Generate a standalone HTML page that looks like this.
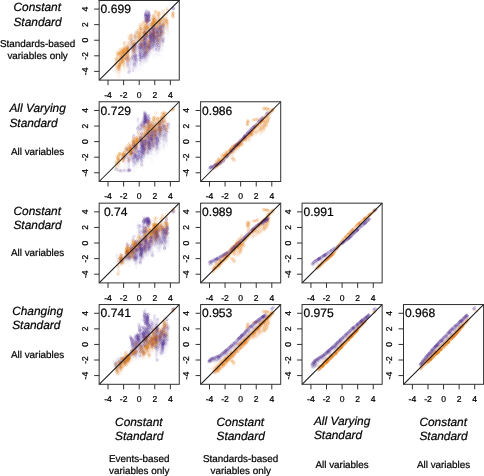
<!DOCTYPE html>
<html><head><meta charset="utf-8"><title>Scatter matrix</title>
<style>
html,body{margin:0;padding:0;background:#fff;}
body{width:484px;height:476px;overflow:hidden;}
svg{display:block;will-change:transform;}
text{font-family:"Liberation Sans",sans-serif;fill:#000;stroke:#000;stroke-width:0.22px;text-rendering:geometricPrecision;}
.t{font-size:8.6px;}
.c{font-size:12.1px;fill:#000;}
.i{font-size:11.9px;font-style:italic;}
.s{font-size:9.9px;}
</style></head><body>
<svg width="484" height="476" viewBox="0 0 484 476">
<rect width="484" height="476" fill="#fff"/>
<defs><marker id="o0" markerWidth="4" markerHeight="4" refX="2" refY="2" markerUnits="userSpaceOnUse"><circle cx="2" cy="2" r="1.08" fill="none" stroke="#E5841A" stroke-opacity="0.06" stroke-width="0.68"/></marker><marker id="o1" markerWidth="4" markerHeight="4" refX="2" refY="2" markerUnits="userSpaceOnUse"><circle cx="2" cy="2" r="1.08" fill="none" stroke="#E5841A" stroke-opacity="0.13" stroke-width="0.68"/></marker><marker id="o2" markerWidth="4" markerHeight="4" refX="2" refY="2" markerUnits="userSpaceOnUse"><circle cx="2" cy="2" r="1.08" fill="none" stroke="#E5841A" stroke-opacity="0.25" stroke-width="0.68"/></marker><marker id="o3" markerWidth="4" markerHeight="4" refX="2" refY="2" markerUnits="userSpaceOnUse"><circle cx="2" cy="2" r="1.08" fill="none" stroke="#E5841A" stroke-opacity="0.04" stroke-width="0.68"/></marker><marker id="o4" markerWidth="4" markerHeight="4" refX="2" refY="2" markerUnits="userSpaceOnUse"><circle cx="2" cy="2" r="1.08" fill="none" stroke="#E5841A" stroke-opacity="0.40" stroke-width="0.68"/></marker><marker id="o5" markerWidth="4" markerHeight="4" refX="2" refY="2" markerUnits="userSpaceOnUse"><circle cx="2" cy="2" r="1.08" fill="none" stroke="#E5841A" stroke-opacity="0.06" stroke-width="0.68"/></marker><marker id="o6" markerWidth="4" markerHeight="4" refX="2" refY="2" markerUnits="userSpaceOnUse"><circle cx="2" cy="2" r="1.08" fill="none" stroke="#E5841A" stroke-opacity="0.09" stroke-width="0.68"/></marker><marker id="o7" markerWidth="4" markerHeight="4" refX="2" refY="2" markerUnits="userSpaceOnUse"><circle cx="2" cy="2" r="1.08" fill="none" stroke="#E5841A" stroke-opacity="0.15" stroke-width="0.68"/></marker><marker id="p0" markerWidth="4" markerHeight="4" refX="2" refY="2" markerUnits="userSpaceOnUse"><circle cx="2" cy="2" r="1.08" fill="none" stroke="#6443A3" stroke-opacity="0.06" stroke-width="0.68"/></marker><marker id="p1" markerWidth="4" markerHeight="4" refX="2" refY="2" markerUnits="userSpaceOnUse"><circle cx="2" cy="2" r="1.08" fill="none" stroke="#6443A3" stroke-opacity="0.13" stroke-width="0.68"/></marker><marker id="p2" markerWidth="4" markerHeight="4" refX="2" refY="2" markerUnits="userSpaceOnUse"><circle cx="2" cy="2" r="1.08" fill="none" stroke="#6443A3" stroke-opacity="0.25" stroke-width="0.68"/></marker><marker id="p3" markerWidth="4" markerHeight="4" refX="2" refY="2" markerUnits="userSpaceOnUse"><circle cx="2" cy="2" r="1.08" fill="none" stroke="#6443A3" stroke-opacity="0.04" stroke-width="0.68"/></marker><marker id="p4" markerWidth="4" markerHeight="4" refX="2" refY="2" markerUnits="userSpaceOnUse"><circle cx="2" cy="2" r="1.08" fill="none" stroke="#6443A3" stroke-opacity="0.40" stroke-width="0.68"/></marker><marker id="p5" markerWidth="4" markerHeight="4" refX="2" refY="2" markerUnits="userSpaceOnUse"><circle cx="2" cy="2" r="1.08" fill="none" stroke="#6443A3" stroke-opacity="0.06" stroke-width="0.68"/></marker><marker id="p6" markerWidth="4" markerHeight="4" refX="2" refY="2" markerUnits="userSpaceOnUse"><circle cx="2" cy="2" r="1.08" fill="none" stroke="#6443A3" stroke-opacity="0.09" stroke-width="0.68"/></marker><marker id="p7" markerWidth="4" markerHeight="4" refX="2" refY="2" markerUnits="userSpaceOnUse"><circle cx="2" cy="2" r="1.08" fill="none" stroke="#6443A3" stroke-opacity="0.15" stroke-width="0.68"/></marker></defs>
<polyline points="154.9,23.5 160.4,28.8 143.9,47.1 126.4,56.7 161.9,36.9 163.8,23.6 155.3,26.7 152.4,29.2 120.6,64.4 134.6,49.7 126.1,61.3 123.5,59.0 164.8,29.3 133.5,49.1 146.3,57.7 145.8,35.5 117.7,66.5 134.1,54.1 119.9,73.3 166.3,20.4 123.5,60.0 137.1,39.6 126.3,60.5 120.1,59.3 148.7,20.2 149.7,50.4 158.1,26.4 120.6,56.9 163.3,16.3 125.9,55.9 153.0,37.0 126.5,59.6 148.1,38.1 123.8,58.9 127.9,58.2 151.9,40.7 133.2,46.8 142.8,44.2 129.7,44.0 124.2,61.3 160.5,40.1 119.8,60.7 137.4,40.3 147.7,36.7 152.0,31.9 139.2,44.3 131.7,48.7 140.1,31.5 154.3,42.2 138.3,39.7 153.5,33.2 120.7,65.4 123.4,60.6 130.2,42.2 142.1,39.8 155.3,21.9 126.8,53.4 139.3,49.7 119.9,67.7 145.8,58.8 163.1,15.6 151.5,26.7 159.4,43.1 127.6,54.7 144.1,41.2 152.5,35.5 147.5,30.3 158.5,45.8 115.5,67.5 141.9,34.1 155.2,20.1 133.7,41.2 118.6,66.5 167.0,30.7 124.1,71.2 121.3,62.4 123.3,58.6 155.1,20.2 146.2,41.7 140.0,46.2 154.0,25.6 118.1,76.7 128.6,62.7 122.2,62.6 120.3,57.9 133.5,58.3 152.9,27.5 147.5,36.3 134.4,46.4 153.4,35.3 146.6,54.4 154.1,27.1 152.0,37.1 167.2,27.5 127.0,71.4 127.6,60.3 157.5,31.4 127.8,52.0 144.0,43.4 150.8,34.2 134.0,49.9 154.2,25.5 123.4,60.4 122.2,58.9 124.6,56.4 126.1,59.7 155.6,21.5 153.7,28.7 167.6,33.5 143.8,30.9 143.4,34.6 120.7,58.3 116.6,72.9 163.0,19.1 145.6,41.1 115.6,68.4 146.6,29.5 162.7,18.1 123.0,62.0 127.7,54.3 125.6,47.8 137.1,42.1 166.8,14.8 121.9,53.0 127.1,51.5 142.9,39.6 118.7,65.9 137.7,41.3 160.2,47.2 158.4,27.6 120.2,70.6 160.3,27.7 153.2,34.0 127.6,62.8 127.8,52.8 116.1,70.1" fill="none" stroke="none" marker-start="url(#o3)" marker-mid="url(#o3)" marker-end="url(#o3)"/><polyline points="131.7,60.0 143.9,40.6 150.6,36.0 161.3,33.5 153.4,44.6 160.6,35.4 145.6,53.0 127.9,69.1 143.3,53.0 153.2,48.7 156.0,48.8 139.8,52.4 151.1,33.6 134.3,66.6 133.2,62.3 130.1,74.4 144.2,63.2 133.7,61.7 147.6,61.5 144.3,60.7 136.2,68.5 127.3,52.0 130.3,50.4 141.0,52.2 153.7,39.5 133.6,62.8 165.0,14.7 153.4,45.2 141.9,49.4 141.0,46.2 134.1,63.7 140.0,55.1 149.1,58.8 142.6,54.2 142.0,53.6 145.4,52.6 140.5,66.9 164.5,27.3 141.3,53.8 133.9,60.4 147.1,55.8 152.5,31.7 143.7,61.3 151.3,37.3 148.8,56.5 160.7,33.2 153.6,55.3 140.2,70.0 156.0,39.0 152.2,48.4 143.4,43.2 148.0,55.9 132.0,60.5 131.5,65.7 155.5,40.1 142.9,66.8 134.9,68.6 147.2,47.5 158.0,40.3 161.4,57.0 136.8,46.6 134.8,54.0 135.9,71.7 137.3,61.6 150.2,49.7 145.2,42.8 153.9,49.8 133.1,60.2 143.1,69.5 142.6,55.1 136.9,59.6 155.9,27.5 155.5,38.3 149.9,40.8 153.8,46.9 155.4,58.1 144.4,51.6 157.4,43.9 144.2,59.0 145.9,63.3 152.9,47.7 156.0,29.2 143.6,47.6 138.9,55.1 150.8,48.9 145.7,57.0 130.1,61.4 150.8,35.4 154.8,49.5 144.0,50.1 147.4,56.6 145.6,54.9 144.1,46.5" fill="none" stroke="none" marker-start="url(#p3)" marker-mid="url(#p3)" marker-end="url(#p3)"/><polyline points="145.1,40.5 131.0,42.0 144.7,38.2 119.9,70.8 147.4,25.5 154.5,25.0 166.6,27.1 116.2,65.7 139.5,43.6 154.1,25.3 148.4,46.2 133.6,45.0 127.3,65.2 140.7,45.5 152.7,33.7 148.6,46.0 121.4,59.4 120.5,55.5 120.2,69.9 118.3,71.7 118.8,62.2 139.0,39.9 153.7,24.4 153.3,33.9 123.8,56.1 133.8,48.7 143.0,48.4 154.0,35.1 145.9,34.4 146.9,48.6 146.5,29.0 122.3,64.8 142.2,44.0 162.1,23.9 128.4,56.9 138.0,36.4 152.4,33.1 162.6,18.4 119.2,68.1 147.9,39.0 123.2,57.7 147.5,25.0 159.7,27.2 144.0,42.9 125.4,55.0 147.5,30.7 152.7,29.5 155.5,26.4 125.9,54.5 160.2,39.1 154.1,39.6 128.2,48.9 145.7,39.5 139.8,28.3 125.1,53.4 162.6,19.5 125.9,53.2 124.4,46.7 140.5,35.7 122.4,57.8 144.4,36.3 158.8,18.2 155.4,18.3 163.7,20.9 142.3,36.8 137.6,38.8 128.5,53.6 133.9,48.7 167.6,28.5 163.8,37.0 155.5,22.5 158.3,30.0 116.4,68.4 128.2,60.9 151.9,38.7 115.6,66.8 166.9,15.6 167.0,16.9 154.8,38.9 159.2,18.9 138.4,35.9 132.8,53.2 119.6,74.8 127.1,54.3 153.4,39.0 164.2,26.1 147.7,49.0 147.7,37.9 117.9,71.4 154.8,25.6 119.4,68.7 146.5,28.5 121.9,61.6 119.7,66.6 124.2,68.8 122.9,57.7 118.5,71.9 159.7,36.1" fill="none" stroke="none" marker-start="url(#o5)" marker-mid="url(#o5)" marker-end="url(#o5)"/><polyline points="146.1,49.5 134.2,64.8 140.3,53.8 153.7,41.8 142.9,50.6 130.0,65.3 143.5,45.1 150.4,45.1 156.1,43.8 157.2,40.0 140.2,61.3 150.2,39.7 150.3,43.6 130.5,47.2 145.1,38.6 126.8,54.7 147.3,43.9 129.8,68.9 156.4,43.2 146.3,60.3 150.8,37.3 129.9,64.1 140.0,51.9 153.3,44.6 142.4,49.7 145.3,37.6 133.2,63.3 143.9,46.0 153.9,37.1 140.7,53.4 150.5,33.1 135.4,51.5 151.2,35.0 141.2,54.3 156.9,32.8 133.3,52.7 146.4,48.2 165.5,19.3 151.2,37.0 138.2,51.8 147.1,45.4 143.9,57.3 143.9,46.3 127.4,66.4 132.4,63.5 135.8,61.0 152.0,43.7 149.9,38.0 153.0,42.4 141.6,50.6 154.1,44.8 160.4,38.9 159.4,35.5 135.4,51.3 152.7,54.2 145.0,55.8 135.0,59.5 156.1,42.6 143.9,49.3 129.8,70.8 154.2,43.3 145.6,49.9 132.5,55.9 146.1,58.4 150.3,44.5 164.6,17.2" fill="none" stroke="none" marker-start="url(#p5)" marker-mid="url(#p5)" marker-end="url(#p5)"/><polyline points="155.2,34.5 155.6,36.2 157.7,30.4 161.4,33.6 158.0,42.0 155.3,40.5 162.0,28.0 160.2,36.6 158.4,28.3 157.7,32.8 158.1,39.7 163.3,31.4 157.7,41.2 157.5,37.1 156.2,39.8 156.3,38.0 156.9,30.0 156.2,35.5 157.7,28.6 155.0,37.3 157.6,28.5 157.9,34.5 157.2,32.3 156.9,19.5 163.4,22.9 161.3,33.4 162.8,31.3 158.5,26.7 160.0,28.3 157.1,32.9 157.7,41.7 154.2,32.5 158.5,37.9 154.4,39.8 162.9,24.9 157.0,25.8 163.1,39.8 159.1,32.3 160.8,26.9 159.4,28.4 157.3,33.5 158.2,36.0 162.1,29.5 157.5,25.7 158.4,35.3 157.5,34.1 156.0,49.7 156.8,22.0 163.4,28.4 162.3,26.8 154.9,32.5 155.5,41.4 155.5,43.6 159.9,24.2 154.1,33.6 162.3,45.2 161.9,26.7 161.6,31.4 155.2,29.0 161.2,29.6 159.9,32.4 159.4,32.9 156.9,43.4 153.9,25.1 156.9,28.2 157.6,32.8 160.4,22.2 154.0,36.5 162.1,35.0 159.0,18.8 160.8,29.7 154.6,31.2 158.2,27.3 158.7,27.2 155.5,33.8 154.8,28.7 161.9,39.3 168.7,29.9 161.0,31.9 156.8,30.2 154.5,23.3 163.2,24.8 158.7,23.7 168.6,23.7 163.3,26.7" fill="none" stroke="none" marker-start="url(#p0)" marker-mid="url(#p0)" marker-end="url(#p0)"/><polyline points="158.9,16.3 141.2,32.4 119.5,68.6 147.8,36.0 153.0,27.6 128.0,47.4 147.6,47.1 142.4,41.8 149.7,44.1 127.9,51.4 144.7,35.8 119.7,66.5 155.5,20.8 127.4,54.4 125.5,55.5 131.6,44.4 152.4,20.3 153.6,35.0 122.7,55.1 143.6,26.5 140.3,40.3 124.7,59.6 152.8,29.5 128.1,62.4 146.7,24.5 148.1,26.0 128.3,51.6 123.4,62.2 148.2,32.5 148.2,27.2 134.2,41.1 130.5,39.9 157.0,23.3 142.7,35.1 138.3,37.8 167.0,24.9 154.1,38.2 159.7,32.3 133.5,50.6 141.8,33.5 139.5,43.0 146.8,25.0 139.5,36.1 133.9,44.3 152.1,22.2 123.3,54.5 147.2,26.3 152.8,35.0 164.9,23.9 167.2,27.8 156.2,26.7 153.6,39.6 163.6,22.8 122.3,58.7 147.1,50.4 152.1,35.8 159.6,38.2 144.8,38.2 163.1,22.5 151.9,31.7 127.7,55.5 134.3,41.6 117.5,60.7 136.6,36.1 166.9,26.3 155.5,37.4 152.2,23.3 160.3,24.6 156.9,37.6 153.0,30.2 152.4,19.8 153.4,23.5 120.7,68.7 132.5,51.4 167.2,27.1 134.1,46.6" fill="none" stroke="none" marker-start="url(#o6)" marker-mid="url(#o6)" marker-end="url(#o6)"/><polyline points="152.4,35.0 134.5,51.4 146.8,44.5 141.2,47.6 145.1,42.3 139.2,48.6 146.9,41.4 160.6,29.4 149.5,40.6 139.4,50.6 163.6,33.6 156.6,38.1 154.1,38.0 149.7,54.0 142.1,44.6 141.7,49.3 140.1,52.1 151.7,37.5 145.6,50.2 150.1,42.6 160.9,32.1 161.9,29.5 142.4,63.1 157.1,35.2 160.1,38.8 143.6,54.5 152.5,41.0 152.8,38.5 146.6,39.9 153.6,42.8 158.2,36.7 135.4,50.0 134.0,63.1 154.1,41.9 161.0,31.6 153.9,39.4 144.0,58.3 153.8,35.5 153.4,39.3 155.2,34.3 152.7,36.7 144.6,43.4 145.8,44.1 145.1,47.5 138.4,51.4 152.4,37.0 129.2,67.3 145.5,48.9 140.4,50.9 143.5,46.2 143.8,58.2 136.1,63.7 141.5,53.1 136.1,41.9 145.1,52.0 149.9,48.7 134.2,51.6 158.8,50.2 154.3,39.1 156.0,44.1" fill="none" stroke="none" marker-start="url(#p6)" marker-mid="url(#p6)" marker-end="url(#p6)"/><polyline points="172.8,13.8 172.4,16.1 172.4,15.0 172.9,12.8 172.7,16.8" fill="none" stroke="none" marker-start="url(#o1)" marker-mid="url(#o1)" marker-end="url(#o1)"/><polyline points="148.0,17.9 147.5,22.5 148.3,16.8 147.6,14.7 148.4,11.9 149.2,15.7 148.1,21.0 149.7,15.2 145.2,20.7 148.5,18.3 149.0,16.9 149.3,13.5 147.1,15.2 145.8,17.7 145.7,19.3" fill="none" stroke="none" marker-start="url(#p1)" marker-mid="url(#p1)" marker-end="url(#p1)"/><polyline points="147.3,21.2 122.8,52.5 140.6,43.4 145.6,28.8 153.8,20.4 116.4,62.5 138.4,35.2 126.3,48.6 121.9,55.8 156.5,24.5 153.2,23.8 137.0,33.4 153.1,25.1 166.6,23.4 115.9,60.7 146.6,32.9 148.7,43.7 148.2,44.6 164.3,23.4 130.7,37.3 159.5,22.4 142.9,24.5 154.6,37.2 144.6,28.3 159.8,23.7 160.5,41.6 156.4,35.5 157.3,23.1 157.4,25.0 123.9,54.3 150.2,42.8 131.3,36.6 141.8,41.5 153.6,33.5 148.6,35.2 150.8,27.4 148.2,34.3 158.8,37.0 140.3,25.9 141.6,40.1 143.5,34.0 153.9,42.1 118.3,69.0 121.5,53.5 123.4,55.9 128.2,60.6 139.7,30.7 145.1,35.5 158.9,26.4 127.0,58.6 141.0,26.4 163.7,13.6 147.0,22.3 140.4,38.2 157.8,29.6 120.0,61.0 146.8,35.8 134.4,48.4 140.4,40.8 144.8,27.3 152.6,25.6 145.3,34.3 124.2,56.1 129.0,39.1 158.4,15.0 160.1,36.7 155.4,35.6 152.9,21.7 119.1,68.8 125.1,53.9 123.6,61.7 133.5,47.8 152.7,18.2 150.4,29.1 143.2,39.0 128.2,53.1 127.3,50.3 157.8,42.2" fill="none" stroke="none" marker-start="url(#o7)" marker-mid="url(#o7)" marker-end="url(#o7)"/><polyline points="163.7,38.8 135.8,57.9 147.5,50.1 153.7,33.5 154.5,30.8 156.5,47.1 145.7,44.0 156.5,41.0 144.1,45.2 152.2,31.8 132.2,58.7 149.8,36.0 143.6,39.3 146.3,49.1 135.9,58.9 154.1,37.6 145.4,36.7 149.8,52.1 161.5,27.2 143.9,44.6 144.8,33.7 153.8,37.3 128.3,51.6 148.1,48.3 143.9,55.0 157.2,33.0 151.8,31.4 145.0,42.2 133.3,66.1 142.4,47.6 160.1,28.8 135.0,51.6 135.0,60.1 153.9,39.3 131.5,47.5 144.9,32.5 159.4,43.9 153.4,39.2 141.1,45.4 155.6,32.2 144.2,42.4 141.3,54.8 133.7,49.8 145.1,49.0 139.9,53.5 132.9,50.6 134.4,48.3 156.4,45.4 143.0,44.4 151.5,39.9 150.0,47.3 137.2,50.6 140.7,47.0 135.1,52.5 149.7,45.0 144.0,56.8" fill="none" stroke="none" marker-start="url(#p7)" marker-mid="url(#p7)" marker-end="url(#p7)"/><polyline points="141.4,29.2 124.2,65.0 156.3,28.7 122.4,49.6 153.6,29.6 139.8,28.0 161.9,33.2 159.1,24.2 122.2,48.5 162.2,30.4 163.2,25.7 123.1,60.4 167.4,22.2 133.9,44.1 124.5,42.3 147.7,45.8 137.7,33.6 166.2,19.8 145.5,23.9 128.5,52.1 166.9,23.1 123.4,57.9 128.1,45.5 142.8,22.4 124.3,47.0 125.3,49.3 163.0,24.6 154.3,19.2 157.9,15.1 154.8,21.3 158.9,12.0 157.3,27.2 140.8,27.0 153.5,20.1 154.0,21.9 147.4,42.7 123.1,49.7 158.1,39.4 135.2,53.2 133.9,45.2 149.3,46.9 121.7,56.3 152.2,24.7 146.7,51.0 146.6,18.9 148.1,20.6 127.9,48.7 118.0,66.4 145.6,33.8 149.5,42.2 138.8,37.6 160.0,13.4 141.7,47.2 126.7,49.4 153.3,18.7 127.1,60.5 163.4,25.5 121.2,58.3 142.7,44.9 143.7,39.5 116.3,58.4 151.2,23.1 139.8,32.9 128.0,48.6 119.0,64.3 126.9,49.1 146.8,33.9 147.1,22.7 163.6,32.4 147.4,28.8 124.2,52.7 163.6,10.0 123.4,54.0 122.9,51.9 151.0,24.7 143.2,35.0 137.8,40.2 134.3,47.1 167.1,8.6 133.0,44.2 135.3,43.5 148.5,41.6 153.1,28.7 146.7,20.1 158.2,33.8 153.4,26.4 127.8,55.6 139.8,34.2 143.4,21.6 144.2,52.3 150.2,40.3 125.8,53.0 173.3,13.7 135.6,36.2 124.5,55.3 167.2,23.1 164.3,18.2 153.8,21.3 143.8,30.8 120.0,50.1 147.7,32.4 118.8,65.1 115.5,64.7 146.8,33.4 134.0,51.4 172.8,15.4 160.1,28.7 123.4,63.3 123.3,50.7 152.0,18.6 148.1,26.6" fill="none" stroke="none" marker-start="url(#o2)" marker-mid="url(#o2)" marker-end="url(#o2)"/><polyline points="159.2,45.7 150.0,36.1 154.4,38.2 149.3,15.1 152.8,34.6 152.6,29.7 144.4,37.0 145.5,15.7 161.9,26.4 147.8,20.7 160.2,29.3 154.4,35.9 160.1,34.4 173.5,8.0 143.5,37.1 159.1,50.3 139.7,54.4 139.2,47.0 146.1,37.0 157.1,32.5 150.6,33.6 136.7,55.4 145.7,17.0 145.8,34.4 164.4,28.3 159.2,41.0 149.1,15.2 149.5,19.6 143.5,57.4 153.1,35.4 157.3,39.0 148.6,16.9 157.0,42.4 144.1,55.6 135.9,46.1 145.5,52.6 147.6,18.7 149.3,45.5 142.9,41.1 132.9,48.9 145.1,46.8 150.2,40.9 152.1,44.4 153.2,34.1 145.5,44.6 146.7,18.8 135.3,55.1 149.0,20.4 132.0,38.3 140.0,56.5 144.0,38.4 134.2,44.3 151.1,37.3 146.3,14.3 142.0,55.7 145.3,44.0 149.4,27.5 146.3,10.6 156.2,37.0 148.3,46.4 149.2,17.9 158.9,47.4 147.3,17.6 148.7,20.0 173.4,8.5 132.6,56.6 145.0,42.3 142.0,57.5 163.0,40.5 147.8,47.2 132.8,70.9 146.3,35.4 140.7,44.1 141.3,41.0 146.7,52.4 152.0,33.9 145.8,20.8 141.3,57.6 147.2,15.9 131.5,40.2 152.5,41.6 132.3,44.2 143.2,55.5 144.2,38.7 144.8,32.6 138.9,45.5 143.8,43.5 143.8,36.4 142.9,46.0" fill="none" stroke="none" marker-start="url(#p2)" marker-mid="url(#p2)" marker-end="url(#p2)"/><polyline points="133.9,55.7 134.8,45.5 119.9,68.8 141.4,40.2 152.4,38.8 126.8,54.6 164.2,17.9 122.6,65.6 119.2,63.7 157.6,28.8 123.9,69.7 145.6,31.6 117.7,73.6 119.9,71.9 154.2,35.4 163.4,39.5 148.9,48.1 120.2,53.7 160.5,24.8 162.5,15.8 142.5,46.3 150.5,47.2 135.2,50.8 147.1,35.5 122.6,62.2 149.0,51.8 118.9,77.1 155.0,29.2 120.3,58.7 162.5,21.9 158.6,45.9 122.7,54.2 127.9,56.9 157.7,34.1 157.5,19.6 128.6,59.8 126.8,56.6 127.1,45.5 154.7,40.8 157.6,22.2 127.4,69.8 120.6,69.8 154.2,34.0 125.4,67.1 118.7,71.2 155.0,40.4 158.3,30.1 117.9,74.3 153.2,38.3 158.5,31.5 115.9,71.8 140.7,48.4 152.2,28.6 125.8,57.0 147.1,28.3 123.6,60.7 139.1,39.2 150.4,48.8 162.3,13.8 139.5,29.4 133.6,47.3 158.7,47.6 118.4,67.0 148.9,48.7 147.1,28.7 140.7,46.3 145.0,39.7 128.9,44.1 141.6,34.5 139.0,39.5 138.5,39.8 137.8,41.7 133.5,58.1 142.7,47.0 158.0,24.2 118.7,64.3 142.9,36.4 160.2,26.1 120.1,71.9 145.3,30.8 153.6,36.3 145.6,43.8 126.8,46.2 131.3,50.6 160.5,26.8 165.8,21.6 142.9,51.2 123.2,63.4 129.7,44.2 164.1,30.9 141.8,35.2 132.8,55.5 126.2,59.7 151.1,38.3 141.3,38.8 119.3,69.8 144.7,38.3 122.7,59.7 159.8,20.3 160.6,30.8 149.2,52.8 144.5,49.0 118.9,62.1 156.4,17.1 163.5,17.1 160.1,41.1 140.4,49.5 124.5,54.8 158.7,44.1 148.3,42.0 152.4,36.6 132.6,57.6 153.6,26.3 156.3,31.0 125.4,64.5 143.2,47.4 158.6,30.8 166.5,15.5 139.3,43.8 153.6,36.0 116.7,62.3 147.2,50.9 122.0,63.8 122.0,60.7 119.5,69.1 127.0,69.0 122.9,60.3 115.0,69.8 130.7,49.3 133.2,51.0 146.5,31.6 130.8,43.2 154.2,42.0 121.4,61.3 144.1,47.3 159.1,20.0" fill="none" stroke="none" marker-start="url(#o3)" marker-mid="url(#o3)" marker-end="url(#o3)"/><polyline points="136.0,36.6 144.0,50.1 154.2,46.3 141.0,57.6 149.5,40.7 145.0,56.4 141.8,52.6 150.9,38.2 153.5,44.0 141.4,53.1 150.3,53.0 152.4,35.2 159.9,32.3 160.7,35.9 151.2,43.1 156.2,31.6 151.1,47.2 150.3,45.1 145.1,51.7 133.5,56.9 144.8,50.5 140.2,49.0 144.7,43.9 136.0,35.6 145.3,54.5 136.8,68.0 144.4,41.6 142.8,49.3 145.7,51.5 147.6,60.4 150.3,43.1 148.1,46.8 151.1,33.4 152.3,41.2 146.2,57.6 160.9,34.9 140.6,52.0 149.8,43.8 144.4,62.0 130.0,59.3 164.1,29.6 147.6,54.7 140.4,64.1 159.1,45.4 130.2,62.7 158.8,54.9 150.4,37.8 144.4,53.1 132.2,58.6 141.6,47.4 147.4,45.1 147.5,48.0 135.1,57.9 151.8,47.5 150.3,55.9 157.4,37.6 156.0,47.1 139.4,66.1 143.8,47.3 147.0,49.8 153.6,31.4 150.3,54.7 143.2,50.8 139.8,69.0 155.9,39.2 138.4,54.7 155.0,44.0 151.1,48.7 139.0,57.1 152.2,45.5 150.4,41.8 148.1,57.7 154.8,48.4 149.2,51.6 135.5,69.0 158.1,43.9 145.7,59.7 141.4,55.8 150.9,30.7 144.3,50.9 148.5,54.0 153.8,42.9 144.1,59.8 160.6,36.7 157.4,39.3 127.3,67.9 147.0,61.3 133.5,61.3 144.3,39.6 150.8,40.5 143.9,46.1 150.5,49.1 152.4,36.8" fill="none" stroke="none" marker-start="url(#p3)" marker-mid="url(#p3)" marker-end="url(#p3)"/><polyline points="128.3,50.9 127.5,55.5 123.1,56.7 160.3,26.4 142.6,28.6 164.3,28.0 129.1,42.3 126.0,53.7 130.5,41.8 118.9,67.9 165.7,15.2 144.1,29.4 146.8,49.7 124.1,56.7 142.1,49.6 117.4,59.0 161.3,34.6 125.7,54.9 123.4,58.5 122.8,56.7 144.4,46.1 154.0,32.4 117.9,62.3 167.2,28.7 127.6,56.6 159.8,24.9 121.2,54.7 121.0,56.1 145.1,28.4 144.1,37.7 140.4,34.4 133.9,53.6 153.6,20.0 153.4,22.2 116.0,70.5 158.3,28.4 127.8,52.0 142.1,33.1 124.1,53.3 134.2,42.3 131.7,54.1 119.5,59.9 162.5,18.9 158.7,42.3 157.4,28.0 135.4,48.0 123.1,58.3 121.5,59.8 126.6,56.0 125.2,61.9 156.6,20.6 163.0,20.0 137.9,44.8 144.4,37.9 126.9,67.7 151.3,30.7 133.7,51.9 141.5,36.7 121.6,64.9 140.7,29.1 127.2,51.9 146.3,32.8 127.0,53.0 160.9,23.5 139.5,38.7 139.7,42.4 124.1,64.2 154.9,38.2 135.2,48.7 158.8,44.6 151.3,33.1 117.1,60.2 127.0,52.4 123.7,58.1 142.3,38.0 134.4,43.3 150.4,33.7 157.5,32.3 148.8,22.8 123.7,47.7 152.8,31.1 140.7,45.4 152.9,39.0 142.9,37.6 160.6,25.2 155.2,18.8 146.0,37.5 143.8,39.6 132.0,54.4 147.5,34.1 134.2,45.9 145.5,54.8 147.4,29.3 120.2,58.0 151.8,27.7 127.6,58.4 128.3,48.0 145.3,30.1" fill="none" stroke="none" marker-start="url(#o5)" marker-mid="url(#o5)" marker-end="url(#o5)"/><polyline points="144.4,48.7 133.1,58.7 142.4,50.9 137.0,66.5 148.4,49.2 140.7,48.5 135.6,61.5 159.6,34.5 136.2,38.8 150.8,34.0 134.2,59.7 149.9,38.6 155.9,35.7 141.8,51.9 152.4,35.0 144.2,43.6 162.2,51.1 144.9,48.0 164.5,32.8 144.9,51.9 147.0,47.1 144.8,40.6 159.2,40.7 142.1,64.9 153.4,40.7 143.8,61.0 145.7,53.2 144.0,43.3 144.7,47.3 145.8,52.8 143.8,44.1 157.7,39.6 151.8,36.9 152.1,38.0 159.7,41.1 147.1,52.7 154.5,36.7 155.6,54.1 153.9,35.7 150.8,35.5 128.3,55.8 162.2,31.9 135.9,38.8 148.1,56.4 134.4,64.0 131.4,57.0 147.1,42.4 157.4,36.1 138.7,53.0 133.0,54.8 147.7,53.7 148.1,44.0 154.3,43.6 136.5,43.1 144.4,49.3 142.5,48.6 141.9,47.1 156.4,51.6 147.8,50.2 142.0,51.3 142.2,51.4 128.5,57.8 131.6,45.3 154.2,41.4 139.8,50.9 150.7,38.1 136.0,61.6" fill="none" stroke="none" marker-start="url(#p5)" marker-mid="url(#p5)" marker-end="url(#p5)"/><polyline points="155.8,38.1 154.7,32.6 159.9,41.0 161.3,37.6 160.7,39.9 157.3,32.8 160.6,32.1 155.0,31.4 162.7,21.0 163.6,24.0 155.0,25.6 158.1,35.3 160.9,33.8 160.6,23.2 157.0,27.9 159.0,33.1 157.7,33.9 159.4,29.4 161.5,44.6 156.7,51.4 168.0,27.4 156.0,20.9 162.3,23.0 159.4,30.8 156.8,37.6 159.5,30.0 159.9,28.8 154.4,31.1 157.3,33.3 161.7,37.8 154.1,27.1 160.4,35.1 155.2,22.3 160.0,26.8 159.3,29.2 168.6,36.6 163.4,25.4 160.8,43.5 158.3,29.0 160.5,28.0 155.2,29.5 162.9,22.3 160.1,35.8 159.7,30.3 161.9,36.0 159.0,33.5 157.7,39.7 162.7,29.1 156.1,48.4 168.4,32.3 161.4,40.7 156.8,35.9 159.8,32.2 157.8,26.7 155.7,37.3 161.4,29.3 154.3,27.9 160.8,29.7 168.4,34.3 162.0,37.8 163.0,26.8 161.5,36.7 154.7,25.2 155.5,38.6 157.4,37.8 160.5,32.0 158.1,36.0 156.4,39.9 159.4,36.0 158.4,36.4 163.4,32.2 155.0,26.1 154.3,39.6 163.1,31.5 159.3,30.4 161.5,32.9 161.9,35.8 161.1,30.4 156.6,43.0 158.2,16.3 157.6,30.7 159.8,33.6 157.3,31.0 162.4,27.1 154.1,35.5" fill="none" stroke="none" marker-start="url(#p0)" marker-mid="url(#p0)" marker-end="url(#p0)"/><polyline points="157.3,25.4 141.1,39.3 153.7,30.4 132.7,50.4 147.5,23.3 117.6,70.0 152.1,29.1 115.6,68.8 137.9,36.1 138.7,43.6 118.8,66.6 121.2,62.0 142.0,34.8 159.0,21.7 145.6,31.5 143.2,39.3 139.1,33.7 158.1,40.0 151.8,28.0 158.6,23.6 125.9,51.6 127.6,50.9 115.9,64.4 127.2,55.3 142.6,43.4 134.5,47.0 119.8,61.9 127.3,49.3 123.4,56.8 159.5,17.3 157.7,17.7 154.3,35.9 121.4,64.0 121.0,54.1 147.8,35.9 135.0,49.6 163.0,16.5 150.2,31.2 152.5,26.0 154.3,31.3 144.9,27.1 125.0,45.1 146.8,23.6 164.1,24.2 124.0,67.1 151.6,29.5 119.6,57.3 159.4,33.5 150.0,44.2 145.3,28.9 119.7,55.3 152.6,33.1 162.1,26.6 152.8,19.5 146.5,31.1 127.5,57.0 125.3,56.6 121.7,60.0 147.1,37.8 142.5,47.6 147.2,51.7 145.8,54.0 121.3,57.2 135.2,46.4 143.2,50.5 159.1,17.1 145.6,37.8 163.1,15.8 123.1,55.2 155.4,17.0 125.1,44.7 124.4,52.9 117.0,55.7 166.2,15.1 120.6,59.8 145.1,34.4" fill="none" stroke="none" marker-start="url(#o6)" marker-mid="url(#o6)" marker-end="url(#o6)"/><polyline points="146.1,47.9 144.4,44.8 134.3,53.9 143.9,41.8 136.4,52.7 145.7,55.7 144.8,47.9 148.8,48.2 150.1,39.7 151.1,39.7 162.5,29.6 143.0,52.4 152.1,42.1 128.0,53.6 140.8,58.9 160.1,31.0 131.6,51.7 130.6,64.9 134.0,49.0 153.5,42.1 145.5,47.1 150.6,36.3 126.7,59.2 136.0,59.6 148.3,51.8 143.3,52.5 144.2,49.5 142.8,49.6 144.3,46.2 164.5,21.4 133.0,52.7 150.1,30.6 147.8,52.7 144.8,38.9 150.3,42.4 149.6,45.6 162.3,30.9 147.1,42.6 149.7,36.8 139.9,55.8 155.1,33.6 163.4,35.4 154.0,38.2 152.7,41.0 132.5,60.5 132.3,53.6 127.0,62.9 151.7,32.5 150.4,41.5 145.0,45.7 141.7,53.8 133.3,64.1 139.9,49.4 146.6,41.2 161.6,48.9 141.7,45.7 143.5,40.7 150.2,46.3 150.3,35.2 134.9,41.1" fill="none" stroke="none" marker-start="url(#p6)" marker-mid="url(#p6)" marker-end="url(#p6)"/><polyline points="148.4,15.0 144.9,21.9 145.6,15.2 147.0,19.9 147.2,20.8 146.1,20.5 149.0,16.8 149.4,20.1 146.2,17.7 145.1,16.4 147.5,19.4 148.5,14.8 146.8,14.8 149.6,21.2 148.3,12.3 146.1,13.0" fill="none" stroke="none" marker-start="url(#p1)" marker-mid="url(#p1)" marker-end="url(#p1)"/><polyline points="144.6,43.1 155.3,19.8 121.9,53.8 155.3,14.9 125.2,51.2 154.5,37.5 138.3,36.7 145.2,24.9 167.6,26.0 154.5,28.1 120.9,55.2 123.2,51.4 121.1,52.2 129.9,38.6 155.5,13.6 131.9,46.7 153.0,30.3 135.2,37.9 145.0,29.3 134.3,45.9 132.7,48.3 124.1,44.0 125.8,57.2 167.4,11.8 120.4,51.7 135.3,36.5 122.6,60.0 162.5,28.2 148.9,28.8 152.5,26.5 128.1,50.5 154.3,29.3 120.5,60.7 131.5,42.3 143.0,25.1 138.1,41.4 158.9,15.9 127.0,50.0 126.9,52.0 121.8,57.5 147.0,24.5 139.9,34.6 116.0,66.6 152.5,17.4 139.5,37.1 123.5,52.6 152.2,28.1 155.2,23.2 147.9,30.7 117.7,58.5 149.3,41.6 116.6,61.6 133.8,43.4 129.1,56.6 153.0,36.1 124.4,57.8 125.6,51.0 141.4,31.9 147.1,29.6 158.5,25.0 121.9,58.3 149.9,44.2 149.9,48.7 162.7,24.1 127.6,50.0 157.5,16.5 124.3,58.3 132.1,47.9 122.1,53.7 145.9,29.4 118.5,55.8 143.8,51.2 160.3,21.1 128.1,57.5 139.7,35.6 141.2,30.3 147.5,27.2 124.3,53.0" fill="none" stroke="none" marker-start="url(#o7)" marker-mid="url(#o7)" marker-end="url(#o7)"/><polyline points="130.1,62.8 129.7,69.9 149.0,46.9 157.3,41.1 150.3,33.9 149.9,29.2 131.1,49.0 149.5,38.4 139.0,47.6 141.4,56.1 145.5,46.7 146.2,37.7 139.9,57.8 133.9,58.8 139.9,48.9 144.4,36.1 164.2,24.2 150.6,41.3 151.7,38.9 148.3,50.8 127.4,62.1 135.4,57.1 159.9,38.8 152.7,39.3 144.0,56.3 135.9,43.5 153.7,35.5 156.7,39.9 147.4,38.4 136.4,62.2 156.9,31.7 146.9,39.7 154.2,40.2 145.9,41.9 152.9,37.3 152.4,32.8 126.9,61.7 140.9,47.9 131.9,41.7 154.7,29.6 154.7,41.7 150.6,39.1 149.5,36.8 146.3,48.8 164.1,37.9 153.4,35.7 159.6,46.2 152.1,31.4 136.5,63.0 161.9,29.2 144.3,49.6 152.9,30.1 144.1,37.2 146.5,37.4 129.0,67.8 145.2,54.8" fill="none" stroke="none" marker-start="url(#p7)" marker-mid="url(#p7)" marker-end="url(#p7)"/><polyline points="154.1,31.7 123.1,51.4 154.0,19.0 119.9,53.6 149.2,40.0 128.8,44.6 158.8,20.5 153.6,38.1 117.8,53.4 147.0,27.7 115.8,63.2 160.7,38.5 125.4,54.7 147.2,28.9 144.4,40.8 154.4,23.8 141.6,45.2 148.6,30.3 151.8,26.4 122.3,56.2 143.1,44.9 160.3,21.6 138.6,32.3 139.1,33.0 129.2,38.3 130.5,35.2 160.6,19.3 167.3,20.8 159.0,13.1 145.5,25.7 119.7,65.9 148.5,28.5 124.3,59.1 154.6,35.8 146.7,27.8 140.5,24.2 127.3,48.0 155.2,18.3 122.0,58.0 127.7,50.9 124.2,43.3 147.1,44.5 139.3,29.6 127.1,47.3 149.0,45.9 157.8,40.0 157.8,35.7 152.8,34.0 155.8,32.3 134.8,45.2 128.7,36.4 152.0,24.1 115.9,58.7 144.2,33.5 158.4,22.4 118.4,68.7 156.4,12.1 119.0,52.0 141.5,41.9 155.4,23.0 117.4,55.8 137.7,30.9 144.6,32.7 119.2,65.2 121.6,61.7 154.2,19.1 143.5,32.7 124.7,53.0 125.1,48.8 128.1,59.7 149.6,40.8 131.6,34.6 143.0,27.8 154.5,34.5 128.4,56.6 116.6,59.7 146.6,51.7 133.7,49.2 152.5,33.0 125.3,59.7 120.0,62.7 148.8,40.6 120.1,49.2 155.6,11.1 148.3,31.6 146.9,48.4 124.1,54.2 132.8,46.4 134.7,44.7 142.1,29.9 160.0,27.5 166.7,21.4 120.8,53.6 120.1,57.6 128.2,55.0 154.9,11.8 150.2,24.6 173.1,12.2 160.2,34.9 148.4,32.6 153.7,21.7 172.7,14.5 145.2,33.8 131.2,36.6 133.3,43.4 134.6,36.4 160.5,20.4 137.1,30.4 140.6,28.5 150.4,26.8 144.7,31.5" fill="none" stroke="none" marker-start="url(#o2)" marker-mid="url(#o2)" marker-end="url(#o2)"/><polyline points="136.5,60.6 153.7,33.3 150.5,37.9 154.6,30.2 148.4,42.7 145.8,16.4 139.8,59.3 142.0,42.1 150.6,34.4 126.9,57.9 153.3,33.8 155.6,28.1 128.7,49.7 129.2,71.7 149.0,17.5 149.8,36.2 135.8,32.4 135.6,57.9 159.3,47.3 131.1,46.3 140.5,49.6 146.2,20.6 149.8,24.7 153.2,30.1 146.2,47.6 145.3,14.7 146.5,15.0 154.2,45.8 146.6,53.3 152.2,28.2 156.9,32.2 140.6,51.9 145.5,31.1 144.7,40.4 143.5,47.3 148.7,15.1 148.8,46.8 154.5,36.8 157.7,28.6 161.2,31.9 152.2,35.2 156.0,47.6 150.4,30.4 144.1,54.1 127.8,47.3 146.9,44.2 145.0,43.0 146.6,47.1 149.9,48.2 154.8,28.7 134.8,50.0 149.9,31.0 140.7,43.0 160.2,26.0 148.9,16.4 152.1,47.0 145.4,13.1 163.1,42.3 149.2,50.4 140.6,46.4 173.3,8.1 140.3,54.7 145.5,52.5 147.2,16.5 149.3,30.0 164.3,25.7 134.2,45.7 147.8,20.6 157.7,31.0 135.9,56.7 152.4,45.8 173.3,9.1 153.5,28.8 132.8,47.7 152.8,27.9 151.9,39.3 140.0,52.6 144.1,34.4 149.7,33.0 161.8,26.0 129.7,60.5 140.2,60.9 134.9,46.3 146.6,22.2 154.0,44.0 134.5,64.5 145.5,15.0 153.3,36.1 129.5,58.8" fill="none" stroke="none" marker-start="url(#p2)" marker-mid="url(#p2)" marker-end="url(#p2)"/><polyline points="137.4,40.6 152.5,29.5 142.2,47.3 150.3,49.4 141.9,36.3 150.8,34.6 146.9,54.3 145.0,38.6 131.9,56.4 124.0,66.0 150.9,40.7 156.8,41.8 166.9,30.0 149.4,37.6 141.2,47.1 152.9,31.2 139.1,47.2 159.6,37.3 126.4,56.0 143.1,38.2 138.2,48.4 147.9,34.4 120.3,54.5 127.4,46.8 153.4,34.5 157.1,15.2 153.4,23.0 160.2,28.9 146.8,50.9 127.3,55.6 158.4,21.0 147.9,40.3 123.0,67.4 141.8,33.5 124.4,69.9 140.8,32.5 116.7,72.3 147.6,35.5 167.9,32.2 151.2,35.7 146.2,32.4 149.9,46.5 158.4,45.3 134.7,40.6 137.8,38.7 152.0,30.0 124.3,60.1 154.9,24.1 144.5,31.6 118.4,75.3 120.4,70.8 157.6,36.1 155.8,24.7 125.9,52.3 128.8,54.5 121.2,63.8 167.5,29.8 152.6,36.5 135.6,44.9 127.8,57.7 154.3,26.9 146.6,39.9 126.0,51.0 139.2,52.0 147.4,52.6 165.9,11.9 144.5,40.6 138.5,51.1 126.9,61.9 143.5,51.1 167.5,31.4 124.4,48.5 145.3,35.9 128.1,54.9 127.3,52.1 144.6,39.5 143.8,29.7 148.3,39.3 121.4,64.8 153.6,28.3 147.9,42.3 166.1,10.0 154.0,25.9 121.6,62.6 152.5,40.4 122.8,61.1 129.0,61.5 156.5,33.3 153.9,41.5 147.6,50.5 165.4,22.8 138.8,38.6 134.3,45.1 144.0,32.4 150.2,35.6 145.2,42.6 144.4,45.8 148.2,32.3 132.3,55.7 162.4,12.6 154.6,32.8 141.3,41.6 129.5,45.3 147.4,28.7 160.2,22.0 144.6,30.2 153.2,23.9 154.1,34.0 138.8,40.8 125.9,58.1 158.0,31.9 119.6,76.7 161.1,48.0 140.7,30.3 123.6,62.8 146.3,27.9 163.7,18.0 132.8,54.9 142.8,45.4 134.7,44.3 149.1,21.7 164.2,22.4 141.5,38.0 151.3,24.8 128.2,64.0 145.8,36.8 120.5,61.2 132.3,59.3 121.3,68.4 130.5,43.0 153.7,27.7 154.3,35.1 146.3,35.5 154.1,40.1 116.6,63.3 121.6,62.5 159.3,19.8" fill="none" stroke="none" marker-start="url(#o3)" marker-mid="url(#o3)" marker-end="url(#o3)"/><polyline points="149.2,51.9 144.4,48.5 135.5,63.9 152.0,41.8 166.3,12.9 142.0,49.6 162.4,34.7 133.5,57.6 161.8,54.6 139.8,59.8 146.3,60.6 153.7,34.9 150.8,42.6 136.4,63.0 135.3,67.2 163.9,28.2 151.9,46.5 152.4,43.2 152.3,36.9 149.9,47.5 153.2,46.4 146.5,52.0 149.7,42.3 145.8,61.6 134.5,54.9 150.5,41.0 142.1,50.5 129.5,61.8 140.5,62.2 147.5,49.9 156.3,40.1 146.5,55.0 150.5,48.5 145.7,60.6 146.1,59.0 136.3,63.2 157.1,41.5 131.3,48.3 144.9,41.4 150.8,45.7 153.2,46.0 150.5,39.1 146.3,50.1 132.7,59.9 134.5,64.7 159.9,43.7 161.1,35.5 146.4,54.0 156.2,45.7 131.8,64.6 136.6,49.6 129.8,72.4 153.8,47.8 158.5,56.4 141.2,48.4 144.7,51.3 161.1,34.6 135.3,56.2 136.2,64.9 127.0,50.8 151.4,44.8 152.5,29.6 139.3,53.8 144.7,42.0 161.7,33.2 135.1,53.6 138.4,53.5 150.4,47.1 147.4,46.0 154.1,50.8 155.0,42.1 146.8,51.2 133.9,61.6 159.9,30.6 144.0,51.5 161.6,36.5 157.6,41.5 153.2,39.5 153.8,32.8 139.8,56.7 152.1,45.3 153.7,49.7 150.3,46.2 150.4,42.7 136.7,71.0 143.8,48.9 154.0,40.8 145.9,52.6 155.8,55.8 151.0,47.4 157.2,42.6 128.2,59.7 153.4,57.4" fill="none" stroke="none" marker-start="url(#p3)" marker-mid="url(#p3)" marker-end="url(#p3)"/><polyline points="157.8,20.1 152.7,32.7 135.2,48.8 158.8,18.2 161.3,44.9 147.0,52.2 119.5,72.7 118.9,58.0 122.5,58.0 143.1,40.4 157.7,26.8 153.3,25.7 152.5,26.7 119.7,67.5 158.8,42.3 116.1,66.2 139.1,46.4 120.3,57.0 146.0,39.3 161.6,15.2 118.7,61.9 144.0,27.3 151.0,23.5 118.7,69.4 121.6,61.0 146.8,27.2 167.1,30.1 141.8,45.2 119.7,64.5 133.3,53.0 153.9,37.2 149.1,35.0 120.5,55.5 149.9,49.8 125.9,57.8 121.4,60.9 159.8,34.6 135.3,40.7 149.9,47.1 124.3,57.5 138.7,38.2 126.4,56.6 155.0,17.8 129.5,40.7 152.5,25.1 134.9,42.0 165.2,14.1 147.2,33.3 140.7,38.5 147.7,34.4 146.2,55.7 145.3,30.1 146.9,30.3 146.3,53.2 144.6,47.2 123.1,63.7 159.9,22.8 145.4,33.3 155.9,29.1 147.5,50.3 137.4,37.0 146.9,27.1 156.8,39.6 138.6,47.5 151.5,32.6 152.0,37.3 154.2,24.4 130.4,47.0 139.3,37.3 163.6,20.0 163.2,18.7 127.8,60.3 156.7,22.6 118.3,74.2 158.4,24.6 147.8,37.1 122.3,56.0 124.7,63.1 152.3,29.0 141.2,33.4 127.3,47.2 160.1,40.5 153.6,26.4 138.4,37.1 153.0,32.7 134.2,43.5 122.1,62.0 131.7,40.2 143.6,48.9 120.6,66.2 149.9,44.6 166.3,18.3 131.6,46.4 127.2,53.0 121.4,59.2 153.7,22.9 143.2,32.0 151.7,31.5" fill="none" stroke="none" marker-start="url(#o5)" marker-mid="url(#o5)" marker-end="url(#o5)"/><polyline points="151.9,40.1 160.7,32.8 161.1,33.0 157.2,38.3 146.2,50.5 149.8,45.7 145.1,39.8 150.9,38.2 141.1,50.1 148.8,55.3 139.7,64.1 154.8,34.8 152.4,39.8 151.6,38.5 146.6,57.2 149.1,43.8 150.6,44.8 149.3,51.5 152.7,38.2 162.6,32.5 164.2,31.5 140.5,63.0 153.6,42.2 139.5,54.4 156.9,33.9 139.7,58.0 161.2,32.4 143.9,60.8 150.0,45.0 145.0,46.1 151.4,43.1 151.7,44.3 132.0,61.7 152.9,33.8 158.6,51.4 137.4,65.2 144.4,48.1 146.2,45.7 126.7,56.4 136.9,55.4 144.0,55.6 153.6,44.3 134.9,65.8 142.0,49.8 134.5,58.4 154.4,39.2 132.5,56.4 157.5,37.4 140.7,51.2 147.2,58.3 144.7,49.4 158.5,54.0 135.4,60.1 156.2,36.3 147.9,54.5 150.3,43.8 140.1,64.6 153.7,45.2 157.7,38.1 152.2,32.9 153.6,45.3 137.2,57.6 146.6,51.8 139.2,51.0 150.4,43.3 149.6,49.6 127.1,64.9" fill="none" stroke="none" marker-start="url(#p5)" marker-mid="url(#p5)" marker-end="url(#p5)"/><polyline points="167.4,25.0 161.6,39.4 156.5,33.2 160.5,23.6 160.9,34.7 159.2,37.0 154.8,43.1 156.1,50.5 160.6,35.5 154.2,45.2 162.5,36.2 156.4,45.5 163.0,33.8 160.3,32.9 157.1,24.0 154.5,33.0 157.6,31.6 157.7,25.1 161.0,37.9 156.1,31.0 161.0,30.0 159.4,34.9 161.7,35.0 156.1,46.1 163.0,27.3 157.0,39.3 159.7,38.0 161.5,31.4 162.4,41.2 160.4,31.6 159.7,30.0 159.3,28.2 160.2,39.3 159.4,21.4 155.0,27.0 155.1,41.8 163.0,44.1 160.0,37.8 159.8,34.2 161.1,33.2 160.3,27.7 162.7,32.4 157.2,30.0 154.9,29.2 157.7,36.2 159.6,31.1 155.6,40.2 162.9,30.1 157.7,38.2 157.5,39.8 160.7,24.4 157.7,29.9 156.5,36.2 162.9,42.0 161.0,31.4 160.7,39.4 157.4,24.2 158.2,36.5 163.4,41.8 162.0,30.5 157.9,34.0 160.9,30.3 161.4,21.0 154.1,44.4 163.0,33.2 155.4,34.4 160.1,31.6 160.5,24.5 163.3,27.9 160.2,27.6 158.5,29.2 159.8,34.5 158.8,32.7 159.3,40.7 160.9,26.4 157.5,35.5 155.0,30.8 163.1,18.7 158.9,27.7 161.9,35.6 163.9,29.8 163.0,34.1 159.5,35.2 161.3,32.1 156.9,53.3 160.6,41.4" fill="none" stroke="none" marker-start="url(#p0)" marker-mid="url(#p0)" marker-end="url(#p0)"/><polyline points="147.2,47.8 149.5,49.5 121.5,58.1 160.6,43.5 124.4,50.9 133.2,52.0 157.5,30.6 135.7,39.0 146.6,35.9 144.2,43.8 122.7,56.7 147.4,31.6 153.6,24.3 122.9,60.2 146.1,31.4 154.2,22.4 147.2,47.8 122.9,57.6 148.7,38.0 144.7,25.9 158.2,39.2 123.4,54.4 158.4,43.1 149.1,31.5 149.2,44.9 118.1,60.3 127.9,51.3 120.4,64.9 123.5,60.8 138.3,43.7 124.5,56.1 131.9,50.1 121.5,56.2 129.8,39.4 162.8,21.5 118.6,71.6 129.0,42.0 120.3,54.0 158.3,27.2 125.8,55.6 140.2,32.4 162.8,20.4 147.8,46.8 119.2,64.3 163.4,19.9 139.6,27.4 127.6,64.2 137.8,34.2 118.5,69.2 147.8,32.4 133.3,45.4 128.6,58.2 167.0,18.3 119.2,67.1 115.8,63.8 152.8,28.4 154.9,24.7 122.3,61.3 149.7,44.2 160.6,24.7 117.2,57.6 146.4,32.0 143.7,28.9 155.2,15.7 165.6,17.2 125.5,52.8 141.2,44.1 122.9,53.8 155.0,35.6 153.0,22.8 118.9,58.0 161.7,33.8 152.7,37.2 140.0,40.7 163.7,35.8 116.1,63.4 131.4,38.5" fill="none" stroke="none" marker-start="url(#o6)" marker-mid="url(#o6)" marker-end="url(#o6)"/><polyline points="135.1,62.9 134.2,61.5 157.6,34.1 157.4,36.2 151.4,41.9 143.9,44.0 143.8,59.0 130.0,42.8 133.1,54.1 147.6,50.7 140.8,47.8 151.8,40.9 130.0,66.6 151.0,42.5 136.4,59.4 138.9,49.7 153.8,41.7 146.6,56.9 131.5,50.0 152.6,32.4 157.0,36.5 145.2,57.3 146.9,40.4 132.1,56.0 140.0,54.8 150.1,36.5 152.6,51.5 145.2,50.7 144.2,46.9 153.8,41.1 143.5,53.7 151.8,33.9 150.2,36.3 144.1,45.8 160.5,43.0 156.0,49.8 156.6,41.7 157.6,36.1 140.5,60.6 148.3,46.2 135.2,58.4 134.5,60.9 155.7,33.6 127.4,57.7 154.0,40.3 135.5,41.1 140.0,59.0 144.0,49.1 145.8,58.3 141.2,47.6 142.9,53.7 134.8,55.6 147.2,41.7 145.8,37.7 134.0,56.3 140.9,49.2 145.0,35.9 152.7,36.8 150.5,41.6 159.8,36.6" fill="none" stroke="none" marker-start="url(#p6)" marker-mid="url(#p6)" marker-end="url(#p6)"/><polyline points="146.4,19.9 148.4,11.4 147.4,15.9 149.0,12.9 147.3,22.9 146.3,11.6 148.1,17.3 146.4,18.7 146.7,21.9 149.2,20.0 146.5,25.4 148.1,18.2 148.8,20.6 147.5,25.0 146.9,16.5 145.9,14.2" fill="none" stroke="none" marker-start="url(#p1)" marker-mid="url(#p1)" marker-end="url(#p1)"/><polyline points="123.2,53.0 128.2,51.9 126.6,53.8 128.4,45.6 167.5,19.2 153.6,22.3 138.3,41.4 151.7,20.8 160.0,30.2 128.3,50.6 119.1,62.3 139.2,32.4 145.4,35.4 146.8,21.6 120.2,65.7 142.0,46.5 120.0,64.4 117.6,69.4 125.0,50.6 137.3,32.6 152.1,26.7 143.9,27.3 166.8,13.5 153.7,21.9 160.6,22.6 134.0,47.8 128.4,61.0 119.6,54.0 135.3,46.2 121.4,59.9 133.1,50.3 148.2,34.0 141.5,32.1 124.0,49.1 153.3,22.3 127.2,49.3 135.0,52.2 163.9,22.5 164.5,33.8 147.8,45.3 143.9,34.3 153.8,20.3 119.9,63.8 122.4,59.6 157.1,26.1 167.0,25.2 152.3,34.6 157.7,37.6 146.0,53.2 127.7,50.2 154.7,13.4 147.0,49.2 159.0,14.8 165.4,18.8 123.9,66.4 164.5,21.6 143.3,37.5 156.6,24.5 138.9,33.8 121.4,56.6 128.1,58.2 127.0,50.4 166.7,23.4 162.6,17.6 141.9,31.4 151.9,25.2 141.2,43.8 161.7,31.6 131.5,43.7 159.8,23.1 140.9,30.0 120.3,52.5 145.8,36.9 144.7,32.4 119.5,66.8 162.5,23.7 155.2,33.5 119.6,55.4 117.8,54.7" fill="none" stroke="none" marker-start="url(#o7)" marker-mid="url(#o7)" marker-end="url(#o7)"/><polyline points="151.7,37.0 148.8,49.1 144.1,40.2 158.0,40.4 146.8,38.5 146.6,54.6 140.5,57.4 150.2,35.2 150.5,37.3 144.5,40.4 134.7,59.6 139.4,48.5 146.6,55.3 141.4,44.0 157.9,35.7 152.4,50.0 144.1,53.2 150.4,33.6 146.1,54.8 158.2,34.6 140.2,56.0 150.2,32.0 152.1,38.8 134.4,63.9 150.3,38.6 145.7,45.5 154.6,39.1 145.9,43.3 152.0,44.3 144.6,40.4 149.9,39.0 160.4,35.9 159.7,29.6 133.7,51.7 153.9,41.3 141.9,47.0 143.9,51.1 134.8,47.3 148.1,46.1 152.1,39.4 162.4,45.8 138.8,46.6 158.7,48.8 152.1,43.8 141.6,60.4 139.5,47.4 160.7,27.6 157.0,32.8 133.8,49.1 149.5,44.4 144.3,51.3 135.1,38.0 155.4,32.2 154.1,42.5 147.9,45.3 141.1,44.8 139.9,56.4" fill="none" stroke="none" marker-start="url(#p7)" marker-mid="url(#p7)" marker-end="url(#p7)"/><polyline points="152.4,23.1 163.7,25.0 166.6,20.7 126.1,46.3 122.0,50.8 127.4,48.1 153.3,15.6 152.7,43.2 128.5,47.9 125.6,49.3 131.9,41.3 161.8,19.6 124.2,50.6 159.1,22.7 152.7,22.4 173.2,16.5 140.0,38.4 146.4,33.8 148.3,26.6 124.6,51.2 119.1,53.0 125.7,58.5 144.4,32.4 157.8,12.9 133.4,49.8 140.2,36.2 127.8,50.3 160.9,29.1 124.9,47.6 145.7,22.6 145.5,27.2 164.9,20.2 147.5,47.5 161.7,19.5 156.1,33.0 133.9,41.7 131.3,44.4 152.6,22.6 134.1,39.8 119.6,64.7 140.5,36.2 147.4,20.6 156.7,27.0 141.9,39.2 156.6,22.3 118.7,54.5 121.1,62.9 123.3,62.5 137.7,38.2 140.6,35.7 131.9,35.4 154.3,26.0 154.3,19.4 143.4,24.6 127.6,42.4 159.0,14.4 165.5,21.6 140.7,28.6 123.8,49.3 123.4,50.1 119.0,58.5 152.0,25.1 173.5,17.4 160.3,20.7 167.3,10.2 147.7,43.6 131.7,40.6 138.4,35.5 121.4,52.1 141.6,40.8 145.5,27.3 135.0,37.5 121.3,52.4 163.7,13.0 145.8,27.8 154.6,17.5 118.3,67.0 154.7,31.8 117.1,51.7 173.3,13.5 118.7,67.0 159.3,21.4 153.4,16.5 135.5,33.8 117.5,53.9 166.2,20.0 120.4,63.3 122.5,61.3 156.3,22.8 162.2,24.9 125.8,51.8 128.8,59.0 152.5,24.1 151.8,32.2 159.2,18.7 156.9,20.0 139.9,24.8 160.2,33.6 118.0,67.0 156.5,20.7 147.4,17.8 152.9,15.5 119.0,60.0 118.4,53.2 143.6,33.0 124.6,51.8 146.0,25.9 146.8,34.4 117.0,60.9 121.4,51.5 141.2,37.8" fill="none" stroke="none" marker-start="url(#o2)" marker-mid="url(#o2)" marker-end="url(#o2)"/><polyline points="153.2,34.6 157.6,31.6 157.2,44.6 144.1,53.4 137.1,48.7 157.7,44.0 139.7,44.7 141.2,44.7 146.1,21.2 131.8,57.9 150.4,34.5 150.9,35.3 146.3,32.9 135.5,44.4 145.6,45.5 146.2,12.3 150.1,32.3 147.8,15.8 145.6,18.7 134.4,56.3 141.9,44.4 133.8,46.9 147.0,35.5 153.3,29.4 146.0,40.4 126.4,58.9 140.3,47.6 154.9,26.3 150.9,38.3 152.4,46.3 162.7,39.3 147.3,18.1 127.7,65.5 139.2,43.8 148.4,18.1 148.9,12.3 150.4,37.4 144.8,18.4 148.8,13.2 146.4,16.5 146.4,19.6 149.5,48.2 137.0,59.5 140.6,40.3 154.0,31.2 150.0,42.5 156.8,45.2 127.6,64.0 147.7,21.5 135.8,48.0 133.0,68.4 159.6,43.0 141.1,46.9 153.6,32.5 135.1,66.1 147.1,35.3 157.3,30.0 146.2,44.1 144.6,33.1 141.7,57.8 161.0,25.7 143.6,38.4 154.7,37.9 145.5,39.1 144.7,55.4 135.8,55.3 156.7,49.4 140.8,43.9 144.6,29.9 150.1,35.8 143.0,48.6 145.3,14.5 149.6,48.5 134.0,57.3 143.5,43.3 147.7,36.6 151.4,41.4 135.4,55.4 153.3,32.0 148.4,14.2 153.9,32.9 128.5,72.5 136.8,45.6 135.0,35.2 160.3,27.6 163.1,41.1 152.5,48.1 154.4,36.3 143.9,43.0" fill="none" stroke="none" marker-start="url(#p2)" marker-mid="url(#p2)" marker-end="url(#p2)"/>
<polyline points="133.6,155.2 159.4,133.7 131.0,156.4 149.0,127.1 148.3,131.5 118.1,159.8 159.7,129.3 125.6,154.9 154.1,135.9 140.5,131.9 137.1,145.8 135.1,139.7 136.1,150.5 149.1,141.3 146.0,137.4 134.1,151.9 154.4,141.3 117.8,168.1 119.4,167.5 122.5,159.1 139.1,137.2 152.2,134.6 149.7,127.3 145.5,130.7 144.9,139.5 161.7,135.5 145.3,136.5 116.1,171.8 155.3,127.8 123.9,161.2 159.7,132.4 144.2,134.9 128.0,153.0 124.4,159.4 136.1,143.5 127.9,153.5 138.6,144.9 148.0,138.2 150.3,132.7 138.7,145.3 148.9,127.0 149.8,142.2 139.9,131.0 160.1,122.1 128.7,153.1 152.9,130.4 139.4,146.0 130.1,158.2 153.0,132.6 130.8,153.4 130.3,148.6 146.6,138.3 146.2,132.4 130.1,152.4 163.8,121.7 162.7,128.1 145.7,139.9 132.7,153.5 157.1,135.8 137.6,144.0 123.3,155.9 137.4,143.6 151.8,136.0 123.5,160.0 133.8,150.4 164.2,126.1 135.3,152.6 133.6,144.3 166.6,123.0 130.0,144.7 137.8,147.6 160.0,126.8 152.9,131.8 164.0,120.1 120.1,160.8 129.8,142.3 142.8,134.3 135.2,137.3 161.3,121.2 167.0,123.0 145.7,141.4 116.8,165.2 151.6,135.2 136.8,148.1 158.9,130.6 116.9,168.7 155.2,130.6 165.3,122.3 137.1,149.2 133.8,145.4 159.7,125.7 148.3,138.4 131.1,153.2 158.0,119.4 132.6,144.7 119.5,162.0 150.5,137.1 135.8,151.3 164.8,128.9 116.8,170.8 137.0,147.9 122.5,157.9 148.7,128.7 157.9,125.0" fill="none" stroke="none" marker-start="url(#o3)" marker-mid="url(#o3)" marker-end="url(#o3)"/><polyline points="143.7,155.2 142.1,153.1 142.6,136.3 133.4,166.3 128.0,162.5 144.6,157.8 142.5,154.1 156.7,149.1 148.1,157.1 145.9,151.3 140.7,159.1 142.8,150.4 155.9,136.8 150.6,129.5 148.5,141.9 160.0,142.8 142.2,150.0 140.8,156.8 136.7,150.3 142.3,152.0 144.1,154.2 149.6,129.3 161.7,132.0 151.5,148.7 151.3,141.6 152.9,146.0 139.0,157.2 137.8,130.0 149.6,132.3 141.7,162.7 131.9,160.2 161.8,135.4 156.2,139.4 140.1,124.5 169.2,132.5 149.1,141.6 147.8,148.4 155.9,150.9 146.1,157.0 141.7,148.8 136.1,163.8 163.4,139.3 153.6,139.3 138.0,158.7 159.5,141.6 153.0,137.8 166.5,143.1 152.0,146.4 134.0,155.9 162.5,138.5 134.1,169.5 140.2,147.9 137.2,167.0 162.9,136.7 141.1,165.7 148.1,154.5 156.3,148.8 140.0,123.2 156.0,151.1 153.8,154.1 158.2,134.8 133.9,158.2 150.2,146.1 127.6,167.7 130.4,152.8 131.3,157.5 152.0,143.0 134.0,158.3 136.2,157.2 144.7,160.6 148.7,140.2 141.5,163.5 133.2,165.3 145.2,155.7 138.3,127.6 148.7,143.3 139.6,158.3 143.6,158.8 143.5,153.4 150.9,151.3 144.3,153.7 163.3,140.5 161.6,133.9 144.8,130.3 137.0,151.8 142.2,154.5 128.3,158.1 135.3,149.2 142.9,140.1 150.2,148.2 128.3,160.7 136.1,162.9 130.3,150.9 139.9,162.4 150.6,131.6 137.6,134.5" fill="none" stroke="none" marker-start="url(#p3)" marker-mid="url(#p3)" marker-end="url(#p3)"/><polyline points="156.7,134.8 145.7,137.4 165.2,118.3 135.0,147.8 166.5,128.9 148.8,129.0 119.8,158.5 148.8,125.9 148.6,132.7 145.7,137.6 147.6,135.5 133.1,144.6 152.8,127.0 143.4,141.2 162.0,131.3 145.8,136.6 144.8,132.3 119.2,165.2 135.2,149.3 162.9,123.9 135.7,150.1 151.9,129.4 143.3,143.7 131.4,150.7 143.1,131.9 155.3,136.5 128.4,152.7 143.7,130.6 119.1,165.9 164.1,119.5 160.0,130.4 159.1,129.4 151.1,131.2 124.5,158.4 123.6,160.8 129.4,152.5 144.5,138.2 154.9,138.1 133.6,145.2 164.7,118.8 145.5,138.8 119.1,164.0 120.9,153.4 135.0,150.6 155.1,137.3 122.8,156.6 160.4,121.3 134.7,145.7 161.8,133.4 133.5,145.1 145.4,139.8 159.1,125.8 133.6,142.3 131.0,157.6 133.0,151.8 153.1,124.9 160.3,132.6 130.4,146.8 146.7,135.7 140.1,141.7 129.7,145.6 138.9,135.5 136.0,147.8 160.4,124.2 137.4,142.0 118.8,164.2 134.1,149.8 128.6,152.5 150.1,130.2 147.7,137.3 120.2,158.8 158.4,121.2 144.3,140.3 140.2,134.1 153.6,128.2 153.7,131.8" fill="none" stroke="none" marker-start="url(#o5)" marker-mid="url(#o5)" marker-end="url(#o5)"/><polyline points="147.8,142.7 151.6,144.3 151.3,148.8 153.2,138.2 151.2,145.4 147.5,141.2 151.2,132.3 156.8,126.7 152.0,143.7 153.1,149.3 148.4,142.9 153.7,144.9 147.8,145.2 152.8,139.7 150.7,138.8 153.5,141.5 151.5,140.9 148.5,138.7 145.6,142.0 152.9,140.2 144.3,147.7 156.6,136.0 147.3,144.4 152.3,142.4 145.8,147.0 146.2,147.0 146.0,148.4 152.0,146.0 146.8,137.5 151.8,143.2 157.6,132.8 145.1,153.5 145.2,143.1 153.3,141.9 152.8,141.3 153.4,141.8 151.2,134.9 152.2,138.4 146.3,140.5 152.5,135.8 159.0,133.0 145.0,149.9" fill="none" stroke="none" marker-start="url(#o0)" marker-mid="url(#o0)" marker-end="url(#o0)"/><polyline points="138.1,133.5 148.8,150.8 156.3,147.3 137.2,157.4 134.2,163.1 156.3,134.6 163.0,128.8 142.4,150.9 153.5,140.0 139.8,144.5 132.7,157.4 130.2,154.1 161.3,133.1 142.1,151.7 156.1,132.6 136.0,160.8 145.0,147.7 135.6,162.4 160.6,138.3 158.0,153.4 143.4,142.5 127.4,165.4 155.7,135.6 144.6,155.7 140.0,154.3 135.0,146.0 143.2,152.3 137.3,164.9 143.5,148.4 148.0,138.7 151.9,138.7 140.0,126.1 148.4,152.1 141.3,146.4 144.6,146.1 142.9,145.3 156.5,149.7 140.8,162.1 133.6,167.1 144.1,152.8 137.1,155.7 144.0,155.2 153.1,143.1 139.8,158.9 141.2,154.5 132.7,164.6 155.6,145.8 144.9,154.8 149.1,134.6 151.6,134.2 149.8,143.6 158.5,131.5 155.4,144.1 162.4,128.2 168.7,129.1 128.0,163.5 160.0,138.9 133.5,152.6 149.6,152.6 145.5,142.7 150.1,144.8 148.5,146.8 155.5,139.9 141.1,156.5 148.1,143.4 142.4,145.8 141.8,152.1 145.6,135.3 155.6,136.8" fill="none" stroke="none" marker-start="url(#p5)" marker-mid="url(#p5)" marker-end="url(#p5)"/><polyline points="159.7,130.6 128.9,170.3 166.0,137.6 117.0,169.5 119.9,170.2 154.8,146.5 129.6,169.3 157.9,145.9 158.9,136.6 159.7,128.5 163.7,133.5 165.6,129.5 155.8,133.9 165.0,139.4 160.1,149.4 165.6,132.5 131.0,170.6 155.3,143.3 155.6,138.2 158.2,136.4 157.0,138.0 161.0,134.8 155.5,142.7 158.4,147.5 160.4,129.9 156.8,129.5 160.6,136.0 157.9,144.6 163.7,136.2 158.3,140.8 164.1,143.7 164.1,121.5 157.9,127.9 116.3,168.6 163.3,139.5 164.6,123.2 158.7,134.9 160.1,130.2 117.1,169.6 122.1,170.6 156.4,134.1 159.4,141.9 157.0,131.0 166.3,132.4 165.0,138.2 127.6,170.0 158.8,142.1 158.3,146.1 157.3,128.1 165.5,137.8 165.9,129.3 159.7,138.9 115.1,169.8 160.2,139.1 128.6,170.9 165.9,137.1 164.7,128.1 125.1,170.8 159.0,137.1 155.7,136.2 166.4,136.9 164.8,130.6 164.9,127.0 158.2,133.2 157.1,138.1 157.3,146.7 159.9,146.3 124.6,170.2 163.2,131.9 166.2,139.2 128.7,170.3 164.3,127.5 163.5,124.5 162.9,123.4 160.2,148.1 156.9,130.7 119.9,171.3 161.3,134.8 158.6,134.6 164.9,122.8 121.4,172.1 165.2,134.1 159.3,131.4 155.2,141.7 163.9,131.0 158.7,149.2 165.3,134.0" fill="none" stroke="none" marker-start="url(#p0)" marker-mid="url(#p0)" marker-end="url(#p0)"/><polyline points="123.5,158.5 145.7,134.8 146.0,136.5 116.3,164.8 149.8,128.7 155.4,128.7 135.7,144.9 122.7,158.9 128.2,151.2 129.1,146.7 153.7,122.7 157.6,130.0 139.6,140.3 130.9,150.6 126.0,151.1 120.8,156.2 161.2,120.0 149.4,129.7 142.8,139.5 163.0,123.1 129.9,155.2 145.0,142.0 133.9,146.2 143.8,130.2 145.7,143.3 128.3,157.4 166.6,126.2 154.8,130.0 138.0,142.0 133.5,148.2 132.6,140.7 148.0,133.5 157.9,132.9 151.0,128.1 129.9,146.9 147.7,135.1 130.8,155.1 154.7,135.9 136.3,145.7 136.7,143.8 165.5,117.1 119.8,157.5 120.7,156.2 150.3,128.4 162.3,116.1 134.6,141.4 164.6,117.5 133.4,142.4 123.8,157.5 155.0,118.3 135.4,150.3 164.0,117.2 137.4,144.0 125.1,155.5 119.7,162.4 125.7,151.4 132.8,143.9" fill="none" stroke="none" marker-start="url(#o6)" marker-mid="url(#o6)" marker-end="url(#o6)"/><polyline points="137.7,154.3 134.7,141.3 134.6,150.7 124.7,161.1 142.7,126.3 143.9,152.1 152.0,137.6 167.1,136.0 148.4,132.9 148.4,141.5 127.2,154.0 148.8,148.6 133.5,164.4 136.7,151.0 151.6,142.6 154.7,141.3 164.5,132.8 141.6,160.6 144.1,153.0 144.6,125.8 139.6,126.8 145.7,147.9 142.9,149.0 138.0,155.4 154.9,138.8 154.0,136.2 153.2,142.0 144.5,154.0 151.2,153.9 137.9,129.9 136.4,152.3 149.7,144.3 127.1,161.6 157.4,146.6 135.3,159.3 149.5,147.0 161.4,124.8 151.8,134.3 132.3,157.4 151.2,142.8 140.6,144.6 142.8,146.7 151.1,132.0 141.3,151.2 133.8,156.6 163.4,126.3 140.9,141.8 139.8,144.0 136.7,162.5 157.0,148.3 134.4,150.2 154.3,137.1 144.1,150.5 154.9,138.5 169.0,128.0 143.5,150.2 141.0,149.4 150.8,144.1 147.9,136.2 148.4,148.9 138.6,154.7 152.0,139.4 156.7,132.1 143.7,151.7 156.2,132.7 142.3,158.7" fill="none" stroke="none" marker-start="url(#p6)" marker-mid="url(#p6)" marker-end="url(#p6)"/><polyline points="148.5,122.1 146.7,117.2 148.0,122.0 145.2,114.2 146.0,114.9 146.1,118.8 146.9,120.1 144.4,121.3 148.1,123.9 146.0,116.8 144.1,121.2 145.8,115.6 149.3,119.8 145.0,118.7 144.9,119.8 144.5,117.7" fill="none" stroke="none" marker-start="url(#p1)" marker-mid="url(#p1)" marker-end="url(#p1)"/><polyline points="166.8,124.2 150.7,126.8 119.3,160.6 118.1,157.3 152.1,124.5 144.0,127.2 155.2,133.0 153.4,135.4 120.1,154.9 149.0,137.1 146.1,134.6 130.1,151.8 161.3,130.8 132.6,139.3 147.8,132.7 150.1,127.7 130.6,149.2 160.1,128.8 123.7,156.5 133.3,142.5 118.0,160.8 140.8,138.0 163.8,118.9 149.8,134.6 158.0,123.6 147.9,129.5 158.1,131.4 130.9,151.7 116.6,164.8 153.6,118.8 165.6,115.2 150.4,125.5 149.3,128.0 132.7,141.6 147.9,132.8 122.7,155.1 137.3,142.7 157.0,130.1 149.1,128.1 135.8,141.7 161.0,119.8 145.6,130.4 135.9,146.4 131.3,148.5 143.9,125.7 134.1,151.4 145.4,144.3 139.6,139.6 154.3,131.8 124.5,156.3 166.3,126.0 155.6,115.6 152.0,130.9 125.2,154.4 149.0,127.8 146.5,131.7 161.4,114.9 162.0,119.5 130.8,152.4" fill="none" stroke="none" marker-start="url(#o7)" marker-mid="url(#o7)" marker-end="url(#o7)"/><polyline points="142.2,144.1 143.3,149.1 164.4,127.5 134.2,140.4 155.5,132.5 148.8,147.3 157.1,147.1 141.7,136.6 155.5,131.4 156.1,142.3 149.2,140.5 159.3,124.0 166.5,134.6 136.2,148.8 141.3,144.8 142.5,145.9 148.7,131.1 151.9,132.8 139.1,152.5 142.2,125.5 132.3,156.1 145.0,137.9 151.3,150.7 135.1,154.4 148.7,139.0 144.8,151.3 151.1,140.8 153.0,134.7 157.0,129.5 142.0,123.9 150.2,137.1 140.8,149.9 132.1,156.1 152.1,135.9 150.8,137.2 142.7,146.0 156.8,137.8 137.7,121.0 168.3,125.5 154.9,136.5 145.4,139.6 151.1,141.6 150.0,140.9 133.3,160.2 168.5,125.9 155.9,141.2 131.6,148.9 152.5,131.4 143.8,148.9 134.8,149.5 149.0,139.0 153.0,146.1 143.1,144.3 151.0,136.3 141.5,148.0 140.5,158.0 140.8,142.1 141.5,140.0" fill="none" stroke="none" marker-start="url(#p7)" marker-mid="url(#p7)" marker-end="url(#p7)"/><polyline points="135.6,145.0 151.5,122.5 123.3,154.2 160.2,127.4 159.6,121.5 153.4,130.3 119.3,160.2 130.2,150.6 154.6,131.7 163.1,114.4 154.5,136.4 131.8,152.9 133.1,151.3 133.5,144.7 147.6,131.0 149.4,135.2 160.3,123.0 133.7,138.7 162.3,121.8 164.1,114.4 117.4,162.3 163.8,115.9 139.4,133.6 131.4,149.8 130.0,154.1 134.7,144.1 129.7,147.0 137.3,139.2 133.9,141.3 118.9,159.3 157.6,119.0 130.5,148.8 116.6,156.0 156.2,123.1 153.2,126.6 135.3,144.3 132.6,141.1 163.9,113.0 151.3,128.0 119.6,153.8 139.3,138.9 161.9,129.5 128.0,149.6 173.4,108.8 123.5,154.6 173.2,108.2 140.1,137.3 123.2,160.4 153.5,126.1 148.2,123.2 136.1,138.2 132.7,145.3 150.0,128.3 162.8,116.3 130.2,150.2 145.9,126.6 117.8,158.5 143.5,132.4 162.4,112.8 119.1,153.9 166.2,113.5 153.9,124.9 145.2,125.2 150.4,125.8 124.8,152.5 133.9,143.6 125.5,149.5 136.6,145.4 159.6,122.5 144.9,135.1 146.9,129.6 150.4,125.2 144.1,135.7 137.0,142.8 159.2,123.7 122.3,154.2 131.3,149.5 159.5,129.8 147.0,128.6 145.1,139.6 153.0,137.8 158.0,126.3 133.6,145.2 142.7,136.1 124.4,152.3" fill="none" stroke="none" marker-start="url(#o2)" marker-mid="url(#o2)" marker-end="url(#o2)"/><polyline points="140.8,137.0 141.6,153.8 168.2,124.1 140.8,125.6 145.3,148.1 157.1,144.9 134.6,155.6 148.0,118.1 154.6,132.9 149.0,144.5 142.1,139.5 168.7,123.8 129.3,170.2 134.9,164.0 149.5,132.9 144.9,116.0 148.8,115.3 143.7,120.7 145.2,119.8 164.1,126.1 152.4,135.2 128.6,170.8 135.5,145.7 144.8,114.9 143.7,148.8 150.0,149.4 152.7,132.5 129.4,160.2 141.5,143.1 136.5,144.3 144.9,149.4 139.2,152.3 163.0,125.3 145.8,118.0 143.1,154.0 140.9,124.3 158.9,126.0 124.8,156.2 136.6,146.0 151.2,145.1 163.0,121.1 145.0,120.6 148.4,125.2 151.8,136.3 133.1,158.1 145.0,122.6 145.4,117.7 147.9,116.7 147.6,133.3 164.3,125.6 131.7,152.5 157.6,140.4 160.4,128.0 145.4,112.9 154.9,135.0 144.7,113.2 148.1,122.8 145.2,148.9 140.5,157.2 142.3,145.7 145.7,119.9 134.6,156.8 144.5,111.9 131.1,145.2 148.8,142.4 151.0,134.7 141.2,140.9 143.1,152.1 144.7,146.8 144.7,139.9 138.5,126.4 147.2,152.4 138.1,150.4 154.5,135.1 148.6,118.6 143.6,145.8 154.1,146.4 145.4,118.9 137.4,157.7 159.3,123.0 146.0,118.5 146.4,141.3 126.8,157.5 142.2,123.6 159.9,130.5 146.2,144.1 145.6,119.6 137.7,151.3 146.2,143.8 157.4,139.9 146.2,121.2 147.5,121.8" fill="none" stroke="none" marker-start="url(#p2)" marker-mid="url(#p2)" marker-end="url(#p2)"/><polyline points="123.7,162.5 163.9,122.2 143.0,144.0 136.2,153.3 140.0,143.7 158.3,125.9 152.0,120.4 147.8,139.9 159.7,122.6 123.2,154.7 138.4,147.0 150.9,132.9 130.1,154.8 155.9,141.8 130.5,157.6 135.0,144.2 150.7,132.5 163.1,126.3 143.1,143.8 157.8,137.3 152.4,138.8 161.4,134.6 159.7,133.7 150.1,140.3 117.5,170.3 144.9,143.4 164.6,120.0 123.6,159.4 130.7,147.1 130.3,143.9 159.9,118.7 151.9,136.5 160.3,132.5 167.1,132.2 154.5,139.0 154.2,126.4 116.7,167.6 118.4,160.7 148.0,139.5 137.1,147.2 149.4,131.6 133.9,147.4 133.2,146.3 127.4,156.7 165.2,121.3 125.4,156.1 132.5,143.2 165.4,120.0 146.1,139.3 124.0,161.4 124.0,161.9 166.9,122.3 119.5,162.7 150.8,133.7 136.9,142.5 145.1,137.9 125.6,157.3 161.8,133.8 134.4,146.8 119.4,168.5 125.7,154.9 128.2,154.7 134.1,151.3 141.9,142.0 145.5,130.9 130.3,154.5 152.3,131.8 155.6,123.1 157.7,136.9 149.0,132.1 130.8,156.3 137.1,144.3 117.4,168.0 116.4,166.6 145.0,129.0 154.1,133.7 136.6,145.7 144.0,134.0 154.8,126.3 160.2,135.1 123.7,161.1 145.8,139.2 164.7,121.6 136.1,152.5 145.9,139.2 159.6,135.5 118.7,161.9 152.5,131.1 163.7,121.6 156.1,131.5 156.0,133.7 155.0,129.0 137.6,147.4 160.8,122.2 134.0,152.5 120.9,151.5 154.5,139.9 136.9,142.9 144.2,140.4 158.2,118.2 160.6,135.7 159.2,124.8 149.7,124.3 124.4,157.5 130.1,146.3" fill="none" stroke="none" marker-start="url(#o3)" marker-mid="url(#o3)" marker-end="url(#o3)"/><polyline points="145.2,149.2 143.6,138.2 132.2,163.2 135.1,146.8 137.3,161.1 142.7,164.8 156.9,152.1 135.5,156.6 127.8,160.3 162.6,133.4 141.0,130.0 148.5,153.9 148.1,142.9 142.0,155.7 156.2,131.3 143.5,152.3 142.0,133.8 163.5,130.7 143.7,155.7 154.3,142.1 151.3,152.2 148.3,146.6 144.3,157.2 138.7,161.1 160.6,130.7 148.9,154.9 152.6,140.0 148.3,154.5 153.0,136.9 135.7,162.3 144.8,134.0 148.6,143.5 124.7,165.4 145.2,156.5 158.5,133.8 149.7,145.5 142.3,154.4 151.0,150.5 159.4,130.0 143.7,155.6 143.0,154.0 145.9,133.5 138.1,161.8 137.9,163.4 150.7,147.8 135.5,151.3 156.0,150.2 157.1,157.2 156.3,129.5 161.3,135.5 135.0,147.4 137.3,168.9 134.0,171.1 137.4,160.3 143.1,138.6 143.6,155.5 169.6,131.5 148.8,153.5 152.8,144.6 133.4,167.9 145.4,148.2 142.8,153.2 150.5,146.7 137.4,150.5 153.9,141.1 148.7,140.6 159.9,141.2 138.3,162.7 152.1,160.9 148.0,156.6 159.9,131.9 143.2,151.9 139.3,149.2 141.4,147.1 148.2,144.3 141.9,129.3 140.0,146.9 157.8,151.2 133.4,162.2 157.4,130.0 125.0,164.6 152.8,147.8 148.6,155.2 146.0,149.3 142.8,167.6 166.9,146.1 156.1,130.0 150.9,148.9 134.6,155.2 137.1,159.3 137.8,133.7 137.8,135.4 143.3,142.1 156.2,146.9 142.1,155.4 135.9,160.6" fill="none" stroke="none" marker-start="url(#p3)" marker-mid="url(#p3)" marker-end="url(#p3)"/><polyline points="134.6,147.5 137.3,145.9 157.4,135.5 160.4,126.8 159.1,127.4 129.1,151.0 150.1,130.6 149.1,129.0 118.5,160.9 164.4,123.5 167.3,124.1 116.5,168.7 136.9,145.1 155.5,138.1 123.4,158.7 135.6,152.5 158.9,119.5 147.2,135.7 162.4,129.8 165.1,118.4 156.6,133.5 166.5,126.0 131.7,149.8 155.6,120.5 144.2,132.1 158.5,123.9 163.1,125.4 144.6,141.4 133.4,144.3 155.4,125.2 137.7,142.6 136.8,144.1 166.8,124.5 164.2,120.1 161.7,123.7 129.6,151.3 151.1,131.2 139.5,142.4 141.1,135.3 151.2,134.2 126.4,153.4 134.8,145.3 152.5,132.6 117.0,166.5 149.8,129.8 152.3,132.8 155.0,140.4 123.5,159.3 156.1,129.1 149.8,127.7 150.5,135.1 152.5,128.2 142.2,143.2 134.1,149.1 128.8,156.5 131.3,151.8 117.1,164.8 149.5,139.0 154.1,131.2 130.4,148.0 163.4,119.1 134.5,140.7 151.3,130.5 124.9,150.8 152.7,131.9 131.4,152.9 122.4,157.3 121.8,151.9 138.2,143.3 163.5,125.1 152.8,130.5 156.2,130.9 136.6,140.5 153.9,122.8 147.8,136.8 124.1,157.2" fill="none" stroke="none" marker-start="url(#o5)" marker-mid="url(#o5)" marker-end="url(#o5)"/><polyline points="152.3,143.9 146.8,144.4 144.9,152.0 146.0,138.9 145.9,141.6 151.5,144.3 153.5,146.1 148.5,143.7 146.9,149.5 147.5,143.3 147.6,142.8 159.8,135.4 154.0,138.5 145.2,151.2 145.3,152.5 144.5,149.8 156.6,134.8 153.8,148.3 147.6,140.1 152.3,147.7 148.5,148.4 154.3,145.4 146.8,144.0 146.5,142.2 154.0,143.6 150.5,139.0 147.5,143.4 157.3,133.5 152.4,144.6 157.4,128.7 147.0,146.8 159.1,130.8 151.8,141.1 152.9,145.5 147.3,146.0 147.5,150.2 159.0,127.6 151.0,133.3 154.2,143.2 148.0,147.0 152.8,138.2 147.4,140.7 159.6,124.7" fill="none" stroke="none" marker-start="url(#o0)" marker-mid="url(#o0)" marker-end="url(#o0)"/><polyline points="153.7,141.1 156.2,134.1 136.2,152.9 133.5,165.4 124.4,163.0 137.1,157.1 159.0,128.9 142.4,154.5 142.1,145.0 142.2,150.0 136.2,160.2 151.3,137.5 139.9,153.5 132.0,155.0 139.9,145.5 151.0,144.8 138.1,161.0 152.3,141.4 168.4,130.6 156.3,145.6 158.9,128.8 166.6,139.8 137.5,131.8 135.0,143.8 138.0,159.0 142.5,132.4 146.0,147.3 143.1,156.8 135.3,152.2 150.1,145.5 159.6,139.4 145.4,130.1 156.3,148.2 151.7,139.3 144.1,156.9 167.1,141.2 145.7,127.2 130.2,155.5 143.1,149.7 163.1,136.6 159.0,131.3 128.7,158.3 148.7,141.8 142.4,148.2 142.4,151.4 132.1,158.4 141.2,151.1 138.4,157.9 141.3,128.0 148.5,142.9 162.5,130.1 138.2,125.5 141.5,152.8 136.2,155.4 137.4,153.6 141.5,155.9 151.4,158.1 141.8,161.1 145.5,143.6 147.6,150.8 149.4,135.3 147.9,141.4 146.1,136.8 156.9,145.9 147.7,139.9 142.8,127.9 148.7,141.2 155.0,139.6 143.3,147.9" fill="none" stroke="none" marker-start="url(#p5)" marker-mid="url(#p5)" marker-end="url(#p5)"/><polyline points="165.0,129.0 124.8,170.6 115.1,168.8 159.7,140.1 165.4,134.0 128.3,169.5 115.2,168.4 163.9,134.4 155.8,141.7 164.8,136.0 166.0,131.4 160.5,135.6 115.9,169.7 158.0,141.8 162.8,138.8 165.4,128.1 158.7,133.0 154.4,140.0 124.0,169.7 158.5,136.1 163.9,119.4 129.5,170.4 159.2,136.6 165.5,128.8 160.5,122.5 161.2,137.3 164.3,147.5 117.8,170.7 166.0,126.2 165.2,141.1 159.1,139.4 165.6,133.2 163.4,147.0 161.0,129.6 163.9,149.6 120.2,171.1 160.9,133.7 128.9,170.2 157.4,137.6 155.5,148.3 163.2,140.1 160.2,144.9 166.2,140.9 158.9,151.1 163.4,141.0 156.7,125.2 166.2,142.7 163.4,140.8 123.7,169.9 156.8,139.7 160.8,131.5 165.8,130.1 124.2,170.1 163.9,138.5 159.8,129.7 115.8,167.5 157.5,136.4 157.4,139.6 158.4,142.3 155.7,129.6 123.2,170.9 158.8,133.0 124.5,171.0 166.1,127.6 166.0,136.0 163.4,128.6 127.2,171.6 123.8,171.6 161.1,135.4 127.9,170.7 160.5,132.0 158.2,138.2 163.2,142.9 158.8,130.9 166.1,134.3 160.1,133.7 160.6,131.6 130.4,170.1 164.6,125.7 164.7,136.0 154.8,147.2 160.7,131.1 159.5,129.0 158.0,139.5 158.1,142.8 157.1,137.6 165.8,138.5" fill="none" stroke="none" marker-start="url(#p0)" marker-mid="url(#p0)" marker-end="url(#p0)"/><polyline points="130.2,150.0 124.0,157.2 146.6,133.8 166.1,127.5 155.1,136.0 162.6,128.0 155.7,134.8 130.6,150.6 149.6,132.9 130.9,149.0 160.7,131.8 144.5,139.8 144.9,135.6 153.6,129.8 148.5,124.2 150.7,133.0 153.4,119.8 133.2,143.0 117.8,156.6 124.5,152.4 118.3,157.3 157.4,132.2 136.3,148.7 155.0,122.6 156.2,127.1 148.8,133.2 131.1,150.3 144.5,128.5 152.5,120.9 148.5,126.5 164.3,122.6 115.9,166.5 161.7,121.1 130.6,152.8 159.0,125.8 153.0,133.6 149.2,137.9 135.4,149.9 159.8,127.9 138.7,135.4 149.6,127.0 132.8,149.8 118.3,163.3 161.0,121.4 150.9,128.8 157.9,122.5 131.8,149.5 146.0,128.7 162.0,131.3 129.7,148.8 142.0,137.5 125.4,152.4 128.3,151.3 136.6,140.9 153.0,125.5 136.8,142.8 117.7,157.6" fill="none" stroke="none" marker-start="url(#o6)" marker-mid="url(#o6)" marker-end="url(#o6)"/><polyline points="146.0,139.9 159.3,137.2 159.2,127.4 137.7,132.1 168.7,126.6 148.5,143.8 159.1,126.8 151.2,143.8 129.1,164.5 138.2,122.7 160.9,130.7 140.6,160.4 140.6,152.2 146.0,142.5 147.2,138.6 150.3,143.7 149.2,140.6 161.0,131.6 149.1,138.6 142.5,147.3 153.8,138.9 129.0,165.7 153.4,143.1 151.2,144.6 133.4,148.6 150.2,138.4 145.0,141.1 149.1,139.4 144.4,145.5 156.9,135.3 157.4,149.6 142.2,147.4 141.7,154.7 143.8,152.2 137.3,156.3 144.4,152.8 129.4,157.0 159.6,135.8 146.8,138.2 139.2,158.2 154.8,137.5 145.6,141.3 130.0,157.6 137.8,156.1 137.2,156.9 150.9,134.4 152.8,144.2 156.2,144.0 164.1,130.8 148.6,148.8 143.5,147.4 131.5,150.9 149.1,138.0 141.6,152.2 141.5,124.8 151.8,129.6 145.4,137.7 162.5,131.6 149.1,146.0 143.5,145.3 148.4,150.5 159.1,125.9 144.4,145.2 149.2,145.6 144.5,129.6 127.7,155.3 140.6,143.9" fill="none" stroke="none" marker-start="url(#p6)" marker-mid="url(#p6)" marker-end="url(#p6)"/><polyline points="149.2,119.9 146.2,121.3 147.2,126.0 144.2,120.6 143.4,119.0 147.1,124.2 146.1,121.5 143.1,120.4 143.9,123.1 145.7,114.0 143.5,119.7 148.9,121.4 144.1,122.6 147.2,120.9 143.4,118.0 144.6,121.5 146.2,118.6" fill="none" stroke="none" marker-start="url(#p1)" marker-mid="url(#p1)" marker-end="url(#p1)"/><polyline points="148.3,125.7 149.3,124.7 154.9,133.5 146.1,127.2 143.7,136.9 133.6,147.2 126.3,149.4 122.6,156.5 142.8,135.0 155.3,127.2 137.1,143.9 164.5,115.0 148.9,123.1 166.6,126.5 159.2,122.9 137.4,139.1 128.8,158.9 129.7,148.2 140.1,139.9 154.2,127.6 127.9,149.7 137.0,139.0 130.6,147.8 140.7,138.0 119.6,153.7 118.6,163.2 137.6,142.4 133.3,149.3 129.5,149.9 133.6,149.0 144.2,137.0 150.0,126.5 116.3,163.9 153.1,128.3 136.8,142.5 154.3,123.7 166.2,129.0 153.8,134.2 135.2,142.7 128.9,146.4 123.6,156.4 134.8,144.3 138.4,134.7 159.5,131.5 164.1,120.9 137.6,140.9 162.9,121.6 133.2,142.5 130.9,152.9 118.8,156.7 152.4,127.5 147.9,133.7 133.9,139.5 135.6,148.6 145.5,127.0 134.0,144.7 116.7,163.5 117.8,161.0 159.4,125.8 130.7,153.8" fill="none" stroke="none" marker-start="url(#o7)" marker-mid="url(#o7)" marker-end="url(#o7)"/><polyline points="133.6,162.2 152.1,140.5 161.0,128.8 156.5,144.5 127.7,151.7 128.7,159.8 142.4,145.5 160.4,136.0 138.7,152.5 142.3,142.1 144.8,143.5 148.7,141.2 138.9,154.4 152.0,137.8 146.8,145.7 134.1,148.7 135.9,148.9 144.6,150.1 151.5,139.4 142.0,146.9 143.4,144.6 145.1,127.3 129.4,159.1 134.6,146.1 148.7,146.2 141.4,146.4 141.2,138.1 153.0,145.5 140.6,142.0 147.9,138.0 152.0,127.7 144.5,142.3 133.6,146.9 143.6,150.8 136.0,156.6 132.4,154.4 143.0,148.6 141.7,153.4 142.2,146.3 134.3,157.9 136.2,158.0 158.6,128.3 146.8,141.2 162.5,129.5 139.7,151.8 138.2,156.5 124.4,158.9 154.6,135.2 148.2,130.3 134.4,159.1 140.5,158.5 148.7,145.9 137.9,152.7 153.4,144.0 137.5,158.4 134.3,138.8 157.3,145.1 151.5,149.1" fill="none" stroke="none" marker-start="url(#p7)" marker-mid="url(#p7)" marker-end="url(#p7)"/><polyline points="155.4,125.7 154.5,121.7 159.1,124.3 148.4,121.8 129.2,147.1 153.6,117.0 133.5,139.7 142.0,139.9 143.9,123.3 128.1,160.7 161.8,128.1 172.1,110.6 147.5,132.9 154.9,134.4 153.4,119.8 118.6,159.1 129.3,143.4 158.3,123.7 160.8,124.5 148.4,124.9 157.8,129.6 144.8,134.0 135.5,147.8 154.6,117.5 154.3,127.1 115.8,162.9 157.6,118.6 148.8,126.2 172.9,109.1 153.9,125.5 130.2,150.2 144.3,134.6 158.2,119.4 118.5,155.7 140.9,139.9 149.1,134.5 128.8,160.1 162.8,120.1 116.5,163.4 155.6,112.7 148.4,129.7 134.0,141.6 165.0,120.6 173.3,109.7 141.6,141.2 138.3,131.8 166.8,128.1 130.3,152.3 153.5,127.5 137.6,140.6 144.3,124.8 149.4,135.6 161.0,117.8 123.7,154.6 162.3,117.7 128.3,145.1 119.0,160.1 163.2,121.1 136.7,140.4 149.7,123.3 148.6,127.8 135.7,146.9 122.2,160.0 135.4,142.9 166.5,130.8 131.3,146.0 125.5,147.8 160.0,123.5 172.4,110.0 163.7,113.2 134.9,143.0 157.5,127.3 150.9,124.6 147.8,131.4 143.8,126.1 159.9,129.1 149.6,127.0 136.9,140.1 116.4,160.9 146.1,127.0 165.2,114.8 150.4,125.9 150.4,123.0 142.2,134.0 142.7,126.7 153.1,121.3" fill="none" stroke="none" marker-start="url(#o2)" marker-mid="url(#o2)" marker-end="url(#o2)"/><polyline points="144.9,118.2 142.1,156.7 156.2,126.8 126.9,155.0 140.6,140.5 152.6,130.4 145.4,122.9 137.5,159.7 143.3,148.3 146.8,141.4 145.2,116.3 142.0,141.6 136.3,147.4 140.6,129.3 134.9,156.9 145.2,114.8 132.7,158.8 134.2,145.6 156.7,138.5 160.5,126.9 145.8,143.0 152.6,130.8 149.6,138.3 155.4,134.6 147.9,115.9 156.0,137.9 151.7,135.0 162.9,117.8 142.4,144.2 151.2,138.3 139.7,130.0 148.0,124.0 152.3,131.7 139.9,140.8 152.3,128.8 137.6,160.6 151.2,138.7 145.2,141.4 151.8,139.0 145.8,136.6 159.4,122.4 147.5,153.4 131.1,147.5 134.0,146.3 141.5,133.4 133.5,144.5 148.7,126.5 151.8,140.3 140.8,149.5 136.2,147.1 134.0,135.2 135.5,152.9 166.6,129.5 141.2,145.0 135.5,155.9 149.5,136.8 145.3,122.2 148.3,136.6 149.1,148.6 137.5,148.4 146.0,115.4 142.2,127.0 157.5,138.9 146.2,121.5 155.5,131.2 146.0,120.3 150.6,147.3 144.0,141.1 144.0,124.2 149.4,135.6 144.8,121.8 150.4,139.3 143.5,139.6 152.5,141.8 148.3,138.2 146.0,121.8 145.4,122.2 143.5,141.4 152.8,133.5 156.5,142.9 140.7,155.8 159.1,133.7 142.1,140.9 144.2,144.1 157.0,143.5 148.8,143.5 166.9,132.3 162.2,127.7 142.5,140.9 138.1,118.9 148.9,146.7 134.8,155.2" fill="none" stroke="none" marker-start="url(#p2)" marker-mid="url(#p2)" marker-end="url(#p2)"/><polyline points="131.1,153.2 141.5,140.0 118.9,167.2 136.7,145.3 143.2,142.4 122.8,155.4 140.2,144.3 158.2,127.8 144.3,135.8 120.9,149.3 147.9,137.4 155.4,126.0 123.2,159.3 145.7,137.4 152.3,124.1 166.2,131.2 164.7,127.1 130.2,158.9 159.5,133.9 128.6,154.6 146.0,133.1 136.2,148.0 153.6,132.8 149.1,132.0 119.7,165.3 129.1,154.7 142.4,145.4 154.5,134.8 135.0,147.4 128.0,150.5 155.8,137.3 130.2,143.0 150.4,134.5 149.2,134.2 156.8,133.3 162.3,127.1 155.6,132.7 124.3,159.1 148.8,133.5 159.5,132.5 151.9,132.5 160.2,126.1 162.0,132.7 148.4,134.5 119.3,167.1 124.7,148.1 133.9,147.0 149.4,132.9 152.4,126.1 124.8,149.1 131.0,154.6 153.0,125.6 155.0,143.1 143.0,142.3 152.2,133.9 135.1,147.4 130.5,154.6 159.1,118.2 133.1,146.0 130.1,154.1 153.8,124.0 140.1,132.7 154.8,130.4 158.2,132.0 166.2,122.2 167.1,121.2 135.9,154.4 152.7,133.1 133.5,146.1 148.3,133.7 119.7,165.0 146.0,138.7 149.2,131.4 161.8,124.7 148.7,133.3 118.6,166.2 119.8,161.3 150.8,134.6 158.5,120.6 150.2,129.7 146.9,136.7 134.9,146.2 142.9,144.0 153.4,129.7 124.2,160.8 155.6,141.4 124.1,162.0 130.9,147.7 150.0,131.8 130.1,160.4 144.5,143.6 151.8,121.6 154.8,143.3 128.7,149.0 131.0,153.7 149.8,132.2 130.4,158.5 125.3,156.4 136.8,148.3 161.3,125.6 160.1,136.5 138.7,137.0 129.7,154.0 132.9,143.2 143.3,135.5" fill="none" stroke="none" marker-start="url(#o3)" marker-mid="url(#o3)" marker-end="url(#o3)"/><polyline points="154.4,156.2 147.8,145.3 141.1,159.0 152.7,143.2 151.3,159.4 142.0,153.7 155.3,138.7 143.5,157.6 141.3,157.7 161.9,133.1 158.5,133.2 149.2,143.5 145.1,145.9 129.1,158.8 150.4,143.9 134.9,165.5 139.6,159.7 143.8,140.3 142.6,155.8 149.3,142.3 133.6,160.3 141.5,155.9 133.1,159.2 144.0,157.6 134.5,149.8 131.5,158.6 145.0,131.8 147.2,149.2 148.9,131.8 132.3,161.0 124.6,166.4 168.9,131.3 145.3,146.2 151.3,142.8 141.2,160.7 141.2,129.1 142.6,153.5 137.9,162.0 145.0,128.8 140.0,155.6 154.0,141.9 142.3,151.5 150.9,130.8 156.2,138.2 164.1,142.1 166.9,144.3 135.9,154.2 146.3,131.8 136.1,155.8 141.7,153.5 141.5,147.0 157.4,155.2 146.4,146.9 135.4,166.9 151.9,138.2 152.3,162.4 156.5,149.6 151.2,142.2 140.9,158.8 143.0,151.6 151.4,143.6 140.7,160.2 144.1,159.2 140.7,148.4 147.2,146.4 142.3,129.6 151.6,150.5 150.8,149.5 148.9,139.0 156.0,136.8 128.0,169.1 142.0,152.2 153.1,143.9 140.9,151.4 130.6,152.3 134.3,173.3 147.6,149.1 151.6,152.2 164.0,137.5 141.8,150.0 160.1,141.4 148.4,141.6 149.4,139.8 150.9,139.9 148.5,150.8 141.0,146.6 135.6,165.4 157.4,153.3 159.3,143.8 142.0,153.9 145.6,133.8 145.1,149.8 164.0,139.1 140.2,156.8 153.1,138.7 140.7,157.5 149.5,142.1" fill="none" stroke="none" marker-start="url(#p3)" marker-mid="url(#p3)" marker-end="url(#p3)"/><polyline points="128.1,155.1 137.8,142.2 143.9,133.4 152.8,123.2 128.2,147.4 165.2,119.4 130.2,152.7 148.6,130.0 154.4,132.7 132.8,142.0 123.6,157.2 155.0,126.8 148.3,129.3 123.6,158.5 151.7,122.6 136.8,145.1 130.8,154.9 132.9,149.7 115.9,167.5 117.1,162.8 133.5,146.5 124.1,156.1 130.3,153.9 145.3,133.4 145.7,130.5 157.6,123.0 129.9,150.4 138.8,142.9 118.4,158.5 157.9,121.3 117.5,158.4 130.3,145.1 161.4,119.0 128.2,152.9 149.4,141.0 143.5,140.7 155.3,129.8 126.1,152.7 160.5,134.4 161.1,119.4 148.9,129.6 137.1,145.4 160.4,123.2 160.6,131.0 123.6,158.8 160.3,131.1 145.8,135.9 148.5,131.0 160.2,133.1 130.7,156.5 130.8,150.8 123.4,160.0 117.7,159.2 133.4,144.3 137.5,146.7 130.7,153.7 125.8,154.4 166.0,124.5 149.3,127.9 158.2,123.5 149.9,130.8 145.5,130.2 162.1,121.8 152.0,136.2 118.6,164.8 147.5,136.0 160.0,129.3 130.9,152.0 158.6,120.7 136.9,140.9 153.7,130.3 117.1,167.3 149.0,131.8 141.8,138.7 145.2,139.0 153.4,130.9" fill="none" stroke="none" marker-start="url(#o5)" marker-mid="url(#o5)" marker-end="url(#o5)"/><polyline points="156.8,130.1 151.2,137.2 153.7,148.8 147.5,138.3 152.7,143.0 145.2,144.8 147.8,146.9 145.1,153.9 156.5,131.0 148.8,148.9 145.0,150.4 153.0,143.5 146.0,146.2 159.8,125.2 159.4,128.6 150.9,142.4 144.4,145.9 153.2,133.8 144.3,143.5 151.1,140.6 153.0,136.4 153.3,139.8 147.6,144.0 148.6,145.2 145.6,148.4 146.8,141.0 159.2,129.8 148.0,148.6 160.1,134.3 152.2,139.6 147.2,145.4 146.2,143.7 146.9,152.7 153.0,140.1 152.6,140.6 151.6,146.6 150.9,142.5 147.7,142.8 147.7,147.9 144.8,148.5 153.1,139.1 147.5,148.8 147.8,141.3" fill="none" stroke="none" marker-start="url(#o0)" marker-mid="url(#o0)" marker-end="url(#o0)"/><polyline points="143.9,155.5 128.7,162.0 148.8,151.1 148.9,152.7 145.9,152.3 148.6,136.9 148.2,145.1 163.2,134.9 146.2,144.8 157.2,149.0 143.9,152.9 163.4,134.8 136.0,162.1 151.2,147.2 164.0,136.0 142.7,162.3 151.8,135.6 132.0,159.6 138.7,157.1 150.8,133.4 140.8,145.3 142.1,150.9 135.5,158.9 151.4,146.7 145.8,151.0 137.6,160.3 149.0,141.9 143.9,149.6 153.7,138.3 132.2,153.0 144.0,154.1 132.7,157.4 151.4,147.3 156.9,131.2 150.7,141.4 151.3,147.4 133.7,152.1 141.8,128.7 142.7,143.3 144.2,153.5 134.3,154.2 152.2,155.1 156.6,133.8 153.9,151.0 149.3,143.5 148.1,152.8 128.6,163.0 148.0,145.0 141.4,147.6 124.5,162.1 153.1,139.9 134.1,162.1 151.4,146.4 152.7,142.0 142.2,150.1 127.8,157.3 148.1,150.6 137.2,163.1 141.8,157.6 148.7,144.6 151.6,132.4 161.0,132.6 133.5,153.3 135.7,154.1 156.3,153.2 145.4,155.5 152.3,139.6 138.4,154.3 141.4,142.7" fill="none" stroke="none" marker-start="url(#p5)" marker-mid="url(#p5)" marker-end="url(#p5)"/><polyline points="156.4,136.4 166.0,139.8 120.1,171.5 159.8,142.7 114.4,168.1 160.2,137.2 159.9,135.9 160.1,127.6 164.9,135.9 163.9,137.9 126.3,169.6 116.5,169.1 159.2,135.3 130.1,170.1 121.4,170.0 164.1,145.6 128.4,170.0 157.5,130.8 157.5,143.6 165.7,125.6 164.5,131.2 158.1,133.4 159.3,138.8 162.3,135.4 155.0,140.9 157.9,148.0 117.2,169.5 159.5,126.1 156.7,143.9 164.6,129.9 117.9,170.3 118.9,169.6 154.3,144.7 163.7,136.5 163.2,133.3 121.3,170.2 164.8,130.5 155.9,132.3 162.6,139.1 160.4,134.2 128.2,171.2 156.3,140.5 122.5,170.4 159.4,137.6 155.6,150.0 163.0,137.5 166.9,141.2 159.6,142.9 120.6,171.0 157.4,135.8 155.7,135.1 157.9,138.8 157.7,137.9 158.4,140.9 166.1,130.6 165.7,135.5 120.4,171.1 166.3,134.5 154.9,140.9 130.9,170.5 165.2,135.0 125.2,170.2 129.5,169.7 164.9,133.2 155.4,138.8 166.2,140.9 163.2,144.5 157.8,143.5 121.8,171.8 163.1,135.6 116.6,169.4 160.0,143.4 163.0,125.8 163.5,136.5 154.5,142.3 155.9,127.8 156.3,143.8 119.9,170.4 119.6,170.2 163.5,145.2 160.2,124.8 164.0,135.4 163.7,129.7 129.7,171.0 130.9,170.8 163.8,128.2 119.8,170.5" fill="none" stroke="none" marker-start="url(#p0)" marker-mid="url(#p0)" marker-end="url(#p0)"/><polyline points="158.5,121.9 152.0,132.3 153.3,135.4 124.1,156.8 142.8,142.4 127.8,151.5 148.2,134.3 166.1,127.0 165.7,126.6 148.5,130.6 146.5,134.6 166.6,125.1 118.2,162.2 144.4,137.6 148.6,131.5 161.0,116.7 123.1,157.5 116.3,165.4 159.2,122.2 156.3,125.6 154.9,125.4 153.4,129.0 133.4,143.6 160.1,125.7 163.5,117.1 117.0,162.4 155.9,136.5 144.7,129.7 141.2,136.3 159.3,121.9 148.9,128.1 148.2,134.6 130.7,151.6 132.6,144.4 133.7,147.8 164.0,116.6 153.1,130.9 160.1,130.5 123.7,156.2 136.6,140.6 160.5,127.6 139.3,141.5 137.5,144.6 118.8,162.9 160.0,130.3 145.2,132.0 151.3,127.3 131.8,151.3 153.3,129.7 148.3,130.7 122.4,155.8 158.3,121.9 152.8,126.3 149.7,129.7 145.4,136.9 154.4,129.7 158.2,122.7" fill="none" stroke="none" marker-start="url(#o6)" marker-mid="url(#o6)" marker-end="url(#o6)"/><polyline points="168.6,127.5 139.6,153.8 141.3,159.7 159.4,130.4 148.4,142.7 164.0,134.0 135.3,157.0 163.3,132.7 158.7,129.5 153.3,148.7 155.9,142.9 134.4,155.6 142.3,147.4 144.1,151.1 140.8,139.1 157.0,135.5 134.7,149.7 136.4,153.3 144.9,144.3 157.1,147.6 146.6,139.9 135.5,151.5 142.1,147.7 141.6,150.1 141.6,146.1 139.9,140.4 148.6,135.5 150.8,135.4 150.2,143.3 166.8,137.9 142.1,130.7 133.7,161.2 150.9,152.6 142.9,157.6 156.1,137.4 135.7,159.0 155.1,134.7 156.2,142.6 149.5,136.7 151.3,133.1 142.0,148.7 143.8,145.0 141.3,143.1 147.9,149.7 143.3,143.7 140.9,147.7 137.9,159.7 141.3,126.2 144.2,150.1 148.2,146.9 148.1,147.7 142.4,148.8 162.6,127.3 139.0,156.5 143.8,146.7 156.2,144.2 141.6,147.8 151.7,145.8 151.3,135.9 135.0,161.8 129.2,156.5 152.1,139.6 136.6,150.7 152.3,138.4 141.3,155.7 147.6,147.4 137.9,158.4" fill="none" stroke="none" marker-start="url(#p6)" marker-mid="url(#p6)" marker-end="url(#p6)"/><polyline points="149.2,118.1 143.8,125.2 144.1,117.3 149.0,118.8 146.3,118.5 144.7,123.5 147.0,120.1 146.7,126.5 150.0,117.9 147.0,123.7 144.1,118.2 148.7,120.5 146.5,121.9 147.3,119.9 143.3,121.9 148.6,123.3 144.3,122.4" fill="none" stroke="none" marker-start="url(#p1)" marker-mid="url(#p1)" marker-end="url(#p1)"/><polyline points="158.8,124.0 151.2,125.4 151.1,125.2 123.0,159.4 155.4,132.9 144.9,136.4 126.2,150.3 124.8,150.5 130.9,153.1 162.4,118.5 161.9,125.6 123.9,155.6 155.8,124.0 124.0,154.8 147.3,133.3 146.6,132.7 130.5,149.2 149.8,133.1 143.3,138.3 150.7,130.4 159.0,121.8 137.0,145.3 135.8,147.6 120.9,156.7 153.3,118.5 142.4,143.1 154.4,129.2 137.0,142.5 164.8,116.0 142.5,138.4 153.9,126.5 142.3,140.8 158.4,123.4 161.0,119.3 119.1,161.6 125.3,154.0 163.3,115.2 140.4,139.0 154.8,120.6 136.8,140.1 158.9,124.7 145.7,134.0 160.1,130.6 164.5,114.9 143.5,128.0 130.2,153.9 138.0,140.2 152.8,123.2 161.0,125.9 128.4,149.8 159.7,129.5 131.3,148.5 153.2,128.1 131.0,148.2 122.7,158.5 149.9,124.7 157.4,120.2 124.0,155.8 118.5,159.9 127.7,149.9" fill="none" stroke="none" marker-start="url(#o7)" marker-mid="url(#o7)" marker-end="url(#o7)"/><polyline points="148.0,149.9 147.5,137.2 159.4,134.5 142.3,152.1 167.0,132.3 144.4,143.8 160.1,133.8 142.4,128.3 139.6,141.8 140.1,127.9 148.8,145.5 127.7,159.0 142.0,158.4 147.5,135.1 149.3,147.4 149.8,146.3 144.1,147.9 146.7,140.1 140.5,140.2 154.8,138.2 147.8,151.3 164.7,129.9 144.0,150.5 157.7,138.5 129.4,169.1 132.6,161.0 160.8,123.5 124.7,158.3 162.6,123.4 143.5,143.3 138.8,157.6 158.9,124.5 158.8,128.7 142.5,143.8 141.9,161.6 152.1,137.2 137.6,158.1 152.3,134.5 143.2,145.0 143.9,124.2 128.7,167.3 136.7,159.1 137.4,128.9 138.0,128.0 143.2,149.6 140.5,141.2 133.4,154.3 161.2,130.1 152.8,136.2 134.8,158.2 146.0,146.0 149.1,142.4 149.7,142.4 164.3,130.4 153.5,133.9 142.1,160.8 155.5,136.3 151.1,142.8" fill="none" stroke="none" marker-start="url(#p7)" marker-mid="url(#p7)" marker-end="url(#p7)"/><polyline points="130.9,152.0 139.7,138.5 149.0,135.4 119.0,154.7 149.9,121.7 153.9,128.6 136.5,138.3 131.2,154.5 162.0,124.0 160.0,127.5 126.5,146.0 155.7,120.8 137.9,139.4 155.4,130.1 119.4,153.1 131.3,147.8 153.5,128.9 125.7,156.4 144.4,146.8 134.0,141.8 148.2,130.6 124.2,153.1 164.5,113.0 130.3,147.3 131.1,146.6 136.2,141.5 141.9,140.2 138.8,136.8 161.3,118.1 133.6,141.8 158.2,124.3 136.2,140.4 161.0,117.9 165.3,122.4 159.2,121.4 163.2,117.5 145.3,128.8 117.4,158.8 153.7,118.0 154.0,119.8 123.1,154.3 128.9,144.3 136.2,140.8 148.6,120.8 133.3,137.4 124.0,152.6 133.7,147.1 155.1,132.2 147.6,121.5 157.3,128.4 149.4,137.9 131.1,148.4 152.1,129.0 121.8,154.0 134.5,153.4 166.3,129.7 122.4,160.7 142.1,137.5 164.8,112.3 124.1,154.3 151.6,125.3 147.5,130.2 155.4,118.6 161.9,113.7 137.3,141.2 136.8,137.4 117.6,157.1 161.7,117.0 148.4,129.1 130.1,151.2 166.9,127.7 127.6,150.0 136.4,137.7 154.3,130.9 122.2,158.0 145.8,133.1 157.6,124.7 158.1,117.7 153.4,136.8 126.1,148.0 145.1,144.4 154.8,129.7 128.5,148.2 127.4,148.5 130.8,153.7 145.3,132.3" fill="none" stroke="none" marker-start="url(#o2)" marker-mid="url(#o2)" marker-end="url(#o2)"/><polyline points="146.6,133.7 127.2,148.3 145.4,119.2 147.7,131.2 144.7,116.8 149.0,144.0 135.0,147.7 145.2,116.4 136.1,156.0 141.8,144.5 144.1,126.1 156.0,129.8 149.6,148.6 141.4,134.2 140.2,147.8 133.5,136.6 139.8,151.0 142.1,125.1 161.2,120.0 148.9,121.5 147.8,120.0 148.8,127.9 144.4,122.6 153.3,146.5 135.1,154.5 140.5,138.7 144.5,145.4 141.7,152.0 132.7,153.4 154.4,130.8 155.6,139.3 161.4,122.1 144.5,114.6 142.0,122.1 145.2,117.9 134.3,161.5 151.1,132.1 149.8,147.9 149.2,132.4 149.8,140.9 151.7,136.9 143.7,146.2 145.1,116.1 143.0,147.9 154.7,132.1 129.2,161.9 163.8,126.4 126.9,150.1 124.3,157.4 155.6,124.0 147.3,120.5 151.9,123.2 148.8,142.2 145.3,116.8 142.9,148.3 159.0,127.2 151.3,138.5 144.4,113.8 141.5,164.0 140.3,138.5 151.0,139.6 146.0,143.8 163.8,128.4 159.3,132.5 142.1,142.2 148.7,134.8 153.8,144.1 145.0,141.3 147.0,135.6 157.9,141.1 133.4,142.4 160.8,127.8 143.0,146.1 135.7,155.3 144.5,150.0 132.7,152.3 149.2,144.9 157.8,141.0 141.9,151.3 138.7,154.9 137.6,128.1 139.1,155.2 141.9,165.4 151.4,125.3 145.2,121.1 138.5,151.0 144.9,135.8 157.2,141.6 141.0,136.6 131.7,153.2 143.1,142.2 149.3,144.4" fill="none" stroke="none" marker-start="url(#p2)" marker-mid="url(#p2)" marker-end="url(#p2)"/>
<polyline points="161.3,227.4 149.7,236.8 120.1,255.9 164.1,223.1 120.9,264.3 167.1,225.9 145.3,242.0 137.4,251.7 148.7,243.8 132.8,253.8 131.1,247.7 166.9,232.6 151.4,242.3 153.4,235.0 151.4,228.7 162.4,235.3 143.5,235.9 130.0,255.8 156.9,231.0 160.7,230.3 167.3,231.1 121.4,253.7 127.7,256.8 131.1,260.4 162.4,233.2 134.3,250.4 156.7,237.4 155.2,223.4 145.0,239.1 145.3,244.4 137.0,252.5 132.8,248.2 156.4,229.2 127.5,260.7 131.6,252.6 155.9,228.9 118.7,266.4 132.1,253.3 162.2,233.8 130.4,255.3 158.1,237.5 160.9,221.4 134.3,251.9 129.3,258.0 139.0,238.4 149.8,237.3 162.1,218.4 119.4,264.0 155.6,237.4 150.4,236.9 143.8,244.5 156.0,238.2 140.2,245.8 138.9,248.8 140.4,246.9 131.0,248.3 140.4,244.1 122.4,262.6 147.7,247.6 133.9,252.1 137.6,251.0 149.5,235.0 150.5,229.0 127.0,257.1 154.0,233.8 130.6,255.6 138.4,243.3 121.9,265.4 166.9,225.5 152.0,239.4 161.3,239.0 132.0,253.3 140.7,249.3 150.4,239.8 149.5,237.8 127.2,245.3 157.2,224.7 148.4,245.0 157.7,237.0 127.6,256.3 157.7,236.0 138.0,251.1 130.6,251.1 132.9,246.3 157.0,229.8 140.8,247.6 152.9,230.3 144.2,238.5 161.2,226.1 133.0,245.8 127.3,259.4 138.6,236.9 118.0,269.5 167.2,224.9 152.1,238.1 145.5,242.5 127.4,257.3 126.7,258.6 162.6,234.8 134.0,251.2 145.1,242.0 149.6,236.7 133.6,247.5 154.8,236.5 160.6,231.5 121.7,263.2" fill="none" stroke="none" marker-start="url(#o3)" marker-mid="url(#o3)" marker-end="url(#o3)"/><polyline points="165.4,245.8 134.7,252.1 145.7,254.1 144.0,253.0 139.6,248.8 148.8,249.2 133.3,260.9 135.1,251.6 141.2,247.7 167.8,225.5 138.4,263.4 149.7,252.5 159.4,246.2 158.5,245.3 136.6,247.8 154.7,247.0 126.7,261.2 142.2,250.5 144.0,242.5 161.3,236.0 139.5,237.6 166.9,237.4 164.2,247.1 152.3,247.0 151.0,247.6 159.0,247.7 161.1,234.6 149.0,250.1 134.9,251.8 135.3,252.1 157.2,243.8 166.4,224.5 142.8,261.1 152.4,248.1 139.2,250.8 151.9,248.9 147.6,253.9 140.6,245.4 139.5,258.1 136.5,242.0 150.3,254.0 138.6,257.3 134.0,257.3 140.0,239.0 142.9,259.9 150.9,242.6 156.9,241.5 157.0,237.8 164.3,239.4 160.1,243.9 142.1,246.0 148.2,256.1 141.8,243.0 131.3,255.4 167.8,224.3 151.3,250.7 147.7,248.2 146.0,239.6 141.5,253.5 145.3,252.0 152.1,246.1 154.8,239.1 135.0,251.9 159.9,239.9 144.9,233.1 139.8,261.2 165.4,226.3 166.9,222.0 148.5,250.6 139.9,256.0 136.8,258.9 143.5,248.6 165.3,227.3 163.1,235.8 142.1,241.1 165.5,242.7 160.4,241.3 151.2,250.7 162.3,243.0 165.6,235.6 135.7,262.7 150.5,248.3 158.8,250.7 144.0,232.9 146.2,245.4 152.0,245.8 161.9,247.2 139.9,230.1 135.5,252.9 168.2,238.5 126.7,263.1 146.5,245.2 154.2,244.2 138.6,255.9 140.0,255.3" fill="none" stroke="none" marker-start="url(#p3)" marker-mid="url(#p3)" marker-end="url(#p3)"/><polyline points="132.6,253.2 130.8,256.9 154.6,229.8 158.1,228.4 131.5,257.9 121.2,262.8 127.5,254.5 156.4,229.4 152.0,231.9 146.6,239.0 118.3,268.0 133.8,248.7 162.4,231.8 159.0,229.3 133.2,252.8 153.0,231.2 129.1,253.1 161.5,233.2 151.7,240.1 132.1,254.1 143.8,242.0 159.9,228.8 125.3,254.8 138.4,240.8 148.6,233.2 131.2,246.9 128.5,256.8 138.2,248.0 132.4,253.2 162.0,233.5 157.8,233.2 121.2,261.6 156.1,231.4 157.0,231.5 125.3,262.7 166.7,222.8 121.2,260.2 122.7,261.9 134.4,249.3 166.4,230.0 166.4,228.3 153.4,232.9 149.7,231.9 158.7,234.3 138.5,248.0 130.3,250.0 167.1,229.8 122.1,263.9 138.1,241.0 154.1,233.4 139.8,244.6 150.9,234.8 152.2,236.7 138.0,239.8 155.9,228.9 139.1,245.5 161.7,222.3 137.3,249.8 162.0,220.5 127.4,252.3 148.1,244.0 121.6,257.8 149.6,238.6 141.7,246.7 120.5,257.7 142.8,242.3 156.4,234.7 151.2,236.0 127.6,256.6 128.1,249.7 133.9,247.6 160.9,232.0 155.6,229.3 134.6,246.9 122.3,262.6" fill="none" stroke="none" marker-start="url(#o5)" marker-mid="url(#o5)" marker-end="url(#o5)"/><polyline points="151.5,236.7 152.2,242.1 148.4,239.2 141.5,246.4 155.8,233.9 151.9,241.4 147.3,247.4 141.4,250.9 147.2,239.6 143.6,247.8 147.5,244.1 155.3,234.0 145.4,246.0 144.5,243.5 148.4,245.6 147.5,241.5 143.0,248.2 144.4,244.7 142.5,249.3 146.2,245.7 151.8,240.6 145.5,242.7 147.1,241.5 155.6,239.3 145.9,249.5 152.0,241.1 155.5,236.7 148.9,241.5 144.0,240.5 154.7,237.8 154.0,239.6 144.9,250.3 145.7,242.1 146.6,248.7 154.8,240.3 155.8,242.0 147.8,245.5 147.8,247.0" fill="none" stroke="none" marker-start="url(#o0)" marker-mid="url(#o0)" marker-end="url(#o0)"/><polyline points="149.0,247.1 155.4,237.2 139.6,254.2 162.2,241.8 138.3,254.6 149.2,249.2 153.6,241.8 138.4,228.6 145.9,230.7 141.9,247.4 142.4,254.0 134.9,248.3 167.1,235.6 132.3,251.5 165.3,225.6 163.1,233.1 134.6,255.0 144.0,255.2 135.6,250.2 164.8,245.2 141.1,255.0 148.8,246.4 146.0,251.5 164.6,245.5 141.1,259.9 156.6,239.7 165.0,235.7 147.9,239.5 133.1,260.1 135.8,262.0 136.9,246.2 164.1,236.3 159.8,245.6 144.2,244.4 139.2,254.5 137.0,256.3 136.6,244.7 126.4,252.2 147.3,246.1 142.4,238.1 155.1,231.3 139.9,236.4 154.2,232.9 140.7,247.9 147.6,251.2 141.6,253.3 148.8,249.1 130.8,249.2 139.9,248.9 140.4,248.8 141.5,246.6 134.1,245.2 142.5,229.3 145.5,252.4 163.2,233.8 144.2,249.2 156.6,240.6 141.1,250.9 167.3,227.0 158.5,243.1 167.5,234.5 142.7,257.2 151.1,245.7 152.4,236.6 150.6,243.5 134.6,253.9 164.9,242.1 144.5,240.5 141.8,257.2 145.7,237.5" fill="none" stroke="none" marker-start="url(#p5)" marker-mid="url(#p5)" marker-end="url(#p5)"/><polyline points="153.7,242.8 127.5,254.6 122.2,257.4 165.9,240.8 160.2,250.1 168.7,227.1 125.1,254.7 165.4,231.0 167.8,237.0 120.9,262.9 161.6,234.5 121.1,257.9 129.2,259.2 165.4,230.1 163.0,243.7 128.8,257.0 122.7,262.5 129.6,256.4 134.9,252.1 125.3,256.7 154.0,244.0 164.3,236.7 166.8,234.2 156.6,233.2 130.2,253.9 165.2,232.1 156.2,235.5 128.1,254.3 168.3,246.8 124.1,260.2 132.3,254.8 121.0,257.0 159.9,238.8 164.7,237.2 165.0,228.9 134.4,256.9 135.6,249.7 166.4,238.1 122.2,257.9 154.6,239.7 129.2,255.9 158.9,240.2 163.3,242.1 153.2,237.9 135.9,252.3 128.2,250.9 122.5,256.7 164.0,239.8 161.9,243.7 160.3,239.8 166.2,222.2 119.3,261.8 156.6,243.3 129.8,255.2 119.4,258.4 159.1,244.6 134.8,256.7 153.8,240.7 156.4,239.3 136.6,252.2 135.8,255.6 135.1,253.7 116.8,257.8 165.3,237.6 122.3,259.1 159.9,233.5 134.2,256.6 135.9,250.1 121.0,258.3 157.0,235.0 119.1,259.5 159.6,238.2 158.2,247.8 120.7,261.3 158.9,243.9 134.5,255.3 164.7,238.3 116.6,260.9 132.9,255.8 156.8,242.0 166.4,226.9 123.4,262.1 135.1,257.0 163.2,238.0 120.4,260.3 122.2,258.9 123.9,257.2 164.7,234.9 129.4,257.9 154.6,237.4 121.0,254.9 116.7,255.0 165.6,234.1 125.3,258.3 135.8,251.4 130.8,253.1 160.7,251.6 135.8,255.5 164.8,237.5 168.4,233.0 125.1,255.0 165.9,235.3 168.4,239.6 163.9,239.1 129.3,260.0 120.1,260.4 126.6,255.2 126.7,253.6 160.0,237.4 165.1,229.8 130.4,255.5 165.6,228.5 165.7,230.4 159.3,242.5 134.2,259.3 154.7,245.4 131.2,255.4 166.2,221.3 165.6,223.8 127.0,256.2 125.3,256.7 129.4,259.2 168.3,237.9 127.1,257.4 158.3,239.9 121.7,260.6 159.4,241.0 123.6,257.1 160.5,236.3 121.7,263.4 135.3,255.9 165.4,234.7 155.7,240.7 121.3,261.3" fill="none" stroke="none" marker-start="url(#p0)" marker-mid="url(#p0)" marker-end="url(#p0)"/><polyline points="128.7,254.3 155.9,234.6 127.5,253.4 162.0,229.6 134.8,248.0 154.9,229.8 145.5,239.1 160.2,228.4 153.9,230.0 161.3,234.6 131.0,251.2 165.7,232.2 155.7,228.3 157.2,232.1 137.7,239.4 158.3,227.4 131.9,255.9 121.7,260.4 120.9,262.0 151.8,232.5 145.5,234.1 128.0,254.3 121.5,261.4 146.1,236.9 161.4,223.0 133.6,247.1 133.7,251.5 149.5,235.3 135.7,246.5 126.4,250.0 127.4,253.7 149.4,233.2 144.5,240.7 127.6,248.4 156.4,230.3 158.0,230.8 156.8,229.1 131.9,254.6 129.9,252.7 154.4,229.6 153.9,228.3 129.9,255.6 124.1,262.1 151.5,235.5 162.5,230.0 158.2,227.5 148.3,236.5 153.9,222.4 158.2,226.6 121.8,260.8 167.0,227.6 157.8,232.6 146.3,239.5 134.6,245.3 153.3,231.1 153.2,235.7 136.6,241.5" fill="none" stroke="none" marker-start="url(#o6)" marker-mid="url(#o6)" marker-end="url(#o6)"/><polyline points="140.4,257.8 135.2,251.0 153.0,252.4 152.8,240.4 145.5,244.5 134.7,254.2 156.3,240.8 142.9,229.3 151.8,241.7 157.2,237.0 158.9,236.4 145.6,235.3 145.5,250.5 151.7,241.2 159.0,235.1 146.7,233.4 145.2,238.0 147.8,248.7 147.5,246.4 141.5,251.5 149.1,250.2 155.9,234.1 155.6,232.0 148.9,247.1 136.3,245.6 141.3,245.5 146.0,228.6 140.3,259.3 140.4,250.6 142.5,254.4 167.1,232.9 145.6,229.6 145.8,243.2 135.9,249.4 140.4,258.8 140.3,248.5 146.9,240.8 136.9,254.7 164.6,234.4 150.7,245.8 146.9,242.9 127.6,248.7 145.6,251.6 156.3,234.2 127.1,247.4 146.1,240.4 163.4,233.4 160.4,244.8 134.6,255.0 142.7,244.7 164.3,233.1 150.3,243.4 141.8,251.5 139.7,234.9 141.5,253.0 136.3,258.1 162.0,240.1 164.8,243.6 150.0,240.4 142.2,251.6 134.5,256.2 156.9,236.4 141.8,250.9" fill="none" stroke="none" marker-start="url(#p6)" marker-mid="url(#p6)" marker-end="url(#p6)"/><polyline points="147.6,224.6 146.7,219.4 145.6,221.4 146.3,222.8 146.7,218.1 146.8,223.4 143.3,222.0 145.6,222.4 146.7,219.6 146.6,220.8 147.4,221.8 143.4,223.5 146.2,222.1 149.2,223.6 146.0,221.5 149.7,224.9 147.1,221.9" fill="none" stroke="none" marker-start="url(#p1)" marker-mid="url(#p1)" marker-end="url(#p1)"/><polyline points="157.9,231.2 125.9,251.0 161.4,228.8 132.5,243.9 137.1,246.8 132.1,250.0 127.5,252.4 158.9,225.0 149.7,232.2 132.9,244.3 148.2,227.8 133.1,245.6 151.0,223.5 157.3,234.6 138.2,238.5 153.5,228.9 166.6,216.7 155.3,226.4 146.4,229.7 136.2,244.5 151.4,234.9 130.9,249.5 142.3,240.1 134.5,245.1 134.4,251.5 152.7,232.5 156.4,236.8 160.3,227.1 154.4,227.4 155.1,235.8 155.3,226.7 127.9,250.9 151.4,234.2 132.6,255.3 119.9,258.6 158.4,229.6 155.3,232.2 150.9,234.1 124.1,259.6 150.3,230.4 156.9,234.7 161.6,232.5 126.6,251.2 118.9,260.0 161.6,229.3 118.7,270.9 158.0,229.9 131.7,249.6 166.6,232.7 154.1,229.2 166.8,230.4 159.9,226.1 121.8,260.1 127.2,253.1 127.2,254.5 138.5,245.2 135.2,243.9 129.2,250.7 156.8,230.0 150.8,233.6 166.7,224.1" fill="none" stroke="none" marker-start="url(#o7)" marker-mid="url(#o7)" marker-end="url(#o7)"/><polyline points="164.7,230.1 167.1,230.6 152.9,232.5 158.1,237.2 152.3,239.7 136.8,242.6 152.1,253.3 159.3,230.5 158.7,235.0 164.5,233.3 127.5,246.5 139.6,233.4 142.4,227.7 128.1,257.7 158.2,234.1 137.0,253.3 139.8,233.5 158.4,237.8 156.3,232.7 139.1,227.9 140.7,254.5 147.3,238.0 135.4,244.8 145.3,240.5 160.0,228.9 144.4,234.9 162.4,240.4 141.1,250.3 162.0,237.7 159.3,231.7 164.2,232.0 161.9,230.5 151.1,240.7 142.7,251.1 138.7,226.4 137.1,248.4 142.1,252.3 155.4,236.2 148.0,249.3 166.2,231.6 128.0,254.9 144.6,229.3 144.7,247.6 164.6,248.0 166.7,230.9 140.6,260.1 155.7,237.0 164.5,231.5 140.8,254.0 153.3,236.1 162.0,238.2 142.4,235.3 142.6,240.4 150.4,241.8 131.3,246.7 139.6,250.0 164.7,247.0 150.1,245.1" fill="none" stroke="none" marker-start="url(#p7)" marker-mid="url(#p7)" marker-end="url(#p7)"/><polyline points="134.8,244.6 154.3,230.1 154.8,234.8 140.1,242.8 151.7,231.7 121.9,258.5 125.7,250.8 164.7,222.3 127.7,251.8 148.2,236.8 138.5,236.7 131.0,256.7 128.7,248.6 153.8,225.0 128.0,251.0 120.3,258.0 148.9,236.6 146.8,230.0 129.1,248.9 120.6,254.5 134.8,242.3 140.2,236.6 139.1,244.2 133.6,249.2 166.3,214.2 137.9,248.2 156.7,228.8 137.6,243.7 159.7,225.7 158.2,224.4 157.5,228.6 172.4,211.3 127.3,250.5 159.1,229.5 166.5,226.9 161.7,224.5 148.8,226.3 133.0,250.7 134.0,245.4 126.3,249.0 129.5,252.8 161.0,227.1 132.9,256.9 127.1,248.2 165.8,221.9 156.4,234.0 118.2,273.7 133.6,244.0 173.3,209.6 173.6,208.7 128.7,250.4 144.7,237.3 164.4,227.7 157.1,235.6 160.9,219.6 151.7,232.3 152.2,230.2 146.0,236.7 162.8,227.3 172.9,210.0 121.4,262.3 152.7,232.0 153.8,224.4 143.9,231.8 134.3,243.7 146.8,233.3 130.1,252.3 127.2,250.8 158.0,227.2 155.9,224.0 132.5,248.2 160.8,227.8 142.5,237.3 157.9,224.3 127.4,247.3 154.7,220.2 154.2,224.9 155.6,225.6 162.7,214.9 156.2,229.6 135.9,244.0 135.0,244.5 124.3,257.6 135.1,241.6 149.0,228.6" fill="none" stroke="none" marker-start="url(#o2)" marker-mid="url(#o2)" marker-end="url(#o2)"/><polyline points="154.5,232.1 143.8,245.7 138.0,245.7 143.2,241.4 139.3,249.1 166.7,218.5 147.7,223.5 143.9,231.1 145.1,246.7 167.4,229.6 149.7,220.0 141.3,244.8 164.3,229.6 139.9,226.5 148.3,218.4 162.7,234.7 141.4,248.6 150.8,241.5 148.7,221.8 127.0,255.2 137.2,250.7 132.3,248.5 156.8,232.8 146.6,242.0 132.6,253.1 139.5,245.5 149.9,222.9 156.1,227.4 174.1,210.7 145.6,247.1 146.2,226.5 131.3,246.0 155.9,235.2 135.5,243.7 147.8,223.9 142.0,257.6 147.5,222.0 146.5,230.9 137.0,256.1 152.4,238.3 145.5,238.1 142.2,239.1 148.9,221.0 148.5,221.2 148.7,223.3 164.7,249.2 142.3,249.2 158.7,227.0 132.8,252.3 145.5,239.5 140.6,255.8 172.6,212.7 155.3,230.8 135.6,258.4 152.8,233.9 144.5,227.1 144.9,220.5 130.6,244.8 136.9,250.0 148.0,220.7 144.0,219.4 147.5,221.1 134.8,245.6 144.9,231.9 146.6,226.9 148.8,218.5 154.7,231.4 155.9,236.8 136.5,249.5 148.5,222.5 149.0,221.0 166.9,227.4 141.9,253.7 138.1,224.8 146.9,220.9 152.3,231.5 156.6,232.3 140.1,262.2 144.2,247.2 144.9,232.2 139.8,244.1 148.7,221.2 156.4,232.1 140.9,250.6 160.9,226.9 149.2,222.3 140.3,245.0 150.4,235.3 149.0,244.2" fill="none" stroke="none" marker-start="url(#p2)" marker-mid="url(#p2)" marker-end="url(#p2)"/><polyline points="158.2,229.5 143.9,245.4 131.3,259.8 150.7,239.2 125.6,258.8 131.8,256.3 156.1,240.9 156.3,226.7 127.0,246.5 158.1,233.4 130.8,246.9 132.6,256.5 152.9,232.9 135.0,252.2 151.2,241.0 137.9,243.9 135.6,249.8 163.9,223.4 131.6,253.5 121.1,263.5 133.7,250.1 131.9,250.7 137.5,251.4 148.9,242.9 148.0,244.5 120.5,255.3 121.5,265.1 166.3,226.2 145.0,243.1 150.1,240.9 124.9,256.7 150.9,238.3 155.9,226.3 146.7,237.2 150.0,244.1 167.9,226.5 161.4,234.9 135.6,248.9 158.2,231.0 152.3,236.8 147.2,240.8 138.5,241.7 154.7,226.2 163.9,222.0 138.0,249.8 124.5,265.4 154.1,237.0 162.1,217.1 156.4,227.1 161.3,236.9 127.6,256.1 121.0,263.4 153.9,237.5 138.4,248.1 120.4,266.1 127.4,251.7 154.3,232.7 135.8,249.4 126.5,256.9 147.0,243.5 155.0,231.5 128.4,258.5 135.4,250.1 156.7,229.5 163.8,229.2 133.3,248.3 127.9,258.5 152.5,240.6 153.8,229.7 126.1,256.5 151.8,227.6 141.8,248.4 145.3,240.5 132.1,253.9 144.0,243.5 161.6,234.6 149.5,236.1 121.3,264.1 161.8,218.9 129.7,256.9 156.2,232.4 124.5,258.2 140.4,247.7 155.5,230.7 132.5,245.8 132.1,258.2 138.8,239.8 133.8,250.2 166.4,235.4 155.3,236.0 146.0,242.7 127.3,256.0 157.2,235.7 139.0,242.7 132.5,259.7 154.1,235.3 119.6,264.3 157.1,230.7 167.0,235.9 126.1,254.8 134.5,250.5 126.1,255.1 158.8,230.8 127.1,259.6 156.8,236.9 158.0,230.8" fill="none" stroke="none" marker-start="url(#o3)" marker-mid="url(#o3)" marker-end="url(#o3)"/><polyline points="144.6,251.2 141.9,253.7 165.6,237.4 149.0,250.1 155.0,228.8 145.8,253.6 131.8,252.8 140.3,249.3 145.8,231.5 134.0,246.1 147.3,253.9 141.2,259.4 145.9,249.5 140.3,253.4 151.6,248.4 136.1,250.7 163.1,240.4 148.1,246.4 147.4,255.1 144.4,243.7 131.6,251.9 140.0,254.5 138.0,237.7 164.9,242.2 146.1,231.8 136.4,263.9 137.2,261.2 134.7,252.6 164.8,244.2 167.0,239.0 142.5,259.1 162.6,241.3 146.0,251.3 150.0,253.1 142.2,252.6 143.0,236.2 144.5,251.9 147.1,249.1 142.5,244.2 149.7,252.5 153.6,239.5 140.3,249.4 145.1,232.6 136.2,268.1 167.8,226.7 148.4,251.4 149.8,251.1 144.4,257.3 162.7,235.7 142.4,254.0 157.5,241.0 135.7,242.8 141.7,258.5 166.3,222.8 140.5,254.4 155.1,238.5 133.6,257.9 141.5,259.6 127.1,252.5 154.6,228.1 145.1,248.1 160.4,238.3 164.4,234.4 142.4,251.5 156.6,242.3 127.0,262.4 138.4,256.2 142.9,256.4 140.2,251.7 136.7,248.2 139.2,249.9 138.8,256.1 145.9,258.8 136.2,257.6 138.7,262.5 139.8,262.7 144.3,258.8 164.5,236.0 131.6,253.4 144.5,255.0 136.7,256.0 145.0,251.6 153.7,237.9 138.6,229.6 159.4,242.6 128.9,262.6 144.7,227.3 139.5,263.2 142.6,256.0 141.2,249.0 163.6,235.5 150.7,243.6 164.8,246.6 156.8,243.9 132.0,250.1 167.1,241.1" fill="none" stroke="none" marker-start="url(#p3)" marker-mid="url(#p3)" marker-end="url(#p3)"/><polyline points="166.7,234.0 153.4,229.2 146.9,238.7 126.4,254.5 133.2,255.2 133.1,245.6 146.2,241.0 120.6,261.5 156.4,236.1 130.0,253.5 160.5,223.4 125.5,253.0 127.3,253.5 156.1,238.5 130.9,253.3 120.4,261.2 145.4,240.8 129.2,255.2 153.1,227.7 120.9,263.6 128.3,255.7 120.7,260.8 134.8,247.2 150.4,238.6 154.3,232.2 152.5,235.4 130.7,248.8 146.8,234.6 167.4,229.4 129.2,255.1 137.7,248.0 149.2,235.3 121.5,262.9 139.1,241.4 155.2,223.9 155.5,230.1 156.4,232.7 134.6,248.7 151.1,236.6 125.7,254.1 156.4,226.7 140.0,242.7 164.0,227.0 157.8,232.3 135.9,246.5 154.8,231.8 145.6,235.7 140.2,245.8 166.7,228.0 134.4,249.7 164.4,224.8 158.2,227.6 130.8,253.1 126.5,252.5 129.9,252.9 154.6,230.6 155.4,231.4 133.1,256.0 126.1,250.4 126.4,247.7 152.5,238.2 134.0,247.9 147.7,241.6 166.5,231.2 129.7,254.4 130.0,252.8 157.2,234.2 158.1,238.9 155.0,230.7 155.9,226.2 138.3,248.7 157.9,229.0 124.4,264.3 145.6,233.0 166.7,222.1 127.4,254.5" fill="none" stroke="none" marker-start="url(#o5)" marker-mid="url(#o5)" marker-end="url(#o5)"/><polyline points="151.1,235.6 145.7,250.0 155.8,240.4 148.2,245.3 147.2,238.1 147.2,240.2 144.7,247.4 147.0,250.0 143.4,246.1 152.8,238.4 144.9,249.4 141.9,257.7 147.0,237.6 143.5,244.0 154.4,237.9 147.8,248.5 145.6,251.5 145.0,252.8 151.6,236.8 147.4,239.9 145.1,253.0 146.8,244.7 145.3,245.7 147.0,246.9 148.9,242.2 141.7,255.9 141.1,255.2 147.9,238.9 154.0,241.9 146.1,246.1 145.7,253.2 147.4,241.3 152.3,236.4 145.4,252.2 141.6,253.9 148.2,243.8 155.0,237.9 154.1,242.9" fill="none" stroke="none" marker-start="url(#o0)" marker-mid="url(#o0)" marker-end="url(#o0)"/><polyline points="136.4,261.3 153.3,241.9 134.1,245.7 147.3,252.9 159.7,247.3 152.3,236.2 157.5,236.7 145.6,252.0 145.6,228.3 165.6,234.2 138.3,253.3 133.8,243.1 140.1,235.5 150.6,247.7 138.5,262.2 161.2,232.1 141.6,255.0 164.6,244.1 145.8,229.7 168.3,236.8 131.3,253.5 165.4,235.2 141.9,251.3 145.9,254.3 145.7,248.8 167.7,228.4 166.8,225.0 136.3,257.7 150.0,250.7 145.3,244.3 145.7,252.1 143.5,234.4 160.4,232.9 131.2,250.3 136.0,244.9 134.4,253.5 134.9,253.6 144.2,231.4 164.6,234.0 134.3,254.3 157.1,240.7 156.2,236.4 160.1,237.1 150.3,242.1 146.5,247.7 143.6,253.8 140.4,248.9 141.0,256.2 140.9,253.1 146.8,243.8 159.0,235.8 141.8,252.5 162.3,243.7 137.0,260.9 139.2,248.0 141.6,249.2 145.8,242.7 134.0,256.0 166.9,234.6 149.0,248.8 159.1,239.2 152.3,243.2 154.7,235.9 148.9,248.1 154.8,235.7 156.8,240.0 130.5,253.3 144.7,245.6 135.1,249.3 140.9,252.7" fill="none" stroke="none" marker-start="url(#p5)" marker-mid="url(#p5)" marker-end="url(#p5)"/><polyline points="122.2,258.3 123.3,258.1 124.5,254.7 121.6,258.7 158.3,246.9 131.8,255.3 117.7,259.7 123.8,263.2 163.6,236.9 165.1,236.6 122.5,258.9 134.7,253.2 126.6,259.4 158.1,244.7 165.5,231.6 135.2,250.9 161.7,241.4 166.2,235.8 122.1,260.4 165.5,232.0 168.4,229.3 129.8,256.6 168.2,231.6 125.4,255.4 134.9,254.4 153.9,246.5 159.7,239.7 159.5,239.0 121.1,260.8 132.9,256.3 166.0,232.6 153.9,241.2 168.4,230.5 156.6,243.4 165.6,237.4 121.3,260.3 165.4,232.7 153.9,238.0 129.4,257.3 123.3,259.4 156.9,247.4 119.4,261.5 160.5,235.7 156.6,238.1 159.0,234.3 122.3,259.2 158.4,251.5 167.7,241.3 168.4,228.4 125.9,258.6 125.7,259.8 164.4,236.8 131.4,257.2 123.1,258.0 163.8,242.8 123.3,261.9 117.5,257.4 163.7,237.4 155.9,237.8 167.9,243.1 125.8,256.7 123.3,261.2 163.9,241.7 165.3,233.7 154.6,242.5 135.9,253.9 129.7,259.9 158.1,236.6 165.5,237.2 128.6,251.8 158.1,248.4 128.8,255.6 161.4,241.1 128.7,253.9 159.4,241.3 121.6,261.6 167.4,245.4 162.1,236.3 126.5,252.3 161.9,238.2 154.3,244.2 162.9,239.7 127.7,254.8 163.5,229.6 153.5,239.3 165.3,232.4 130.5,253.4 163.9,227.1 160.9,245.3 125.8,257.4 161.3,242.4 127.3,252.6 125.6,256.1 155.9,240.1 120.5,259.3 155.4,238.7 156.3,242.2 127.0,256.5 131.6,254.5 155.8,240.1 163.3,226.1 130.4,259.1 155.6,240.5 130.0,259.2 163.5,234.0 155.9,243.7 153.8,241.3 132.5,253.9 126.2,258.1 129.4,257.3 134.0,254.7 119.0,258.0 129.2,256.6 163.7,234.3 122.0,256.1 154.1,237.7 129.4,251.8 153.5,245.1 126.3,258.6 166.4,234.6 157.8,243.1 131.9,253.7 167.4,225.1 135.6,250.8 166.3,230.7 154.3,242.6 165.2,233.1 135.1,256.2 165.6,233.2 156.7,235.3 165.0,234.1 162.9,241.0 166.4,224.2 156.8,231.8 120.8,259.7" fill="none" stroke="none" marker-start="url(#p0)" marker-mid="url(#p0)" marker-end="url(#p0)"/><polyline points="132.7,250.7 150.2,224.5 120.7,259.7 156.5,229.6 133.9,247.0 158.1,236.4 140.1,244.4 138.4,245.2 128.2,255.4 144.5,236.8 166.8,220.0 140.0,243.0 130.3,252.0 132.2,251.2 164.8,224.8 146.4,235.3 156.2,226.9 167.0,227.1 135.3,245.1 155.3,228.0 120.7,263.1 166.8,226.4 150.0,235.3 131.7,244.9 153.6,229.2 156.1,233.4 127.6,251.8 156.8,234.5 120.9,258.3 139.4,245.4 130.2,254.9 127.3,253.2 132.2,251.2 166.5,219.7 118.3,261.1 130.9,249.8 155.3,228.8 144.8,240.3 162.0,219.4 120.3,257.9 138.6,242.9 156.7,235.5 125.9,251.9 145.4,234.0 162.9,231.4 126.9,253.4 150.5,233.9 148.4,241.2 151.8,233.4 137.9,243.9 151.9,234.4 156.2,230.1 130.6,254.1 151.8,237.2 131.8,252.4 155.2,234.0 134.5,247.2 154.6,228.0" fill="none" stroke="none" marker-start="url(#o6)" marker-mid="url(#o6)" marker-end="url(#o6)"/><polyline points="140.7,252.3 140.5,256.9 165.3,233.8 165.1,232.9 137.1,227.3 136.4,249.5 162.9,236.3 149.8,247.8 166.6,233.3 165.2,240.9 162.9,240.2 159.0,237.5 141.6,252.6 156.6,237.5 139.7,247.0 131.0,251.1 157.5,235.8 140.8,245.3 128.8,257.7 131.5,252.2 137.2,247.4 140.2,247.3 133.4,246.4 136.8,255.9 143.3,246.2 151.6,245.2 140.0,247.7 148.0,237.3 146.6,246.3 141.4,250.4 130.9,249.3 133.9,252.3 145.5,249.7 166.6,229.9 140.0,253.2 130.6,248.3 141.0,249.3 146.7,241.9 159.4,232.8 140.1,251.7 158.8,241.2 140.5,245.1 145.4,246.8 127.2,249.5 157.2,235.2 133.2,257.4 151.3,245.5 135.1,246.3 135.9,247.5 143.3,253.7 135.8,262.7 157.5,237.7 143.8,252.6 144.6,235.9 139.7,228.7 146.0,245.7 137.2,244.3 150.7,240.7 163.7,232.0 161.0,231.1 145.1,251.5 151.4,244.7 145.7,242.1 135.4,259.6" fill="none" stroke="none" marker-start="url(#p6)" marker-mid="url(#p6)" marker-end="url(#p6)"/><polyline points="147.6,224.2 145.9,220.4 145.9,223.4 146.1,219.0 145.7,219.9 145.4,221.0 147.0,221.6 145.1,218.9 146.8,220.8 145.3,220.1 148.8,225.5 149.0,222.8 146.9,220.0 145.3,219.4 143.5,225.2 149.0,222.8 146.1,221.8" fill="none" stroke="none" marker-start="url(#p1)" marker-mid="url(#p1)" marker-end="url(#p1)"/><polyline points="135.1,246.8 144.9,232.9 166.7,225.2 162.3,216.9 158.7,230.5 149.9,230.6 133.5,245.9 146.3,231.0 136.5,243.0 161.6,221.4 146.3,239.1 158.2,226.1 134.0,247.0 155.8,231.9 157.0,236.1 156.1,221.1 167.6,225.9 158.1,233.7 166.5,218.1 161.4,227.8 121.0,257.7 149.9,234.0 132.4,257.0 122.0,259.6 126.8,252.9 155.9,231.1 162.5,229.2 133.7,252.0 162.0,217.6 135.2,244.8 128.3,248.4 121.1,257.1 144.0,233.2 156.8,227.7 126.9,249.5 131.5,251.0 162.2,228.7 156.9,228.6 156.7,231.3 154.8,232.8 150.8,233.1 149.0,229.8 153.6,226.2 154.9,231.9 140.1,243.6 139.4,243.4 139.1,243.9 126.4,251.3 148.9,231.8 138.4,244.9 120.8,261.4 144.1,238.1 140.4,242.3 164.3,227.6 138.2,237.2 121.6,261.5 135.2,245.0 129.0,252.1 133.0,249.2 149.4,238.4 150.6,234.2" fill="none" stroke="none" marker-start="url(#o7)" marker-mid="url(#o7)" marker-end="url(#o7)"/><polyline points="136.7,252.1 151.0,238.4 137.9,252.5 146.5,239.8 146.0,230.3 151.7,243.2 167.0,231.0 130.6,247.9 133.4,249.6 142.8,243.4 145.3,233.9 135.1,256.8 159.6,241.4 149.8,239.3 141.6,241.3 151.5,254.5 143.0,252.0 149.2,245.6 131.8,249.7 143.6,232.8 142.2,248.9 142.8,251.4 141.0,261.6 134.0,256.3 149.2,243.5 140.2,253.7 148.2,235.0 127.6,256.2 148.2,249.8 147.3,244.5 143.5,242.7 157.0,234.0 142.1,249.4 139.5,249.9 149.4,248.1 146.8,245.5 145.5,247.9 138.7,243.6 140.2,249.5 149.4,246.1 166.4,231.6 155.0,233.0 136.2,257.2 159.9,242.8 136.4,247.4 142.6,233.7 142.2,251.4 156.9,236.6 141.4,248.7 130.9,250.8 155.3,232.1 145.4,249.9 165.5,241.8 140.9,244.7 163.2,232.9 146.6,239.1 145.0,248.4 149.1,244.5" fill="none" stroke="none" marker-start="url(#p7)" marker-mid="url(#p7)" marker-end="url(#p7)"/><polyline points="162.4,216.6 131.8,242.5 148.0,232.4 153.5,228.0 161.4,230.1 155.9,227.9 157.7,225.4 134.9,254.0 134.3,245.3 144.6,235.9 131.0,256.8 161.8,226.7 133.3,257.9 154.2,223.8 164.1,229.4 122.5,260.7 136.7,245.2 140.1,237.6 126.4,253.0 162.1,228.0 160.7,219.1 151.4,231.8 135.2,243.0 145.8,236.6 131.2,248.4 153.1,225.1 154.4,217.8 126.0,248.1 132.6,249.2 121.6,259.3 144.7,229.5 157.9,228.1 144.9,229.5 132.2,240.4 172.4,210.4 131.6,248.8 119.7,258.2 145.5,235.3 155.4,229.4 157.0,224.2 149.3,230.3 153.1,228.9 158.0,224.0 155.0,224.1 145.6,228.3 127.2,251.2 126.7,253.7 118.0,274.5 155.6,233.7 128.1,247.1 151.4,232.3 154.5,224.8 155.5,225.0 158.2,228.8 134.5,243.3 120.4,258.7 127.1,253.5 135.1,242.4 155.1,225.6 125.3,252.4 157.8,225.8 167.4,223.4 145.9,235.2 156.1,218.3 156.7,225.8 124.4,257.8 153.0,224.5 133.2,240.9 131.8,249.7 140.0,239.2 138.4,235.3 119.2,257.7 155.0,226.8 133.9,240.4 165.9,228.7 161.7,226.2 128.8,253.0 149.7,230.6 151.3,220.8 127.5,251.7 128.0,252.3 151.5,236.9 153.0,231.9 121.1,259.7 157.8,236.0 127.1,244.2" fill="none" stroke="none" marker-start="url(#o2)" marker-mid="url(#o2)" marker-end="url(#o2)"/><polyline points="147.0,236.9 145.8,247.1 152.3,232.0 143.9,223.0 145.3,232.0 148.4,233.3 148.5,219.2 162.7,229.4 159.9,238.7 152.3,256.0 148.2,220.1 135.4,258.1 140.7,248.1 149.1,242.2 134.3,259.4 142.4,230.4 148.2,243.2 162.7,230.5 145.2,242.2 166.2,233.5 141.3,239.2 132.9,238.0 149.6,241.5 151.6,241.0 137.7,255.8 161.3,225.4 173.6,211.9 147.7,232.2 140.3,248.7 166.2,234.4 137.4,249.8 155.5,240.1 144.3,249.8 137.3,258.1 149.1,247.2 165.1,231.1 147.6,218.4 146.7,218.0 145.9,237.9 155.6,228.8 143.0,248.7 140.2,245.0 152.7,230.0 136.0,245.9 143.2,249.1 126.9,243.6 158.9,230.3 136.8,240.9 155.6,233.2 142.9,232.1 140.2,232.2 158.5,228.9 163.8,229.9 139.6,243.9 147.6,218.2 147.5,227.7 167.1,233.2 131.2,248.1 139.3,244.1 164.1,239.6 144.1,240.1 162.1,228.0 135.8,247.5 148.7,247.2 138.9,247.2 139.2,242.4 156.9,232.9 173.6,211.6 144.0,220.0 131.5,247.0 127.9,245.1 144.3,223.8 156.1,230.7 140.8,243.8 149.4,241.6 163.8,229.4 145.2,240.6 140.5,263.0 143.8,222.0 153.5,231.7 143.9,221.4 148.4,244.3 149.4,222.9 145.9,244.6 137.1,250.2 134.2,247.2 146.0,241.1 161.8,242.5 127.7,251.6 143.1,238.7" fill="none" stroke="none" marker-start="url(#p2)" marker-mid="url(#p2)" marker-end="url(#p2)"/><polyline points="127.5,251.3 146.2,240.0 130.7,260.8 135.7,248.5 131.1,260.0 157.7,242.8 149.7,241.9 137.9,242.9 159.3,232.1 161.6,223.6 135.0,249.5 130.7,252.3 133.5,250.5 130.2,255.7 154.0,232.8 148.2,246.9 154.7,234.3 129.6,255.4 156.2,229.9 158.7,233.6 132.6,256.7 153.1,233.2 143.5,237.3 161.4,225.1 156.6,227.9 127.8,254.7 157.1,236.1 166.3,224.0 155.1,236.6 143.1,244.7 166.8,231.5 166.8,233.3 152.7,237.7 152.2,238.6 154.1,235.5 164.1,230.8 118.2,267.2 121.0,262.7 166.7,233.3 119.4,264.6 149.5,237.6 118.7,265.1 154.5,237.4 129.9,253.8 155.8,238.5 127.0,258.9 143.7,243.5 154.7,227.6 126.7,253.3 146.5,236.5 145.0,242.3 149.1,235.4 161.5,222.4 150.1,238.4 154.3,235.4 139.0,245.9 154.7,235.8 156.0,239.5 156.4,230.9 118.2,266.4 129.1,257.1 121.6,262.9 129.4,255.9 132.5,258.3 135.7,249.3 133.3,257.5 156.0,240.4 157.8,241.0 136.8,237.3 146.6,239.0 132.9,255.5 151.9,238.5 156.1,234.6 127.2,254.8 151.0,228.2 138.6,248.6 122.3,263.7 157.6,238.7 124.9,264.8 118.1,268.0 135.9,238.3 156.7,230.8 155.8,233.3 127.8,257.2 166.9,234.6 127.5,259.9 155.6,231.9 155.6,240.8 155.7,242.2 125.7,259.6 137.7,250.4 149.8,242.3 131.5,250.0 155.1,239.1 157.2,235.0 167.1,229.1 151.9,243.2 157.3,235.9 120.8,261.7 134.3,248.2 149.3,237.6 121.8,264.9 158.8,230.2 148.0,241.0 121.0,265.2 133.7,250.2 161.8,237.7" fill="none" stroke="none" marker-start="url(#o3)" marker-mid="url(#o3)" marker-end="url(#o3)"/><polyline points="157.1,238.9 131.7,252.8 150.8,249.6 144.1,256.0 148.5,241.3 144.7,252.1 141.7,249.3 165.5,243.7 154.2,236.2 134.1,241.7 152.0,248.1 161.2,237.4 165.1,228.8 133.9,248.7 151.8,248.9 149.4,248.5 158.2,244.0 159.7,244.8 140.9,250.9 141.1,255.2 145.2,250.5 134.4,250.0 129.2,264.9 156.1,249.1 154.1,237.2 133.4,262.2 156.7,241.6 163.1,236.7 155.5,246.9 146.1,255.2 145.1,247.4 150.8,244.7 151.2,249.2 133.9,263.6 140.6,256.5 144.8,231.9 135.6,267.3 144.3,241.6 147.7,255.5 146.0,240.1 133.7,243.0 143.9,243.6 161.6,246.3 131.6,257.2 145.1,256.1 141.9,254.8 126.4,253.8 142.0,255.5 126.8,254.6 140.2,237.8 153.6,237.7 156.5,243.1 154.0,245.4 139.7,250.5 158.9,248.8 140.1,244.3 165.4,236.2 139.0,252.0 155.5,246.4 148.2,243.2 144.3,241.3 144.1,226.4 144.6,243.0 136.1,265.7 143.7,250.3 139.2,248.6 143.2,232.0 141.8,246.2 145.5,242.7 135.3,264.4 164.8,235.6 146.3,251.4 146.2,255.4 141.2,255.3 129.0,266.3 140.9,253.7 154.5,237.9 145.6,254.9 157.4,242.2 142.2,257.5 142.3,250.3 139.4,231.4 164.0,244.5 161.1,247.6 147.6,256.3 130.3,255.7 139.6,243.0 136.2,260.2 142.1,257.6 163.7,237.6 134.5,248.1 138.2,231.0 154.4,240.7 138.4,239.2 142.6,235.4 139.4,251.9" fill="none" stroke="none" marker-start="url(#p3)" marker-mid="url(#p3)" marker-end="url(#p3)"/><polyline points="155.8,239.0 138.9,245.1 144.9,238.6 154.1,231.4 154.8,235.0 118.4,267.7 151.8,237.5 155.7,236.1 157.2,232.7 128.2,255.7 150.8,237.1 144.1,241.7 127.3,258.1 137.5,250.0 131.9,251.9 156.7,237.2 162.1,231.8 134.2,249.1 120.8,259.2 140.0,246.5 149.8,234.0 156.1,224.2 126.9,256.7 125.3,256.7 155.1,235.0 151.9,230.1 155.5,229.8 150.1,236.6 148.7,239.6 118.5,268.2 126.3,254.6 160.1,229.7 120.9,264.2 119.9,262.5 134.6,249.6 156.8,227.7 155.3,234.2 144.5,240.6 149.4,234.8 135.6,246.0 153.9,231.4 136.5,240.0 160.9,220.7 156.6,230.9 118.5,264.7 118.8,262.8 153.7,231.1 150.2,240.0 150.7,226.3 164.1,225.1 133.0,256.1 148.0,242.8 161.1,235.7 166.7,228.8 145.3,236.9 134.9,246.9 150.1,233.9 132.0,254.1 127.5,256.3 144.1,234.6 131.9,251.5 160.4,225.3 161.1,223.7 157.7,234.9 156.3,233.3 145.1,240.2 158.5,231.9 151.7,236.3 131.6,258.2 135.2,247.8 135.0,248.0 128.0,255.2 134.1,250.0 127.6,257.9 161.4,231.3 156.9,232.3" fill="none" stroke="none" marker-start="url(#o5)" marker-mid="url(#o5)" marker-end="url(#o5)"/><polyline points="151.7,239.6 142.4,252.2 144.8,244.0 151.7,238.6 147.2,236.9 151.6,235.7 143.4,242.1 154.3,239.2 152.1,244.6 144.8,243.8 150.7,237.8 144.9,246.3 143.3,245.5 151.8,242.9 147.7,246.4 147.9,242.5 143.3,242.6 153.8,240.4 149.1,246.4 154.2,242.1 143.4,244.1 145.7,245.7 146.2,244.1 145.2,250.6 147.9,242.9 151.1,234.8 147.5,244.2 148.4,247.1 145.0,247.5 141.8,247.3 151.6,239.3 152.6,242.2 153.5,244.1 145.3,242.2 146.4,249.3 156.0,234.9 152.8,242.7 151.5,240.7" fill="none" stroke="none" marker-start="url(#o0)" marker-mid="url(#o0)" marker-end="url(#o0)"/><polyline points="164.4,234.4 154.6,236.2 139.3,249.8 151.0,240.8 136.2,264.5 147.2,244.6 136.2,263.8 162.5,238.8 156.6,243.1 144.5,239.6 143.0,257.5 126.6,259.0 144.8,228.5 142.6,230.3 139.5,252.5 164.8,243.7 165.1,242.1 155.7,243.9 142.0,244.1 155.4,235.0 151.1,246.6 142.3,243.1 139.9,251.1 148.4,238.4 127.2,250.5 165.5,224.3 138.9,229.2 145.7,247.4 142.5,256.2 142.6,246.4 163.3,239.2 151.9,249.2 152.2,244.4 158.8,242.1 136.2,250.7 136.0,253.5 140.1,256.7 138.5,241.2 150.9,247.0 129.0,262.1 147.7,253.7 142.5,239.5 126.9,259.9 128.9,259.6 149.3,247.8 141.9,252.7 166.5,226.4 148.2,250.6 156.2,238.8 138.7,248.7 133.3,258.2 159.7,241.2 157.1,238.5 151.0,245.5 143.8,230.6 149.8,251.7 143.2,247.9 149.7,250.4 141.2,251.7 139.7,248.3 141.4,255.8 140.4,246.4 152.7,250.8 140.1,260.4 144.2,249.4 163.1,237.4 146.2,248.8 136.7,243.6 145.7,236.0 145.0,246.5 138.3,241.3" fill="none" stroke="none" marker-start="url(#p5)" marker-mid="url(#p5)" marker-end="url(#p5)"/><polyline points="119.5,262.0 157.1,241.5 156.6,238.4 166.0,242.7 164.1,241.1 165.7,231.0 168.8,233.1 117.3,256.1 130.6,256.8 166.0,225.5 127.1,256.0 162.3,233.3 125.9,260.1 163.5,231.0 120.1,261.0 129.6,254.0 157.7,241.1 130.7,258.1 156.4,233.0 132.1,257.1 165.4,239.6 168.1,243.6 159.8,236.1 129.6,258.2 116.6,259.1 119.1,259.3 166.2,225.4 164.6,238.1 134.7,257.7 163.1,244.5 126.7,257.7 155.6,244.9 134.2,252.7 130.3,258.3 160.4,246.3 167.8,226.4 122.3,258.8 121.1,259.9 128.8,253.2 156.7,230.6 132.7,252.3 158.5,249.0 127.4,257.8 156.3,245.1 157.9,251.3 163.0,231.9 159.8,238.6 154.2,238.0 128.9,257.9 121.0,255.3 120.8,256.5 127.2,253.9 156.3,231.9 159.5,241.9 165.7,235.2 153.0,244.3 130.4,257.4 163.2,245.5 121.4,259.9 165.4,236.5 133.4,253.5 157.4,237.5 163.9,233.5 129.6,258.5 125.0,258.1 133.8,254.3 135.8,251.8 165.4,232.6 130.3,254.8 121.9,261.1 121.1,260.8 164.1,236.6 157.4,246.0 135.1,258.5 166.4,241.5 125.5,256.4 161.9,239.6 160.1,248.4 166.7,228.0 156.2,237.2 154.6,234.7 128.8,259.0 164.1,239.4 160.9,241.4 128.3,257.5 129.6,257.9 161.4,243.8 128.9,258.2 165.8,238.5 128.6,251.5 132.4,253.8 132.6,250.8 167.5,245.0 163.8,236.7 126.7,251.3 127.4,251.9 125.4,258.5 136.0,253.5 127.6,253.9 136.0,252.1 116.8,254.6 167.9,229.1 160.0,248.4 133.7,258.5 168.1,236.8 136.0,249.1 125.6,257.6 162.0,237.8 164.0,232.5 156.8,243.9 129.5,255.3 167.6,240.9 166.2,227.9 123.6,259.0 126.8,251.6 155.0,244.7 168.3,241.1 136.0,253.6 165.5,237.8 127.2,253.2 124.0,260.2 135.1,255.0 166.2,238.7 132.9,250.5 135.3,253.1 129.8,257.2 156.9,239.2 154.0,234.0 160.0,243.1 159.8,237.2 165.3,228.7 162.9,234.9 121.5,263.1 160.2,244.0 156.3,242.6" fill="none" stroke="none" marker-start="url(#p0)" marker-mid="url(#p0)" marker-end="url(#p0)"/><polyline points="154.4,233.3 166.3,230.5 132.9,243.3 150.3,237.3 166.1,228.2 126.4,250.9 139.9,241.4 148.6,230.3 126.6,248.4 164.9,225.1 157.5,232.2 129.4,252.1 125.7,254.8 154.7,230.4 122.3,262.5 157.1,232.9 150.8,235.5 164.8,226.8 161.2,222.0 137.3,248.6 133.1,252.6 153.7,227.4 160.5,222.6 145.6,232.6 166.6,229.5 136.4,246.4 158.0,229.4 134.1,248.5 161.1,225.7 151.6,235.9 127.7,255.5 134.3,249.9 132.6,254.2 144.9,239.4 138.6,246.3 122.4,260.8 134.6,245.7 155.3,222.5 120.7,259.5 148.1,240.1 139.1,246.8 119.1,270.3 150.2,232.9 142.9,241.2 161.6,218.9 124.1,260.5 144.5,234.3 146.0,236.2 132.8,245.5 127.3,256.1 155.2,229.6 119.1,260.1 138.4,247.1 132.8,253.5 117.6,266.5 141.3,245.5 155.9,237.4 128.8,254.0" fill="none" stroke="none" marker-start="url(#o6)" marker-mid="url(#o6)" marker-end="url(#o6)"/><polyline points="140.5,251.6 140.9,250.6 153.6,234.6 145.6,245.2 149.2,247.0 139.9,258.7 141.8,253.2 160.0,243.2 158.0,239.1 166.7,227.8 142.2,244.4 140.3,252.3 152.7,234.0 166.6,229.5 149.7,249.1 167.9,229.0 143.2,233.6 142.8,255.9 144.6,251.0 139.2,247.7 140.0,251.1 146.0,229.1 161.9,242.0 133.7,241.4 165.1,246.2 157.3,238.2 154.9,233.5 144.5,246.0 153.2,238.6 137.6,242.8 148.8,246.0 164.6,231.4 165.4,243.1 137.7,243.6 129.1,258.6 147.5,249.1 144.8,237.0 154.7,235.1 166.2,228.8 153.2,236.7 150.0,244.7 141.3,241.1 143.9,230.3 143.2,244.4 142.3,236.9 143.8,247.2 151.7,243.0 159.4,240.6 165.1,223.0 163.0,231.4 141.9,250.9 137.4,253.0 140.8,249.2 147.5,250.9 152.8,251.9 162.7,232.2 134.7,256.0 145.4,241.8 147.7,251.7 136.2,259.9 126.8,257.7 137.1,259.7 142.2,254.8 140.9,251.8" fill="none" stroke="none" marker-start="url(#p6)" marker-mid="url(#p6)" marker-end="url(#p6)"/><polyline points="149.0,221.4 143.1,221.4 148.6,221.7 144.2,218.3 146.9,220.9 148.9,225.1 145.7,218.7 144.3,218.7 148.4,221.2 146.7,221.5 148.7,224.7 147.3,218.5 145.5,223.0 143.5,216.8 146.1,218.9 144.3,219.9 143.6,223.6" fill="none" stroke="none" marker-start="url(#p1)" marker-mid="url(#p1)" marker-end="url(#p1)"/><polyline points="130.2,254.2 154.2,226.4 120.7,256.4 157.0,230.7 137.6,246.2 118.1,272.4 145.1,238.4 147.8,235.5 130.3,249.9 144.9,235.2 130.6,251.0 145.8,238.5 150.1,231.3 155.3,226.7 128.5,253.4 121.9,258.8 166.3,225.3 154.5,226.9 154.8,227.2 127.3,246.7 146.9,233.8 144.3,230.6 140.0,240.1 133.1,250.4 126.1,252.7 155.5,232.3 121.5,261.2 148.1,238.3 136.8,247.3 155.3,231.5 131.9,254.9 155.5,226.0 127.6,252.7 152.5,233.8 139.0,248.2 154.5,221.3 157.7,229.8 154.4,226.7 130.5,251.4 121.6,261.0 138.1,246.1 161.5,223.9 126.8,254.9 132.9,251.6 139.6,240.1 144.7,238.9 149.3,240.5 127.6,253.7 130.6,251.0 118.0,265.7 151.0,234.8 132.6,243.0 152.1,233.5 158.5,226.2 154.3,228.1 164.6,223.6 130.6,255.7 121.8,262.1 166.9,230.9 141.7,244.2 128.5,249.5 164.2,227.0" fill="none" stroke="none" marker-start="url(#o7)" marker-mid="url(#o7)" marker-end="url(#o7)"/><polyline points="165.4,231.4 145.9,243.6 145.6,244.4 139.4,247.0 139.4,245.2 139.7,253.4 146.5,241.5 134.5,251.0 156.8,237.9 164.6,239.4 137.7,258.7 141.6,252.1 141.4,242.6 133.6,240.3 135.0,257.3 144.3,229.1 127.4,245.2 150.7,239.7 146.1,232.7 145.4,243.2 151.9,243.3 141.6,243.7 155.4,230.5 140.1,246.4 146.2,230.9 142.7,241.7 146.7,227.1 134.2,258.1 145.9,249.3 133.5,255.4 137.4,250.7 139.4,246.4 136.1,250.1 135.9,260.8 167.3,232.5 143.5,249.9 131.1,250.5 156.8,234.6 133.9,249.3 145.3,244.2 142.0,249.3 165.7,241.4 165.8,220.1 136.4,257.6 144.0,248.7 165.9,221.8 145.7,249.4 129.2,256.1 151.7,239.4 140.4,254.9 160.9,229.9 154.6,233.7 157.6,234.7 162.4,234.1 153.6,234.7 135.5,259.8 144.0,248.4 155.5,239.8 140.4,256.5" fill="none" stroke="none" marker-start="url(#p7)" marker-mid="url(#p7)" marker-end="url(#p7)"/><polyline points="133.3,243.1 139.1,242.3 156.9,238.1 151.4,236.4 126.9,253.3 149.2,231.4 154.8,226.0 133.3,241.5 166.6,216.5 148.0,231.4 120.5,255.6 139.2,251.5 149.0,237.7 151.5,233.1 130.2,249.6 155.3,230.3 128.0,246.8 158.1,231.1 129.9,251.0 150.6,230.7 121.4,259.4 136.9,244.7 118.0,262.5 167.2,224.0 130.3,252.1 127.8,246.9 143.2,239.0 139.3,241.7 122.9,260.5 126.2,249.3 139.2,241.3 162.0,231.8 151.7,233.9 122.2,263.1 145.9,237.8 155.4,233.1 173.1,210.3 150.5,230.3 161.8,229.5 134.2,252.5 153.4,226.7 145.3,227.2 156.5,235.1 149.3,230.6 166.2,235.7 166.6,223.3 166.6,233.8 159.8,225.0 122.0,255.8 136.5,245.3 121.5,255.7 135.0,243.2 138.1,246.7 121.4,255.0 157.2,239.2 139.8,237.9 145.6,236.5 162.5,227.6 129.5,249.2 150.1,228.7 154.2,228.8 132.6,249.3 156.5,217.8 155.9,233.5 148.1,225.3 156.2,228.0 141.0,242.7 158.0,228.3 166.3,223.1 133.9,244.8 167.3,224.4 150.1,227.9 134.4,247.3 132.0,253.3 150.0,232.2 133.2,244.3 144.6,232.6 153.5,226.3 131.0,247.1 127.3,250.0 118.0,265.1 127.2,251.6 121.8,257.9 130.3,250.6 145.6,234.1 129.0,249.4" fill="none" stroke="none" marker-start="url(#o2)" marker-mid="url(#o2)" marker-end="url(#o2)"/><polyline points="147.7,223.9 145.9,230.6 142.8,226.0 141.6,245.5 128.5,253.5 160.1,240.2 144.4,250.5 136.4,241.1 150.6,238.0 164.9,230.2 152.2,237.1 162.1,242.2 148.1,219.1 148.1,219.9 155.2,238.5 158.0,236.6 145.8,239.8 145.8,239.8 163.4,232.4 167.6,228.6 149.5,246.4 136.4,254.9 136.4,245.2 135.8,258.5 147.0,219.5 134.3,236.1 150.2,241.1 164.5,248.2 139.2,231.2 163.1,236.0 142.7,231.5 148.3,247.9 148.2,222.6 149.5,222.0 141.3,247.6 158.1,231.6 133.7,247.6 141.0,253.4 157.0,233.9 143.9,236.8 167.6,227.7 163.4,229.1 134.6,260.5 143.6,221.4 143.2,227.2 144.1,247.9 157.6,235.3 148.4,219.5 145.0,245.5 140.5,241.7 141.0,255.5 141.7,250.3 150.8,237.1 140.2,225.4 140.6,240.3 140.8,254.5 136.2,242.4 146.0,239.9 131.4,249.0 157.2,231.1 140.2,254.2 141.1,254.3 140.1,247.3 148.4,224.0 164.8,238.3 143.7,239.8 150.5,237.5 126.8,253.6 134.9,257.9 136.7,249.5 146.9,243.2 150.8,237.5 133.3,252.2 165.2,240.3 164.9,237.8 141.7,249.1 143.7,221.4 138.9,244.8 166.6,219.7 149.0,243.4 152.9,255.2 147.1,236.2 142.7,246.3 144.4,228.3 150.9,239.6 147.9,225.6 142.0,248.1 167.7,233.3 145.7,241.4 132.7,250.8" fill="none" stroke="none" marker-start="url(#p2)" marker-mid="url(#p2)" marker-end="url(#p2)"/>
<polyline points="150.6,346.7 140.5,357.5 155.7,341.0 151.2,346.3 154.2,335.4 148.9,346.5 118.5,366.9 151.6,344.9 152.8,343.5 139.5,356.2 126.9,364.1 128.8,361.2 140.1,359.5 155.2,348.2 158.5,345.6 128.0,362.0 119.8,368.9 147.4,350.4 135.5,351.3 146.1,350.4 148.0,344.7 134.1,355.5 132.5,355.6 144.7,345.8 152.9,352.0 142.8,346.8 147.6,354.3 131.1,359.7 157.8,343.2 146.0,350.5 116.5,371.3 120.6,373.5 160.0,339.4 155.4,345.4 153.9,328.6 143.1,347.5 161.2,324.5 116.2,373.3 142.9,343.9 150.0,349.6 151.2,336.5 128.5,364.5 152.7,350.9 144.9,346.1 164.2,331.1 116.1,369.8 154.3,329.6 148.5,346.3 148.0,353.2 125.4,365.6 143.4,346.7 131.9,361.2 165.0,320.2 116.8,360.0 124.0,364.3 146.1,345.7 136.4,346.7 160.8,342.4 135.5,352.4 156.1,339.7 153.2,342.0 156.4,339.0 122.5,359.4 160.8,327.0 143.6,351.1 116.9,372.9 153.4,349.3 148.5,343.9 161.2,338.3 159.3,336.2 150.1,344.3 124.8,362.7 134.9,359.1 145.8,351.9 144.3,343.6 148.0,341.7 150.0,348.9 135.9,346.0 132.7,354.8 117.9,367.4 146.0,353.5 122.2,361.4 157.2,350.7 128.6,365.1 129.1,359.1 128.7,360.5 143.9,350.1 154.4,329.1 148.7,349.3 129.7,362.1 150.4,336.2 161.2,326.2 152.5,341.0 132.7,360.8 152.9,339.0 148.5,351.8 145.0,344.5 164.5,320.6 126.3,358.3 147.6,347.3 165.8,338.9 151.6,347.1 151.7,347.5 156.6,335.8 125.0,366.2 142.3,357.8" fill="none" stroke="none" marker-start="url(#o3)" marker-mid="url(#o3)" marker-end="url(#o3)"/><polyline points="162.7,339.0 137.6,332.1 145.0,341.8 143.5,339.6 132.1,354.2 136.4,353.7 160.6,341.1 162.4,356.8 140.7,339.7 153.4,342.4 164.4,335.7 164.7,344.7 144.3,336.7 147.6,343.3 159.3,345.3 151.0,330.9 165.3,353.3 150.4,345.2 166.4,345.1 164.6,341.6 143.5,345.7 141.1,341.9 149.4,335.3 159.0,347.1 157.6,352.6 159.0,350.9 143.0,344.0 135.1,354.1 139.8,347.3 162.5,349.2 167.5,331.1 143.2,338.0 155.2,339.2 148.4,327.7 146.6,344.8 136.4,360.0 167.1,340.4 167.8,347.1 147.0,354.2 134.5,344.1 139.1,348.5 145.2,344.8 165.9,329.8 158.5,340.8 156.8,340.5 167.8,337.5 138.8,347.0 145.4,342.8 138.2,345.9 131.6,344.3 156.8,346.8 143.1,344.3 139.7,337.4 158.4,331.6 160.7,341.9 162.3,348.5 133.9,348.2 149.0,332.7 150.3,332.3 160.6,340.1 137.6,347.0 166.3,346.5 136.7,344.4 146.4,340.4 155.1,328.4 148.6,335.4 157.6,338.3 151.4,347.8 150.0,333.1 141.2,352.7 165.0,337.9 164.8,337.8 155.4,330.0 162.3,335.8 158.0,340.1 141.0,340.2 160.4,351.1 164.1,333.9 149.8,334.8 155.7,344.0 154.0,340.2 151.3,340.2 134.6,352.0 155.9,340.0 147.3,340.7 151.8,332.0 166.5,329.3 162.8,334.8 158.3,343.4 151.9,333.3 147.2,341.4 161.3,343.4 140.7,341.4 157.3,338.4 155.9,348.7 133.2,354.3 133.8,335.9 162.6,351.2 141.9,343.2 139.4,345.7 143.9,343.6 145.5,346.2 131.2,353.6 167.2,338.9 138.3,341.4 156.8,341.4 143.8,335.3 151.3,339.1 137.0,344.6" fill="none" stroke="none" marker-start="url(#p3)" marker-mid="url(#p3)" marker-end="url(#p3)"/><polyline points="127.2,358.7 121.1,371.0 151.9,345.6 125.7,364.3 151.7,341.5 147.9,352.4 156.3,336.4 153.8,347.0 122.4,363.4 135.6,353.8 127.5,358.7 120.3,369.3 152.5,338.3 146.9,344.2 154.6,339.2 160.9,336.8 148.0,343.4 161.7,329.2 151.1,338.9 140.8,352.7 145.1,350.4 157.1,344.1 150.3,346.9 155.9,343.8 123.8,362.9 165.5,321.2 128.7,359.8 120.5,368.8 135.3,349.8 146.2,351.4 139.8,352.1 124.9,364.7 135.7,345.2 153.7,338.2 150.1,348.6 158.9,332.0 123.3,363.1 123.4,366.3 145.7,350.1 153.9,341.4 150.1,348.2 129.9,361.5 145.2,344.4 148.9,340.0 145.8,343.3 163.5,338.2 141.3,355.1 162.9,328.6 147.8,348.6 148.3,349.7 116.4,363.0 128.5,356.8 121.9,370.5 134.6,355.3 153.3,341.1 164.9,322.8 163.9,325.4 141.1,354.7 158.2,334.7 165.6,329.8 118.0,373.5 161.6,330.3 117.8,361.7 144.1,350.0 120.6,371.6 147.9,341.2 147.6,342.8 116.4,371.8 154.0,337.8 163.2,334.4 158.3,336.8 147.2,352.0 140.2,353.4 143.2,352.2 166.7,327.8 153.6,344.1 156.1,338.1" fill="none" stroke="none" marker-start="url(#o5)" marker-mid="url(#o5)" marker-end="url(#o5)"/><polyline points="138.3,346.9 165.3,343.5 157.4,352.6 157.1,353.1 146.9,337.3 164.2,338.6 155.9,337.9 160.7,345.3 139.9,343.1 156.0,340.5 148.6,332.4 140.6,339.3 138.2,344.8 161.6,345.4 162.4,348.5 143.3,340.1 137.2,337.6 167.0,334.9 159.8,343.9 145.0,335.9 144.8,343.0 160.5,352.1 162.8,340.5 147.1,339.1 147.0,342.6 147.9,339.2 155.4,330.5 137.5,339.9 157.1,335.4 147.8,330.7 137.9,342.0 141.1,351.7 157.8,346.9 155.6,342.0 131.8,357.5 163.4,340.4 134.2,341.4 159.7,341.3 137.9,344.3 162.7,347.6 157.9,336.5 164.5,344.2 144.8,339.9 137.1,351.2 148.4,328.8 149.6,334.4 163.9,338.5 153.0,338.6 136.1,357.6 134.3,343.9 157.3,347.4 143.7,334.2 149.4,336.1 143.5,340.5 145.4,336.3 151.8,336.0 157.3,337.7 142.2,342.0 140.6,343.4 148.9,333.6 154.3,336.8 143.2,343.0 164.1,334.9 145.3,333.8 163.9,342.6 142.8,341.7 156.5,339.5 163.0,348.0 132.8,352.3 150.6,330.6 167.1,326.3 141.6,338.3 159.8,346.7 147.7,351.4 132.5,350.6 138.3,342.6 136.8,344.3 145.5,342.3" fill="none" stroke="none" marker-start="url(#p5)" marker-mid="url(#p5)" marker-end="url(#p5)"/><polyline points="115.8,363.6 121.5,365.8 117.0,361.4 114.7,367.2 133.9,355.4 119.9,364.9 125.1,357.6 119.9,363.2 133.9,351.6 117.0,363.9 117.2,362.9 116.1,366.3 123.6,359.5 125.5,358.3 129.8,353.9 126.0,357.0 132.7,349.9 116.6,363.4 124.3,360.5 130.1,352.2 114.4,369.4 120.7,363.1 118.9,365.2 116.0,364.9 116.7,368.0 123.8,359.5 119.5,366.3 113.9,366.8 119.9,360.2 134.1,352.0 125.5,359.0 133.6,350.7 133.5,347.2 119.3,362.4 134.0,356.9 125.2,360.9 119.5,364.8 123.8,356.7 117.5,360.5 123.6,363.8 124.7,360.4 115.3,365.4 128.5,357.2 124.7,360.4 121.0,362.4 120.0,364.3 118.6,362.8 123.3,360.0 120.4,363.7 114.0,365.9 121.8,359.5 121.0,360.4 125.8,358.4 120.2,357.7 114.8,365.2 135.1,354.0 117.7,368.8 117.3,361.2 119.6,361.5 124.4,361.0 124.3,358.7 132.8,348.2 117.9,359.9 115.2,362.6 124.0,358.1 117.8,357.9 120.2,361.3 134.1,353.4 129.9,353.9 129.2,353.6 119.2,366.7 128.8,354.7 124.2,359.3 114.5,362.3 120.1,362.0" fill="none" stroke="none" marker-start="url(#p0)" marker-mid="url(#p0)" marker-end="url(#p0)"/><polyline points="165.1,324.0 158.4,340.8 159.0,331.1 128.1,359.1 132.9,351.4 125.3,363.4 145.8,350.3 147.4,350.6 154.4,340.6 146.6,341.8 154.5,344.7 126.5,360.0 121.5,369.6 116.9,364.6 127.7,359.0 143.5,350.5 135.3,353.3 157.2,332.4 153.1,342.1 151.5,339.6 155.5,339.9 158.3,340.0 120.8,365.2 151.5,342.8 122.1,368.1 126.0,357.6 131.4,356.1 157.0,335.2 150.8,345.6 145.0,341.9 122.9,361.9 129.2,357.4 156.7,341.1 157.5,344.7 135.4,348.0 149.1,346.4 120.5,366.1 117.7,371.5 135.7,343.4 119.1,364.5 157.3,339.8 143.9,352.0 123.5,363.7 132.7,351.9 144.7,341.4 146.6,346.5 119.5,366.5 145.7,341.5 142.3,353.4 131.2,357.0 116.6,367.1 141.3,350.9 125.4,359.1 116.4,365.8 151.7,340.9 156.0,341.5 162.6,332.1 157.1,340.1 148.1,343.3 142.5,348.4 160.5,334.8" fill="none" stroke="none" marker-start="url(#o6)" marker-mid="url(#o6)" marker-end="url(#o6)"/><polyline points="156.2,335.1 158.4,344.7 144.3,336.4 155.7,340.6 168.0,332.2 161.5,348.0 156.7,343.1 152.3,343.5 158.5,345.2 166.0,339.1 164.2,331.8 163.7,333.8 162.7,339.6 164.2,340.8 151.2,328.0 135.8,341.2 139.4,339.0 134.2,347.3 159.6,335.9 146.4,333.7 147.2,341.5 140.3,346.2 164.4,341.2 162.4,350.8 168.2,330.3 136.5,342.6 138.2,341.1 131.2,341.0 132.1,343.7 147.0,336.8 137.2,336.9 162.4,344.3 145.7,332.6 138.6,344.8 155.5,328.8 151.7,343.9 146.5,334.9 147.2,339.8 147.6,331.1 134.6,340.9 137.9,345.7 135.9,349.8 143.0,333.2 143.4,341.5 163.4,339.3 139.6,343.8 155.4,341.4 166.7,323.5 162.2,335.6 152.3,326.4 137.1,340.2 164.4,330.6 137.8,340.5 149.8,330.6 159.9,345.2 159.9,341.8 148.0,337.2 155.8,343.6 131.3,340.7 143.0,338.9 143.6,337.6 167.3,332.3 138.9,342.8 156.6,351.7 140.8,333.7 145.4,335.4 157.1,334.7 157.3,332.8 132.2,345.0 143.7,339.5 158.1,335.3 134.8,339.2 156.7,333.8 140.8,348.9" fill="none" stroke="none" marker-start="url(#p6)" marker-mid="url(#p6)" marker-end="url(#p6)"/><polyline points="147.5,321.4 147.2,315.4 146.7,325.8 145.2,325.6 147.8,316.9 149.0,324.3 147.9,317.9 147.3,324.0 147.6,324.8 145.3,313.0 145.4,324.2 146.6,324.0 147.1,322.5 148.9,313.7 145.3,321.4 145.2,317.4 147.3,316.5 147.1,319.9" fill="none" stroke="none" marker-start="url(#p1)" marker-mid="url(#p1)" marker-end="url(#p1)"/><polyline points="147.2,347.7 164.9,328.2 155.9,337.8 162.6,331.2 133.9,352.9 134.4,353.5 156.4,333.0 120.5,364.9 163.3,334.3 116.5,365.9 142.8,351.8 161.2,333.0 123.4,359.6 135.3,345.5 145.9,346.8 126.8,360.3 153.1,344.8 123.0,364.1 129.8,359.2 143.3,354.8 128.3,355.9 163.9,323.1 156.7,331.5 132.6,351.1 116.1,370.8 146.2,349.6 160.5,335.5 125.2,364.1 147.9,337.3 163.3,323.5 152.9,342.1 152.8,336.8 139.8,350.1 166.4,333.4 121.3,358.3 151.8,344.1 157.7,338.8 120.3,364.8 164.8,329.4 147.9,347.0 132.0,354.6 143.1,352.3 160.3,337.4 157.8,341.0 120.9,367.8 143.8,340.3 152.8,340.7 144.9,346.9 147.4,348.5 124.8,362.6 152.2,339.5 124.1,363.1 121.6,366.8 153.6,343.8 157.5,330.6 132.0,354.2 152.3,344.6 147.0,349.1 165.3,325.1 155.0,342.3" fill="none" stroke="none" marker-start="url(#o7)" marker-mid="url(#o7)" marker-end="url(#o7)"/><polyline points="162.8,337.6 141.0,333.4 140.3,351.1 135.0,341.7 150.0,329.1 163.8,340.2 165.0,338.4 140.4,335.4 139.1,337.3 138.0,338.1 146.4,338.0 136.2,353.0 161.4,335.2 146.8,332.5 159.8,335.9 144.6,334.1 167.6,329.8 156.8,331.0 155.4,331.4 150.0,340.8 166.7,323.4 156.1,357.7 139.6,333.8 149.1,328.8 138.8,342.1 157.2,331.9 163.9,342.8 156.9,331.1 162.8,347.4 143.3,336.3 152.9,326.2 156.2,342.2 143.6,334.5 164.2,342.7 163.1,345.9 138.5,339.7 163.7,342.8 139.8,342.7 149.0,327.4 164.9,328.3 137.9,338.9 148.4,335.0 155.8,339.9 143.0,336.9 158.0,323.4 153.2,333.7 159.9,334.4 130.5,338.2 131.9,341.2 135.2,338.2 143.4,334.1 156.0,342.9 161.7,333.7 148.7,326.0 160.1,338.1 136.6,339.8 163.9,332.7 139.1,328.2 147.3,334.3 155.0,338.4 143.5,335.8 160.5,341.6 166.5,321.4 131.2,339.0 159.9,334.5 163.3,345.0" fill="none" stroke="none" marker-start="url(#p7)" marker-mid="url(#p7)" marker-end="url(#p7)"/><polyline points="164.8,318.0 124.7,361.7 136.2,342.9 163.2,322.0 163.6,332.5 146.0,345.5 156.9,336.9 126.8,358.5 128.3,356.4 157.9,336.6 155.3,337.4 126.5,356.7 164.8,325.5 141.4,344.5 125.0,353.0 164.9,327.4 128.4,358.7 149.1,343.7 117.0,369.9 120.9,367.1 132.4,351.4 116.6,362.9 143.7,353.6 118.6,361.8 160.3,330.3 133.0,350.1 143.7,338.7 149.1,334.1 126.9,354.8 147.1,334.7 151.3,339.4 136.6,343.5 127.9,355.8 149.3,355.6 156.0,329.4 146.2,347.5 126.2,352.2 166.0,332.0 131.9,353.3 150.6,341.2 152.1,334.1 123.0,357.8 142.7,352.4 152.1,338.2 125.6,364.6 156.1,338.4 159.9,335.9 147.7,346.1 144.0,336.7 129.7,358.0 145.5,346.3 150.7,337.2 153.2,342.0 144.8,337.2 150.2,343.4 161.2,335.9 154.3,345.2 161.8,332.3 128.8,359.0 117.0,370.1 152.7,339.7 142.0,349.0 157.4,341.8 148.7,341.7 155.4,341.0 142.9,351.1 143.3,353.4 148.4,332.1 150.3,341.9 151.8,337.3 141.2,347.0 151.8,338.4 125.9,361.6 159.1,327.3 154.5,337.6 146.9,339.9 141.4,346.9 147.1,337.8 125.6,361.6 134.6,352.4 161.8,329.5 129.2,359.1 157.1,338.2 126.3,365.5 153.6,332.3 131.4,354.2 162.7,327.6 132.3,349.9" fill="none" stroke="none" marker-start="url(#o2)" marker-mid="url(#o2)" marker-end="url(#o2)"/><polyline points="144.5,338.5 140.2,344.2 145.4,337.1 157.0,330.5 144.4,315.5 156.0,325.6 172.9,309.3 165.5,335.1 145.0,328.9 134.5,340.2 162.0,334.0 156.1,329.3 140.7,325.9 153.3,332.8 156.4,339.8 160.0,340.3 145.3,318.4 131.3,351.0 146.1,329.5 156.7,328.3 146.4,315.1 147.6,318.1 143.7,334.2 149.5,335.4 141.3,328.4 134.5,346.0 146.7,327.4 154.6,315.7 148.3,322.0 156.0,323.6 132.5,343.9 138.7,351.4 146.6,336.5 152.2,338.0 135.1,346.8 147.2,322.3 155.7,340.5 149.3,326.9 160.3,334.1 156.4,341.5 161.5,329.8 146.3,337.6 154.4,318.1 157.3,320.2 137.6,335.6 154.7,334.7 156.9,336.1 145.0,323.8 147.8,319.2 159.9,332.0 152.2,346.5 155.7,336.5 139.9,333.8 130.7,337.7 139.7,331.4 135.2,336.1 160.2,339.0 148.0,316.8 137.4,338.8 164.5,323.9 136.1,352.3 146.9,320.3 139.4,329.4 140.8,351.7 142.5,336.6 151.8,339.6 142.9,328.0 138.3,336.1 144.5,314.5 145.1,321.0 133.3,341.1 150.8,320.4 147.0,317.2 144.2,317.2 155.7,335.6 138.8,339.1 148.0,324.2 154.9,328.5 151.8,322.0 163.6,328.0 156.0,329.2 162.2,350.1 138.2,336.8 135.8,343.0 160.2,334.1 174.0,308.8 166.6,326.7 147.1,328.8 131.1,338.4 144.0,327.9 173.7,308.8 136.2,351.1 146.6,319.2 163.1,330.8 157.6,329.5 162.5,344.6 162.7,341.2 147.1,328.5 149.7,327.6 135.7,344.4 146.3,323.4" fill="none" stroke="none" marker-start="url(#p2)" marker-mid="url(#p2)" marker-end="url(#p2)"/><polyline points="157.9,343.5 128.2,362.7 166.6,331.5 152.8,345.7 146.4,354.4 164.1,342.6 153.0,348.6 125.8,358.3 152.6,340.7 132.7,358.9 123.7,364.1 157.1,344.2 145.3,352.2 127.2,359.2 152.2,340.3 124.9,365.9 128.5,358.4 161.2,328.8 161.4,341.1 126.6,360.2 132.7,353.5 152.5,349.0 161.1,337.2 124.1,364.2 149.5,350.1 146.2,354.0 164.8,337.4 140.6,356.4 135.3,355.5 163.8,341.4 132.6,356.2 156.5,340.3 157.4,348.8 147.2,340.9 126.0,367.6 143.0,347.5 149.3,344.0 128.8,358.7 148.5,353.7 163.7,332.3 132.2,354.2 158.5,345.8 119.5,368.7 117.7,374.1 153.7,349.3 148.9,345.5 147.3,342.6 164.0,327.1 156.4,337.6 133.1,355.2 152.3,348.2 121.6,373.4 119.9,374.5 124.4,362.9 150.3,348.1 163.6,326.2 156.8,346.3 157.8,347.1 135.6,351.5 154.3,342.9 148.9,342.7 120.8,368.9 139.2,358.5 153.4,350.9 164.2,333.7 161.9,339.6 117.6,369.8 126.1,359.5 155.5,343.9 139.4,355.8 119.2,369.7 143.9,352.1 123.6,367.2 126.3,358.0 126.5,364.2 153.4,348.3 147.6,345.0 154.0,342.6 143.6,348.0 117.1,359.9 134.0,356.5 163.1,336.5 121.8,358.4 123.4,362.7 151.7,346.5 128.7,353.6 155.1,335.0 144.8,344.2 153.4,342.3 122.2,371.3 154.6,348.0 132.9,353.4 163.6,328.8 134.8,357.6 161.4,338.7 148.3,348.2 154.9,337.9 158.5,332.4 155.9,344.7 127.2,363.4 164.7,336.2 164.2,326.3 129.3,362.6 151.1,346.4 120.9,361.3 126.1,361.3" fill="none" stroke="none" marker-start="url(#o3)" marker-mid="url(#o3)" marker-end="url(#o3)"/><polyline points="156.8,355.2 161.5,341.4 139.3,350.6 133.8,346.2 167.8,337.0 162.0,350.3 151.5,339.2 140.1,344.1 132.7,347.5 139.0,344.6 156.7,350.8 163.5,351.4 163.5,342.3 133.2,356.2 134.9,352.3 157.8,338.1 137.8,349.0 135.3,352.7 145.4,345.9 145.2,338.6 162.2,354.2 152.6,333.0 160.3,338.2 156.4,346.2 134.2,346.7 162.9,347.5 146.6,345.8 137.4,336.7 159.8,347.4 148.6,332.1 137.9,350.3 139.5,344.2 157.6,340.6 141.4,340.5 146.7,344.5 145.0,342.9 152.0,332.4 140.5,335.7 147.8,341.8 136.5,360.2 137.5,357.7 149.3,333.6 137.3,345.6 143.6,341.1 152.2,341.8 146.0,342.9 156.0,345.7 144.8,343.1 154.9,332.1 130.9,345.2 145.0,346.4 141.0,355.2 144.1,340.9 146.3,335.4 137.3,348.9 146.9,347.4 155.2,347.0 137.6,343.5 139.9,335.0 140.3,337.4 145.8,342.3 162.8,355.2 159.9,354.5 133.8,332.7 160.9,353.9 142.0,345.7 138.7,347.0 164.7,338.5 156.3,344.6 141.0,340.1 161.9,342.9 162.2,342.9 164.3,341.7 160.9,352.7 159.9,345.2 163.7,350.5 164.4,337.7 148.2,340.7 143.7,342.7 158.0,350.1 156.0,348.7 155.0,333.6 145.2,344.8 131.4,344.2 132.6,351.8 148.5,326.3 163.3,349.7 132.3,351.7 167.4,336.1 161.7,343.5 137.6,347.8 164.7,341.4 132.8,352.7 137.5,346.4 162.2,349.0 163.3,352.8 162.3,350.6 134.1,345.5 144.1,345.9 131.0,344.5 149.8,347.7 144.9,336.1 141.2,341.8 137.1,346.8 142.9,342.9 149.0,331.8 165.8,355.9 156.1,348.4 144.3,335.9" fill="none" stroke="none" marker-start="url(#p3)" marker-mid="url(#p3)" marker-end="url(#p3)"/><polyline points="131.5,357.5 122.2,362.0 117.8,372.0 128.3,360.1 151.9,349.4 117.1,372.5 119.6,366.6 133.1,355.4 142.4,347.4 160.9,336.5 128.3,359.5 128.7,362.9 128.0,361.3 139.9,354.0 155.9,342.0 127.2,362.5 133.0,354.5 151.1,344.2 160.5,340.5 150.3,349.4 132.3,351.8 128.8,357.8 135.5,353.7 164.0,328.6 164.9,333.8 153.1,346.8 123.2,361.7 123.9,362.6 124.7,360.1 145.1,350.6 161.2,334.9 155.7,345.1 148.5,339.8 154.0,336.7 141.0,351.9 131.3,353.3 127.7,361.4 146.3,348.8 145.7,342.9 128.1,359.2 130.1,360.7 120.2,367.3 152.7,345.8 143.2,350.9 164.1,329.4 119.0,364.7 156.9,343.2 155.8,342.9 130.6,358.1 119.6,367.8 120.2,367.5 154.5,345.9 159.4,333.7 165.3,329.6 135.8,348.1 127.8,362.5 165.3,335.8 132.1,352.7 136.4,348.7 128.8,358.6 149.7,340.7 127.7,360.0 117.8,371.0 148.1,344.2 143.8,348.5 149.5,348.2 143.6,343.0 151.4,340.1 116.4,372.3 126.7,362.0 128.2,360.7 126.9,361.9 125.6,357.5 157.9,343.5 154.3,338.0 122.5,362.0 120.8,361.6 148.2,350.0" fill="none" stroke="none" marker-start="url(#o5)" marker-mid="url(#o5)" marker-end="url(#o5)"/><polyline points="162.3,348.5 158.3,341.0 138.9,342.4 167.4,335.7 147.0,343.0 152.4,328.7 155.9,327.2 137.2,345.0 139.2,332.8 154.1,336.7 166.0,351.1 155.4,344.1 157.0,336.0 131.2,348.5 161.4,339.2 162.7,352.8 143.9,342.3 160.9,349.9 140.2,337.7 163.3,338.2 141.1,338.4 163.5,348.9 134.9,337.2 159.0,347.1 144.0,345.1 158.9,343.6 168.0,343.4 162.6,346.0 149.6,342.1 140.9,336.7 151.7,340.9 160.2,346.6 148.2,330.9 155.7,339.4 163.6,340.0 159.4,340.7 162.1,339.9 139.8,335.2 131.4,342.0 132.3,350.2 144.7,340.8 145.3,343.4 145.9,337.5 167.9,334.0 151.7,337.9 152.8,329.0 141.2,335.6 161.7,347.3 156.7,336.1 141.2,342.1 148.2,329.4 165.1,340.5 166.5,349.6 164.3,336.0 143.9,335.3 143.7,334.8 145.4,333.0 163.8,337.4 155.9,344.7 162.8,341.7 167.0,342.1 159.6,342.3 149.4,332.7 140.9,345.6 134.0,343.3 157.9,325.5 147.1,329.4 156.3,350.5 158.2,327.2 137.8,348.7 140.2,344.4 134.6,351.4 144.1,338.9 138.8,342.5 139.1,345.6 155.4,345.7 152.2,340.8 162.7,340.7" fill="none" stroke="none" marker-start="url(#p5)" marker-mid="url(#p5)" marker-end="url(#p5)"/><polyline points="126.6,352.4 134.0,355.1 129.8,356.2 120.5,363.7 126.4,355.2 118.4,367.5 135.1,353.4 119.9,365.1 123.1,355.8 123.0,357.8 121.6,363.7 119.7,365.4 122.1,361.8 133.6,353.3 125.5,359.5 117.9,371.3 121.7,360.3 119.3,363.3 129.2,353.1 133.2,347.1 115.4,366.4 133.7,351.8 117.6,369.2 121.7,360.8 117.3,369.6 114.8,366.5 115.1,363.4 115.7,364.3 126.1,358.8 123.7,359.8 118.1,371.0 129.8,355.5 128.4,355.7 121.4,361.9 118.9,359.9 124.6,364.1 117.6,367.4 119.8,360.7 126.3,355.9 130.4,353.3 123.2,360.2 120.0,361.4 134.5,353.8 124.2,359.4 117.0,364.9 124.6,360.1 133.7,348.9 115.7,363.4 121.9,362.7 124.6,358.4 118.8,362.4 126.4,361.3 134.1,350.3 114.2,361.0 124.7,357.9 115.7,364.4 129.4,357.1 119.6,363.5 130.0,356.1 121.0,361.5 120.6,357.4 129.6,356.8 117.6,366.6 123.8,357.1 114.8,364.8 120.2,364.0 119.3,366.6 120.2,358.7 130.0,353.6 118.3,358.5 116.8,367.4 119.4,361.5 120.0,362.4 121.6,363.4 116.2,365.4" fill="none" stroke="none" marker-start="url(#p0)" marker-mid="url(#p0)" marker-end="url(#p0)"/><polyline points="127.9,358.9 132.9,353.0 163.5,322.0 135.7,352.1 116.5,372.0 166.9,327.5 136.6,349.6 152.3,343.0 163.4,332.9 118.4,372.0 141.3,350.1 153.5,339.6 164.7,327.9 145.5,349.2 151.5,336.3 150.1,344.9 128.2,358.2 145.7,348.3 153.6,334.4 156.1,340.5 128.2,357.8 148.5,339.6 121.2,368.1 132.3,351.8 147.5,340.8 127.0,361.7 133.3,353.8 164.1,325.9 126.7,357.7 129.7,359.4 149.2,351.2 148.1,338.7 143.6,340.9 156.5,341.9 139.5,348.9 150.8,346.1 136.7,351.1 144.8,340.5 154.3,341.2 132.5,353.9 156.0,333.6 125.3,362.4 160.9,338.9 152.9,336.4 153.2,345.3 120.2,370.1 144.8,351.7 125.9,356.2 160.6,333.7 116.0,372.0 153.8,334.2 126.1,362.3 127.4,361.1 151.2,342.3 165.6,330.1 161.2,330.6 124.5,358.1 124.2,363.0 143.3,348.5 152.0,347.4 145.8,345.1" fill="none" stroke="none" marker-start="url(#o6)" marker-mid="url(#o6)" marker-end="url(#o6)"/><polyline points="167.6,333.1 137.3,341.4 141.6,350.3 156.0,342.8 163.0,338.4 155.2,332.9 150.3,337.8 143.9,339.5 146.0,340.8 150.4,328.9 140.5,336.9 146.6,334.2 134.5,348.5 159.2,338.7 152.3,324.8 132.3,350.3 136.5,354.1 143.7,333.2 140.2,349.5 143.1,340.7 156.5,339.4 143.3,331.9 165.6,347.3 143.9,333.0 157.4,332.3 157.9,324.8 155.0,323.5 132.4,348.2 131.4,354.3 167.4,340.1 167.4,341.1 162.5,346.7 136.1,340.5 164.5,340.1 146.9,334.4 146.9,349.1 163.0,348.1 167.4,333.8 142.8,335.9 163.6,342.6 141.3,345.2 137.9,338.7 149.0,328.0 166.6,324.8 151.9,334.6 139.1,330.8 143.1,339.7 160.5,347.7 161.8,337.8 159.6,337.5 157.6,334.3 146.0,341.1 162.8,345.4 143.8,340.3 156.4,335.3 144.0,340.3 148.5,330.1 133.1,346.0 136.0,356.2 134.7,341.1 160.1,343.0 139.0,343.2 146.3,336.0 137.5,341.8 130.8,346.2 143.6,336.9 156.2,354.2 163.7,333.5 155.4,342.3 164.9,337.1 149.7,337.3 138.3,339.8 138.4,343.8 162.5,346.0" fill="none" stroke="none" marker-start="url(#p6)" marker-mid="url(#p6)" marker-end="url(#p6)"/><polyline points="147.0,317.5 148.9,322.6 145.3,319.1 144.7,318.1 145.1,323.4 148.2,316.7 148.3,317.8 144.6,316.3 147.3,324.7 145.3,319.0 145.4,319.4 145.5,310.8 148.0,318.0 147.7,319.4 145.8,316.2 147.7,317.3 145.1,320.9 148.1,314.5 148.5,321.5" fill="none" stroke="none" marker-start="url(#p1)" marker-mid="url(#p1)" marker-end="url(#p1)"/><polyline points="148.8,342.2 116.6,365.7 149.9,351.9 154.4,344.9 150.0,343.7 125.7,361.7 117.3,372.5 133.4,352.6 145.0,352.6 147.9,348.1 165.4,326.8 144.0,352.5 149.7,342.0 149.0,344.5 152.4,345.1 154.2,342.8 156.7,342.9 160.0,338.0 133.1,353.6 158.2,330.6 120.7,364.3 153.9,335.6 154.4,343.1 144.8,340.7 157.1,339.2 153.3,342.4 125.9,363.7 146.5,340.7 152.1,340.6 116.9,369.8 148.6,354.0 152.9,343.8 141.2,348.3 128.2,359.0 157.9,340.1 152.6,335.6 153.8,339.3 140.8,348.4 148.5,338.3 128.3,355.3 120.0,364.5 120.2,370.0 136.2,351.5 167.0,325.4 147.5,337.8 132.0,355.2 128.1,360.6 124.9,355.2 155.0,339.1 133.4,349.9 145.7,340.4 151.1,340.5 118.0,370.8 161.3,332.9 128.6,356.4 151.9,341.7 125.2,357.3 153.0,332.7 150.7,344.0 149.3,352.4" fill="none" stroke="none" marker-start="url(#o7)" marker-mid="url(#o7)" marker-end="url(#o7)"/><polyline points="157.3,322.0 135.7,354.4 147.7,333.7 144.2,329.9 152.0,341.8 132.2,342.6 164.3,342.2 157.4,347.2 168.2,329.2 146.4,339.0 159.0,343.7 147.0,325.0 142.1,337.5 143.1,330.2 134.1,343.3 150.8,326.6 153.2,334.8 158.8,336.0 157.1,330.8 141.1,346.9 164.1,331.0 145.9,339.9 145.9,330.8 135.4,349.0 145.9,332.8 160.2,339.2 131.5,338.8 161.9,343.8 162.2,335.5 156.0,338.9 149.7,337.1 162.5,345.3 147.8,347.0 161.1,350.2 167.3,338.4 145.3,339.0 146.9,332.7 166.5,330.9 164.4,335.9 157.2,331.0 136.2,341.3 146.6,330.2 143.3,343.1 137.4,341.4 134.2,341.0 147.9,327.5 165.3,336.5 137.8,339.2 141.1,348.6 168.0,327.9 163.3,343.7 156.2,349.3 155.9,332.9 139.1,337.1 143.7,336.7 143.7,351.0 153.5,340.2 157.4,332.1 154.5,320.9 133.6,344.8 162.6,343.9 137.8,335.6 136.5,347.7 162.6,343.3 142.9,332.6 166.6,344.1" fill="none" stroke="none" marker-start="url(#p7)" marker-mid="url(#p7)" marker-end="url(#p7)"/><polyline points="116.3,369.3 125.4,361.2 172.8,310.9 164.4,322.0 157.8,335.4 149.9,354.8 145.3,353.7 148.8,341.4 120.0,367.7 154.0,337.4 117.4,374.3 132.2,353.1 157.4,336.8 153.3,334.6 115.6,364.4 152.6,344.0 153.7,339.8 136.1,342.7 156.0,341.2 118.9,373.5 126.2,355.8 147.6,346.0 147.6,347.2 127.2,355.9 173.3,310.3 124.9,357.0 127.5,359.0 117.2,366.5 140.1,345.8 152.4,328.6 152.5,339.4 128.1,356.7 128.8,359.1 172.5,311.4 143.8,357.7 153.9,338.4 158.8,329.4 153.5,331.4 165.0,326.3 166.6,334.9 133.4,349.0 146.8,337.0 154.5,335.8 154.8,340.2 153.9,329.0 153.7,344.1 149.1,356.8 117.2,367.7 126.8,360.3 154.3,337.9 144.7,340.0 153.5,340.7 150.5,336.6 165.0,324.1 147.2,348.7 156.6,331.0 162.7,334.6 146.8,336.4 122.9,359.0 165.4,327.0 128.9,356.0 146.5,348.4 123.9,361.5 157.8,326.0 120.6,363.3 116.9,368.8 128.6,360.4 129.2,355.4 136.1,345.6 159.9,337.6 127.3,358.1 155.7,335.8 156.8,337.9 158.0,328.2 122.4,366.4 153.6,331.6 151.6,347.9 163.6,321.0 143.6,353.4 173.3,309.0 153.4,330.2 160.2,335.5 131.5,352.9 148.5,344.8 143.2,355.5 161.1,332.0 144.4,344.8 141.4,349.8" fill="none" stroke="none" marker-start="url(#o2)" marker-mid="url(#o2)" marker-end="url(#o2)"/><polyline points="139.5,326.9 143.5,333.2 163.4,352.4 137.9,335.9 145.6,322.4 148.0,341.7 165.4,343.0 137.3,335.3 132.0,338.7 147.1,321.2 151.8,330.6 142.2,349.3 146.6,320.9 142.1,345.8 163.5,342.4 134.6,339.1 157.0,360.4 153.1,323.3 143.2,335.9 146.4,321.9 167.0,335.9 147.4,316.4 138.3,335.3 143.2,333.5 147.0,314.0 148.8,334.9 155.3,338.0 157.9,347.4 145.6,338.3 148.5,324.6 162.8,346.7 138.2,338.2 146.4,331.8 134.6,349.5 163.4,348.3 162.9,349.1 139.5,328.5 147.3,317.7 162.9,343.6 143.7,334.3 136.3,342.9 163.5,343.9 154.0,339.5 162.9,341.0 154.2,331.3 162.5,341.7 162.0,342.9 156.3,338.9 156.1,337.3 156.1,338.4 133.3,343.0 163.1,345.2 165.7,335.6 136.5,346.9 148.8,332.0 157.8,318.8 148.8,331.3 144.0,327.4 156.0,347.2 153.6,338.4 157.0,330.0 138.6,326.0 139.3,354.7 147.7,323.4 136.7,334.0 168.5,327.8 145.8,338.7 131.9,340.5 143.1,319.9 141.2,347.1 146.8,322.5 165.1,334.9 167.3,336.7 162.2,331.9 146.7,331.7 140.1,356.2 161.2,353.7 161.4,343.2 144.4,334.3 159.9,339.5 142.8,330.9 144.1,316.6 143.7,354.8 137.4,337.2 142.5,333.4 157.4,359.5 156.5,331.5 159.9,333.1 159.5,337.2 138.7,339.9 159.7,339.7 143.1,352.5 144.8,314.0 158.0,349.6 164.7,334.6 144.5,314.6 131.7,341.0 163.4,340.6 149.0,333.6 139.9,341.0 144.8,332.3 130.2,336.2" fill="none" stroke="none" marker-start="url(#p2)" marker-mid="url(#p2)" marker-end="url(#p2)"/><polyline points="126.1,362.7 152.2,351.8 119.9,369.5 120.0,372.6 153.7,346.0 153.4,345.0 155.9,346.5 151.2,335.9 121.2,369.4 127.8,362.6 134.8,352.7 149.4,343.4 153.7,340.0 162.6,338.5 127.7,362.0 141.7,354.9 124.3,364.1 128.4,358.5 146.5,344.7 118.3,374.1 128.7,354.3 140.2,355.3 164.8,324.9 155.2,347.1 136.0,355.3 162.5,335.9 161.8,343.4 124.7,364.5 123.3,362.5 148.3,347.8 127.0,359.8 151.3,337.9 120.5,370.3 163.9,340.4 120.9,370.9 166.9,329.6 142.8,357.2 129.3,358.5 116.5,374.2 150.5,348.4 145.5,352.9 156.1,347.0 162.7,337.7 127.3,362.6 135.9,346.7 144.2,348.4 139.6,357.1 141.4,353.1 153.0,342.6 148.1,354.7 165.7,325.3 147.4,342.9 128.3,361.9 150.8,338.1 120.3,368.8 142.3,353.6 148.7,342.9 158.4,335.1 157.0,338.6 159.7,342.0 165.3,330.6 154.4,345.6 148.4,347.5 145.2,352.3 128.5,360.6 123.2,367.7 165.7,334.5 125.7,365.0 154.1,347.3 152.4,348.2 131.6,360.7 150.5,343.5 128.2,358.6 117.6,369.1 120.1,370.1 121.6,362.7 147.9,354.1 136.1,346.4 152.8,349.3 165.7,331.7 141.6,354.4 151.7,350.5 123.3,364.0 155.6,345.6 126.9,358.8 146.1,343.4 158.7,332.0 150.6,337.3 116.3,369.1 147.0,354.6 130.2,362.3 153.3,348.9 147.8,352.4 158.5,344.8 132.1,354.3 146.6,345.3 143.2,346.0 143.6,347.6 153.2,353.4 165.7,335.3 161.7,325.4 151.8,342.6 161.0,341.1 126.5,360.0 134.7,357.4 127.6,363.9" fill="none" stroke="none" marker-start="url(#o3)" marker-mid="url(#o3)" marker-end="url(#o3)"/><polyline points="153.9,339.3 158.8,329.2 143.5,341.4 145.1,345.3 131.9,361.1 144.6,339.6 154.1,337.9 143.8,332.9 157.9,344.1 137.9,333.3 145.5,338.4 160.2,352.9 147.7,340.4 164.3,336.4 137.4,335.6 162.4,344.4 149.7,331.3 146.2,337.6 163.2,333.1 156.4,349.3 136.1,356.8 143.7,337.4 146.8,357.0 139.3,348.0 136.9,354.0 156.3,343.6 161.9,336.1 162.9,350.8 137.3,337.8 131.0,359.6 157.9,330.3 145.8,343.9 147.6,339.9 163.7,330.9 146.0,338.0 145.9,339.3 135.5,354.5 146.0,345.3 140.3,341.2 132.4,348.2 164.7,336.7 155.8,338.1 158.5,346.3 141.3,343.7 159.6,346.1 144.1,338.8 145.7,340.9 166.2,347.1 132.4,345.9 156.2,347.2 157.8,338.5 155.9,343.6 156.4,344.2 163.2,343.9 140.9,338.5 161.6,346.6 137.5,346.2 152.0,329.7 155.6,354.5 162.1,341.5 141.5,341.8 155.7,334.5 135.2,353.8 143.7,343.5 144.2,345.5 137.7,343.0 143.3,346.2 143.4,345.7 164.0,343.4 158.0,338.3 147.5,344.1 138.8,347.5 151.6,350.7 153.4,346.5 137.5,355.7 156.6,346.8 163.5,332.7 143.5,343.3 141.2,339.6 153.0,345.3 157.1,341.7 137.4,352.1 156.4,342.1 137.3,350.6 151.9,338.2 149.1,333.3 155.9,349.5 144.3,339.7 164.0,346.0 165.0,341.1 147.9,329.0 160.1,347.5 157.2,356.9 139.8,342.6 167.8,345.2 159.5,356.0 159.3,349.4 141.9,343.2 160.3,338.5 131.7,345.9 158.7,339.8 151.0,332.6 136.9,357.8 155.0,340.8 138.3,345.8 140.6,346.4 167.9,345.6 167.7,339.6 159.7,348.4 131.5,350.4" fill="none" stroke="none" marker-start="url(#p3)" marker-mid="url(#p3)" marker-end="url(#p3)"/><polyline points="147.7,350.7 149.1,346.6 154.1,330.3 150.8,345.0 156.7,347.4 149.1,346.9 162.3,333.9 146.3,352.8 144.5,342.7 160.3,340.4 132.4,358.0 135.7,348.3 156.7,341.8 154.0,339.1 157.5,346.3 152.0,343.7 156.4,336.3 122.7,361.3 126.3,358.8 146.1,351.5 125.8,364.0 150.4,339.7 125.5,363.2 128.9,362.5 162.2,335.5 120.6,366.8 136.6,344.9 161.6,336.9 150.1,346.5 155.2,343.8 134.1,356.3 153.6,346.4 116.8,368.0 128.5,354.6 146.8,342.7 146.6,352.5 155.8,341.9 152.2,337.1 133.4,354.2 152.9,347.5 156.0,334.4 155.5,344.0 164.2,325.7 151.8,350.7 152.3,344.2 116.0,368.7 120.8,360.2 143.3,349.7 163.9,339.4 148.8,345.1 124.2,361.8 166.1,328.2 164.0,325.9 157.6,342.5 164.6,336.9 161.4,328.6 123.5,364.6 146.5,343.5 146.9,344.5 160.1,337.3 139.9,352.7 143.1,348.5 135.7,349.4 153.3,331.7 156.9,335.1 143.8,349.3 133.1,354.2 140.0,353.0 129.3,357.2 156.7,341.5 126.1,360.9 125.1,363.3 152.7,346.7 165.2,332.3 126.7,359.3 153.5,346.2 121.3,369.7 118.8,365.6" fill="none" stroke="none" marker-start="url(#o5)" marker-mid="url(#o5)" marker-end="url(#o5)"/><polyline points="162.1,338.5 166.6,341.4 131.7,343.0 142.0,340.4 131.4,357.3 136.6,352.3 136.6,356.6 156.9,345.0 145.0,342.4 159.2,343.4 133.0,348.9 142.2,339.6 139.1,345.3 160.7,337.5 134.4,350.4 137.7,343.4 149.9,343.8 161.4,348.7 143.8,341.5 143.8,338.2 147.9,329.7 137.1,351.8 154.2,335.6 147.9,338.5 131.4,342.7 143.3,342.9 132.3,345.0 144.1,346.1 134.8,350.0 164.9,332.9 145.1,335.8 146.7,341.5 140.3,340.5 164.4,339.5 136.0,336.0 144.4,336.4 146.6,337.9 156.2,346.3 145.3,339.2 140.6,333.8 162.6,343.2 156.3,337.8 162.7,340.1 150.4,329.9 145.4,343.0 153.8,343.4 131.5,343.2 152.0,330.5 143.1,335.9 135.4,352.1 168.0,334.6 147.4,343.7 163.3,347.2 152.2,328.0 166.8,326.8 144.3,337.7 156.0,337.0 140.2,338.8 151.3,346.1 156.0,349.0 138.0,340.5 157.6,348.8 143.9,337.2 146.0,338.6 155.7,325.6 137.4,343.4 160.2,336.4 134.3,344.7 137.5,339.0 157.5,336.2 146.0,333.5 163.8,335.1 163.1,350.6 137.2,344.0 131.5,350.5 132.1,346.3 144.7,343.3 164.5,339.8 158.3,341.3" fill="none" stroke="none" marker-start="url(#p5)" marker-mid="url(#p5)" marker-end="url(#p5)"/><polyline points="133.7,349.1 117.9,361.0 129.5,355.0 119.7,363.0 121.1,358.7 128.2,358.5 117.8,358.8 124.6,358.9 133.5,350.7 125.3,361.3 130.0,355.1 119.1,365.1 121.4,361.4 123.7,358.7 129.1,357.2 133.7,355.4 125.8,358.6 134.4,352.4 126.7,353.0 129.3,354.3 126.0,357.6 114.7,359.1 133.4,349.9 117.8,367.4 133.6,350.9 125.3,359.7 116.6,363.6 115.7,362.1 123.4,358.6 115.2,363.8 118.7,364.5 130.2,356.3 124.5,361.2 117.8,366.3 119.6,363.5 123.9,362.6 120.2,364.4 116.0,368.8 124.4,357.8 124.4,358.5 115.6,367.1 124.0,361.4 116.4,362.9 115.6,363.0 130.3,355.0 130.2,355.3 114.8,363.7 123.5,358.4 128.6,359.6 119.3,366.9 119.4,366.8 116.2,365.5 123.6,361.5 115.2,370.7 129.5,356.5 116.7,367.9 121.4,358.5 121.0,364.2 133.1,348.1 119.4,361.9 121.6,360.6 121.7,362.5 129.7,354.8 121.5,359.6 119.4,362.0 121.4,359.6 124.1,359.7 116.3,365.6 120.3,359.9 119.8,359.9 130.7,352.5 133.7,349.7 121.4,362.5 124.3,357.1 134.4,354.6" fill="none" stroke="none" marker-start="url(#p0)" marker-mid="url(#p0)" marker-end="url(#p0)"/><polyline points="127.0,357.3 153.9,335.7 164.2,327.6 117.0,372.0 151.7,341.6 139.0,350.9 153.3,344.5 146.6,350.2 154.2,342.0 128.1,356.6 145.6,347.7 152.9,348.0 154.5,341.6 147.8,342.6 143.7,353.1 166.4,331.6 128.3,361.7 163.2,337.3 164.0,324.5 127.2,361.2 128.5,356.3 135.3,347.5 123.7,360.2 123.0,361.1 164.6,323.4 141.3,352.2 140.8,351.3 153.0,345.4 128.6,359.6 134.4,355.1 148.5,349.2 146.3,350.0 163.8,336.1 153.4,345.3 149.2,338.7 153.8,333.1 150.1,341.3 120.9,365.5 164.5,330.7 148.6,350.0 148.0,350.6 164.8,322.6 160.8,334.1 147.7,347.4 150.2,342.5 133.6,353.5 124.2,361.9 157.1,340.7 121.7,359.5 155.6,343.3 147.4,341.2 141.3,350.9 157.2,338.0 143.1,350.3 128.6,357.3 144.5,351.5 165.1,334.7 146.9,351.1 120.4,366.4 122.2,363.4 161.8,335.7" fill="none" stroke="none" marker-start="url(#o6)" marker-mid="url(#o6)" marker-end="url(#o6)"/><polyline points="136.6,349.4 163.9,336.6 156.2,336.8 159.7,340.2 146.1,334.9 140.9,331.5 148.4,336.9 156.5,350.3 140.8,335.6 143.9,335.3 162.1,349.4 157.2,333.8 165.1,338.4 140.4,336.4 142.2,338.6 164.9,338.2 146.7,342.3 138.7,342.4 164.8,341.7 142.0,338.6 161.8,336.0 134.1,343.5 162.6,345.5 159.7,344.1 132.6,347.4 138.6,340.1 156.3,352.5 157.4,333.5 149.9,339.2 162.8,344.7 166.0,340.4 154.9,333.6 156.6,334.0 144.2,337.9 153.7,342.6 149.5,329.6 135.7,355.5 131.2,354.7 159.2,340.5 143.1,349.4 143.5,348.5 151.3,327.4 161.9,337.5 147.3,335.6 165.4,337.8 156.9,346.1 159.7,343.9 144.8,336.6 163.4,345.0 152.7,342.4 162.2,347.4 146.9,340.8 152.0,327.7 144.1,337.4 156.9,344.5 135.9,338.4 147.1,328.5 140.7,341.2 147.9,332.5 131.9,341.7 146.0,339.5 152.9,335.8 162.5,345.1 161.6,347.0 137.6,341.1 149.6,330.0 135.3,350.8 139.8,341.1 139.1,344.5 164.2,334.7 133.9,347.6 140.8,333.2 138.5,346.0 149.6,340.2 144.3,341.6" fill="none" stroke="none" marker-start="url(#p6)" marker-mid="url(#p6)" marker-end="url(#p6)"/><polyline points="149.1,325.3 146.8,327.2 147.0,324.5 145.5,309.3 145.5,314.0 147.0,319.8 145.5,322.6 147.7,314.5 147.3,316.8 148.5,314.2 148.6,320.4 145.7,317.2 147.9,318.6 148.3,314.5 147.6,319.7 144.7,320.7 147.5,320.6 149.7,323.2 145.3,322.8" fill="none" stroke="none" marker-start="url(#p1)" marker-mid="url(#p1)" marker-end="url(#p1)"/><polyline points="163.9,319.8 128.9,356.3 160.7,332.8 145.2,339.0 120.3,365.3 127.6,358.2 163.9,334.9 163.8,324.5 129.0,357.6 145.5,345.6 121.2,369.0 153.0,343.5 153.6,333.7 122.8,359.6 143.8,346.9 156.6,339.2 156.3,339.6 116.8,364.7 127.3,357.5 150.1,343.6 123.3,361.6 153.8,342.4 162.8,330.9 147.6,339.2 136.0,344.2 150.9,338.9 161.5,332.2 139.9,348.2 160.1,331.8 157.0,332.3 122.5,360.7 148.8,336.0 136.2,346.2 140.8,348.9 154.0,334.0 128.2,360.4 132.9,350.5 146.2,347.0 141.7,348.6 165.4,333.3 127.1,361.0 128.4,357.0 145.5,347.3 128.5,357.3 147.8,347.3 142.3,350.2 118.9,363.8 126.9,360.0 147.8,340.0 127.0,356.3 146.9,347.2 126.8,356.8 152.1,341.5 162.3,329.7 140.9,349.2 134.1,352.4 126.0,362.4 122.8,365.1 154.7,334.3 144.0,352.8 135.1,352.0" fill="none" stroke="none" marker-start="url(#o7)" marker-mid="url(#o7)" marker-end="url(#o7)"/><polyline points="162.6,348.5 139.1,343.2 143.8,329.4 145.3,333.1 156.5,342.5 155.1,326.8 146.0,340.8 136.2,346.6 143.8,340.2 140.6,331.1 165.6,338.1 139.9,352.3 142.2,333.4 143.3,336.9 138.6,347.9 164.5,336.5 132.1,346.9 160.1,341.7 161.0,345.6 132.9,345.4 140.7,330.2 145.4,331.1 154.5,319.8 164.3,341.0 137.5,339.7 163.7,331.8 152.7,344.1 157.0,341.1 161.7,333.2 148.2,334.6 162.9,344.1 144.0,336.0 160.0,338.0 137.9,340.7 155.5,348.0 161.3,351.6 131.3,339.6 151.7,332.6 152.2,323.1 156.8,332.6 155.0,339.3 131.7,352.7 137.1,338.2 156.4,355.3 136.6,345.5 145.6,339.6 145.1,333.6 157.5,329.1 152.3,343.9 146.2,331.8 167.6,339.6 140.2,330.1 135.2,348.0 139.6,340.9 152.1,323.4 162.4,343.5 154.9,332.4 132.6,342.8 146.0,338.9 136.5,342.7 136.0,343.8 160.2,342.1 151.4,327.1 147.0,333.6 133.4,344.4 134.4,346.3" fill="none" stroke="none" marker-start="url(#p7)" marker-mid="url(#p7)" marker-end="url(#p7)"/><polyline points="145.6,348.1 156.7,329.8 120.2,363.9 124.1,361.1 123.8,361.3 144.5,354.7 127.7,356.1 140.2,346.9 147.3,346.8 119.2,362.2 145.7,345.8 136.9,351.7 119.8,363.4 163.5,330.0 157.9,338.0 140.1,348.2 165.1,332.1 166.7,324.2 132.6,350.1 164.2,321.8 128.2,359.4 128.4,355.7 143.8,342.7 121.8,358.7 122.6,367.7 123.7,359.8 125.6,354.6 128.1,356.8 147.7,344.2 122.6,358.9 134.9,351.1 121.0,363.5 136.9,353.0 152.3,332.7 163.4,332.2 172.4,310.7 150.3,340.8 156.9,344.3 153.6,338.0 155.3,346.1 146.1,346.7 120.8,363.2 126.9,358.9 125.9,360.7 173.2,309.3 155.8,336.5 122.9,366.5 152.7,339.8 150.6,338.7 154.4,337.8 149.6,340.1 140.3,345.1 146.7,339.5 166.6,336.0 145.8,347.8 120.7,362.4 152.1,346.4 149.2,345.4 121.4,358.1 144.8,338.7 135.5,351.5 122.6,358.9 128.1,355.8 153.0,342.7 156.1,337.9 135.6,343.8 145.7,337.9 153.9,342.8 146.7,344.8 134.5,351.3 157.4,342.6 128.4,355.7 122.1,364.5 149.2,343.7 147.8,336.5 133.5,352.0 135.9,350.7 129.8,357.4 151.7,338.8 153.5,341.1 120.5,366.2 165.3,325.6 162.7,326.2 156.5,331.2 160.8,330.7 119.8,367.6 149.3,354.8 139.7,346.2" fill="none" stroke="none" marker-start="url(#o2)" marker-mid="url(#o2)" marker-end="url(#o2)"/><polyline points="163.9,335.6 157.8,328.4 143.7,334.3 131.9,339.4 144.8,332.0 139.2,349.0 166.7,340.2 150.6,340.6 138.8,324.1 144.2,312.8 157.1,329.0 148.1,332.5 150.2,342.5 137.1,334.8 148.3,321.0 145.2,330.0 147.4,320.0 164.7,345.1 138.7,338.1 172.6,309.4 165.6,343.5 143.0,327.3 149.4,325.8 137.8,337.2 144.3,332.0 147.7,325.7 135.9,345.8 139.5,330.8 144.4,319.3 145.0,337.3 168.4,325.9 147.8,323.6 163.9,328.5 146.4,327.8 163.7,343.7 144.6,321.6 163.3,334.0 139.5,339.6 144.4,331.3 147.7,336.1 139.8,335.2 160.1,336.7 167.0,319.7 152.7,329.5 143.6,346.3 139.9,329.9 150.6,324.9 146.1,330.1 138.4,339.5 140.0,338.0 156.5,325.7 156.3,327.2 164.4,326.1 147.9,329.6 147.6,319.8 136.6,336.3 130.8,351.4 159.7,335.6 130.8,337.7 143.1,332.9 135.8,344.3 136.6,337.2 167.0,328.6 143.9,311.3 133.1,342.4 145.1,317.7 164.4,336.2 166.2,333.4 167.1,319.4 151.0,324.5 146.4,335.5 136.7,338.0 149.1,325.7 132.6,345.3 144.1,345.0 135.9,348.1 151.8,345.0 161.9,334.2 147.0,318.3 163.6,329.4 159.4,332.1 141.1,345.6 161.5,331.6 142.2,334.5 156.1,339.9 157.6,328.5 156.9,327.6 152.9,325.3 145.5,339.2 159.9,337.4 146.7,336.9 134.9,336.9 161.1,352.5 149.8,326.3 161.4,331.3 132.7,344.1 146.5,315.8 144.1,315.8 161.5,340.4 160.3,337.9 155.6,347.0 147.7,344.1" fill="none" stroke="none" marker-start="url(#p2)" marker-mid="url(#p2)" marker-end="url(#p2)"/>
<polyline points="261.8,121.0 265.8,117.4 257.4,132.4 268.1,119.2 253.5,129.1 251.8,132.9 251.1,133.5 266.6,122.9 266.8,122.2 258.9,126.9 256.2,130.7 267.5,117.4 261.2,121.7 256.7,131.5 268.3,116.6 252.2,134.3 266.9,117.6 257.7,124.8 264.6,121.2 256.6,132.5 257.4,125.3 262.4,124.1 260.7,129.5 261.0,126.6 253.8,128.6 252.5,134.1 259.2,124.0 262.9,127.6 261.2,127.5 250.5,135.8 259.3,124.1 250.6,134.5 260.8,125.6 259.5,123.5 255.1,131.9 260.7,128.6 259.7,127.9 264.7,119.6 261.0,126.9 255.2,128.3 250.9,133.8 266.9,119.7 263.6,121.1 260.1,130.3 264.5,122.2 265.2,117.4 261.8,123.4 264.4,119.2 259.2,124.3 263.5,120.9 260.8,129.6 264.3,119.8 255.2,133.0 254.7,132.0 265.3,124.1 269.2,117.3 256.3,132.9 262.8,120.6 251.8,136.5 250.3,137.0 268.0,117.0 266.3,118.5 255.0,134.1 253.6,132.2 260.6,129.5 266.4,121.0 262.4,121.2 256.0,127.2 259.8,125.6 260.9,124.5 263.6,119.0 256.6,126.9 255.8,127.2 261.1,122.4 261.0,128.9 250.0,136.3 257.1,129.4 255.0,128.1 261.6,125.6 268.7,121.0 251.4,134.4 253.3,130.2 251.1,132.0 250.8,133.0 258.2,131.0 266.1,120.0 259.6,124.2 269.2,113.2 267.0,123.0 268.3,117.6 265.4,121.1 258.0,125.4 261.1,125.8 257.5,130.7 255.5,132.2 266.6,120.5 259.8,129.7 259.1,125.8 268.3,118.3 261.5,122.8 256.0,128.8 252.0,130.9 258.0,131.4 254.8,129.4 252.4,135.1 253.1,131.0 263.8,124.8 252.7,133.0 262.4,127.7 251.7,130.6 267.8,120.4 261.3,122.9 261.5,127.0 256.7,125.9 265.5,122.0 259.5,130.9 264.0,125.1 253.0,130.4 252.0,132.5 252.3,132.1" fill="none" stroke="none" marker-start="url(#o0)" marker-mid="url(#o0)" marker-end="url(#o0)"/><polyline points="236.1,144.4 232.4,151.8 231.1,148.1 247.7,136.2 239.4,143.2 232.1,151.7 222.1,156.5 234.8,145.9 260.2,123.4 230.1,148.6 270.5,112.7 232.7,149.5 233.6,148.5 226.4,154.3 266.6,116.8 269.3,112.3 262.9,119.0 240.5,141.8 248.6,133.8 217.0,165.3 261.1,128.2 232.6,148.8 239.9,141.4 251.1,131.9 222.4,156.3 237.6,148.4 228.1,151.7 225.6,155.3 262.6,120.8 234.8,159.5 234.7,146.8 233.5,147.4 235.4,145.5 267.5,116.0 245.4,137.6 254.7,127.1 262.1,120.5 226.4,153.5 242.1,144.8 229.4,154.7 263.8,118.3 235.6,147.2 260.2,122.6 213.5,168.9 223.2,156.0 223.7,158.3 251.9,133.0 231.6,148.5 239.2,145.9 225.5,155.2 223.4,158.7 260.8,129.1 269.6,113.6 230.1,150.1 218.1,159.3 218.4,161.8 261.9,120.5 261.0,132.5 217.4,164.7 230.0,151.7 229.3,154.8 216.3,165.1 249.8,136.8 260.7,131.5 252.7,131.1 218.9,160.0 261.8,120.9 258.9,128.6 234.6,145.4 257.9,125.6 218.7,164.1 267.4,115.7 239.4,142.4 230.1,151.3 219.8,163.4 246.0,136.2 213.8,168.4 235.8,146.7 250.0,133.9 234.1,148.3 232.9,148.6 216.9,161.1 235.9,146.7 242.0,144.6 253.6,129.8 236.3,144.1 271.5,111.7 220.0,159.8 261.7,129.9 244.0,139.5 272.3,110.7 236.6,145.9 223.0,159.9 252.1,136.4 236.6,145.4 257.2,126.3 236.4,146.0 224.6,157.6 248.6,135.4 219.1,157.8 218.9,158.3 239.0,142.3 261.9,129.0 219.1,164.7 222.6,159.0 248.3,121.5 214.9,164.4 258.5,131.4 240.3,145.6 250.6,133.3 228.8,150.2 220.1,161.8 241.7,142.5 219.3,160.9 256.0,131.1 221.7,155.5 215.8,162.7 253.0,130.8 243.1,139.7 269.0,116.0 237.0,146.9 256.0,132.2 247.9,136.9 221.6,160.4 250.0,135.5 272.8,109.0 236.1,148.9 219.7,162.7 244.9,136.6 263.5,129.8 226.0,151.4 247.7,136.2 260.1,122.6 263.1,120.8 226.5,151.7 225.2,156.5 237.0,145.8 260.2,122.0 232.8,149.6 216.6,164.9 221.5,161.8 268.7,118.9 272.3,110.8 263.5,109.5 256.2,127.8 216.4,161.9 239.3,142.6 216.3,161.2 247.3,134.5 220.2,161.7 232.6,148.5 222.8,155.1 248.8,135.9 216.3,162.7 258.7,129.5 233.4,148.3 260.8,122.6 255.9,125.8 239.9,144.3 225.3,156.5 236.2,143.8 234.9,145.0 238.1,144.2 231.5,149.2 264.8,109.1 232.0,151.6 259.3,127.6 228.6,152.2 242.0,140.4 233.6,148.9 269.3,112.3 216.3,166.2 227.1,156.5 269.3,118.1 239.7,145.7 216.1,165.7 235.5,145.4 229.4,154.1 233.7,151.5 263.8,128.8 249.5,134.2 235.0,146.2 259.4,124.6 224.9,156.1 253.1,132.2 227.4,153.6 248.3,137.1 225.2,158.4 229.8,153.4 240.9,143.1 218.1,160.1 232.2,146.9 241.1,142.8 215.9,165.0 238.9,142.3 253.7,128.1 244.8,138.5 236.2,145.6 221.9,160.3 224.5,156.3 261.5,126.8 250.7,134.3 239.1,143.7 251.0,130.3 217.0,166.9 240.6,142.1 249.4,139.6 240.7,142.1 222.8,159.0 267.9,113.8 242.8,139.9 244.3,138.0 230.1,150.7 245.8,137.6 252.8,129.6 259.0,122.8 220.0,160.4 242.1,143.9 232.6,154.4 234.4,146.5 255.4,130.2 237.1,146.4 231.2,149.8 267.8,108.0 261.2,120.7 222.0,159.2 251.6,131.7 236.5,145.3 256.6,124.8 239.3,144.9 223.2,156.6 238.1,142.7 238.6,145.7 259.6,122.0 224.3,155.9 236.0,144.2 249.9,134.9 219.6,162.8 230.7,149.2 216.8,163.5 252.6,134.2 215.3,165.4 218.5,163.2 263.7,126.8 241.8,142.4 221.2,155.7 233.3,150.5 214.4,166.5 231.1,151.2 251.7,132.0 221.9,154.8 231.2,149.6 247.5,135.8 227.7,154.4 256.4,133.1 246.3,138.7 220.1,162.0 218.2,158.6 249.7,133.4 242.2,144.6 251.1,134.9 245.9,135.7 250.5,134.2 248.7,134.8 227.3,154.8 262.9,123.8 233.3,154.3 237.6,149.4 224.2,159.7 247.6,136.7 235.7,144.7 238.2,147.1 232.5,149.2 218.4,163.5 243.2,139.3 246.0,136.3 227.0,155.8 239.2,145.0 230.9,150.8 217.5,163.3 253.3,130.3 217.2,164.4 264.2,117.8 225.3,152.1 217.6,164.9 262.8,124.7 235.1,151.1 230.5,152.0 243.1,142.5 226.1,154.2 235.3,147.3 238.7,143.4 245.1,137.5 223.5,153.6 224.0,160.0 217.3,162.9 247.6,134.2 223.5,155.6 229.1,151.7 233.2,149.5 234.2,152.0 215.7,166.3 246.5,138.0 250.8,132.8 260.4,133.9 273.1,110.3 235.8,148.5 265.3,117.0 246.1,139.8 234.6,147.3 246.3,139.4 236.1,149.0 227.2,150.8 239.0,144.6 262.5,121.2 215.6,165.1 242.1,144.0 241.9,140.9 252.8,130.8 263.8,125.9 242.9,138.7 240.8,145.8 225.0,155.3 214.3,164.8 223.8,159.6 260.8,130.4 221.9,160.9 218.9,161.5 263.6,118.7 226.2,157.2 218.2,164.4 233.9,145.3 247.7,139.2 252.0,132.0 225.4,155.5 226.8,157.1 234.8,149.1 225.3,156.1 253.2,129.9 226.7,153.4 223.2,153.6 231.5,147.5 238.3,143.2 236.9,146.0 258.4,130.4 262.1,121.7 222.9,158.0 214.1,165.1 252.2,131.0 229.3,154.2 257.4,125.4 218.1,161.9 239.2,144.2 236.4,145.6 225.3,155.3 231.0,151.1 272.1,110.0 250.6,132.2 248.5,135.4 243.5,138.7 243.6,139.7 250.2,133.9 255.5,127.2 233.9,152.6 244.1,138.6 218.9,162.6 225.1,156.2 270.5,111.1 224.9,157.2 269.1,114.0 239.3,144.7 238.9,146.8 263.0,118.5 237.8,146.0 245.5,139.8 271.5,111.3 243.5,139.9 230.5,150.4 252.6,133.3 226.1,155.2 255.8,127.5 242.0,141.1 250.2,132.3 248.1,135.3 219.0,159.6 251.6,134.2 217.2,163.1 232.4,150.5 268.6,114.8 244.7,139.2 232.7,148.8 262.6,119.6 247.9,124.5 242.6,139.0 251.3,134.4 240.6,141.5 221.7,161.9 252.3,129.1 237.9,148.2 225.5,155.4 224.1,156.6 234.3,158.9 246.7,137.1 216.9,160.7 234.8,148.1 215.2,168.0 230.5,148.9 219.7,161.4 255.4,126.3 233.6,157.6 269.4,112.9 225.7,156.3 248.2,134.6 262.8,120.4 242.7,139.7 218.5,160.2 271.6,111.7 244.1,137.9 238.5,145.2 216.3,166.3 272.7,109.3 247.1,139.1 246.3,137.0 226.4,154.9 248.4,138.1 261.2,121.8 248.5,122.2 263.9,118.7 230.1,150.3 233.2,149.2 263.4,132.2 245.6,135.7 233.6,147.2 220.4,159.3 239.6,144.7 245.8,141.2 222.9,159.1 234.9,147.3 245.4,140.6 261.1,122.2 231.6,154.7 226.8,156.0 255.5,134.4 229.3,150.5 217.7,163.8 253.4,128.9 261.1,120.9 234.3,147.2 245.9,137.4 259.6,124.0 227.5,152.5 263.2,131.1 263.8,127.9 271.2,110.9 266.1,108.6 234.2,147.8 231.9,146.5 239.4,142.4 241.1,142.4 262.9,125.6 262.5,120.7 231.3,148.4 272.3,110.6 220.5,163.3 247.8,123.9 231.8,150.9 239.0,142.4 221.0,158.7 225.4,153.2 232.9,149.2 249.4,137.7 269.6,115.1 262.5,126.6 226.2,153.9 217.8,164.7 249.3,141.2 255.2,127.6 244.4,137.6 242.2,144.1 238.7,144.8 254.8,128.3 243.3,140.3 217.7,165.0 252.5,135.1 267.5,114.1 245.1,141.0 257.8,123.4 260.0,123.3 228.8,154.5 231.4,147.5 268.9,120.9 215.4,164.7 221.4,159.5 270.3,111.2 219.2,160.7 221.8,161.7 227.4,156.3 268.2,114.1 232.5,146.3 224.5,154.7 236.2,145.8 251.9,134.4 216.1,166.0 235.0,148.7 241.9,141.7 264.0,124.2 233.6,146.0 238.7,148.4 239.3,142.4 261.8,121.4 239.3,145.8 233.0,146.0 262.5,120.0 235.1,150.1 253.3,129.0 245.2,139.4 249.7,139.5 234.9,147.6 251.8,129.7 264.6,117.1 239.9,143.6 221.6,161.5 222.4,158.3 235.4,149.3 265.3,118.1 227.2,152.5 267.4,108.0 224.2,154.8 269.9,113.3 259.9,121.6 230.5,150.4 218.0,165.4 232.3,147.9 214.5,168.1 225.5,154.6 234.1,144.9 252.9,128.7 269.3,117.6 238.2,143.9 218.8,162.7 262.0,119.5 230.6,150.5 263.6,118.1 230.3,150.3 226.8,152.3 265.4,117.4 215.1,167.2 272.6,110.5 229.6,149.6 220.5,160.6 240.0,143.9 238.7,143.5 262.0,128.0 234.8,145.3 239.6,142.8 239.3,144.3 239.1,145.3 232.3,152.0 259.4,126.8 229.5,150.9 265.5,117.8 267.6,114.6" fill="none" stroke="none" marker-start="url(#o1)" marker-mid="url(#o1)" marker-end="url(#o1)"/><polyline points="256.2,119.4 220.3,162.7 228.4,154.6 254.4,127.6 250.7,132.6 225.3,156.7 227.7,154.3 247.7,122.4 266.7,123.8 247.6,121.4 253.8,119.7 233.4,160.3 272.7,109.4 261.7,121.0 234.4,160.6 264.4,128.8 265.0,122.4 272.1,110.6 221.8,159.5 237.6,144.8 242.7,138.8 230.0,152.5 254.7,119.5 267.3,121.8 238.8,143.0 257.2,119.2 270.8,112.2 266.3,116.0 254.8,127.5 265.5,117.5 255.7,119.5 247.5,123.6 256.4,125.3 263.9,108.6 265.3,116.2 240.7,141.1 248.2,134.3 264.4,127.3 268.5,109.1 244.8,137.0 267.4,122.4 237.9,144.0 256.6,126.0 217.9,165.3 242.8,140.0 257.4,124.5 257.7,125.1 267.6,120.5 220.7,161.6 247.4,121.0 237.8,145.2 273.0,109.2 237.6,143.8 215.3,167.5 230.7,152.5 227.2,154.2 267.9,119.8 216.1,167.0 248.1,120.3 234.9,146.3 232.6,158.1 246.9,124.2 216.6,165.4 255.5,127.1 252.5,130.3 249.7,133.7 266.4,108.7 266.6,125.4 230.2,153.0 230.5,151.4 265.4,121.8 266.3,108.9 267.7,109.3 267.8,118.4 265.1,124.5 245.6,137.4 243.0,139.4 258.3,118.7 227.6,154.2 266.7,126.0 255.9,125.8 252.9,120.1 232.7,159.1 263.5,107.9 265.5,120.8 264.9,125.3 257.5,124.0 223.3,158.0 264.6,123.3 245.4,137.2 260.6,121.6 264.7,108.3 264.4,126.1 231.4,157.4 217.2,164.5 269.4,109.4 249.3,133.2 247.1,124.8 254.8,126.9 262.2,119.6 263.4,118.3 236.6,146.8 243.0,140.0 230.5,151.5" fill="none" stroke="none" marker-start="url(#o2)" marker-mid="url(#o2)" marker-end="url(#o2)"/><polyline points="213.3,165.8 215.6,164.7 216.6,163.8 214.0,166.4 209.3,169.4 220.2,163.4 217.5,165.9 211.3,169.6 210.2,167.5 219.8,164.7 212.2,165.9 218.8,163.5 214.8,166.3 213.6,164.9 214.3,166.3 213.8,166.4 209.4,170.6 211.2,166.9 213.1,168.7 218.4,165.0 216.2,165.1 210.6,167.9 219.7,162.8 215.0,164.4 219.7,163.6 210.4,166.9 210.5,167.1 212.2,168.7 220.7,164.5 219.9,164.0 215.9,165.6 210.4,166.6 219.8,163.6 214.0,167.2 211.5,168.7 218.8,162.8 218.1,162.9 211.6,169.3 211.7,166.7 219.5,165.0" fill="none" stroke="none" marker-start="url(#p0)" marker-mid="url(#p0)" marker-end="url(#p0)"/><polyline points="254.7,126.1 232.2,150.1 235.1,146.2 259.1,121.4 251.7,130.0 231.1,152.0 245.4,136.0 228.7,153.5 223.8,161.2 247.6,133.0 227.7,155.3 222.7,161.4 238.2,142.7 231.7,150.1 249.6,130.4 242.3,138.1 245.8,134.5 256.3,124.3 212.6,166.8 247.8,133.1 236.8,145.0 248.2,132.3 231.0,152.1 232.1,151.2 227.1,157.2 227.2,156.0 217.1,164.0 254.9,126.8 257.7,122.7 223.6,160.8 216.1,166.0 249.1,131.2 233.8,149.1 256.3,124.4 225.5,158.6 230.2,153.3 262.6,118.1 223.8,161.6 210.2,167.7 244.2,136.7 214.7,164.7 243.3,137.6 220.7,163.5 209.6,168.5 247.3,134.5 213.2,167.1 232.3,150.6 249.1,132.6 261.0,119.7 240.4,141.8 240.5,140.2 231.1,152.0 259.5,121.1 228.1,156.2 227.5,156.9 218.8,164.0 255.5,125.3 247.4,132.5 247.3,133.9 266.4,113.4 258.8,121.5 247.0,134.1 210.2,167.6 253.5,126.7 231.3,149.9 243.4,138.0 240.3,140.8 244.9,136.1 249.1,131.8 237.7,143.9 241.7,139.7 267.7,112.5 246.1,135.0 224.9,158.8 254.0,126.8 258.1,121.9 215.3,165.2 211.7,166.9 236.3,145.2 242.7,139.3 214.7,165.7 217.1,164.2 228.1,155.7 258.5,121.6 266.6,113.8 251.4,128.4 221.7,162.5 261.2,119.5 227.3,156.3 222.7,161.8 220.0,162.9 213.3,166.5 253.8,127.8 241.5,140.2 233.5,149.6 251.6,129.4 240.5,139.9 256.2,124.5 237.9,144.4 262.3,117.6 230.0,153.3 226.9,156.9 228.3,154.9 219.1,163.5 239.1,142.6 230.9,151.8 210.7,167.1 258.2,121.4 244.9,137.3 221.1,161.7 252.4,127.8 245.3,135.8 243.2,138.4 220.4,162.1 247.5,133.9 246.9,133.3 220.1,162.1 261.4,119.4 232.3,149.3 212.7,167.6 231.5,151.2 221.3,161.5 241.9,140.4 239.1,143.2 238.9,142.5 214.2,166.4 251.5,130.0 250.8,129.8 265.2,115.3 216.9,163.2 242.7,138.7 231.1,151.0 257.2,124.1 237.2,144.0 245.2,137.0 212.9,167.8 243.5,137.7 236.9,144.6 233.6,148.1 236.4,145.2 244.7,137.1 247.8,132.2 243.9,137.7 210.7,166.4 214.0,165.8 234.3,149.0 221.1,161.6 227.5,155.1 223.7,160.1 219.2,163.2 267.5,112.9 259.1,120.3 251.0,130.3 253.4,127.4 261.7,118.2 251.3,128.6 253.3,127.2 217.4,165.2 217.3,164.0 262.8,117.6 223.4,160.9 226.2,157.6 266.1,114.8 227.8,154.8 239.1,142.1 232.1,149.5 211.3,167.3 214.6,166.4 236.3,145.0 236.3,144.8 219.4,163.0 237.6,144.5 231.4,151.9 266.4,114.2 212.4,166.3 211.3,167.3 244.6,136.5 252.3,128.1 209.4,167.7 244.9,136.7 224.5,159.9 216.0,165.3 210.0,167.4 212.9,167.2 210.1,168.8 216.0,165.8 210.7,167.8 236.5,145.3 229.3,153.4 243.6,137.8 218.0,162.9 244.0,136.7 238.7,143.3 238.3,143.0 231.2,150.8 211.4,167.2 267.1,112.2 226.3,156.6 215.9,164.2 217.8,163.8 262.8,116.9 258.4,121.8 212.2,166.2 259.7,121.5 233.3,149.1 244.8,136.1 215.0,164.7 238.3,143.7 235.1,146.5 251.5,130.0 220.8,162.3 260.9,119.9 217.7,165.0 241.0,139.9 248.6,131.5 267.6,113.0 249.8,130.9 259.2,120.0 244.9,136.7 238.8,141.7 266.7,113.6 237.5,143.5 254.3,127.0 237.5,144.7 252.8,127.9 226.6,157.6 235.5,147.1 233.7,147.7 236.6,145.1 215.6,165.2 250.3,130.6 259.6,120.7 251.0,129.0 267.8,112.7 221.3,163.1 243.9,137.6 247.6,133.2 249.9,129.9 216.1,164.6 224.7,158.9 212.4,166.6 215.2,164.6 250.2,131.3 246.2,135.0 263.3,117.4 244.9,135.5 246.1,135.0 236.5,144.5 247.2,133.2 248.1,133.2" fill="none" stroke="none" marker-start="url(#p1)" marker-mid="url(#p1)" marker-end="url(#p1)"/><polyline points="237.6,144.6 253.6,126.5 243.8,137.8 244.4,137.7 254.1,126.3 234.6,146.6 234.7,146.9 240.3,141.9 241.7,139.5 252.8,127.8 250.7,130.7 249.6,132.5 261.4,120.0 244.7,135.2 261.3,118.0 240.5,140.2 248.3,132.5 249.6,132.2 234.5,146.7 251.6,129.2 233.3,149.1 260.9,119.4 236.2,145.4 244.4,136.2 254.9,125.9" fill="none" stroke="none" marker-start="url(#p2)" marker-mid="url(#p2)" marker-end="url(#p2)"/>
<polyline points="255.3,229.1 256.9,227.6 257.9,230.0 263.6,222.9 260.3,225.1 267.6,221.9 264.5,219.7 264.6,227.9 267.0,217.9 264.6,230.1 267.9,224.7 261.2,228.7 255.3,231.3 265.8,228.3 263.1,227.2 262.6,223.7 264.9,222.2 261.5,233.3 268.3,220.4 254.7,230.1 264.1,226.3 264.0,224.8 258.0,234.4 263.6,225.3 264.1,225.8 264.6,228.0 261.0,230.4 266.9,218.9 268.2,218.6 258.3,228.3 264.3,222.5 259.6,227.1 265.1,228.1 256.4,231.4 255.5,235.2 257.6,226.9 268.3,221.3 262.9,221.4 265.5,228.2 257.5,226.6 268.8,223.8 264.4,226.8 257.2,227.0 265.5,221.3 268.7,220.5 267.8,220.5 259.3,227.0 260.6,224.6 255.5,230.0 268.6,217.7 256.3,232.4 262.7,221.9 268.9,214.9 262.0,229.8 257.8,234.5 263.0,222.2 268.7,223.6 263.6,225.1 261.9,222.2 263.6,230.4 257.9,232.5 268.9,218.8 258.0,232.6 258.5,233.2 266.5,226.3 262.9,225.1 267.1,222.9 259.9,233.7 266.5,218.3 262.3,222.1 261.2,223.5 261.1,227.5 268.2,220.5 268.1,217.7 267.0,223.9 260.8,223.9 257.3,231.6 267.6,223.1 261.3,232.5 269.0,219.3 261.7,224.7 257.8,231.2 263.5,226.8 268.8,222.8 259.4,230.8 260.9,230.9 260.8,227.6 256.1,233.9 258.3,231.4 267.5,219.7 256.5,231.3 259.4,226.1 267.9,223.8 261.9,223.4 268.1,224.7 260.8,223.8 255.7,230.6 267.7,216.3 266.6,227.6 263.6,229.7 258.6,229.6 268.6,218.5 260.4,227.3 256.8,231.9 264.9,229.2 256.8,230.1 259.0,233.3 265.7,221.4 260.1,224.4 260.7,232.5" fill="none" stroke="none" marker-start="url(#o0)" marker-mid="url(#o0)" marker-end="url(#o0)"/><polyline points="262.6,227.3 249.5,233.3 235.4,256.1 260.2,223.2 238.2,251.4 245.4,239.9 242.7,241.4 223.7,260.1 237.7,243.9 262.1,223.1 221.4,263.2 268.8,214.8 233.4,250.3 238.9,247.0 225.9,256.3 269.3,215.1 252.7,231.3 234.2,253.1 241.0,247.6 251.9,233.0 235.9,243.9 218.2,265.8 235.7,244.2 218.4,264.3 242.9,246.3 224.4,257.9 221.3,261.6 267.3,216.2 238.6,244.5 247.8,237.9 213.4,267.9 256.0,231.1 217.1,268.4 218.7,261.3 267.4,215.9 230.1,252.6 219.9,263.8 243.5,241.2 260.9,222.4 245.0,238.4 243.3,244.3 254.2,231.3 231.5,250.2 252.6,232.5 264.2,219.0 237.1,247.7 249.9,233.0 267.6,215.8 223.2,257.2 244.4,239.2 240.7,248.9 214.0,267.0 251.2,234.2 248.3,235.2 240.5,243.3 228.9,255.2 227.0,252.4 215.7,267.2 239.4,241.2 238.9,244.8 229.0,255.4 224.5,254.5 254.9,229.1 265.9,218.3 252.8,230.3 262.2,221.3 240.0,242.0 227.8,256.0 253.5,231.1 219.5,264.0 219.2,263.2 233.7,247.0 261.9,221.2 227.0,257.5 270.5,212.6 237.6,246.3 238.7,244.5 225.5,254.4 268.0,216.9 240.1,245.2 230.7,252.9 258.8,231.8 258.8,230.4 262.7,225.0 265.6,219.1 238.0,245.2 216.2,263.1 253.1,234.5 248.6,222.9 238.3,247.0 239.2,246.6 260.6,222.5 262.2,220.6 228.4,255.8 272.7,211.7 229.9,252.1 220.2,262.6 236.6,252.2 236.8,246.2 219.7,264.2 217.1,263.7 216.0,263.5 273.1,211.5 221.2,261.1 241.9,238.6 243.7,243.0 247.9,226.1 231.6,250.3 246.9,235.7 229.9,253.0 230.1,254.0 239.0,250.2 237.1,244.8 236.7,245.2 241.3,248.8 229.6,253.8 232.7,248.2 235.0,247.0 246.7,239.0 248.3,223.6 216.5,266.5 238.2,240.5 253.5,229.4 238.8,247.0 226.3,256.2 218.8,267.0 228.3,256.4 223.8,260.2 237.2,242.0 233.2,247.0 264.2,210.9 221.1,262.3 252.9,236.2 268.3,216.2 241.2,246.2 233.4,250.5 238.3,255.3 230.0,253.4 240.3,242.9 233.8,254.1 241.8,247.8 240.1,241.9 226.4,253.4 240.4,239.5 254.5,228.8 240.9,251.3 241.0,251.3 236.6,243.2 259.5,229.2 241.3,244.6 213.6,271.9 241.6,245.8 225.1,254.8 263.6,219.8 258.8,225.2 245.3,239.4 214.9,267.2 243.5,246.2 234.0,246.1 258.4,232.8 255.5,227.9 230.5,248.6 232.1,249.8 239.1,243.0 224.7,256.6 237.1,246.7 226.7,255.4 269.2,214.2 240.3,247.5 231.6,251.1 225.9,256.8 214.0,266.0 255.2,228.4 237.5,242.7 233.9,250.3 236.9,243.3 212.1,271.0 234.2,245.4 256.2,228.4 237.1,246.4 219.3,265.1 226.9,255.6 215.3,268.1 218.7,266.4 265.9,210.1 269.0,214.3 236.2,246.7 237.0,242.7 220.5,264.3 234.2,254.3 244.7,245.6 235.8,245.1 242.0,235.3 236.5,247.3 237.9,242.5 252.8,232.4 245.3,238.4 251.1,231.6 265.1,217.8 266.8,218.2 231.0,251.1 232.6,248.0 226.4,256.9 239.9,245.5 253.3,230.6 214.4,268.4 222.4,261.4 266.8,215.9 224.5,254.9 227.5,254.0 234.0,252.0 229.6,250.9 253.2,235.7 212.1,273.5 252.4,231.0 229.8,250.7 225.6,259.8 243.1,244.0 238.5,244.2 241.3,250.0 240.4,238.6 237.5,244.7 213.5,269.8 215.9,268.1 224.3,259.5 235.9,244.3 217.1,262.8 218.1,266.8 236.5,251.9 216.3,265.7 227.5,256.6 233.7,247.0 234.8,249.1 237.0,243.2 225.0,258.5 254.5,228.1 220.4,264.6 232.7,251.4 258.4,226.9 263.6,219.6 231.8,254.1 255.5,229.9 221.0,260.6 268.9,222.1 234.6,259.9 271.0,213.4 240.4,238.9 236.9,242.8 262.1,228.0 262.6,226.1 219.3,266.1 258.0,226.4 246.1,237.4 234.6,248.1 269.2,214.2 253.2,232.1 226.1,256.2 222.7,257.7 231.2,248.7 230.0,249.0 268.5,220.7 241.3,244.6 252.7,231.4 214.5,265.7 267.3,217.4 257.5,226.0 239.0,244.0 224.5,260.9 234.6,248.8 235.7,246.6 265.8,218.7 252.5,230.0 239.2,247.4 242.4,240.3 233.1,246.3 214.0,270.5 223.4,260.5 257.2,227.8 230.3,253.3 240.6,252.4 248.5,234.5 258.8,226.0 253.5,228.8 243.9,243.0 221.6,263.5 273.2,209.7 260.1,225.3 221.5,262.3 226.5,259.3 241.1,239.0 231.3,248.1 227.2,255.4 222.8,263.0 226.7,252.9 243.8,240.5 234.7,247.9 262.1,222.1 239.7,248.7 270.8,214.1 221.7,260.2 244.5,239.4 218.4,264.9 238.8,253.7 220.8,262.5 236.6,254.1 230.6,249.9 220.2,263.4 225.1,256.9 241.3,242.1 241.7,248.4 240.1,242.3 266.3,218.4 232.8,251.7 235.8,243.4 219.6,266.1 242.9,242.6 238.9,251.9 260.7,222.9 248.7,235.0 240.4,238.1 239.5,248.7 266.8,216.5 234.9,249.5 237.1,247.9 233.6,247.1 264.7,220.2 235.9,245.7 217.9,264.9 235.6,246.0 265.0,210.0 255.9,226.6 261.8,229.1 214.3,265.4 218.6,265.4 272.1,212.5 238.8,250.6 215.9,267.7 240.8,245.0 217.8,267.9 233.4,255.3 258.1,227.1 222.2,261.4 235.3,249.8 245.3,239.7 224.4,258.5 243.2,241.5 220.4,265.1 227.9,254.4 261.0,223.8 216.4,265.7 230.7,251.1 233.7,252.2 231.8,249.7 219.1,260.6 269.3,218.8 233.6,248.7 238.7,241.2 223.5,261.0 225.7,260.3 232.1,249.3 212.1,268.8 224.1,258.5 237.1,247.5 256.4,228.7 255.3,229.1 252.9,233.4 240.1,244.5 214.8,268.7 273.1,210.2 240.1,251.9 233.6,249.8 239.2,239.7 234.4,248.8 242.8,239.7 222.2,256.7 218.5,266.0 218.8,260.5 252.6,237.2 243.8,244.8 233.4,249.8 218.9,264.8 213.7,271.1 237.2,249.7 240.3,250.6 261.6,231.3 237.4,247.5 218.1,262.3 223.7,257.6 240.3,242.3 239.5,241.8 246.5,238.2 245.5,238.4 243.0,244.3 233.1,252.9 233.0,258.3 268.0,209.3 260.5,223.9 212.6,272.5 237.6,245.8 228.5,252.0 213.6,271.1 217.7,264.7 236.5,247.8 230.8,251.1 255.9,233.6 233.2,249.6 241.0,244.9 242.9,242.1 219.1,262.1 243.8,244.6 264.0,219.7 224.7,254.2 238.8,246.1 227.2,258.7 227.2,257.4 240.8,244.5 263.4,221.0 258.6,226.7 236.1,244.3 237.8,247.0 235.0,246.0 259.3,228.0 265.4,219.1 269.4,216.6 240.5,242.8 250.2,233.2 223.2,256.2 262.4,221.9 241.5,235.4 248.0,224.8 241.4,250.1 227.5,258.4 215.0,267.8 214.2,269.2 220.6,258.5 229.2,256.7 247.8,237.5 229.5,253.7 233.6,259.0 255.0,230.3 227.4,255.1 226.6,256.3 213.8,269.3 231.8,250.0 231.4,251.5 221.6,259.6 234.5,253.9 240.5,253.2 262.4,220.5 272.4,212.5 236.6,244.0 240.6,252.3 258.2,225.8 243.2,247.0 234.2,250.3 220.0,259.1 219.6,264.0 243.2,240.6 261.8,230.3 237.0,241.4 219.1,260.2 271.7,211.3 266.0,218.0 236.5,255.1 226.5,254.8 216.4,263.8 235.9,247.5 220.8,262.2 241.2,236.5 224.5,259.0 232.8,246.6 220.4,262.0 241.7,243.8 233.4,251.3 241.0,245.1 240.2,244.1 247.7,236.4 239.3,249.4 258.0,224.8 241.7,245.1 228.0,256.1 235.7,250.2 225.2,257.1 216.5,264.5 268.3,214.6 221.4,263.1 230.8,252.9 229.9,250.1 231.8,248.9 229.5,251.7 256.0,232.2 226.1,255.0 214.1,268.5 237.4,240.0 230.1,252.4 224.6,260.4 226.7,252.5 215.5,268.3 231.0,250.3 238.3,253.1 239.7,244.8 233.3,249.0 239.5,242.6 255.6,235.3 215.6,267.1 235.5,251.1 223.1,259.6 226.3,256.9 241.3,245.1 234.2,246.8 231.5,252.2 256.5,226.3 237.2,242.7 223.4,257.1 235.1,244.9 242.0,242.7 227.2,254.8 256.5,227.3 269.3,215.2 220.3,258.8 221.2,260.9 225.4,259.2 217.9,264.2 245.3,240.7 249.7,236.0 267.4,217.3 257.7,226.0 269.1,214.4 225.0,258.5 232.2,247.2 272.8,210.2 238.1,245.8 269.7,217.7 266.6,209.5 249.4,235.6 251.1,231.1 263.9,219.6 213.5,268.6 218.9,263.7 237.7,248.0 245.4,240.1 241.2,248.4 225.9,257.3 232.6,246.2 222.7,256.3 238.6,238.6 216.3,266.8 238.5,249.4 236.0,243.9 254.0,231.4 248.9,233.6 239.4,246.0 248.4,235.6 219.1,260.5 248.9,235.6 255.3,228.4 240.0,244.5 259.1,231.3 241.3,237.2 224.8,256.8 244.6,238.0 223.4,260.0 216.4,269.3 238.5,247.9 269.4,213.5 228.8,254.7 225.8,253.3 239.2,242.7 219.9,263.8 255.4,235.8 249.5,232.7 237.7,242.6 253.1,231.4 229.6,254.6 268.9,219.7 254.1,228.8 228.4,252.9 234.3,253.0 226.1,255.9 235.2,261.1 234.5,249.0 238.5,254.7 234.5,245.7" fill="none" stroke="none" marker-start="url(#o1)" marker-mid="url(#o1)" marker-end="url(#o1)"/><polyline points="254.1,221.0 222.7,261.1 259.8,224.7 221.7,261.6 232.1,259.1 233.7,261.2 218.2,265.4 247.7,236.4 248.2,236.2 248.7,228.0 248.6,229.1 235.8,249.0 249.0,224.4 237.4,247.4 249.2,225.5 249.4,234.4 226.9,257.8 215.9,268.7 221.5,261.6 248.0,222.7 259.6,223.8 265.5,222.0 233.0,249.9 234.1,262.0 214.8,268.3 244.1,239.6 264.2,229.4 266.1,210.0 267.0,227.3 249.3,221.8 252.5,230.8 264.2,219.5 254.6,228.5 264.6,229.2 246.1,238.6 258.8,224.3 265.3,223.3 237.4,246.3 267.7,221.0 233.0,260.0 266.9,224.0 258.8,225.8 253.0,221.2 264.7,227.0 246.8,236.1 227.7,256.5 234.3,249.6 216.7,266.5 242.4,241.9 267.7,210.3 267.3,225.4 260.4,224.1 231.2,258.0 264.6,225.2 264.9,209.8 220.7,261.9 268.3,210.7 247.4,223.3 247.5,225.4 247.4,221.9 247.4,223.8 249.7,233.2 266.8,226.4 234.3,249.7 224.7,259.6 272.4,210.6 267.6,219.9 267.4,221.7 255.7,220.5 253.2,230.4 252.8,230.1 219.1,263.9 269.7,211.4 249.6,233.5 248.0,230.3 247.1,226.2 265.5,224.1 213.8,268.7 265.0,224.8 222.3,260.8 257.3,220.0 247.3,225.7 238.5,244.5 256.5,220.7 271.5,211.8 254.7,220.9 269.6,213.5 253.5,229.9 272.8,210.6 213.6,269.6 246.1,237.1 267.2,217.1 261.7,221.5 231.4,251.4 250.6,233.4 263.8,209.5 243.4,239.9 243.1,239.8 232.9,250.4 254.9,228.8 266.8,210.3 234.5,248.6 267.2,222.5 248.2,226.4 264.6,227.5 248.2,231.3 263.2,209.4 268.8,214.2 228.4,255.5 249.3,223.0 239.4,243.4 258.1,220.1 264.3,219.6" fill="none" stroke="none" marker-start="url(#o2)" marker-mid="url(#o2)" marker-end="url(#o2)"/><polyline points="265.6,219.6 223.7,255.7 222.2,255.6 264.3,221.1 255.3,227.0 240.1,242.3 249.3,233.9 244.4,237.6 244.1,237.0 261.9,223.4 229.8,250.5 230.3,250.8 267.8,218.4 219.0,259.1 217.1,258.8 235.0,247.1 223.8,255.2 222.6,255.3 234.6,247.9 221.5,256.6 254.1,228.3 220.0,256.5 231.4,251.7 225.3,255.6 211.0,262.6 260.4,224.0 242.8,238.7 250.0,233.3 210.7,261.9 244.9,238.3 267.4,220.2 217.3,258.7 239.4,242.2 215.5,261.2 266.1,219.5 252.2,230.8 261.0,223.3 211.0,264.0 237.9,244.6 254.9,228.4 242.8,239.6 209.7,262.4 224.0,254.3 209.1,265.6 217.6,258.2 217.7,259.4 254.3,228.3 248.9,233.7 257.3,224.9 210.3,264.5 213.7,262.5 267.0,219.9 245.0,238.1 259.7,224.1 261.9,222.6 210.2,264.1 263.0,222.2 215.6,258.6 210.6,262.4 217.3,260.6 246.7,236.3 220.2,256.9 261.2,222.5 220.8,257.5 219.8,259.9 228.1,253.5 213.1,260.1 222.3,256.8 251.7,230.3 231.7,250.7 234.4,246.8 221.2,256.0 225.9,253.9 261.1,224.1 228.8,251.7 229.6,251.8 218.0,260.1 266.3,221.1 211.1,264.0 237.0,244.0 254.2,227.5 234.5,248.2 225.2,253.4 245.2,237.3 260.6,223.7 220.9,257.1 262.9,222.8 252.9,228.9 242.4,239.6 246.9,235.8 230.6,250.0 228.8,252.8 265.1,220.3 226.1,253.9 242.6,240.1 210.6,262.6 221.4,258.2 233.0,248.2 215.4,261.6 230.3,252.1 252.6,230.7 239.1,243.0 234.9,247.1 233.3,248.7 210.3,261.2 240.0,241.2 217.7,258.9 243.4,239.8 237.5,244.5 249.5,233.2 262.8,221.9 222.2,256.7 231.7,248.7 216.6,259.6 210.5,261.9 211.2,261.8 210.8,262.0 241.6,241.7 236.8,246.3 242.8,239.6 218.3,259.6 224.4,256.4 260.7,223.4 258.9,225.3 250.0,233.4 226.5,255.0 240.2,242.4 214.5,260.9 217.0,258.5 214.2,261.7 214.1,259.6 212.7,260.0 262.3,222.3 233.5,248.8 253.3,228.6 213.9,260.2 230.2,250.8 244.2,237.6 208.9,263.6 244.8,237.0 213.5,262.4 235.1,246.9 265.7,221.0 233.8,248.3 213.8,260.0 215.6,260.1 217.2,259.4 252.0,229.6 267.0,219.9 246.5,234.9 242.9,240.0 228.0,252.1 265.3,220.3 233.7,247.6 247.1,235.5 225.5,253.5 236.0,244.8 233.9,246.7 209.1,261.9 223.2,255.0 257.7,225.3 211.9,262.8 252.1,230.9 220.0,256.3 252.7,229.2 214.3,261.8 232.6,249.4 216.6,259.2 238.8,244.3 223.0,256.4 209.1,264.0 267.7,220.0 229.7,251.0 234.7,246.6 242.8,239.1 254.1,228.6 225.6,255.2 229.1,252.4 249.8,233.2 211.4,261.9 232.5,249.4 265.7,221.5 236.8,244.2 215.2,261.1 256.3,225.7 232.5,249.7 228.1,252.0 209.2,263.2 243.8,239.0 234.2,246.9 261.6,223.1 251.5,231.4 251.4,232.0 255.9,227.3 215.9,262.2 211.5,262.9 219.7,257.1 226.0,253.2 224.1,254.2 255.2,227.6 232.2,250.8 209.3,261.5 239.3,242.7 259.8,223.6 242.5,239.9 261.5,224.2 252.2,229.7 232.3,249.2 219.8,258.8 259.0,224.6 218.9,259.8 215.5,262.4 212.2,261.3 213.0,260.9 210.7,264.3 244.9,238.4 209.3,262.2 209.3,263.7 244.5,237.2 215.8,258.8 261.6,222.3 258.0,224.6 212.3,260.9 253.1,229.2 211.5,263.6 267.3,219.2 236.3,245.8 211.4,264.0 215.1,260.2 246.8,234.4 211.3,261.8 220.4,256.2 215.9,262.1 263.0,222.3 212.7,261.5 237.0,244.4 231.8,249.5 241.1,240.3 242.8,239.0 262.6,222.3 245.3,236.4 230.9,250.5 254.1,228.1 248.0,233.7 233.6,248.0 258.2,224.8 257.8,225.0 213.5,260.9 245.5,236.3 210.9,264.6 239.6,241.7 259.6,224.8 221.0,258.3 248.5,234.2 216.5,259.3 215.8,261.2 217.0,260.4 263.8,221.3 243.6,238.2 258.9,225.0 235.4,247.5 235.2,247.2 262.7,222.0 217.1,258.5 210.1,264.4 216.9,258.5 213.2,260.7 245.8,236.3 265.8,219.6 219.4,258.8 225.5,255.3 265.0,221.6 220.0,258.4 260.0,223.7 258.6,224.6 219.2,257.3 227.2,253.6 216.2,260.3 211.2,264.2 231.5,250.7" fill="none" stroke="none" marker-start="url(#p0)" marker-mid="url(#p0)" marker-end="url(#p0)"/><polyline points="255.8,226.9 214.7,260.1 244.8,236.5 239.8,241.1 268.2,217.6 265.9,219.8 245.3,236.6 260.7,222.7 251.9,230.4 250.8,231.2 232.8,248.6 255.2,227.2 209.4,261.7 256.7,226.2 231.4,249.3 233.2,248.1 247.7,234.0 240.7,241.0 258.2,224.6 216.4,258.9 211.9,261.7 210.6,261.8 226.8,252.8 263.1,222.5 262.7,221.7 262.7,223.1 227.3,252.7 236.8,244.4 256.0,226.0 254.1,227.5 263.1,222.2 217.6,258.0 244.3,237.7 228.7,252.1 224.8,254.0 230.9,249.9 242.1,240.3 216.2,259.2 224.2,254.5 252.5,229.3 237.1,243.9 264.7,220.0 243.0,239.0 263.8,220.9 266.6,220.9 253.2,228.9 235.4,246.0 265.6,221.9 225.7,253.2 227.1,253.0 244.7,236.7 265.1,219.8 234.8,246.5 240.6,240.9 244.8,237.2 226.8,253.0 241.6,240.4 267.1,218.4 224.7,253.9 267.4,219.5 211.7,261.3 259.4,224.1 237.8,243.2 242.1,239.9 238.9,242.7 252.2,229.7 218.1,258.5 241.5,240.1 235.0,246.4 244.4,237.9 258.8,224.3 261.6,222.1 233.0,248.3 263.3,220.9 252.9,228.7 261.5,222.4 251.5,230.7 246.2,235.3 220.5,256.9 248.9,232.8 243.7,237.5 211.6,261.8 235.5,245.6 253.8,228.1 232.2,249.1 265.0,220.0 216.4,259.1 216.3,258.8 221.5,256.6 266.2,219.3 215.9,259.7 239.2,242.4 262.1,222.3 264.2,222.3 234.6,246.3 209.6,262.5 254.2,227.3 210.0,261.5 258.4,224.1 224.0,255.2 267.2,218.1 241.5,239.8 232.7,247.8 228.7,251.6 266.1,219.7 222.6,255.5 234.7,246.6 266.1,221.5 257.9,225.4 233.8,247.0 263.2,223.8 266.9,218.8 240.5,241.1 221.0,256.1 239.5,242.7 263.5,222.9 211.9,260.9 259.4,223.6 211.8,260.3 266.8,219.3 215.2,259.2 246.1,235.6 234.4,246.7 264.6,220.9 266.3,219.7 265.6,220.9 228.2,251.7 246.5,235.3 231.6,249.4 255.6,226.9 227.6,252.7 224.6,254.7 262.5,222.9 225.8,253.8 247.2,234.9 216.5,258.8 264.0,221.4 252.5,229.0 227.0,253.2 216.7,259.0 234.9,246.6 261.0,223.1 268.0,218.4 214.7,259.7 258.6,224.8 231.6,248.9 266.4,219.6 221.8,255.8 267.8,219.6 226.9,253.3 221.4,255.8 267.2,219.7 264.9,221.6 236.7,245.0 232.6,248.8 216.7,259.0 212.0,261.3 266.3,220.3 219.1,256.8 245.2,236.7 224.1,254.9 264.1,220.7 265.0,220.5 266.5,219.0 263.5,221.5 219.9,257.5 263.9,220.6 266.3,219.5 223.5,254.8 217.3,258.0 238.1,243.1 224.3,253.9 213.9,260.3 267.9,219.0 243.5,238.4 248.7,233.3 244.7,237.5 226.2,253.2 255.7,226.0 256.3,226.6 214.2,259.5 264.4,220.9 217.0,258.7 255.0,227.7 258.6,224.5 223.5,254.3 266.3,219.7 217.3,258.9 231.8,248.8 218.1,258.1 253.3,228.5 266.2,220.9 267.2,219.2 220.8,256.7 211.2,261.5 250.5,231.1 252.1,229.3 214.4,259.4 222.7,256.0 236.4,245.7 257.0,224.9 235.6,245.5 247.2,234.6 247.2,234.4 257.1,225.4 220.4,257.1 267.8,217.8 239.3,242.2 218.2,257.4 233.6,247.6 251.3,230.9 218.6,257.3 265.4,220.0 265.5,219.6 266.5,218.7 264.6,220.8 264.3,220.9 223.7,254.9 260.3,224.0 250.6,231.4 251.3,230.5 246.6,235.0 214.4,260.0 253.0,228.9 222.2,255.8 267.6,218.1 264.9,220.6 265.9,220.8 226.1,253.1 266.9,219.7 239.2,243.0 262.7,224.1 223.2,255.5 248.2,233.2 256.3,225.6" fill="none" stroke="none" marker-start="url(#p1)" marker-mid="url(#p1)" marker-end="url(#p1)"/>
<polyline points="255.9,332.7 261.1,328.7 253.3,329.4 266.6,327.6 253.4,337.9 266.8,325.1 257.9,335.1 253.4,333.2 259.9,325.3 222.5,360.3 253.4,335.3 221.3,361.8 258.4,327.5 234.5,349.7 266.4,326.7 256.9,335.7 255.8,326.9 236.9,345.6 255.0,335.8 231.1,353.0 241.3,342.0 223.2,360.5 235.5,348.8 256.9,335.7 261.1,330.4 257.8,332.7 255.1,334.4 239.2,342.6 263.1,324.4 216.6,367.3 253.9,338.1 263.0,329.5 254.4,333.1 217.3,367.4 262.8,331.7 227.5,355.8 257.0,333.2 268.4,321.7 265.6,319.7 215.7,364.4 263.1,331.2 240.6,342.1 220.4,361.7 268.0,322.4 216.1,364.0 224.9,359.2 260.6,327.4 258.4,332.4 268.4,317.8 237.9,344.5 217.1,366.1 261.5,327.8 215.1,367.9 263.5,326.5 265.6,325.5 266.1,324.6 243.4,339.4 251.6,333.3 262.3,326.9 218.5,365.9 252.4,330.0 253.6,329.8 222.3,360.7 225.8,356.9 265.8,323.2 223.5,360.7 253.2,332.7 256.2,329.4 234.2,347.7 215.8,366.4 228.1,356.7 221.9,360.6 263.4,325.3 234.7,350.1 259.5,332.5 222.4,362.0 245.6,336.7 259.8,330.8 221.2,361.9 247.8,335.6 217.6,363.2 212.7,370.7 223.7,358.4 265.3,320.9 259.0,325.1 266.1,325.1 247.1,337.3 258.8,330.3 259.7,324.7 253.6,334.9 239.5,344.2 255.8,331.0 216.5,368.4 223.2,359.6 225.2,358.8 221.6,361.7 257.5,329.4 247.7,336.1 229.8,352.3 238.1,344.0 213.5,369.3 239.9,343.1 220.8,361.2 237.8,345.5 224.4,357.8 223.9,358.9 258.3,325.6 216.3,367.1 254.5,333.2 254.6,333.4 265.4,320.4 212.7,369.3 264.2,322.6 265.0,321.8 232.3,352.7 229.3,352.6 225.3,356.6 252.4,332.3 245.0,338.8 215.6,364.9 219.5,363.7 254.1,329.3 264.1,328.7 244.8,337.8 220.3,363.3 258.9,325.8 261.3,324.3 258.8,327.0 231.7,352.9 264.9,330.5 215.4,367.1 228.5,354.3 239.0,345.7 224.1,359.5 257.2,330.3 244.4,338.3 264.0,323.5 254.0,335.9 266.6,320.9 263.0,323.3 258.7,330.9 244.7,339.0 231.5,352.1 222.3,361.1 263.5,325.5 240.5,341.9 259.3,330.5 235.7,347.7 264.7,329.6 259.1,329.1 232.3,350.3 259.4,323.3 250.0,332.9 256.2,331.1 244.9,338.8 229.6,354.6 227.0,357.2 224.5,358.3 252.4,332.2 259.2,324.5 216.5,367.9 212.9,369.9 256.9,328.8 216.4,367.0 254.0,329.4 220.5,363.7 224.2,359.5 254.5,335.3 242.2,339.7 219.9,362.2 237.7,345.3 249.7,332.2 213.6,368.2 259.4,327.3 216.1,368.2 221.9,362.5 217.7,366.3 219.2,364.4 235.3,348.8 222.4,360.6 250.7,332.1 268.1,322.8 223.0,361.2 219.2,364.7 259.7,330.7 235.2,349.6 227.8,354.5 260.3,332.4 259.2,329.4 227.8,356.6 260.7,334.2 237.7,345.2 231.0,353.9 259.1,324.5 239.0,343.3 256.0,334.2 261.1,330.4 221.9,362.1 258.3,330.4 217.4,365.5 255.3,329.5 244.6,340.4 225.3,359.1 259.8,323.8 269.1,323.7 261.4,325.2 244.2,340.6 225.3,358.3 253.7,335.8 250.5,333.0 244.8,338.3 269.1,325.0 254.2,331.9 262.8,327.4 254.7,332.9 212.5,367.8 248.0,334.2 235.6,346.4 257.3,335.8 266.1,323.2 226.9,355.8 226.1,358.6 214.3,366.4 218.9,363.9 266.3,320.2 265.5,324.8 222.3,360.9 267.0,318.4 253.2,336.4 267.1,321.0 226.0,358.5 258.6,334.3 220.1,362.0 254.1,335.4 240.7,341.4 265.9,328.6 246.7,337.4 242.3,341.7 264.5,330.7 212.8,370.6 257.1,326.9 258.4,327.2 255.2,335.5 218.7,364.5 259.3,330.2 219.1,365.8 230.1,353.9 265.8,326.2 220.2,364.6 217.9,366.4 258.8,328.2 217.2,366.5 266.7,321.5 254.0,331.8 264.5,329.1 242.0,342.7 256.1,332.3 259.3,325.4 262.8,322.5 264.4,323.6 257.0,327.3 214.3,367.9 253.9,338.0 256.1,333.1 234.6,349.5 260.8,331.9 247.3,337.7 233.0,348.8 258.5,328.8 263.0,322.3 218.0,364.9 219.9,364.1 248.9,333.5 255.0,336.3 242.3,341.2 220.6,361.4 228.3,356.2 262.8,327.2 224.3,360.5 216.2,368.2 261.5,323.7 226.9,355.7 219.9,361.9 239.5,343.8 246.3,335.9 217.4,364.4 258.8,328.0 260.5,324.8 222.2,360.3 260.1,332.0 266.6,319.5 258.5,324.7 258.7,329.3 214.3,368.3 265.9,321.2 260.2,326.6 222.1,362.5 253.6,331.7 225.6,357.4 263.4,330.9 265.0,323.5 218.8,365.1 264.6,330.5 221.6,363.3 263.1,329.5 237.9,344.4 238.8,345.3 260.0,332.2 252.8,333.4 264.6,329.9" fill="none" stroke="none" marker-start="url(#o0)" marker-mid="url(#o0)" marker-end="url(#o0)"/><polyline points="232.2,357.1 225.8,362.4 251.9,332.5 226.8,360.6 231.9,351.9 218.3,369.0 245.3,340.6 243.1,340.8 259.9,324.4 262.8,321.6 262.4,323.3 262.3,331.1 233.7,361.8 217.4,370.3 261.7,323.8 258.4,327.9 272.2,313.5 265.1,312.0 254.7,333.2 216.8,369.0 234.0,353.5 214.9,370.1 243.7,342.1 256.0,332.9 269.7,318.3 241.1,346.6 245.6,340.2 248.5,339.2 214.3,372.0 220.2,368.6 218.0,369.8 226.0,357.9 224.1,362.5 269.8,316.1 222.9,366.2 245.4,341.8 230.6,353.3 258.1,329.2 230.3,358.0 245.5,344.9 242.8,344.7 271.3,313.1 226.1,357.6 224.1,363.6 246.7,340.8 231.0,355.4 238.9,348.1 218.5,369.0 238.5,351.2 250.8,335.2 262.9,323.0 254.0,331.0 264.8,320.5 224.9,360.9 260.7,324.7 249.2,336.6 222.4,364.1 258.6,334.9 273.1,311.7 241.9,343.9 227.1,358.5 234.4,353.2 217.4,370.7 228.5,355.4 268.5,317.1 261.6,333.2 217.7,370.3 220.3,369.5 253.3,335.4 232.8,357.4 236.2,352.3 224.7,363.3 220.4,366.7 258.9,333.4 244.8,343.8 221.9,363.2 221.2,366.5 240.8,348.4 238.3,349.8 222.8,366.0 235.6,352.0 259.4,327.2 225.7,363.8 237.7,351.8 224.4,360.3 239.9,348.1 242.1,343.0 263.1,326.7 216.1,370.4 214.8,369.2 220.1,367.9 272.9,312.4 271.8,314.4 245.2,343.3 264.7,319.6 245.3,343.2 244.9,342.2 234.7,353.1 260.4,325.3 230.5,359.6 263.0,322.0 237.6,349.0 267.8,318.1 225.1,362.9 221.5,362.7 232.3,354.2 245.9,341.0 248.1,339.0 259.8,327.3 232.9,351.1 237.4,348.7 250.4,337.5 237.9,349.6 225.9,360.1 226.5,359.2 251.2,336.8 247.4,341.1 227.0,359.8 224.3,363.1 256.1,330.6 238.4,351.1 269.4,319.6 259.3,332.0 263.1,322.6 265.9,320.4 264.6,322.0 234.3,353.7 269.7,316.4 244.2,342.6 245.0,342.7 257.4,328.9 268.8,315.6 225.7,364.7 228.7,359.2 264.0,321.3 266.7,318.0 243.2,343.5 272.3,313.9 232.3,355.4 273.2,312.1 263.1,321.7 224.0,364.6 241.9,343.8 253.1,334.4 267.2,311.1 245.0,339.6 256.9,328.8 267.2,317.2 267.7,317.4 216.7,367.6 262.2,329.8 258.9,333.2 252.4,335.2 223.5,361.2 244.8,344.7 225.1,361.0 268.4,316.2 256.0,334.0 234.0,353.5 250.3,333.8 228.9,360.2 239.6,345.5 216.6,369.5 247.8,327.8 229.4,358.2 269.2,321.0 249.6,337.4 267.9,318.7 249.6,338.7 242.2,343.1 243.3,346.4 232.0,355.9 214.2,370.2 239.5,348.2 259.5,329.9 239.3,345.5 248.1,336.8 272.1,314.0 261.2,331.9 252.9,333.3 245.0,339.0 251.7,334.6 233.1,356.5 231.6,353.5 268.4,323.8 269.1,316.4 263.3,322.4 262.1,324.1 214.2,371.6 248.2,326.6 263.0,323.6 227.7,361.3 236.8,348.2 240.4,347.0 225.6,361.1 242.2,345.3 217.4,368.9 226.0,364.7 241.5,346.0 257.9,328.3 268.8,322.8 256.1,337.0 269.4,316.1 267.1,317.9 242.2,345.7 222.1,364.3 232.0,356.1 218.0,369.8 245.1,343.3 215.2,371.4 263.4,322.3 252.8,335.3 232.5,356.7 260.2,325.5 245.3,342.0 254.6,331.4 224.1,362.8 238.3,351.8 255.5,329.0 240.6,345.5 217.4,370.8 246.5,343.3 238.8,345.1 215.8,369.8 270.3,316.1 220.5,368.7 231.5,359.7 272.4,312.2 235.8,349.1 249.2,337.3 257.1,330.5 270.3,315.2 264.5,322.3 236.2,350.5 240.6,347.4 224.6,359.5 247.7,336.3 264.0,322.3 221.5,364.7 234.9,353.4 267.9,318.5 232.2,356.8 225.0,359.0 239.7,344.7 253.7,331.2 254.4,332.6 273.4,312.8 221.3,367.3 241.1,343.4 271.5,313.6 267.9,316.9 267.4,318.7 224.6,361.9 234.7,354.1 248.6,324.4 252.5,339.0 254.7,330.5 236.9,351.6 254.9,332.7 247.6,340.9 234.6,352.0 234.2,354.9 240.8,343.0 248.1,336.1 267.0,319.1 262.1,323.2 234.2,352.9 269.5,316.6 244.3,340.2 259.1,325.7 248.6,326.2 249.7,338.4 255.7,328.6 233.5,361.0 254.1,330.8 265.0,321.7 229.9,356.4 263.2,323.3 254.8,331.5 266.2,320.3 223.3,364.7 219.7,365.5 241.8,342.3 268.6,316.0 252.9,333.5 242.9,344.1 234.3,352.4 254.0,332.3 247.7,340.5 246.5,342.0 237.2,348.3 226.6,361.0 223.0,364.2 260.3,325.4 234.7,350.9 265.5,320.9 224.5,360.8 236.9,351.8 268.3,316.2 250.7,335.6 237.3,348.7 228.3,359.5 236.3,351.4 222.4,363.4 267.7,316.8 252.4,334.5 227.2,358.2 241.7,344.8 225.7,364.3 228.4,358.2 223.3,360.9 217.6,367.8 258.3,327.7 216.1,369.3 222.1,365.1 230.0,357.6 266.7,318.1 243.0,347.1 261.3,324.1 247.4,340.9 261.3,323.9 245.1,343.8 267.5,318.8 234.8,352.7 229.3,359.7 271.9,312.7 219.2,367.3 231.1,357.0 236.0,350.8 261.6,325.4 259.7,326.6 240.8,343.3 267.6,319.0 227.6,358.0 219.1,365.7 256.2,329.9 217.0,368.8 226.2,361.5 246.8,342.8 243.8,340.1 219.8,368.2 227.5,360.8 271.1,314.8 268.8,321.6 240.3,343.6 238.0,346.8 247.7,337.7 221.6,363.7 272.0,313.8 222.2,363.9 234.2,356.3 219.0,366.8 224.4,359.9 241.6,348.1 264.6,320.5 237.3,351.3 259.2,327.9 246.8,339.6 234.8,349.9 254.5,332.8 265.3,320.7 261.2,325.5 214.2,372.6 256.8,328.3 224.6,363.0 215.5,372.4 233.1,356.0 227.5,356.5 244.1,344.2 262.0,329.1 265.6,318.7 223.4,364.4 218.6,367.3 231.7,354.9 254.8,332.4 248.6,339.8 260.1,324.5 234.0,355.1 227.4,362.8 217.3,372.6 227.7,359.8 266.5,318.5 253.3,334.8 258.5,328.2 218.3,371.8 256.3,331.2 219.5,365.3 271.7,312.6 231.2,352.6 233.7,353.5 243.5,341.1 228.8,359.6 229.0,357.4 228.2,358.5 227.6,360.0 256.4,329.5 269.0,316.6 227.0,360.6 231.9,354.6 218.7,366.2 249.2,335.1 255.8,329.7 223.7,366.4 240.5,347.9 246.0,339.2 220.7,363.6 245.8,342.2 257.4,329.1 255.8,328.9 223.7,365.5 233.9,353.3 216.8,370.9 238.9,346.1 225.3,358.9 234.1,355.0 245.3,339.9 246.1,342.1 230.2,358.2 272.0,313.1 229.1,361.7 226.4,360.9 263.2,323.2 268.0,317.5 241.0,348.5 262.9,327.8 215.5,368.7 238.5,349.2 229.6,359.1 255.1,331.2 216.1,368.0 222.0,368.1 236.8,350.6 235.0,355.7 263.2,323.0 245.3,340.7 217.3,366.7 270.7,315.3 252.7,337.1 271.5,314.5 244.8,339.5 216.6,370.0 253.3,331.4 268.1,316.3 247.7,338.8 215.6,371.6 231.0,356.7 247.7,338.3 241.5,344.5 261.5,323.1 224.1,364.1 225.4,360.4 214.9,371.7 218.2,371.5 255.3,331.2 239.1,350.0 247.9,339.2 259.5,325.3 225.8,360.8 235.6,353.4 229.0,358.7 231.2,354.4 263.5,321.4 269.9,315.6 236.4,348.4 266.4,318.3 259.0,330.9 241.0,345.1 221.5,362.7 256.9,327.6 220.3,368.0 271.4,313.0 222.9,362.5 223.4,366.7 233.3,352.4 223.1,362.7 253.8,331.7 230.7,353.6 264.1,321.2 248.0,337.4 257.4,327.6 223.6,366.0 241.4,347.8 266.4,319.0 244.2,339.9 226.2,361.4 228.8,359.2 267.7,311.4 264.8,321.7 241.1,346.1 262.8,322.7 255.8,337.8 245.7,339.8 239.7,348.4 225.6,362.3 264.3,312.5 272.1,312.9 260.3,326.6 267.1,319.2 263.9,322.0 267.0,318.1 214.5,373.5 229.6,358.5 268.8,316.8 256.5,329.9 260.0,325.8 226.4,358.3 240.9,347.3 239.9,348.1 257.6,329.6 263.6,322.3 226.6,361.7 215.3,370.3 219.0,371.3 258.9,327.1 226.7,361.5 231.3,354.1 232.3,356.1 252.5,338.1 227.2,361.4 263.7,322.5 250.4,337.0 270.6,314.7 236.8,349.0 254.4,333.6 247.4,342.9 236.1,349.8 220.6,368.9 258.1,327.2 236.4,352.0 235.8,351.6 255.8,335.7 260.4,325.8 225.9,359.3 239.5,344.5 271.0,313.7 223.9,360.2 263.3,321.3 248.4,337.6 264.4,321.6 230.4,357.1 218.3,365.6 240.1,344.1 248.7,339.7 249.5,337.9 262.3,324.5 228.6,356.4 271.3,314.5 245.4,339.7 218.0,369.9 259.6,327.4 259.7,325.5 234.9,362.5 256.9,330.5 229.9,355.7 261.7,324.2 242.8,345.5 272.1,314.1 234.0,352.3 265.3,319.2 214.2,372.8 239.8,348.3 244.8,342.5 270.6,315.7 243.6,345.0 223.4,364.2 218.4,370.4 240.0,344.9 255.9,330.0 230.0,355.9 240.9,343.8 244.5,340.8 215.8,372.4 254.6,329.7 247.0,342.5 260.3,324.4 228.8,356.1 231.8,353.8 240.3,345.7 266.9,319.1 258.0,328.8 215.7,370.1 221.1,364.8 225.8,358.0 241.5,343.8 215.7,370.3 230.3,355.1 228.9,356.5 263.6,320.7 246.2,341.7 220.9,364.6 247.6,340.3 235.3,349.9 231.5,359.6 218.0,372.0 223.4,363.7 241.0,344.5 231.4,356.5 266.1,311.3 246.2,338.4 268.1,318.2 270.3,316.0 258.0,328.4 267.8,316.8 235.3,350.1 239.5,349.3 247.3,336.8 253.8,332.8 243.8,345.4 250.2,334.2 264.1,320.5 243.0,346.4 218.5,369.1 256.8,327.8 231.9,353.7 268.7,317.7 229.1,358.8 221.4,364.8 272.5,312.9 243.8,340.0 252.2,335.7 238.9,344.9 253.0,336.9 214.4,370.8 218.5,367.3 271.1,313.6 244.0,341.0 266.6,319.9 222.6,366.9 244.9,339.5 221.6,366.4 245.7,340.6" fill="none" stroke="none" marker-start="url(#o1)" marker-mid="url(#o1)" marker-end="url(#o1)"/><polyline points="253.9,322.3 228.5,356.0 247.2,327.8 234.4,350.5 264.6,328.5 264.3,331.5 230.0,357.7 265.5,324.8 222.2,364.3 268.5,316.0 262.7,311.5 233.7,364.2 258.7,327.2 252.9,333.3 217.8,366.9 248.2,337.7 267.5,317.6 250.7,336.1 264.6,311.7 267.5,326.7 267.5,324.6 218.4,367.7 226.7,360.0 247.7,324.1 264.7,326.6 253.4,331.5 243.4,343.2 233.1,352.9 243.8,342.6 264.8,330.5 262.2,323.4 222.3,362.3 244.2,342.6 235.7,351.0 226.9,360.6 267.8,312.0 268.2,312.4 221.0,363.6 246.0,338.6 227.8,357.5 219.1,368.2 226.4,358.1 248.1,323.8 243.1,343.2 247.2,326.8 219.0,368.1 255.9,329.3 246.8,328.2 242.9,344.0 263.8,311.1 249.5,334.9 243.2,341.2 265.5,323.5 267.9,321.2 267.4,322.7 257.9,321.8 269.3,315.4 233.7,362.8 249.4,336.3 221.8,364.9 243.7,340.7 231.0,355.9 248.4,336.2 255.7,322.0 252.0,333.0 230.9,353.9 264.8,327.6 226.3,360.8 257.6,327.4 232.2,355.6 254.7,322.3 252.3,333.1 264.7,321.3 257.8,321.6 247.1,325.7 266.7,312.3 251.6,334.0 269.3,312.3 229.3,357.8 231.5,353.6 265.3,319.3 270.7,313.7 261.1,323.5 230.9,353.9 265.1,329.7 267.4,326.2 267.3,318.7 262.8,321.8 232.6,362.3 256.5,322.3 267.0,329.3 267.6,318.0 249.3,336.0 246.6,338.4 260.3,325.0 247.5,324.9 231.6,360.4 263.2,321.7 265.8,311.5 239.2,345.5 265.4,325.7 225.9,359.6 258.6,326.6 267.9,323.4 241.5,342.8 240.9,343.7 240.4,344.9 256.4,328.9 266.9,328.0 232.1,361.4 267.9,317.6 256.6,328.1 261.0,324.0 253.1,322.9" fill="none" stroke="none" marker-start="url(#o2)" marker-mid="url(#o2)" marker-end="url(#o2)"/><polyline points="245.7,331.4 232.1,347.6 249.0,329.4 254.3,322.8 255.5,326.5 219.1,357.3 253.4,328.1 257.6,324.1 264.6,318.2 232.6,346.3 240.8,336.6 224.1,351.6 253.2,324.4 212.8,359.7 259.7,320.1 244.0,336.2 223.5,353.0 250.0,326.7 222.2,355.4 262.6,316.4 209.7,360.2 246.3,334.5 246.9,337.0 256.9,321.7 227.9,351.4 218.3,360.1 265.5,314.9 214.6,359.2 213.0,358.8 250.4,328.7 253.9,323.1 249.4,333.3 258.5,321.5 242.7,339.3 226.0,351.3 221.4,354.2 255.7,323.8 229.5,350.7 210.0,361.0 227.2,354.8 222.6,352.8 210.2,359.6 265.8,315.1 215.9,360.7 214.2,357.4 210.4,362.2 233.9,345.8 258.0,321.5 246.9,333.4 235.6,342.7 227.0,352.7 242.6,335.7 220.2,354.8 244.6,334.6 253.6,327.6 260.2,322.6 214.1,359.6 236.8,342.4 225.1,355.8 250.9,327.4 221.1,359.6 248.9,330.3 217.4,360.7 217.3,360.0 227.8,350.5 217.6,357.1 257.8,321.5 236.7,340.1 213.7,361.0 231.1,346.8 227.4,354.3 220.7,355.4 257.0,324.6 235.2,347.1 228.6,352.6 249.9,327.3 218.7,358.5 254.2,327.9 245.1,335.1 263.7,316.9 225.8,350.5 248.8,328.3 232.0,344.8 260.3,318.2 254.4,324.9 238.3,342.1 248.1,329.1 262.7,317.3 251.6,329.8 260.1,320.4 237.0,341.3 239.1,340.8 258.7,320.5 211.5,360.7 212.6,360.3 215.0,357.6 210.5,360.8 237.9,340.4 234.2,342.7 252.8,327.6 254.1,324.2 240.9,339.3 209.9,360.5 239.5,339.1 221.8,356.4 223.9,353.2 224.2,354.4 238.9,341.2 251.6,327.7 264.2,316.0 249.1,332.7 231.1,349.5 241.5,335.7 215.1,357.2 230.1,348.8 236.6,340.4 259.2,318.9 220.1,360.0 245.5,332.2 230.3,347.6 247.7,330.8 254.1,323.0 243.6,335.4 218.5,357.1 230.9,350.8 240.8,342.3 263.9,317.8 234.9,345.5 245.6,331.8 212.7,360.1 255.3,322.1 264.1,317.7 248.7,331.3 235.3,345.5 227.2,351.4 258.7,319.9 224.2,353.8 212.6,358.4 260.0,318.5 265.2,316.0 229.3,349.8 223.2,354.0 254.3,323.6 256.5,326.9 259.3,322.9 253.9,324.8 259.4,320.5 253.3,326.1 260.1,318.2 238.0,342.6 226.0,353.5 261.8,320.5 213.1,362.1 210.6,359.2 261.2,321.6 264.1,315.3 250.1,330.7 234.4,343.4 247.6,335.4 255.2,324.2 260.7,318.5 261.4,318.9 247.2,334.6 222.2,353.5 235.1,347.3 254.4,326.4 247.2,335.5 249.3,333.9 226.0,351.2 222.6,352.9 261.4,321.4 227.9,350.9 228.6,347.7 230.1,349.5 241.4,335.8 227.5,348.9 259.7,322.5 226.3,352.4 214.6,357.3 218.4,356.1 232.0,347.7 211.2,361.0 218.6,358.5 264.0,316.3 244.3,336.6 219.0,355.8 250.8,330.8 239.6,339.6 212.3,358.0 237.7,341.0 260.5,322.8 216.3,360.5 209.5,360.9 215.2,358.0 225.5,352.5 220.1,358.9 224.0,355.1 214.8,359.8 224.6,356.9 246.3,330.4 242.2,341.2 218.1,356.9 262.0,318.7 240.2,339.4 254.5,329.1 236.1,343.2 230.7,346.7 242.0,335.3 234.5,345.3 252.7,327.7 217.6,360.3 210.4,359.7 213.5,360.0 256.9,323.1 249.8,333.0 245.5,331.4 252.4,325.8 265.5,317.1 214.9,357.8 255.5,322.3 230.0,347.3 240.3,337.6 262.1,318.7 245.7,331.5 240.7,339.4 211.2,360.2 218.1,358.6 209.8,360.7 221.5,354.4 241.8,342.3 227.7,351.2 237.1,345.9 260.3,320.8 213.6,359.1 237.9,342.5 264.5,317.9 209.9,361.5 246.8,332.7 211.3,361.7 230.5,350.7 232.5,345.2 225.7,350.6 211.2,360.9 264.2,315.5 256.9,322.4 258.8,323.9 259.9,323.6 260.0,321.7 252.5,325.5 238.7,342.9 253.2,329.5 260.0,320.7 219.9,356.8 230.6,346.3 245.4,331.3 263.2,316.3 230.6,349.6 227.3,350.2 250.0,331.3 245.1,332.4 219.1,358.4 248.3,331.8 265.1,316.8 242.4,337.4 247.3,330.8 247.1,329.6 263.4,317.5 247.9,328.8 249.7,328.7 220.2,355.2 227.0,352.3 232.0,345.6 228.6,348.9 246.9,330.8 217.7,356.3 251.4,330.1 252.9,328.2 215.4,359.8 221.7,353.6 251.7,325.1 237.0,344.7 240.9,340.7 211.5,359.5 224.9,353.2 231.4,346.1 233.8,348.6 253.0,326.2 220.6,355.4 223.4,356.2 244.7,333.1 250.5,327.3 237.4,345.4 225.0,357.4 213.0,358.6 252.1,325.8 233.1,346.0 255.6,326.1 238.8,338.2 224.2,352.3 219.4,359.4 230.3,350.6 259.6,319.8 212.9,361.6 255.5,324.2 221.5,354.1 211.6,359.0 219.3,357.3 239.9,338.1 236.1,342.8 264.9,316.3 264.8,316.8 210.6,360.3 261.6,317.2 217.8,357.6 244.8,337.2 209.9,362.6 241.4,339.0 214.4,359.9 210.7,361.3 213.8,357.8 239.5,337.9 235.6,347.1 217.9,357.3 262.0,319.7 218.5,358.7 232.9,346.3 265.2,314.9 260.9,319.5 216.2,361.1 231.8,348.1 248.3,335.9 227.2,351.1 209.1,361.5 227.8,348.9 211.4,360.4 259.4,322.3 230.3,346.4 254.6,325.7 236.8,344.4 262.3,319.8 213.2,360.9 248.1,332.4 224.7,351.6 253.0,328.4 243.6,336.7 259.0,319.5 233.9,345.5 260.5,320.8 239.1,343.4 250.2,330.7 247.7,332.6 211.6,360.9 224.7,353.3 266.0,314.0 210.2,361.2 226.1,352.7 221.8,355.1 253.6,323.6 226.1,351.2 263.2,318.2 224.7,352.4 248.1,329.7 250.2,329.8 226.7,354.2 260.5,320.0 221.7,355.2 223.8,352.8 240.4,339.5 258.5,319.4 210.2,360.9 262.7,317.9 257.5,320.2 209.6,360.6 256.5,325.9 232.9,346.2 262.8,316.9 249.8,327.5 242.0,336.5 222.0,353.9 228.6,353.2 226.3,353.4 259.3,322.1 258.9,319.2 237.4,344.2 255.4,321.9 235.8,343.5 257.9,325.0 210.0,360.3 218.4,360.5 243.3,337.4 240.3,341.0 244.6,333.2 228.7,348.4 226.1,351.5 262.0,317.1 255.4,326.0 220.3,357.4 217.1,357.2 244.7,334.6 244.4,336.9 261.7,318.3 225.5,350.8 246.2,332.2 228.5,348.9 236.2,342.9 256.1,322.1 222.2,355.9 260.8,321.1 257.7,319.9 222.3,355.2 219.7,356.5 221.2,356.7 261.6,317.6 264.2,315.4 260.0,319.3 226.3,353.8 228.3,352.6 246.9,334.3 216.2,359.4 216.8,359.5 252.4,326.9 234.4,343.5 216.3,358.6 264.7,315.9 214.3,358.6 248.9,328.0 225.1,354.7 220.9,357.6 258.6,321.7 217.6,359.4 247.3,335.8 246.0,334.5 265.6,315.0 259.0,318.9 252.1,326.2 257.7,321.3 226.6,351.3 225.2,352.1 251.6,327.3 241.9,335.4 264.4,315.6 244.1,339.2 255.7,322.6 241.0,338.4 221.0,358.0 256.9,320.9 232.5,347.1 261.4,317.6 252.5,326.6 236.7,343.6 254.5,324.2 218.3,357.4 209.6,360.3 232.1,351.0 224.3,352.2 232.2,345.2 248.3,330.7 227.1,354.3 219.4,357.2 222.5,355.6 218.7,356.2 263.3,316.4 243.7,334.0 265.4,314.5 264.4,315.7 244.8,336.1 259.6,322.7 215.3,360.0 220.0,357.9 208.6,362.0 247.9,328.9 264.8,317.5 237.6,340.3 231.8,345.1 214.4,359.4 242.2,335.6 264.2,317.1 263.8,316.5 214.4,358.2 215.1,357.8 246.1,331.8 249.4,333.0 252.0,324.8 217.7,357.2 242.6,338.7 213.8,358.2 212.1,360.2 219.7,359.6 215.1,361.9 226.0,351.4 208.5,362.6 235.5,346.9 221.9,354.1 229.4,352.2 262.9,319.3 231.1,352.0 215.9,358.6 241.8,338.5 253.4,323.5 263.1,316.6 258.3,320.1 237.7,341.0 217.3,359.6 264.0,317.0 239.3,340.0 237.0,340.2 229.3,349.0 223.5,352.8 222.3,356.2 220.4,356.2 236.5,343.6 249.5,328.1 228.1,353.9 212.3,359.1 241.9,338.2 253.2,327.3 232.0,348.4 254.9,324.1 266.3,314.7 219.6,355.9" fill="none" stroke="none" marker-start="url(#p0)" marker-mid="url(#p0)" marker-end="url(#p0)"/><polyline points="256.2,321.6 226.9,349.4 251.9,325.6 233.5,344.5 247.3,331.3 244.6,332.7 214.6,359.1 263.7,316.9 255.5,322.5 244.6,333.2 241.7,335.8 263.4,316.8 238.2,338.5 241.6,335.3 251.8,325.8 238.5,338.7 246.9,330.2 225.0,353.7 225.0,351.0 218.5,356.1 247.9,329.2 232.8,343.8 263.9,315.7 224.8,351.8 235.6,343.5 245.2,332.7 262.7,316.6 212.5,358.3 260.1,319.7 242.3,335.1 219.1,355.9 220.0,355.1 219.5,356.7 221.9,355.5 218.1,356.8 226.8,349.9 245.5,332.6 263.2,317.9 263.1,316.4 249.3,327.6 240.7,336.8 242.1,335.2 244.2,332.5 214.3,358.3 239.8,337.3 210.6,359.0 247.9,330.4 235.5,341.5 255.7,322.1 233.2,343.9 218.8,357.5 223.8,354.0 212.1,358.1 266.1,314.0 262.9,316.4 227.8,349.7 241.4,335.6 244.9,334.0 241.8,336.1 263.8,315.5 252.5,324.9 212.1,358.3 231.2,346.0 250.6,326.3 240.0,336.9 236.6,340.6 226.3,350.4 235.1,342.1 262.4,316.9 240.8,336.4 241.3,335.5 227.8,348.9 218.7,358.2 257.2,320.4 225.7,353.0 211.4,358.6 209.5,361.4 225.9,350.2 244.2,333.6 256.2,322.4 261.1,317.7 233.5,344.2 241.5,336.7 239.0,338.2 214.6,360.0 209.6,360.3 224.5,353.6 246.6,330.7 263.9,316.3 211.9,359.5 246.2,330.4 256.0,321.7 248.2,329.9 239.8,337.8 217.0,359.4 223.5,352.2 221.8,353.7 209.3,360.8 235.2,342.4 224.1,351.7 221.3,354.0 240.9,336.3 225.8,350.3 264.5,315.4 255.6,321.7 216.7,356.6 239.3,337.9 216.7,357.3 238.4,339.4 237.8,339.2 211.7,358.5 240.0,338.1 256.1,321.9 259.6,320.6 262.6,317.2 209.0,361.0 241.7,335.1 229.4,347.2 228.7,348.9 243.0,335.4 241.9,335.0 249.2,330.5 230.5,346.3 264.2,315.4 246.2,330.6 213.5,358.0 220.4,356.9 254.6,322.6 226.9,349.7 216.1,356.7 221.0,354.6 226.4,350.2 225.8,350.9 214.6,357.5 243.7,334.2 265.3,314.9 241.9,335.1 246.3,330.8 228.2,349.1 208.8,361.4 219.3,355.3 209.2,360.9 217.0,356.5 244.5,333.5 240.3,337.4 224.9,351.0 210.1,360.8 253.8,323.6 229.6,347.2 251.0,327.2 234.7,343.0 253.2,324.1 257.8,320.1 251.2,326.8 262.5,316.5 237.0,339.9 246.1,330.8 263.1,316.4 230.6,347.0 260.9,318.1 243.0,334.5 210.9,359.0 226.0,350.2 260.0,318.4 259.4,319.0 247.9,329.9 265.4,315.7 254.4,323.4 222.6,352.9 238.4,338.9 243.5,334.7 220.9,355.3 244.4,332.8 237.6,340.0 251.3,325.3 220.0,355.5 256.1,322.1 217.5,356.7 250.0,327.0 223.8,352.3 250.1,326.5 231.6,345.1 244.8,332.2 263.1,316.0 226.4,350.5 239.0,338.2 217.2,356.5 215.1,357.2 240.9,336.2 234.1,343.1 219.7,357.8 216.5,357.0 253.3,324.1 211.6,358.7 233.2,345.0 255.3,322.4 255.6,321.9 210.5,359.5 212.8,358.2 224.1,352.2 234.5,342.4 228.4,348.5 255.3,324.1 234.7,343.1 217.2,356.4 237.1,342.3 251.4,325.6 214.9,357.7 231.4,347.5 240.3,337.7 218.4,357.5 262.2,317.1 231.8,344.9 260.3,320.2 262.8,316.4 229.9,346.8 256.1,321.6 265.4,315.1 231.4,345.3 210.9,360.0 233.3,343.3 231.8,345.7 231.2,347.3 256.8,322.0 209.4,360.5 250.4,326.4 249.4,327.5 256.5,321.3 262.6,317.3 250.7,326.1 239.0,337.9 242.6,334.3 245.0,331.6 257.9,320.3 243.8,333.7 233.0,345.7 236.8,341.2 239.4,338.3 246.2,330.6 233.9,343.0 222.4,353.7 252.3,326.7 242.1,335.7 223.3,353.3 230.2,347.1 242.1,335.9 225.3,351.9 261.8,318.8 218.7,356.3 230.6,346.0 239.7,337.6 242.7,334.3 238.1,339.0 229.4,347.3 209.2,360.9 250.0,327.1 247.3,329.6 235.1,343.5 228.9,348.4 260.3,318.0 249.5,327.4 262.6,316.5 250.7,326.3 258.6,319.3 208.8,361.6 218.3,356.0 245.8,333.1 224.4,351.6 262.6,317.2 252.4,324.7 212.8,358.0 234.1,345.2 211.1,358.8 240.8,336.9 230.9,346.2 225.9,350.3 238.0,339.0 257.8,321.2 259.0,319.1 264.0,316.9 258.1,320.0 222.6,353.2 243.0,334.2 242.3,334.9 238.7,338.3 240.1,337.2 260.8,317.7 264.2,316.5 257.9,319.8 219.7,355.5 228.7,349.8 261.0,317.7 228.5,347.8" fill="none" stroke="none" marker-start="url(#p1)" marker-mid="url(#p1)" marker-end="url(#p1)"/><polyline points="271.2,309.4 273.4,307.1 272.8,308.0 272.4,308.4 271.8,309.3" fill="none" stroke="none" marker-start="url(#p2)" marker-mid="url(#p2)" marker-end="url(#p2)"/>
<polyline points="329.9,258.1 329.8,256.9 325.4,261.1 334.1,252.0 330.1,255.7 332.8,253.4 322.4,263.4 321.7,263.7 328.6,259.3 330.4,256.5 331.0,254.8 324.5,262.4 333.2,253.5 327.7,258.1 326.3,259.5 327.5,258.2 321.3,266.1 329.5,256.4 327.9,259.3 327.6,258.5 331.2,255.4 319.3,268.2 323.1,264.1 327.0,259.7 325.9,261.7 321.5,265.9 325.9,259.7 326.6,259.8 323.9,263.4 327.7,259.3 323.2,262.5 326.7,258.8 329.3,257.1 328.5,257.8 329.2,258.6 331.7,254.2 330.1,255.7 332.3,254.0 331.1,256.4 332.9,253.6 334.0,251.9 322.9,262.6 319.9,265.4 320.8,265.0 324.9,260.9 319.6,267.0 328.3,259.4 320.2,267.3 324.1,261.6 333.5,253.0" fill="none" stroke="none" marker-start="url(#o0)" marker-mid="url(#o0)" marker-end="url(#o0)"/><polyline points="369.6,214.5 336.9,248.8 321.6,263.4 331.9,254.4 369.2,214.7 373.0,211.4 327.6,257.8 350.9,231.4 319.2,265.6 323.8,261.3 361.8,220.5 347.4,234.3 324.1,262.5 332.6,253.7 339.5,243.9 331.3,256.2 369.8,215.1 342.9,239.2 334.3,252.8 346.4,235.8 365.6,217.3 374.2,211.4 374.8,210.0 347.0,234.7 343.1,240.2 331.4,256.1 338.1,246.4 365.8,217.2 370.2,215.4 338.4,246.0 351.3,231.9 369.7,214.1 369.0,215.5 336.0,250.4 350.0,232.9 336.8,248.6 331.0,255.5 331.0,255.8 369.9,214.9 364.4,218.2 328.9,256.9 327.3,258.9 351.8,230.9 334.3,252.6 368.2,215.8 329.8,257.4 373.6,211.1 325.8,260.5 343.1,240.4 344.4,238.9 320.5,265.5 317.4,267.5 356.7,225.4 355.3,226.5 318.6,266.3 364.1,218.9 345.7,236.4 365.7,218.6 326.8,259.7 339.3,245.0 334.5,252.4 375.0,209.6 344.9,237.3 363.6,219.9 324.0,261.5 360.3,222.7 342.1,240.8 365.4,218.8 364.2,219.5 356.2,226.2 358.9,223.9 339.8,243.4 343.7,239.4 327.5,259.1 331.1,255.0 338.3,246.1 321.7,263.5 330.1,256.7 333.0,254.7 370.0,214.4 353.3,229.6 326.1,260.0 325.9,260.4 330.5,255.4 338.6,246.3 362.9,220.2 365.4,218.5 359.2,223.1 359.2,223.0 319.2,265.9 360.5,222.4 328.2,257.4 350.1,232.7 321.7,263.8 352.6,230.1 349.8,233.2 373.8,211.2 362.3,221.6 366.6,217.9 317.4,267.7 363.9,218.3 318.9,265.9 368.3,215.9 337.2,247.3 339.6,244.8 359.0,224.4 371.3,213.4 320.2,264.2 332.2,254.3 332.9,254.3 358.5,224.6 332.3,254.0 320.1,265.5 355.8,226.0 330.0,256.3 332.4,255.0 359.4,223.6 355.2,227.5 319.0,266.5 360.4,222.7 348.5,233.3 350.7,231.4 332.9,253.6 366.2,217.8 326.6,258.8 325.0,260.9 358.8,223.5 358.2,223.7 349.9,232.4 364.5,219.4 327.7,258.7 343.9,239.6 334.1,252.0 352.3,229.8 347.6,234.7 325.7,259.5 349.1,233.6 331.7,255.0 324.2,261.8 324.8,260.0 360.7,222.3 317.2,268.3 359.0,224.3 321.6,264.3 363.1,220.6 371.3,213.3 341.6,241.2 338.5,246.0 370.5,214.9 364.0,219.7 319.4,265.5 350.0,232.0 327.8,258.3 325.4,260.7 336.0,249.3 332.7,253.5 352.1,230.0 318.5,266.1 318.5,266.2 339.4,245.3 353.6,228.3 322.5,262.6 366.2,217.5 374.7,209.7 329.8,256.8 357.8,224.5 348.8,233.7 352.1,230.6 362.4,220.5 317.4,268.3 334.6,251.9 342.3,239.8 339.2,244.2 353.5,228.6 370.8,213.4 322.6,261.9 332.1,255.4 349.3,234.0 326.8,258.2 335.0,251.2 331.5,255.0 359.1,223.7 334.8,252.1 371.0,213.9 322.1,263.3 335.3,250.1 365.2,217.8 373.1,212.3 338.6,246.6 339.0,245.3 359.6,224.0 327.9,258.9 324.4,261.2 329.8,257.1 345.4,236.8 322.6,263.2 330.2,256.9 332.8,254.7 326.1,259.7 355.6,226.2 341.4,242.0 341.3,241.6 344.7,237.9 329.1,257.5 344.6,238.2 346.5,236.8 327.7,257.8 351.0,231.8 374.4,209.9 320.4,265.7 363.7,219.1 335.0,250.9 369.6,215.3 326.6,259.5 348.0,234.1 368.9,215.0 348.5,234.0 348.3,234.8 337.3,247.7 319.8,265.5 326.5,259.7 357.7,224.9 339.1,245.1 370.7,214.1 369.6,214.8 333.3,254.3 337.6,247.4 326.4,259.8 348.6,234.4 346.2,236.6 317.1,267.4 352.7,229.4 373.0,212.8 329.4,257.2 352.1,231.0 365.4,218.1 364.3,219.6 350.4,232.4 362.2,220.4 340.9,242.6 330.7,255.5 317.9,267.0 358.2,224.2 320.8,264.5 370.4,214.1 320.8,263.8 374.7,210.8 351.5,231.5 329.7,257.1 331.5,254.9 336.8,248.3 332.1,255.4 335.3,250.3 318.0,268.1 325.5,260.4 351.4,232.1 336.1,249.4 336.3,248.6 341.3,242.0 328.1,257.3 357.3,224.8 353.2,229.6 368.7,215.7 352.7,229.8 328.9,257.2 349.8,233.3 346.4,236.9 374.0,210.6 351.6,230.1 330.5,256.4 365.6,218.1 319.7,265.8 369.9,215.0 317.3,268.2 368.1,215.6 359.1,223.5 348.7,234.4 347.3,235.2 340.5,242.2 361.9,221.7 371.2,213.1 332.1,254.7 369.4,214.8 367.9,217.1 350.0,233.2 332.8,253.7 357.0,225.1 320.1,265.1 320.6,264.8 318.6,266.9 367.2,216.6 325.6,260.8 351.5,230.8 346.3,236.5 318.7,266.4 351.3,231.7 343.8,239.6 321.1,264.6 322.5,262.3 337.0,248.6 345.3,237.4 345.3,236.8 337.2,247.7 316.6,268.7 374.3,210.3 325.3,260.7 330.9,255.4 352.8,229.9 323.3,263.0 318.9,266.3 374.0,211.0 340.7,243.1 361.4,222.2 328.4,258.2 328.6,258.4 321.6,263.1 324.2,261.4 318.9,266.7 352.3,229.7 322.7,263.6 323.3,262.5 360.5,222.9 355.0,227.3 317.1,267.7 359.7,222.8 336.9,248.0 359.9,223.5 364.1,219.1 370.6,213.3 333.7,252.8 367.3,216.3 361.9,221.6 332.9,254.2 357.3,224.8 365.3,218.7 345.6,237.5 319.6,265.9 343.0,238.8 327.9,258.5 355.8,226.9 356.4,225.7 339.1,243.9 342.1,241.3 368.0,216.8 324.9,261.4 329.5,257.6 347.7,234.6 364.9,218.7 345.8,237.3 357.2,224.7 326.1,259.6 353.8,228.3 353.4,229.0 321.2,263.2 328.5,257.8 317.0,268.4 372.9,212.7 316.7,268.4 348.8,234.1 374.8,209.7 360.0,222.5 323.3,262.9 338.0,246.3 328.4,257.9 337.4,247.7 321.5,264.6 359.8,222.3 344.9,238.4 331.5,255.0 320.1,265.3 333.9,253.3 325.1,260.5 336.4,249.0 338.4,245.8 321.2,264.2 364.5,218.0 342.8,240.5 373.0,211.1 337.8,247.6 365.6,218.2" fill="none" stroke="none" marker-start="url(#o1)" marker-mid="url(#o1)" marker-end="url(#o1)"/><polyline points="322.8,256.8 363.5,222.6 325.6,256.8 369.4,218.2 341.5,243.0 323.7,255.5 360.6,227.3 314.1,264.9 340.8,244.4 349.2,238.2 362.5,225.6 353.6,232.8 350.0,236.5 334.6,248.5 323.7,258.9 341.7,242.7 336.0,249.3 315.2,263.2 323.7,257.6 335.5,248.0 342.2,243.0 359.2,227.6 353.6,232.8 317.4,260.4 368.8,219.0 321.0,260.5 335.9,247.0 344.5,240.9 314.9,261.1 349.3,238.0 313.2,263.8 355.7,232.0 336.1,247.8 347.0,239.7 316.7,262.7 361.1,225.4 324.9,256.3 347.2,239.4 359.9,226.0 333.2,251.4 357.3,229.9 338.6,245.1 366.3,220.1 362.5,223.5 334.1,250.5 358.9,228.1 322.7,256.4 315.0,261.0 334.7,249.6 354.5,232.8 331.9,250.7 313.8,265.1 317.9,260.0 318.6,259.2 360.4,227.1 330.6,253.8 367.9,220.4 325.7,257.3 327.0,255.6 320.7,261.4 361.2,224.4 365.5,222.6 340.9,243.5 345.2,240.3 325.6,256.3 334.7,247.8 337.4,246.8 328.0,252.5 316.4,260.1 354.1,231.8 359.6,227.7 357.3,230.4 337.0,247.9 346.9,239.8 359.0,227.2 355.0,232.4 353.3,232.4 360.7,224.8 343.4,242.0 312.6,263.6 345.2,241.3 320.5,258.9 368.0,219.8 366.2,222.1 341.9,243.6 322.1,258.9 317.4,261.2 339.0,246.3 314.6,261.1 329.6,255.0 339.0,244.7 351.8,233.7 319.4,258.3 334.6,248.1 343.6,241.3 343.2,243.0 332.1,249.8 356.7,228.5 352.6,234.1 312.6,265.5 328.2,256.1 334.9,249.7 352.0,234.0 322.3,260.5 322.1,259.7 323.1,260.0 336.0,246.8 359.0,227.7 352.3,234.0 328.2,255.7 313.3,263.8 364.9,220.9 361.1,224.8 361.9,224.7 332.0,249.8 313.4,262.7 363.4,224.3 352.8,233.5 328.1,253.0 364.6,222.1 328.1,256.0 351.4,234.9 354.6,232.0 351.2,236.3 342.0,243.6 317.1,262.1 339.7,245.7 335.0,248.1 343.1,242.0 322.4,259.2 348.0,238.3 361.6,225.8 367.3,219.7 335.1,248.6 319.1,262.9 337.7,245.9 338.9,246.2 358.9,228.9 363.9,224.1 367.3,219.3 340.2,245.6 343.5,241.7 359.6,225.9 326.0,254.7 314.0,262.1 361.9,223.8 313.0,264.3 318.3,260.6 353.6,232.9 356.3,230.1 368.3,219.5 360.3,226.9 357.6,227.8 365.6,221.8 319.4,260.9 328.8,255.3 313.3,264.9 339.3,245.4 353.6,232.9 352.2,233.4 366.3,220.6 346.6,239.9 346.5,239.8 339.8,245.2 337.6,247.4 335.7,246.9 346.4,238.7 314.3,263.5 365.1,222.6 337.8,246.6 352.7,232.5 356.3,230.4 365.5,220.7 321.4,259.7 365.9,220.5 334.6,249.7 341.5,243.4 324.0,257.0 343.8,241.2 315.6,263.2 356.2,230.2 362.9,222.9 354.6,232.4 363.7,222.5 337.5,246.5 368.6,219.3 330.6,251.8 332.9,249.9 357.4,229.0 330.6,253.7 334.5,248.7 364.9,221.6 341.4,243.1 344.0,242.3 348.1,238.9 350.6,236.5 341.5,243.4 316.4,262.4 343.8,241.6 351.3,233.9 365.0,221.3 340.3,244.7 363.7,224.2 355.5,230.9 337.4,246.0 352.7,232.4 346.4,238.5 359.2,226.9 351.3,235.2 333.7,250.6 330.5,253.7 363.0,223.9 337.3,246.7 364.1,223.7 334.9,249.7 343.7,241.4 341.9,243.5 355.2,231.2 366.3,222.0 352.2,233.9 351.3,236.2 323.5,258.7 343.7,242.1 325.9,257.9 368.1,218.8 331.4,252.6 332.4,251.1 346.7,239.7 359.2,226.3 317.4,259.9 367.5,219.0 337.4,246.2 353.8,231.3 317.1,261.0 365.8,221.3 353.8,231.9 338.2,246.0 334.8,249.6 320.9,259.4 337.9,247.6 368.1,220.2 353.2,234.4 325.4,255.3 360.1,226.9 355.1,232.4 340.1,244.4 331.0,251.4 342.9,242.8 334.5,248.9 356.8,230.3 324.7,256.4 369.4,218.2 317.3,263.5 360.3,225.6 337.1,248.2 341.7,244.3 326.6,253.8 343.0,241.8 317.3,262.6 334.4,249.1 320.9,260.9 363.9,223.7 360.9,225.9 357.2,230.5 330.3,251.8 351.5,235.9 363.9,224.0 330.0,251.5 317.0,263.9 360.3,226.8 324.3,255.1 348.3,238.4 339.1,245.6 315.1,263.7 334.2,248.7 354.5,232.5 318.9,260.1 358.3,227.9 352.5,233.3 320.0,259.2" fill="none" stroke="none" marker-start="url(#p0)" marker-mid="url(#p0)" marker-end="url(#p0)"/><polyline points="343.1,242.7 364.6,223.5 316.0,260.3 326.5,254.1 312.4,264.0 361.8,226.3 325.1,255.1 325.9,254.1 349.2,237.8 324.1,255.8 366.6,222.0 350.5,236.5 319.9,257.9 362.1,225.7 324.8,255.4 331.9,249.7 345.0,241.2 360.7,227.1 358.6,228.6 357.3,230.1 363.7,224.6 325.3,254.8 317.6,259.4 363.8,224.3 319.4,258.4 348.3,238.9 324.9,254.6 352.6,234.6 350.5,236.6 314.9,261.4 324.8,255.0 349.3,238.2 348.5,238.7 323.7,256.0 349.5,237.7 345.5,240.7 365.9,222.7 324.0,255.3 344.0,242.3 317.3,260.2 332.5,249.4 354.0,233.1 313.7,262.3 360.1,227.5 362.6,225.6 365.7,222.7 321.9,256.8 357.3,229.9 320.9,257.6 313.5,262.7 345.4,241.3 357.5,230.1 355.9,231.5 355.5,231.9 367.9,220.5 353.7,233.5 346.1,240.3 350.1,237.2 365.1,223.4 354.2,233.0 350.1,237.3 352.3,235.0 313.5,262.6 347.3,239.5 321.9,256.7 342.4,243.0 333.6,248.5 328.5,252.3 364.8,223.4 326.2,254.4 360.7,226.8 357.6,229.9 348.9,238.0 333.8,248.2 367.3,221.0 318.1,259.7 352.8,234.9 365.5,222.8 351.3,235.9 342.4,243.3 321.9,256.6 358.2,229.6 318.9,258.8 312.2,264.3 342.6,243.0 325.2,255.0 318.1,259.2 316.8,260.2 329.7,251.5 365.8,222.3 364.2,223.9 366.8,221.7 344.2,241.5 314.9,261.6 350.9,236.0 318.5,259.3 323.2,255.8 363.2,224.5 320.0,258.4 349.6,237.4 357.7,229.7 357.9,229.3 344.1,241.9 325.6,254.3 325.6,254.4 328.3,252.8 319.5,258.2 349.8,237.7 342.2,243.2 351.9,235.8 356.7,230.7 369.3,219.0 356.1,231.5 344.0,241.7 358.1,229.6 331.0,250.4 328.0,252.5 342.3,243.5 364.6,223.7 364.5,224.0 365.0,222.9 328.1,252.9 369.2,219.6 348.3,238.8 330.9,250.9 350.8,236.5 369.7,219.0 353.0,234.3 323.4,255.9 312.3,263.7 327.5,253.3 312.3,263.8 345.3,240.9 321.3,257.1 330.9,250.6 332.8,249.3 319.4,258.5 364.1,224.1 365.4,222.7 331.3,250.3 315.4,260.8 353.9,233.6 358.3,229.0 315.9,260.3 316.4,260.7 313.0,262.6 330.3,251.5 323.6,255.4 326.0,254.2 356.3,231.5 342.1,243.7 363.7,224.0 357.0,230.8 323.9,255.9 368.0,220.1 347.2,239.9 351.2,236.2 347.0,239.9 368.8,219.6 355.2,232.5 367.4,221.2 319.2,258.7 319.7,258.6 316.1,260.4 357.4,230.2 319.0,258.6 324.6,255.4 332.7,249.1 323.8,255.6 329.0,251.9 349.2,237.5 357.2,230.5 344.5,241.7 368.2,220.3 351.6,235.7 331.1,250.8 318.8,259.1 353.0,234.0 361.8,226.1 321.0,257.2 327.3,253.4 318.0,259.1 360.1,227.4 366.2,221.8 362.9,225.1 367.3,221.2 354.9,232.7 323.9,255.8 319.0,258.4 344.1,241.7 328.0,252.7 330.9,251.0 314.7,261.3 343.8,242.1 321.3,257.3 319.0,259.2 318.8,259.0 331.4,250.7 357.1,230.2 350.0,236.9 355.5,231.6 350.9,236.0 349.3,237.9 350.9,236.4 347.6,239.1 348.4,238.3 342.2,243.7 318.2,259.4 357.8,229.9 314.4,261.4 356.7,230.6 357.4,230.3 348.5,238.2 348.2,238.7 327.1,253.7 364.9,223.0 319.1,258.8 368.6,219.8 314.2,261.7 346.2,239.9 334.3,248.5 349.2,238.0 316.7,260.4 369.5,218.8 318.4,259.0 366.5,222.0 365.4,223.2 323.0,256.1 356.5,230.8 369.2,219.2 322.0,256.9 346.3,240.3 324.5,255.1 325.4,254.6 353.7,233.7 317.9,259.3 348.2,238.8 318.6,259.1 348.1,239.2 358.0,229.4 355.1,232.1 361.3,226.8 324.9,254.8 320.2,257.9 312.9,263.0 319.4,258.6 314.1,262.0 319.8,257.9 323.2,256.0 320.2,257.8" fill="none" stroke="none" marker-start="url(#p1)" marker-mid="url(#p1)" marker-end="url(#p1)"/><polyline points="375.7,209.7 374.5,210.5 375.9,209.8 375.2,210.4" fill="none" stroke="none" marker-start="url(#p2)" marker-mid="url(#p2)" marker-end="url(#p2)"/>
<polyline points="320.7,366.6 349.6,336.5 342.3,344.4 318.1,370.3 321.1,367.0 357.3,330.3 325.0,363.6 321.8,366.7 319.1,366.0 327.5,358.6 364.2,322.0 325.0,361.2 353.3,334.2 326.4,362.7 329.9,356.5 346.8,340.5 334.0,353.4 327.1,359.6 364.9,322.1 361.9,324.3 353.0,333.5 326.5,362.1 350.5,336.2 342.9,345.8 328.4,361.0 319.9,366.9 343.5,342.9 352.1,335.2 330.2,357.0 348.3,339.5 323.3,365.8 338.8,347.2 341.4,346.7 324.6,363.9 329.3,358.2 329.4,358.8 321.4,365.6 332.1,356.9 346.6,342.0 328.8,359.4 348.6,338.9 360.5,326.5 319.5,369.5 346.5,339.3 331.0,355.1 342.5,345.2 351.4,334.5 342.5,345.3 357.3,329.2 358.2,327.6 337.4,348.7 363.1,323.2 358.6,327.3 343.0,343.1 349.7,336.2 348.1,337.7 356.5,330.0 340.2,346.4 350.8,336.6 362.2,324.1 362.9,323.7 337.2,349.3 353.6,332.8 338.3,350.4 323.4,364.1 331.8,355.2 357.8,328.1 358.9,327.0 364.9,321.6 342.1,343.9 345.8,342.8 320.5,368.5 359.6,326.7 328.1,358.2 341.1,346.5 335.9,353.4 348.6,338.4 319.0,366.4 351.8,335.7 329.4,357.3 340.5,346.0 330.5,355.8 352.7,333.1 325.2,361.7 362.4,324.5 322.1,366.6 342.1,344.5 348.7,340.0 333.7,354.6 343.1,343.7 340.4,348.7 353.9,333.2 347.2,338.5 356.1,330.4 345.9,342.9 363.1,322.9 319.0,367.2 359.8,327.3 358.5,328.6 326.8,359.0 363.6,323.5 345.6,343.4 354.9,331.7 327.4,358.7 318.6,370.2 344.3,343.8 322.3,363.7 353.5,332.3 332.3,356.1 349.8,337.0 351.4,335.9 348.3,340.2 324.4,362.1 336.0,351.4 328.9,357.6 356.5,331.5 339.2,348.0 326.2,359.5 360.6,326.7 335.7,353.7 345.4,342.9 355.5,331.6 346.0,342.2 347.0,340.2 336.4,352.2 323.2,365.7 341.4,347.0 327.5,358.4 330.5,355.5 319.0,369.7 351.8,334.4 327.5,358.7 344.5,342.5 319.8,368.8 365.1,321.7 326.9,362.3 333.2,355.4 363.9,323.0 327.6,359.3 324.7,362.3 354.6,331.3 336.2,352.5 350.6,337.8 352.0,334.9 320.9,366.3 326.7,362.6 320.7,365.2 349.5,338.1 346.2,342.1 338.7,349.6 361.8,325.7 350.9,335.4 333.5,356.0 358.8,327.3 358.1,329.6 351.0,336.3 348.5,337.4 353.2,334.2 340.2,345.5 323.8,365.4 350.0,337.3 348.5,337.6 339.3,349.1 353.9,334.0 330.9,356.7 325.8,360.8 328.4,358.7 348.0,340.5 330.7,354.8 325.3,362.4 336.0,351.3 327.1,361.7 349.5,337.1 343.7,344.6 331.7,356.0 363.1,323.3 333.2,354.6 326.8,362.4 333.5,353.2 347.9,337.8 323.9,364.4 356.9,330.7 334.8,354.0 329.6,357.4 365.0,321.4 325.0,361.6 350.6,335.4 332.1,354.6 351.6,334.7 349.0,337.1 362.6,324.9 354.2,333.0 336.1,353.4 361.2,325.4 359.7,327.0 356.8,330.0 322.1,366.0 336.2,353.1 322.7,363.0 318.1,368.2 323.2,365.9 341.7,344.0 334.9,351.3 342.6,344.3 324.1,363.6 337.4,350.1 356.4,331.0 344.5,341.8 340.9,347.0 328.0,360.3 327.7,359.5 353.0,334.3 342.1,344.4 338.1,350.3 335.6,352.5 355.5,332.0 339.7,348.9 340.4,345.3 354.9,333.3 326.2,362.0 342.8,344.5 356.0,331.6 348.0,340.0 326.7,362.5 351.0,336.2 352.1,334.1 345.4,342.7 347.6,338.9 363.3,322.9 330.4,357.4 354.4,333.8 330.8,358.5 326.2,360.1 325.8,363.5 330.4,358.5 352.4,334.4 338.3,349.9 330.3,356.3 361.5,324.4 340.9,347.1 338.5,349.5 365.4,320.7 331.3,358.4 355.5,331.8 326.1,362.2 364.4,322.1 319.8,367.2 357.8,330.1 364.6,321.3 338.1,347.7 349.8,336.0 352.3,334.6 354.0,332.8 346.3,341.7 333.3,355.7 344.1,342.0 338.0,349.8 365.1,321.0 330.9,357.6 332.6,354.8 352.1,335.8 358.2,328.0 319.4,367.7 348.5,339.3 349.6,337.7 323.2,361.9 332.5,355.7 342.9,344.5 351.1,336.1 345.0,342.0 355.2,330.9 354.7,332.4 347.1,341.6 328.3,360.3 331.4,356.1 322.1,365.7 325.9,361.3 337.0,349.7 357.7,329.3 359.5,328.4 360.6,325.2 335.0,354.6 360.7,325.5 335.9,352.9 330.7,358.6 351.6,335.9 354.5,332.0 359.7,326.2 326.6,361.7 318.2,367.8 362.1,324.3 356.9,329.8 343.4,345.5 347.1,341.1 320.6,366.1 334.5,352.2 348.4,339.4 330.9,358.8 350.6,335.9 333.3,355.4 324.7,364.3 354.5,332.6 364.8,322.3 357.2,329.2 362.8,324.3 339.9,348.6 359.6,327.1 319.3,366.2 336.1,353.3 337.9,351.3 338.7,348.2 330.8,357.8 357.2,330.5 332.9,356.2 340.1,346.0 351.3,335.7 362.2,323.7 324.2,361.0 359.7,327.6 353.9,333.5 341.4,345.1 334.3,352.9 336.8,352.5 357.4,328.4 335.0,353.2 329.0,359.8 365.2,321.1 361.1,326.3 356.3,331.2 343.5,345.2 363.4,323.1 365.0,322.0 326.4,361.5 335.1,353.5 342.4,345.4 321.9,367.1 348.1,339.3 344.7,344.4 336.3,352.5 330.9,356.1 343.4,342.5 325.7,360.2 341.4,347.7 331.1,356.5 363.0,323.0 335.4,352.3 355.5,332.0 355.9,332.1 324.7,361.8 321.9,365.6 326.8,362.4 326.1,361.0 358.6,328.6 340.7,347.7 319.2,368.6 320.5,367.2 338.9,347.4 347.4,339.5 326.8,360.4 341.2,346.9 342.2,346.9 330.1,356.9 336.2,352.6 333.4,356.0 348.5,340.0 343.1,344.3 341.9,344.5 319.2,369.7 323.5,363.5 335.4,350.2 362.5,324.3 341.5,344.7 343.9,342.2 353.0,334.1 348.1,339.5 348.0,339.2 354.4,332.7 337.1,350.4 329.9,358.9 345.5,340.8 320.6,366.9 355.8,332.0 358.3,329.2 341.2,348.1 358.7,327.3 323.3,364.8 357.9,329.1 323.2,362.7 319.9,369.1 361.4,325.6 342.4,345.3 324.1,364.0 318.9,369.9 362.1,323.8 319.8,368.4 349.4,338.2 355.1,331.3 353.3,333.2 328.4,360.7 338.6,350.5" fill="none" stroke="none" marker-start="url(#o1)" marker-mid="url(#o1)" marker-end="url(#o1)"/><polyline points="322.9,365.1 322.9,366.1 348.6,339.4 351.0,337.2 327.5,361.7 332.3,356.2 338.9,350.0 343.2,344.9 321.9,366.6 324.7,363.4 332.2,357.3 333.8,355.3 349.3,339.3 341.4,346.7 332.1,357.0 334.0,354.7 343.0,345.4 331.3,358.2 356.5,331.1 335.6,353.7 323.1,365.1 340.3,348.8 349.1,338.7 339.6,348.7 344.5,344.4 336.7,352.0 352.4,336.1 351.5,336.3 357.5,330.3 355.9,332.1 353.1,334.9 350.5,337.7 341.9,346.9 339.8,348.5 351.7,336.4 329.5,360.0 341.0,347.9 322.5,365.8 322.6,365.6 332.7,356.3 325.9,363.1 322.6,365.3 323.2,364.7 319.4,369.0 340.4,348.9 328.9,359.7 324.1,363.9 335.6,353.6 350.4,337.4 337.3,351.7 336.1,352.2 348.0,340.7 346.7,341.2 341.9,347.3 339.8,348.5 352.6,335.4 356.4,331.4 321.1,367.7 328.7,359.5 321.3,367.9 340.3,348.3 326.0,363.3 342.0,347.2 375.0,311.9 321.2,367.2 319.0,369.6 354.6,333.7 347.5,340.6 374.1,312.4 323.4,364.5 338.5,349.9 351.6,336.5 329.8,358.9 351.0,337.6 336.5,352.4 346.0,342.1 327.0,361.4 326.9,361.2 327.3,361.1 351.6,336.3 350.1,338.0 328.6,360.0 352.0,336.1 352.9,334.9 373.0,312.5 356.6,331.5 345.3,343.4 321.6,366.7 353.7,334.2 352.4,335.2 323.6,365.5 345.9,342.1 337.3,351.5 334.9,354.7 356.7,331.0 355.4,332.8 331.4,357.1 351.8,335.9 329.5,358.9 345.2,343.0 356.5,330.9 342.0,347.2 338.8,349.7 356.2,331.9 338.7,350.7 326.2,361.7 343.9,344.5 354.4,333.9 353.9,333.7 328.1,360.6 356.7,330.8 327.3,361.4 340.6,347.9 328.6,361.1 350.7,337.4 326.9,362.5 357.6,330.6 349.1,339.0 322.9,366.4 325.5,363.4 374.4,312.0 322.7,365.8 341.4,346.8 333.5,355.0" fill="none" stroke="none" marker-start="url(#o2)" marker-mid="url(#o2)" marker-end="url(#o2)"/><polyline points="314.0,365.9 363.2,319.1 325.3,355.1 349.8,332.1 313.8,362.1 313.0,363.6 325.3,354.2 368.8,315.2 341.6,341.9 315.7,362.8 349.4,335.4 323.9,357.6 344.4,336.0 313.1,365.6 369.0,315.8 312.5,365.6 361.5,321.6 357.0,324.8 342.8,341.4 315.9,360.3 330.1,351.2 367.1,317.2 355.4,327.3 331.1,348.1 359.7,323.2 363.8,318.9 316.8,360.5 355.8,327.3 365.2,318.7 336.4,348.2 354.5,326.4 333.4,346.6 365.8,317.0 354.3,329.9 334.5,347.8 366.3,316.7 348.7,334.4 332.6,346.8 347.9,337.1 312.2,364.1 366.1,318.4 321.5,358.2 314.6,360.5 352.2,329.2 363.1,319.2 344.8,339.2 362.3,321.2 314.3,366.1 319.9,361.6 345.3,337.3 365.5,319.0 368.5,315.8 324.5,355.5 349.3,334.4 356.8,325.3 325.4,359.1 317.7,362.4 360.0,322.2 345.0,337.4 334.8,347.1 315.3,362.0 345.1,338.4 361.6,320.6 368.8,316.2 343.1,340.4 319.7,360.0 352.7,328.1 354.2,327.3 349.3,334.7 349.9,331.4 328.2,352.6 314.2,365.1 324.5,354.7 340.6,343.7 315.4,360.9 314.9,362.1 343.7,336.2 333.2,350.8 335.3,346.6 334.9,348.6 357.4,326.1 361.2,321.6 340.5,341.4 316.4,361.6 318.1,361.7 315.7,363.8 334.2,349.1 367.7,316.1 324.8,355.2 323.5,354.6 347.7,336.6 342.0,337.9 324.1,354.5 353.2,327.9 366.5,317.0 346.5,335.4 359.5,326.2 318.4,359.4 330.6,348.7 313.8,362.9 319.4,357.5 318.5,360.4 338.8,343.5 332.9,347.5 329.8,353.3 320.0,358.1 324.8,354.2 316.7,365.1 361.9,322.5 320.3,359.2 345.3,336.6 345.1,337.8 362.6,322.6 363.6,319.2 347.1,336.6 313.8,362.6 315.2,366.2 361.8,321.1 311.7,365.6 341.9,340.7 331.6,353.0 319.6,357.7 353.6,327.1 333.2,347.9 325.5,353.8 314.7,366.4 335.3,345.1 334.9,345.7 361.0,322.0 333.0,348.5 314.7,362.5 315.6,362.8 365.9,317.2 347.4,335.7 327.4,353.2 363.9,321.7 357.7,326.5 349.9,331.9 328.7,352.3 317.9,359.8 350.0,330.8 314.1,361.4 313.3,367.9 337.4,343.0 316.8,359.3 341.5,340.9 367.8,315.9 314.6,364.6 324.8,358.9 315.9,363.5 362.1,323.7 312.9,368.0 327.0,353.4 353.2,328.4 320.1,358.7 337.7,342.6 320.7,356.6 348.9,332.2 342.6,339.2 355.7,326.4 325.1,355.7 353.1,328.1 337.5,342.4 315.4,364.6 335.9,344.7 332.6,346.7 357.1,324.8 328.4,355.1 350.7,330.9 350.7,333.2 345.7,334.9 347.8,333.7 368.6,315.2 324.5,354.7 329.3,352.5 342.6,340.7 313.5,363.5 319.7,361.4 334.6,346.9 353.1,331.0 315.2,365.0 360.3,322.0 326.0,358.5 368.8,314.8 347.7,333.2 330.2,353.1 316.1,365.9 361.8,321.0 312.9,364.3 327.2,352.9 355.5,326.1 346.3,333.8 353.1,331.6 359.6,323.1 323.6,355.6 314.8,366.0 359.1,323.7 356.3,324.8 364.6,320.4 357.6,326.2 330.0,353.0 323.9,356.0 362.1,321.1 316.1,359.9 351.1,331.3 352.2,330.2 338.9,341.1 314.2,362.5 362.3,320.9 363.6,319.4 320.1,361.5 345.5,336.2 350.6,333.5 327.3,357.4 350.6,330.3 327.3,353.4 329.6,351.8 341.1,341.0 325.3,358.4 324.2,354.5 347.2,333.1 328.2,351.3 340.3,342.7 335.6,344.5 365.9,318.4 323.7,359.6 347.2,335.1 357.2,325.7 346.5,334.0 326.1,353.4 320.9,362.1 369.1,315.7 318.4,364.1 337.1,346.9 355.6,328.2 337.0,347.7 361.6,321.5 314.1,366.4 366.6,317.1 343.2,338.5 313.4,367.7 365.0,318.6 314.8,361.2 319.3,358.9 334.4,347.3 353.7,330.4 364.7,318.2 357.6,324.1 362.3,322.0 318.8,360.4 336.1,347.8 318.7,361.6 314.9,362.2 326.2,356.0 339.6,344.4 350.6,329.8 322.0,357.2 323.8,355.3 352.1,328.2 328.6,350.7 328.5,351.4 365.2,318.4 312.4,364.2 321.7,360.2 355.6,329.8 340.2,344.1 335.0,345.8 361.4,321.6 351.7,330.4 324.9,355.9 327.4,352.0 325.5,354.7 367.2,317.6 343.2,337.1 334.9,349.3 312.9,366.6 356.4,327.6 328.1,355.2 368.2,315.5 332.0,349.9 361.2,323.0 333.2,349.5 359.9,321.8 362.6,321.4 363.1,319.7 319.1,358.7 367.0,318.3 322.4,357.0 356.3,329.0 327.2,351.8 361.1,322.4 359.7,324.5 322.6,358.6 315.8,360.3 314.4,361.1 336.8,346.4 368.0,317.1 329.3,354.9 358.6,323.5 333.9,346.9 340.0,345.3 368.4,315.8 315.5,363.8 356.4,328.1 360.5,323.4 339.8,340.4 322.1,356.4 366.1,317.2 326.1,357.2 355.3,330.0 317.4,362.2 357.8,323.8 344.2,339.2 347.5,334.8 331.4,349.3 346.1,334.9 326.6,354.0 314.2,363.3 350.7,330.3 317.7,363.4 368.8,314.5 339.5,340.4 316.5,360.4 314.5,361.7 323.1,357.4 314.3,365.9 316.4,363.3 340.4,341.8 343.5,340.5 314.5,361.9 338.4,343.5 350.4,333.4 364.6,320.6 357.5,324.9 342.9,337.9 339.1,342.6 329.7,351.4 341.8,340.1 339.8,341.4 335.1,346.5 318.8,360.4 315.5,365.1 331.9,350.4 343.7,339.0 318.4,358.3 358.5,326.4 320.1,357.6 315.0,361.1 340.7,340.6 314.3,361.2 312.8,364.0 326.3,355.8 316.1,364.5 314.2,361.0 315.9,361.4 334.9,349.2 315.0,366.7 339.0,342.4 317.5,358.9 344.2,335.8 331.0,352.4 368.9,314.9 351.8,328.7 323.2,361.1 322.6,358.1 352.4,328.6 333.8,346.7 318.0,361.3 336.3,348.2 337.5,342.5 346.5,335.1 317.0,364.8 352.5,328.5 353.5,328.9 316.0,359.8 353.9,327.2 356.5,328.7 361.2,321.0 368.6,315.4 312.5,365.1 316.3,363.1 345.5,339.9 361.4,323.3 328.1,351.0 349.7,335.9 315.8,360.7 322.0,356.2 368.3,316.2 312.2,365.6 351.1,331.5 357.2,328.0 322.3,358.2 351.2,329.9 366.8,317.5 328.3,352.4 350.0,333.2 311.5,366.2 324.7,358.5 354.0,329.4 360.1,322.8 330.1,353.2 343.7,337.5 313.1,363.5 346.4,333.6 336.6,346.5 334.0,347.9 322.2,355.6 345.8,334.2 360.6,324.1 344.9,335.4 364.1,320.6 312.0,364.2 359.2,323.4 314.6,364.3 313.6,361.7 332.7,347.0 350.5,331.8 328.1,353.8 362.0,320.0 319.7,358.6 366.2,318.9 314.2,363.4 348.1,332.6 314.5,363.1 323.0,358.6 354.1,329.9 346.4,337.7 366.9,316.5 332.7,351.1 318.0,364.4 369.3,315.1 313.1,366.9 315.2,363.6 313.3,363.3 339.0,341.4 326.7,352.7 343.7,337.2 319.5,357.6 367.2,315.8 362.5,321.1 366.2,317.0 332.0,348.3 327.6,352.5 344.5,336.8 332.0,348.3 360.9,322.7 312.4,366.7 362.7,320.4 364.2,318.4 313.7,367.1 365.0,318.2 356.7,325.9 325.0,353.6 330.1,349.3 353.8,330.0 317.7,360.6 361.7,321.9 322.5,356.8 326.9,353.2 345.9,334.4 339.1,341.9 314.4,364.4 366.7,317.8 343.2,337.4 340.3,342.6 357.4,326.4 328.7,353.8 330.1,351.2 311.6,363.8 326.8,353.2 359.9,323.9 323.0,359.2 347.0,336.7 358.5,325.2 318.8,358.7 332.7,347.0 341.6,343.8 343.5,340.2 337.9,345.4 320.0,357.2 352.0,329.2 363.5,319.3 367.0,317.4 313.9,366.0 366.6,317.9 354.3,330.2 362.1,321.2 314.8,366.9 336.6,346.4 314.1,364.6 329.5,350.1 320.6,358.9 359.7,324.6 355.0,326.7 324.6,358.7 334.1,349.5 353.4,328.4 367.0,318.5 323.4,355.4 366.0,318.5 349.3,332.1 322.9,358.3 337.0,344.2 334.1,347.6 326.3,352.8 345.4,335.5 316.5,365.2 314.9,362.3 361.1,321.6 316.0,366.4 335.3,346.8 365.2,318.6 348.9,331.9 331.9,347.4 312.2,366.5 312.3,368.4 354.7,326.9 337.5,343.1 365.1,317.5 316.6,361.9 312.4,365.0 318.7,359.3 321.6,357.6 334.2,348.3 358.9,324.2 315.7,363.0 332.8,347.7 350.8,330.0 313.7,363.0 368.0,315.8 313.0,363.9 369.2,314.3 351.2,330.9 313.8,364.8 362.4,320.3 345.8,337.5 317.5,360.2 316.0,359.7 315.7,360.9 322.4,356.6 361.4,321.3 367.3,316.4 334.3,346.0 315.7,365.5 352.9,327.9 330.5,351.3 328.9,352.0 315.2,365.4 334.6,346.1 321.6,356.1 324.5,355.5 344.7,337.6 336.2,343.9 356.0,325.0 367.7,316.5 320.8,360.5 342.3,339.2 363.8,320.2 316.0,360.6 315.7,360.1 338.2,346.7 320.6,358.5 317.8,359.5 357.1,324.6 367.1,317.0 311.4,364.1 312.6,368.4 321.4,357.4 336.1,345.9 356.1,327.2" fill="none" stroke="none" marker-start="url(#p0)" marker-mid="url(#p0)" marker-end="url(#p0)"/><polyline points="341.1,339.5 342.2,338.0 328.7,350.5 326.9,351.7 328.0,350.8 339.3,340.9 335.0,345.9 315.2,360.5 323.7,356.2 334.1,346.8 329.1,350.3 312.8,362.8 357.0,324.7 368.3,315.8 356.9,325.6 334.3,345.1 337.7,342.1 340.0,339.8 338.8,341.5 352.2,328.2 327.4,351.4 323.8,356.2 331.2,348.2 330.7,348.8 337.7,344.3 335.4,344.4 342.6,338.1 322.5,355.4 317.7,359.3 362.8,320.4 360.1,323.1 340.6,340.7 324.7,353.8 359.1,322.9 330.9,348.6 326.6,352.7 340.1,339.6 361.8,320.2 337.4,342.6 331.0,348.9 366.4,316.5 341.8,338.5 313.4,363.3 364.8,319.1 339.9,340.2 365.5,319.4 347.7,332.6 363.5,320.6 327.9,352.0 335.3,346.2 336.9,345.5 364.1,318.8 365.7,317.3 328.1,350.8 337.3,342.4 337.4,343.7 360.6,321.7 349.4,331.9 344.6,335.5 336.3,343.7 321.8,356.2 364.2,319.3 331.9,347.4 340.5,341.7 317.0,359.4 333.5,345.9 317.3,359.0 342.0,338.6 340.6,339.5 312.8,363.3 317.6,359.5 312.6,363.4 365.7,318.1 363.0,319.4 324.7,353.7 357.4,326.2 337.3,343.5 361.1,321.5 314.6,363.2 368.3,314.8 365.9,316.9 322.4,355.6 360.5,321.6 343.2,336.7 338.9,341.0 313.2,362.1 340.6,339.5 336.1,343.6 352.9,327.9 353.2,327.8 330.1,351.4 311.9,364.3 361.2,320.9 326.8,352.1 357.8,324.7 330.1,349.9 345.2,335.1 346.1,334.1 327.2,351.8 326.6,352.5 354.2,326.6 321.1,356.4 328.9,350.3 366.8,317.9 352.7,328.1 357.6,324.3 351.8,328.8 362.8,319.4 340.0,339.8 339.2,341.3 331.1,348.2 349.0,331.3 329.1,351.3 335.1,346.0 349.1,331.1 321.4,357.5 329.3,349.7 361.7,320.9 327.8,351.1 332.0,349.0 332.2,347.4 347.4,333.1 347.1,333.4 357.5,323.9 334.6,345.3 326.1,354.4 325.9,353.0 321.1,356.8 357.3,324.0 368.0,316.5 323.1,355.5 362.6,319.8 359.4,322.4 357.0,324.5 337.2,344.6 345.6,334.8 314.2,361.0 333.3,346.0 348.3,333.1 351.8,329.7 353.4,328.5 331.6,348.5 360.5,321.5 361.8,320.4 339.1,342.2 345.4,335.2 364.7,318.4 349.5,332.9 365.3,317.8 326.3,352.6 358.2,323.4 357.6,324.0 319.9,357.4 329.3,350.0 314.9,361.8 340.6,340.0 343.1,337.3 339.8,341.4 314.8,362.0 360.2,321.6 350.1,330.1 346.0,334.6 329.5,349.8 352.8,327.7 358.6,323.2 360.2,324.6 323.4,355.1 320.6,356.8 365.6,317.1 323.0,355.8 320.4,357.0 337.0,344.8 353.6,328.2 337.9,341.8 317.6,360.7 334.4,347.4 332.3,347.1 313.9,362.4 340.1,340.9 316.0,359.8 360.8,321.4 325.7,354.3 350.8,329.4 327.5,351.7 312.9,364.9 360.0,321.8 332.6,347.9 353.6,328.9 321.5,357.8 350.1,331.0 369.0,314.4 356.6,324.6 364.1,320.9 328.1,350.8 336.5,343.5 317.4,359.1 329.1,350.1 338.0,342.5 361.5,320.6 354.9,326.7 330.4,349.5 350.8,330.8 322.6,355.9 342.7,337.7 366.1,318.1 319.8,357.3 332.1,347.5 350.3,329.9 357.4,325.0 324.7,353.7 343.0,337.5 336.5,343.9 367.4,316.1 318.7,358.0 324.0,355.0 367.9,317.3 347.7,332.8 368.2,316.1 328.1,352.9 355.7,325.8 348.8,331.9 360.0,322.1 353.9,327.6 344.6,335.4 335.9,343.8 364.4,318.4 317.8,358.5 352.6,329.2 361.7,320.4 347.1,332.9 340.4,339.4 325.1,353.6 358.2,324.4 341.2,339.7 320.3,357.5 340.8,339.6 353.3,328.0 311.8,366.6 317.6,359.0 361.3,321.2 353.4,327.3 357.1,324.2 319.4,358.3 361.8,320.2 360.8,321.2 336.2,343.4 330.0,349.4 346.4,335.5 321.2,356.5 366.8,316.8 316.5,359.3 334.5,345.1 355.3,326.1 347.3,333.0 328.1,352.0 318.8,357.9 328.0,352.1 323.1,355.5 330.7,348.9 359.4,322.5 368.9,314.8 318.6,358.0 315.0,361.4 333.0,346.8 318.6,358.0 345.7,334.4 315.7,360.1 337.5,342.3 359.8,322.8 314.4,362.7 339.1,341.0 335.9,343.8 354.9,327.7 337.4,342.2 349.7,330.7 326.3,352.7 329.6,349.4 353.4,327.3 328.5,350.7 362.5,319.6 340.9,339.2 335.7,343.9 324.5,354.4 314.1,361.0 345.6,334.7 352.1,328.4 361.5,320.7 353.9,326.8 315.5,360.0 323.6,355.3 331.6,348.1 327.3,351.8 347.4,334.0 329.7,350.7 347.5,333.5 366.8,316.9 330.6,349.2 342.4,337.5 332.6,347.5 342.8,337.5 358.3,323.4 353.6,328.3 343.8,336.5 314.7,360.4 316.4,359.8 338.5,341.5 335.7,345.5 312.5,363.3 317.6,358.9 366.8,316.3 332.6,347.1 319.7,357.5 368.3,315.0" fill="none" stroke="none" marker-start="url(#p1)" marker-mid="url(#p1)" marker-end="url(#p1)"/><polyline points="373.7,309.8 373.9,309.4 375.0,308.6 374.5,309.6 375.7,308.5" fill="none" stroke="none" marker-start="url(#p2)" marker-mid="url(#p2)" marker-end="url(#p2)"/>
<polyline points="426.5,361.1 459.0,328.6 452.3,336.8 445.3,345.9 430.3,359.4 452.7,335.2 446.6,343.4 438.7,350.7 454.8,332.8 442.4,345.9 432.4,356.5 431.8,356.6 442.7,346.1 453.5,336.5 446.2,343.0 439.3,347.2 460.5,328.2 454.8,333.8 427.8,359.0 431.9,355.7 444.3,343.5 451.4,337.7 464.3,323.0 438.8,352.3 428.2,359.8 427.1,359.3 424.9,362.6 421.7,366.6 433.8,354.0 466.1,322.6 430.5,359.3 463.6,324.9 421.8,367.0 459.0,330.1 425.3,364.8 434.0,353.2 426.6,362.8 431.2,356.3 451.1,337.7 450.4,340.4 423.8,363.5 434.1,356.3 465.4,323.1 452.8,335.4 465.9,322.7 448.9,339.9 450.4,336.4 456.7,331.6 468.7,319.0 428.8,359.1 421.2,368.1 430.5,356.8 441.7,346.5 429.3,358.9 449.2,338.2 475.5,311.5 444.7,345.4 433.1,357.6 441.4,348.6 424.0,364.1 464.8,322.7 459.5,329.7 429.0,357.3 432.4,355.2 436.6,351.0 469.2,318.7 454.3,336.4 423.8,366.0 447.9,343.0 463.5,324.5 450.5,337.5 422.6,366.8 431.0,358.7 462.3,326.7 458.8,329.6 446.0,342.8 427.5,361.2 454.6,332.6 438.5,351.5 454.6,336.2 425.5,364.4 458.7,328.4 465.0,324.2 458.6,329.8 429.2,359.2 461.2,327.8 446.8,341.0 459.5,330.4 433.5,357.0 458.3,330.5 458.1,330.7 468.0,319.6 433.6,356.2 426.7,361.3 429.2,358.4 438.4,349.6 467.5,319.6 421.1,368.7 458.9,329.3 429.3,359.9 457.8,330.3 427.9,361.9 440.4,346.3 432.7,354.6 445.3,342.4 453.5,335.2 432.4,355.3 467.0,320.3 435.8,354.2 434.5,352.6 461.1,326.1 460.0,327.0 439.6,348.5 464.3,324.1 423.6,364.0 426.9,363.0 466.6,321.9 441.1,349.4 443.8,343.5 452.3,337.3 444.2,346.6 449.9,340.7 456.2,331.9 460.7,328.6 459.8,329.3 466.4,322.1 430.7,356.1 429.7,358.4 420.2,367.9 440.5,346.2 440.2,346.4 439.8,350.3 454.0,336.5 459.0,328.6 451.1,337.4 462.9,325.6 423.3,365.2 452.8,336.3 476.6,310.9 449.2,338.3 459.0,330.6 428.7,358.5 468.7,318.6 425.8,361.3 433.5,354.6 452.4,337.5 449.3,338.8 446.9,340.9 425.8,360.5 457.5,330.9 458.2,330.9 425.4,360.8 451.9,337.6 452.4,337.4 463.3,324.8 422.8,366.2 434.2,354.5 427.9,358.9 425.9,361.7 462.7,326.7 457.6,330.6 441.3,346.1 442.2,344.5 423.4,363.1 438.0,351.8 463.8,325.3 434.5,355.7 443.0,345.0 449.1,339.0 454.3,335.4 451.6,339.2 463.7,324.8 437.4,352.7 434.6,352.7 425.1,361.9 430.2,358.6 467.2,320.1 456.1,333.2 433.0,356.9 463.6,324.1 437.8,349.7 452.1,336.1 452.2,338.5 461.6,326.2 453.2,335.7 440.8,349.1 447.9,341.9 436.9,352.0 454.6,335.5 448.4,339.2 425.2,363.7 422.1,366.4 431.6,357.6 434.4,356.1 434.9,353.9 440.0,350.0 421.6,365.9 436.2,353.5 454.6,334.1 422.3,365.1 462.0,326.8 435.0,353.4 424.8,362.2 437.7,353.4 465.6,323.5 436.1,350.6 446.4,340.5 452.1,335.2 444.7,342.5 454.3,335.7 454.1,332.9 429.2,359.3 426.5,360.6 434.0,355.5 430.4,358.1 438.8,349.3 455.3,332.4 461.3,326.1 444.5,345.3 458.8,328.2 437.6,349.9 455.8,334.7 440.3,347.0 466.1,321.2 444.8,343.0 436.9,350.1 438.5,350.3 456.4,330.6 449.0,338.1 444.0,343.0 435.2,353.2 462.8,326.0 456.2,333.0 455.2,334.4 457.8,330.6 460.5,327.2 439.0,348.1 457.0,332.5 421.0,368.8 460.5,329.5 442.1,347.0 428.5,357.9 430.8,359.2 459.3,328.2 440.4,346.4 426.8,360.8 461.8,325.7 420.6,366.1 443.4,344.7 452.9,337.9 434.8,352.0 443.0,346.6 466.8,322.1 456.1,332.8 445.8,343.2 439.5,349.8 456.5,331.7 457.3,332.3 477.2,310.8 466.5,320.8 433.8,352.8 440.0,348.6 454.9,334.1 458.6,329.8 420.5,366.0 461.7,326.6 436.2,351.6 421.7,367.6 463.0,325.7 444.5,344.7 426.9,360.1 448.5,340.6 453.1,335.0 431.3,359.0 439.7,348.6 431.0,358.2 458.1,331.5 458.3,330.6 426.4,363.4 447.7,340.1 463.2,324.5 449.1,338.1 427.6,361.2 458.8,329.5 442.7,347.2 420.4,368.3 456.9,332.5 429.9,356.9 436.4,351.2 466.8,321.7 435.6,352.8 420.7,368.7 431.3,358.6 476.4,311.1 444.7,343.7 446.5,343.4 443.3,347.9 460.6,327.3 438.4,350.7 466.8,322.1 425.1,364.5 427.3,360.5 448.4,341.3 428.3,361.8 457.2,331.6 431.3,356.0 449.4,339.5 425.3,363.0 442.3,345.9 423.8,365.3 451.3,336.1 459.2,328.9 453.3,336.3 467.1,321.4 434.4,352.1 429.3,357.4 435.6,352.6 429.2,360.2 450.9,336.0 453.9,334.0 432.9,353.9 453.3,337.6 424.5,363.2 432.5,354.6 438.8,349.0 430.3,356.5 467.8,320.0 423.1,366.9 420.5,369.0 445.7,341.2 466.7,320.9 448.7,341.7 456.7,333.6 453.3,337.0 433.8,354.0 428.4,358.6 454.7,332.4 436.9,353.4 450.7,337.1 437.5,352.0 459.6,330.4 435.3,351.5 441.2,350.0 431.7,354.9 455.8,334.5 464.2,322.9 432.7,353.9 453.6,335.9 451.6,335.1 428.3,361.6 423.9,363.8 459.1,328.8 452.6,334.4 430.6,357.9 459.1,327.9 455.5,335.1 426.6,363.5 460.6,327.4 434.0,354.4 444.8,345.1 434.4,355.3 440.9,349.8 450.3,338.6 468.0,320.7 457.4,332.6 445.3,342.2 425.4,364.6 447.2,344.1 459.9,327.4 461.4,326.1 452.9,336.9 437.1,352.5 435.4,354.5 462.0,327.4 462.5,325.3 446.8,341.3 435.1,352.0 450.4,338.0 460.4,327.8 462.3,325.2 458.6,331.5 434.5,353.6 462.9,324.2 465.8,321.5 449.6,339.7 456.2,331.4 442.7,345.7 428.8,359.3 431.1,357.9 465.7,321.9 440.2,346.8 454.4,336.5 445.9,344.1 448.2,340.9 444.8,345.5 436.2,353.4 456.4,331.3 432.6,356.5 450.6,338.4 428.1,362.2 426.4,361.3 426.9,363.4 457.4,332.8 459.7,327.9 463.5,324.4 422.1,365.2 449.8,338.5 435.4,354.5 452.5,338.0 444.7,344.6 435.4,352.7 465.6,323.0 446.0,341.8 429.7,359.9 461.0,326.3 448.1,341.5 447.9,340.2 463.0,325.8 448.0,339.3 468.7,319.9 426.8,361.8 431.8,356.0 456.0,332.4 438.0,352.4 459.3,330.9 460.5,327.3 436.2,352.7 438.7,352.2 449.1,340.7 421.5,367.6 443.6,344.9 426.4,360.2 461.1,327.6 440.8,345.7 435.7,353.7 426.6,361.8 427.1,359.2 449.6,337.7 435.3,352.4 446.9,342.6 459.5,329.5 443.7,344.9 436.6,352.8 434.7,355.6" fill="none" stroke="none" marker-start="url(#o1)" marker-mid="url(#o1)" marker-end="url(#o1)"/><polyline points="431.1,358.7 457.4,332.2 453.8,335.6 440.2,349.7 448.6,342.1 438.5,352.1 456.6,333.7 430.0,359.6 453.5,336.3 437.2,352.6 451.1,339.1 436.4,354.4 448.1,342.9 455.4,334.3 430.5,359.8 454.2,335.7 437.9,352.9 456.7,333.2 437.7,351.9 441.2,349.3 456.4,333.9 451.4,338.4 446.2,344.9 431.2,358.3 431.4,359.3 432.7,356.7 442.2,348.9 438.5,352.4 452.2,338.5 448.1,342.2 429.5,360.2 448.3,341.8 446.6,344.6 459.8,330.0 456.2,333.9 447.9,342.6 455.9,333.9 433.1,357.1 454.1,336.8 461.5,328.2 429.5,361.2 438.4,352.6 445.7,344.7 444.1,345.9 462.5,326.3 457.5,332.7 436.2,353.3 445.9,343.8 441.6,348.8 451.9,338.8 454.5,334.9 436.2,353.8 435.6,354.5 448.6,342.3 440.7,350.0 442.8,346.8 432.9,356.7 438.1,352.8 438.3,352.0 455.4,334.8 462.9,326.3 456.5,332.9 431.5,357.8 452.0,337.6 448.0,343.0 437.1,353.4 438.8,351.5 428.4,361.9 436.7,352.9 428.0,362.5 440.7,350.1 435.8,355.3 430.8,360.0 462.1,326.6 446.1,345.0 430.3,359.5 445.3,344.3 436.9,354.0 448.9,342.2 432.7,356.7 441.0,348.8 431.1,359.0 428.4,361.3 430.7,359.2 444.1,346.7 428.9,361.4 454.1,336.6 447.8,342.6 440.4,349.4 443.2,347.9 451.5,338.2 447.4,342.6 459.6,329.6 447.7,343.2 458.6,331.1 457.6,332.5 428.9,361.2 461.5,327.4 436.9,353.9 440.5,349.4 455.6,335.1 439.7,350.7 440.3,349.6 453.1,336.5 450.8,339.4 456.1,333.5 459.9,329.0 433.6,357.1 448.4,341.7 444.1,347.2 439.4,350.8 457.7,331.5 433.3,357.1 460.2,328.9 441.2,349.5 449.9,341.1 452.2,338.2 431.4,358.8 444.2,346.9 431.1,359.3" fill="none" stroke="none" marker-start="url(#o2)" marker-mid="url(#o2)" marker-end="url(#o2)"/><polyline points="463.2,318.4 458.3,326.0 430.8,351.9 459.2,323.2 427.4,356.8 441.5,340.1 466.8,317.4 463.9,317.9 442.6,344.5 424.9,358.4 459.1,322.3 459.0,324.0 435.2,346.9 440.5,343.8 462.6,319.1 434.0,350.1 427.4,357.3 451.5,333.2 461.6,321.4 424.2,360.5 453.1,329.2 460.8,324.1 453.5,330.6 427.8,356.4 428.7,354.8 451.7,330.5 465.9,316.4 431.2,352.2 448.1,332.7 438.0,344.7 428.6,356.7 438.1,347.5 446.3,336.5 431.8,353.1 431.2,351.5 442.0,342.2 454.7,329.2 437.6,344.1 424.2,362.5 460.5,321.5 424.6,360.0 423.3,360.8 458.0,323.9 440.0,344.7 422.3,362.8 433.7,349.9 446.6,336.0 432.6,350.1 444.1,337.1 435.0,351.7 437.5,345.4 432.3,351.8 454.2,326.3 427.4,358.3 429.3,353.7 462.4,320.1 442.1,344.0 442.4,341.7 434.2,351.6 454.8,331.1 420.5,363.8 427.4,356.2 461.0,321.4 421.2,363.5 450.0,333.1 438.7,344.2 440.0,341.8 423.9,359.7 467.4,316.3 460.1,320.9 435.7,349.4 453.2,333.3 450.8,336.6 462.1,320.2 421.6,362.6 431.5,352.0 423.6,362.2 447.2,334.2 434.9,347.3 445.5,335.9 458.8,322.3 445.9,339.5 445.5,336.5 447.2,335.9 434.3,348.5 425.4,357.5 436.5,345.5 449.2,332.5 433.8,349.7 463.5,318.3 431.4,353.9 434.5,347.7 428.1,354.7 457.0,325.5 428.6,354.1 450.3,333.4 435.6,347.5 447.8,338.5 429.5,353.1 433.1,351.4 435.6,350.2 431.4,354.4 449.1,334.5 433.5,350.0 455.1,329.1 455.5,326.3 422.0,362.2 466.4,319.0 428.4,355.7 457.8,324.6 459.2,324.3 425.2,358.2 446.7,338.2 428.8,353.4 424.8,358.3 435.1,347.4 437.6,345.2 439.5,343.8 431.4,353.2 436.9,347.1 460.4,323.0 449.7,333.0 447.3,333.4 445.7,338.4 460.7,323.0 431.9,352.7 445.3,338.0 462.0,320.3 466.2,315.6 422.2,364.2 431.5,350.9 437.5,346.3 455.3,326.9 424.5,362.2 455.1,331.7 428.8,353.6 441.2,340.0 422.6,361.6 430.0,356.0 461.8,321.2 421.5,363.3 442.4,340.3 423.1,361.7 458.8,325.9 420.8,364.2 445.9,335.3 447.1,337.8 427.2,358.8 451.0,332.4 432.3,349.7 427.8,355.0 462.7,319.1 432.9,349.6 429.6,354.1 430.5,356.5 434.4,351.0 427.5,359.2 448.8,332.0 444.4,336.5 433.1,351.7 461.2,323.4 439.9,344.4 450.6,331.9 438.0,344.5 430.2,354.1 429.0,354.3 426.0,356.7 445.1,339.9 441.0,340.6 450.8,330.4 457.8,326.4 448.4,335.5 420.8,364.6 465.3,317.8 437.6,343.7 433.0,351.9 463.8,320.1 435.4,346.0 452.7,328.3 424.6,360.8 460.2,321.9 425.5,358.5 422.2,362.2 436.9,345.6 461.4,322.6 453.9,332.4 430.5,355.2 432.5,349.7 442.3,340.2 420.2,364.8 462.8,318.7 453.7,329.0 444.1,339.8 425.7,360.0 467.4,315.6 448.4,332.7 428.2,355.8 443.1,341.0 443.6,339.1 449.9,331.1 451.1,334.4 442.6,339.4 429.2,353.1 454.3,329.2 432.8,351.0 429.7,353.6 466.8,317.2 423.9,359.5 441.8,340.7 422.6,361.9 438.2,343.4 464.6,318.9 430.4,354.3 464.6,320.0 447.1,338.5 460.9,321.3 461.4,321.7 455.0,329.4 441.6,339.5 454.7,329.9 463.8,317.7 449.2,337.8 443.0,341.7 422.7,361.5 430.5,355.6 450.0,330.6 422.2,362.4 432.5,350.9 447.6,336.7 442.9,341.9 435.4,349.1 450.7,330.6 452.6,328.0 424.7,359.4 424.3,361.6 445.8,338.7 435.0,347.9 432.6,352.8 458.8,322.7 459.8,321.6 441.9,343.5 450.7,334.5 420.4,365.0 434.8,350.9 443.2,339.9 432.1,350.4 437.8,344.4 449.1,333.9 427.2,355.7 441.4,342.8 438.1,347.8 451.7,332.0 450.6,334.0 444.3,341.8 437.5,344.4 421.1,364.1 456.4,326.1 460.6,322.7 463.0,321.4 453.8,329.6 457.4,323.4 458.4,325.3 454.9,328.3 435.0,351.2 466.4,318.0 448.4,338.5 443.7,338.2 460.2,323.1 436.0,346.7 458.0,324.6 456.5,328.8 452.1,330.6 430.7,352.8 427.9,358.7 448.3,332.9 450.9,335.1 466.4,315.5 425.2,359.4 459.6,325.6 420.6,365.5 423.1,362.9 432.4,349.3 421.2,364.2 427.7,357.1 448.9,335.9 422.3,361.7 437.3,346.0 432.7,349.7 460.9,320.3 421.9,363.2 439.8,341.4 447.2,334.8 462.5,320.0 459.9,326.1 446.6,339.6 432.7,351.3 429.8,355.6 439.5,343.4 465.5,316.7 452.3,329.5 467.4,315.6 441.6,341.7 436.5,346.8 422.4,364.3 450.1,331.1 439.0,345.1 428.5,354.4 432.8,354.6 448.0,338.2 461.6,321.8 466.7,316.0 455.8,328.9 423.1,360.3 443.8,338.9 457.2,325.3 452.5,328.3 460.6,321.4 459.7,321.5 458.2,325.8 462.3,320.9 424.7,359.7 452.2,333.5 438.4,343.7 465.8,317.1 458.2,326.0 456.8,324.7 429.9,352.5 454.6,330.9 447.9,332.9 432.8,351.3 462.8,321.1 463.5,320.4 466.1,315.7 450.8,334.2 451.0,334.3 465.3,316.5 438.1,347.9 441.9,341.5 451.7,329.7 420.6,364.1 445.6,335.2 443.8,337.6 422.5,363.3 458.8,323.4 427.9,357.3 420.8,363.5 460.6,323.7 457.3,327.5 447.8,333.5 457.9,323.6 458.5,327.5 442.1,344.5 425.2,360.3 424.7,361.6 464.1,321.2 443.8,337.8 456.7,327.0 449.4,332.4 445.7,336.6 437.0,348.1 443.9,338.0 422.7,362.4 450.9,335.8 453.4,332.2 446.8,336.3 456.0,328.0 467.1,317.5 439.4,341.8 434.1,348.5 455.3,327.1 424.3,360.4 434.5,347.9 432.1,350.1 449.2,333.0 457.5,324.2 427.1,355.5 442.0,342.3 440.9,344.6 443.5,340.1 456.6,329.5 432.0,353.3 434.3,350.1 450.4,330.5 461.1,323.2 423.6,359.8 466.8,315.6 441.8,340.0 454.1,326.5 457.6,324.6 455.3,329.5 429.3,353.4 467.7,315.9 437.3,344.9 458.7,324.7 436.9,344.3 463.4,319.4 455.2,325.7 450.0,333.3 422.7,360.9 436.8,345.2 431.3,352.7 441.8,342.7 436.0,345.5 456.3,327.5 430.6,351.5 434.7,346.8 429.1,354.8 453.8,329.4 464.5,317.4 433.4,350.4 452.7,330.2 448.0,336.5 421.9,363.3 435.6,346.0 461.7,321.0 432.2,349.7 450.9,333.6 458.1,325.8 460.1,322.3 443.4,342.0 438.7,346.2 421.8,363.0 444.1,338.6 463.0,321.4 461.9,320.7 453.2,329.6 430.8,353.3 461.9,323.0 425.5,358.8 434.3,347.7 444.7,337.3 447.5,340.0 438.0,343.7 420.5,363.8 446.0,339.9 426.8,357.8 436.4,346.1 428.0,355.2 424.5,360.5 466.0,316.0 444.0,337.4 433.9,348.7 436.2,346.8 459.0,324.9 460.9,321.3 426.0,358.9 430.8,353.7 453.7,328.4 422.4,362.1 446.6,337.0 422.6,363.0 435.3,346.9 429.4,352.7 430.6,354.1 435.6,350.0 461.8,321.2 439.8,344.4 449.8,331.0 465.6,316.2 429.6,353.6 466.4,317.0 420.7,364.8 425.6,359.4 434.6,348.4 459.0,323.5 446.0,337.4 420.5,365.6 454.6,330.9 456.0,325.0 459.3,325.2 443.6,341.2 459.1,322.8 437.6,343.6 421.4,363.5 467.0,316.5 421.8,363.6 465.3,318.0 462.9,319.7 458.1,322.9 459.0,322.9" fill="none" stroke="none" marker-start="url(#p0)" marker-mid="url(#p0)" marker-end="url(#p0)"/><polyline points="435.7,346.2 462.8,318.8 448.3,333.7 448.7,332.4 443.1,338.1 463.4,318.1 461.3,320.5 430.8,351.4 461.5,321.8 450.5,332.7 462.6,321.1 449.9,331.3 456.6,326.2 420.9,363.5 428.9,353.6 450.7,331.6 462.5,319.0 420.4,364.5 452.7,329.1 431.8,350.3 424.8,358.2 447.2,335.0 420.4,363.8 437.4,345.4 435.4,346.2 431.7,350.2 423.6,359.8 454.5,326.3 463.3,318.6 467.5,315.4 427.2,355.3 455.0,325.6 451.2,329.9 440.7,340.3 427.6,354.9 467.3,315.7 460.9,320.7 441.1,340.4 421.1,363.0 462.1,320.1 448.2,332.8 434.0,348.5 426.3,356.4 424.2,359.0 440.5,340.7 464.6,318.6 466.3,315.6 431.8,350.3 425.7,358.9 449.5,332.8 445.0,337.2 440.6,340.7 455.4,326.6 446.2,335.3 443.8,337.2 423.7,359.7 439.8,341.4 433.2,348.8 464.7,318.0 459.1,322.3 452.0,328.5 422.6,361.1 446.1,335.0 452.2,329.0 436.8,346.3 435.7,346.0 431.8,350.9 435.3,346.6 434.7,347.7 463.4,319.0 446.6,335.8 458.7,322.5 437.9,343.7 446.1,336.0 424.1,359.6 465.0,316.6 434.2,347.3 428.0,354.6 456.5,324.7 465.7,316.9 464.8,317.1 452.3,329.9 422.4,362.5 422.4,361.1 461.5,320.2 446.1,335.0 439.9,341.5 455.6,327.1 449.7,332.8 445.4,336.1 465.4,316.6 456.9,324.7 443.5,339.7 458.4,323.9 465.9,316.6 438.0,344.3 433.0,348.5 464.3,317.3 432.0,349.9 424.6,358.6 453.0,329.7 436.9,345.3 448.2,332.7 448.7,332.1 449.7,331.3 431.4,351.5 436.0,345.9 428.8,353.4 451.7,328.8 454.7,326.2 422.2,361.7 450.6,329.9 438.1,343.2 461.5,320.8 443.9,337.1 460.0,321.6 460.5,320.8 426.9,355.7 456.3,325.5 454.0,326.7 442.3,340.9 456.1,327.3 452.0,329.0 449.3,332.3 439.5,341.8 429.3,352.7 446.7,336.1 431.6,351.4 465.7,316.1 447.6,334.0 439.2,342.2 436.1,345.3 421.0,363.5 436.4,346.3 433.4,348.3 436.9,344.4 425.9,357.4 434.7,346.9 460.7,320.7 449.7,331.2 444.2,336.8 453.2,327.5 466.8,315.6 433.4,348.2 428.1,355.0 455.2,325.6 448.1,333.2 459.7,321.5 439.4,341.7 438.7,342.7 438.6,342.9 467.3,316.1 430.6,354.0 442.1,340.1 422.9,361.2 456.3,325.2 450.5,330.6 426.5,357.1 426.4,356.5 435.7,346.2 467.1,315.3 436.0,346.9 457.4,323.8 440.4,342.0 465.5,316.3 466.9,315.2 441.8,339.9 458.8,322.2 459.9,322.3 423.8,360.6 464.4,317.2 427.9,355.9 431.6,351.0 431.9,350.1 462.9,320.1 438.1,344.8 459.0,322.0 440.7,341.8 425.5,357.4 420.7,365.2 445.3,335.9 437.5,344.1 440.0,341.5 435.8,345.9 443.2,337.7 453.1,327.8 430.3,352.3 437.7,344.9 455.1,325.4 457.2,324.8 426.3,356.6 429.4,352.6 428.4,354.9 460.4,320.8 437.1,344.1 438.5,342.9 447.3,333.6 435.3,348.6 432.4,349.7 427.3,356.3 459.8,321.4 430.4,353.6 454.9,327.3 420.7,363.9 430.6,352.3 465.9,316.1 424.5,359.3 440.3,341.0 443.4,338.0 442.0,338.9 442.0,340.6 436.9,344.6 460.0,321.3 461.0,320.4 461.9,320.6 463.7,318.5 437.6,344.0 437.7,346.2 448.8,332.1 442.3,339.1 465.7,318.9 452.0,329.8 456.6,324.6 438.5,342.8 463.6,319.5 425.4,358.5 432.1,349.5 441.7,340.0 427.6,354.8 439.7,341.7 465.2,317.8 443.1,337.7 449.0,331.7 451.1,329.9 429.0,353.3 434.3,347.3 455.1,326.4 452.0,328.7 434.2,347.6 436.3,345.9 455.8,325.9 467.0,316.0 450.5,330.2 435.7,346.1 432.0,349.8 428.3,354.9 441.0,340.4 426.7,356.2 422.7,360.7 452.0,328.7 466.4,315.4 421.8,363.3 420.2,363.9 445.0,335.9 442.0,340.8 464.0,318.0 430.7,352.2 427.6,356.5 425.7,357.0 466.3,315.7 429.1,353.1 426.7,355.9 435.7,346.0 423.2,361.4 450.4,330.3 435.0,346.6 442.3,338.9 461.0,320.2 452.7,328.0 424.9,358.1" fill="none" stroke="none" marker-start="url(#p1)" marker-mid="url(#p1)" marker-end="url(#p1)"/><polyline points="474.5,308.3 475.0,307.5 474.0,308.9 473.7,309.4 474.1,308.7" fill="none" stroke="none" marker-start="url(#p2)" marker-mid="url(#p2)" marker-end="url(#p2)"/>
<line x1="99.15" y1="80.10" x2="179.25" y2="0.35" stroke="#161616" stroke-width="1.05"/>
<line x1="98.65" y1="0.5" x2="179.75" y2="0.5" stroke="#222" stroke-width="1"/>
<rect x="99.15" y="0.35" width="80.10" height="79.75" fill="none" stroke="#303030" stroke-width="1"/>
<path d="M108.04 80.10v5.00M99.15 71.39h-5.00M123.62 80.10v5.00M99.15 55.80h-5.00M139.20 80.10v5.00M99.15 40.23h-5.00M154.78 80.10v5.00M99.15 24.65h-5.00M170.36 80.10v5.00M99.15 9.07h-5.00" stroke="#303030" stroke-width="1" fill="none"/>
<line x1="99.15" y1="181.50" x2="179.25" y2="101.75" stroke="#161616" stroke-width="1.05"/>
<rect x="99.15" y="101.75" width="80.10" height="79.75" fill="none" stroke="#303030" stroke-width="1"/>
<path d="M108.04 181.50v5.00M99.15 172.78h-5.00M123.62 181.50v5.00M99.15 157.21h-5.00M139.20 181.50v5.00M99.15 141.62h-5.00M154.78 181.50v5.00M99.15 126.05h-5.00M170.36 181.50v5.00M99.15 110.47h-5.00" stroke="#303030" stroke-width="1" fill="none"/>
<line x1="200.60" y1="181.50" x2="280.70" y2="101.75" stroke="#161616" stroke-width="1.05"/>
<rect x="200.60" y="101.75" width="80.10" height="79.75" fill="none" stroke="#303030" stroke-width="1"/>
<path d="M209.49 181.50v5.00M200.60 172.78h-5.00M225.07 181.50v5.00M200.60 157.21h-5.00M240.65 181.50v5.00M200.60 141.62h-5.00M256.23 181.50v5.00M200.60 126.05h-5.00M271.81 181.50v5.00M200.60 110.47h-5.00" stroke="#303030" stroke-width="1" fill="none"/>
<line x1="99.15" y1="282.90" x2="179.25" y2="203.15" stroke="#161616" stroke-width="1.05"/>
<rect x="99.15" y="203.15" width="80.10" height="79.75" fill="none" stroke="#303030" stroke-width="1"/>
<path d="M108.04 282.90v5.00M99.15 274.19h-5.00M123.62 282.90v5.00M99.15 258.61h-5.00M139.20 282.90v5.00M99.15 243.03h-5.00M154.78 282.90v5.00M99.15 227.44h-5.00M170.36 282.90v5.00M99.15 211.87h-5.00" stroke="#303030" stroke-width="1" fill="none"/>
<line x1="200.60" y1="282.90" x2="280.70" y2="203.15" stroke="#161616" stroke-width="1.05"/>
<rect x="200.60" y="203.15" width="80.10" height="79.75" fill="none" stroke="#303030" stroke-width="1"/>
<path d="M209.49 282.90v5.00M200.60 274.19h-5.00M225.07 282.90v5.00M200.60 258.61h-5.00M240.65 282.90v5.00M200.60 243.03h-5.00M256.23 282.90v5.00M200.60 227.44h-5.00M271.81 282.90v5.00M200.60 211.87h-5.00" stroke="#303030" stroke-width="1" fill="none"/>
<line x1="302.05" y1="282.90" x2="382.15" y2="203.15" stroke="#161616" stroke-width="1.05"/>
<rect x="302.05" y="203.15" width="80.10" height="79.75" fill="none" stroke="#303030" stroke-width="1"/>
<path d="M310.94 282.90v5.00M302.05 274.19h-5.00M326.52 282.90v5.00M302.05 258.61h-5.00M342.10 282.90v5.00M302.05 243.03h-5.00M357.68 282.90v5.00M302.05 227.44h-5.00M373.26 282.90v5.00M302.05 211.87h-5.00" stroke="#303030" stroke-width="1" fill="none"/>
<line x1="99.15" y1="384.30" x2="179.25" y2="304.55" stroke="#161616" stroke-width="1.05"/>
<rect x="99.15" y="304.55" width="80.10" height="79.75" fill="none" stroke="#303030" stroke-width="1"/>
<path d="M108.04 384.30v5.00M99.15 375.59h-5.00M123.62 384.30v5.00M99.15 360.01h-5.00M139.20 384.30v5.00M99.15 344.43h-5.00M154.78 384.30v5.00M99.15 328.85h-5.00M170.36 384.30v5.00M99.15 313.27h-5.00" stroke="#303030" stroke-width="1" fill="none"/>
<line x1="200.60" y1="384.30" x2="280.70" y2="304.55" stroke="#161616" stroke-width="1.05"/>
<rect x="200.60" y="304.55" width="80.10" height="79.75" fill="none" stroke="#303030" stroke-width="1"/>
<path d="M209.49 384.30v5.00M200.60 375.59h-5.00M225.07 384.30v5.00M200.60 360.01h-5.00M240.65 384.30v5.00M200.60 344.43h-5.00M256.23 384.30v5.00M200.60 328.85h-5.00M271.81 384.30v5.00M200.60 313.27h-5.00" stroke="#303030" stroke-width="1" fill="none"/>
<line x1="302.05" y1="384.30" x2="382.15" y2="304.55" stroke="#161616" stroke-width="1.05"/>
<rect x="302.05" y="304.55" width="80.10" height="79.75" fill="none" stroke="#303030" stroke-width="1"/>
<path d="M310.94 384.30v5.00M302.05 375.59h-5.00M326.52 384.30v5.00M302.05 360.01h-5.00M342.10 384.30v5.00M302.05 344.43h-5.00M357.68 384.30v5.00M302.05 328.85h-5.00M373.26 384.30v5.00M302.05 313.27h-5.00" stroke="#303030" stroke-width="1" fill="none"/>
<line x1="403.50" y1="384.30" x2="483.60" y2="304.55" stroke="#161616" stroke-width="1.05"/>
<rect x="403.50" y="304.55" width="80.10" height="79.75" fill="none" stroke="#303030" stroke-width="1"/>
<path d="M412.39 384.30v5.00M403.50 375.59h-5.00M427.97 384.30v5.00M403.50 360.01h-5.00M443.55 384.30v5.00M403.50 344.43h-5.00M459.13 384.30v5.00M403.50 328.85h-5.00M474.71 384.30v5.00M403.50 313.27h-5.00" stroke="#303030" stroke-width="1" fill="none"/>
<filter id="nf" x="0" y="0" width="100%" height="100%" filterUnits="userSpaceOnUse"><feOffset dx="0" dy="0"/></filter>
<g filter="url(#nf)"><text class="t" x="108.04" y="97.70" text-anchor="middle">-4</text><text class="t" transform="translate(87.75 71.39) rotate(-90)" text-anchor="middle">-4</text><text class="t" x="123.62" y="97.70" text-anchor="middle">-2</text><text class="t" transform="translate(87.75 55.80) rotate(-90)" text-anchor="middle">-2</text><text class="t" x="139.20" y="97.70" text-anchor="middle">0</text><text class="t" transform="translate(87.75 40.23) rotate(-90)" text-anchor="middle">0</text><text class="t" x="154.78" y="97.70" text-anchor="middle">2</text><text class="t" transform="translate(87.75 24.65) rotate(-90)" text-anchor="middle">2</text><text class="t" x="170.36" y="97.70" text-anchor="middle">4</text><text class="t" transform="translate(87.75 9.07) rotate(-90)" text-anchor="middle">4</text><text class="c" x="100.60" y="13.25">0.699</text><text class="t" x="108.04" y="199.10" text-anchor="middle">-4</text><text class="t" transform="translate(87.75 172.78) rotate(-90)" text-anchor="middle">-4</text><text class="t" x="123.62" y="199.10" text-anchor="middle">-2</text><text class="t" transform="translate(87.75 157.21) rotate(-90)" text-anchor="middle">-2</text><text class="t" x="139.20" y="199.10" text-anchor="middle">0</text><text class="t" transform="translate(87.75 141.62) rotate(-90)" text-anchor="middle">0</text><text class="t" x="154.78" y="199.10" text-anchor="middle">2</text><text class="t" transform="translate(87.75 126.05) rotate(-90)" text-anchor="middle">2</text><text class="t" x="170.36" y="199.10" text-anchor="middle">4</text><text class="t" transform="translate(87.75 110.47) rotate(-90)" text-anchor="middle">4</text><text class="c" x="100.60" y="114.65">0.729</text><text class="t" x="209.49" y="199.10" text-anchor="middle">-4</text><text class="t" transform="translate(189.20 172.78) rotate(-90)" text-anchor="middle">-4</text><text class="t" x="225.07" y="199.10" text-anchor="middle">-2</text><text class="t" transform="translate(189.20 157.21) rotate(-90)" text-anchor="middle">-2</text><text class="t" x="240.65" y="199.10" text-anchor="middle">0</text><text class="t" transform="translate(189.20 141.62) rotate(-90)" text-anchor="middle">0</text><text class="t" x="256.23" y="199.10" text-anchor="middle">2</text><text class="t" transform="translate(189.20 126.05) rotate(-90)" text-anchor="middle">2</text><text class="t" x="271.81" y="199.10" text-anchor="middle">4</text><text class="t" transform="translate(189.20 110.47) rotate(-90)" text-anchor="middle">4</text><text class="c" x="202.05" y="114.65">0.986</text><text class="t" x="108.04" y="300.50" text-anchor="middle">-4</text><text class="t" transform="translate(87.75 274.19) rotate(-90)" text-anchor="middle">-4</text><text class="t" x="123.62" y="300.50" text-anchor="middle">-2</text><text class="t" transform="translate(87.75 258.61) rotate(-90)" text-anchor="middle">-2</text><text class="t" x="139.20" y="300.50" text-anchor="middle">0</text><text class="t" transform="translate(87.75 243.03) rotate(-90)" text-anchor="middle">0</text><text class="t" x="154.78" y="300.50" text-anchor="middle">2</text><text class="t" transform="translate(87.75 227.44) rotate(-90)" text-anchor="middle">2</text><text class="t" x="170.36" y="300.50" text-anchor="middle">4</text><text class="t" transform="translate(87.75 211.87) rotate(-90)" text-anchor="middle">4</text><text class="c" x="103.90" y="216.05">0.74</text><text class="t" x="209.49" y="300.50" text-anchor="middle">-4</text><text class="t" transform="translate(189.20 274.19) rotate(-90)" text-anchor="middle">-4</text><text class="t" x="225.07" y="300.50" text-anchor="middle">-2</text><text class="t" transform="translate(189.20 258.61) rotate(-90)" text-anchor="middle">-2</text><text class="t" x="240.65" y="300.50" text-anchor="middle">0</text><text class="t" transform="translate(189.20 243.03) rotate(-90)" text-anchor="middle">0</text><text class="t" x="256.23" y="300.50" text-anchor="middle">2</text><text class="t" transform="translate(189.20 227.44) rotate(-90)" text-anchor="middle">2</text><text class="t" x="271.81" y="300.50" text-anchor="middle">4</text><text class="t" transform="translate(189.20 211.87) rotate(-90)" text-anchor="middle">4</text><text class="c" x="202.05" y="216.05">0.989</text><text class="t" x="310.94" y="300.50" text-anchor="middle">-4</text><text class="t" transform="translate(290.65 274.19) rotate(-90)" text-anchor="middle">-4</text><text class="t" x="326.52" y="300.50" text-anchor="middle">-2</text><text class="t" transform="translate(290.65 258.61) rotate(-90)" text-anchor="middle">-2</text><text class="t" x="342.10" y="300.50" text-anchor="middle">0</text><text class="t" transform="translate(290.65 243.03) rotate(-90)" text-anchor="middle">0</text><text class="t" x="357.68" y="300.50" text-anchor="middle">2</text><text class="t" transform="translate(290.65 227.44) rotate(-90)" text-anchor="middle">2</text><text class="t" x="373.26" y="300.50" text-anchor="middle">4</text><text class="t" transform="translate(290.65 211.87) rotate(-90)" text-anchor="middle">4</text><text class="c" x="303.50" y="216.05">0.991</text><text class="t" x="108.04" y="401.90" text-anchor="middle">-4</text><text class="t" transform="translate(87.75 375.59) rotate(-90)" text-anchor="middle">-4</text><text class="t" x="123.62" y="401.90" text-anchor="middle">-2</text><text class="t" transform="translate(87.75 360.01) rotate(-90)" text-anchor="middle">-2</text><text class="t" x="139.20" y="401.90" text-anchor="middle">0</text><text class="t" transform="translate(87.75 344.43) rotate(-90)" text-anchor="middle">0</text><text class="t" x="154.78" y="401.90" text-anchor="middle">2</text><text class="t" transform="translate(87.75 328.85) rotate(-90)" text-anchor="middle">2</text><text class="t" x="170.36" y="401.90" text-anchor="middle">4</text><text class="t" transform="translate(87.75 313.27) rotate(-90)" text-anchor="middle">4</text><text class="c" x="100.60" y="317.45">0.741</text><text class="t" x="209.49" y="401.90" text-anchor="middle">-4</text><text class="t" transform="translate(189.20 375.59) rotate(-90)" text-anchor="middle">-4</text><text class="t" x="225.07" y="401.90" text-anchor="middle">-2</text><text class="t" transform="translate(189.20 360.01) rotate(-90)" text-anchor="middle">-2</text><text class="t" x="240.65" y="401.90" text-anchor="middle">0</text><text class="t" transform="translate(189.20 344.43) rotate(-90)" text-anchor="middle">0</text><text class="t" x="256.23" y="401.90" text-anchor="middle">2</text><text class="t" transform="translate(189.20 328.85) rotate(-90)" text-anchor="middle">2</text><text class="t" x="271.81" y="401.90" text-anchor="middle">4</text><text class="t" transform="translate(189.20 313.27) rotate(-90)" text-anchor="middle">4</text><text class="c" x="202.05" y="317.45">0.953</text><text class="t" x="310.94" y="401.90" text-anchor="middle">-4</text><text class="t" transform="translate(290.65 375.59) rotate(-90)" text-anchor="middle">-4</text><text class="t" x="326.52" y="401.90" text-anchor="middle">-2</text><text class="t" transform="translate(290.65 360.01) rotate(-90)" text-anchor="middle">-2</text><text class="t" x="342.10" y="401.90" text-anchor="middle">0</text><text class="t" transform="translate(290.65 344.43) rotate(-90)" text-anchor="middle">0</text><text class="t" x="357.68" y="401.90" text-anchor="middle">2</text><text class="t" transform="translate(290.65 328.85) rotate(-90)" text-anchor="middle">2</text><text class="t" x="373.26" y="401.90" text-anchor="middle">4</text><text class="t" transform="translate(290.65 313.27) rotate(-90)" text-anchor="middle">4</text><text class="c" x="303.50" y="317.45">0.975</text><text class="t" x="412.39" y="401.90" text-anchor="middle">-4</text><text class="t" transform="translate(392.10 375.59) rotate(-90)" text-anchor="middle">-4</text><text class="t" x="427.97" y="401.90" text-anchor="middle">-2</text><text class="t" transform="translate(392.10 360.01) rotate(-90)" text-anchor="middle">-2</text><text class="t" x="443.55" y="401.90" text-anchor="middle">0</text><text class="t" transform="translate(392.10 344.43) rotate(-90)" text-anchor="middle">0</text><text class="t" x="459.13" y="401.90" text-anchor="middle">2</text><text class="t" transform="translate(392.10 328.85) rotate(-90)" text-anchor="middle">2</text><text class="t" x="474.71" y="401.90" text-anchor="middle">4</text><text class="t" transform="translate(392.10 313.27) rotate(-90)" text-anchor="middle">4</text><text class="c" x="404.95" y="317.45">0.968</text><text class="i" x="13.45" y="11.35">Constant</text><text class="i" x="13.45" y="25.75">Standard</text><text class="s" x="37.60" y="47.45" text-anchor="middle">Standards-based</text><text class="s" x="37.60" y="59.25" text-anchor="middle">variables only</text><text class="i" x="9.40" y="112.25">All Varying</text><text class="i" x="9.40" y="126.65">Standard</text><text class="s" x="37.60" y="154.75" text-anchor="middle">All variables</text><text class="i" x="13.45" y="214.65">Constant</text><text class="i" x="13.45" y="229.05">Standard</text><text class="s" x="37.60" y="256.15" text-anchor="middle">All variables</text><text class="i" x="12.15" y="314.65">Changing</text><text class="i" x="12.15" y="329.05">Standard</text><text class="s" x="37.60" y="357.55" text-anchor="middle">All variables</text><text class="i" x="115.05" y="426.30">Constant</text><text class="i" x="115.05" y="440.40">Standard</text><text class="s" x="139.20" y="462.20" text-anchor="middle">Events-based</text><text class="s" x="139.20" y="473.60" text-anchor="middle">variables only</text><text class="i" x="216.50" y="426.30">Constant</text><text class="i" x="216.50" y="440.40">Standard</text><text class="s" x="240.65" y="462.20" text-anchor="middle">Standards-based</text><text class="s" x="240.65" y="473.60" text-anchor="middle">variables only</text><text class="i" x="313.90" y="425.30">All Varying</text><text class="i" x="313.90" y="439.40">Standard</text><text class="s" x="342.10" y="467.80" text-anchor="middle">All variables</text><text class="i" x="419.40" y="426.30">Constant</text><text class="i" x="419.40" y="440.40">Standard</text><text class="s" x="443.55" y="467.80" text-anchor="middle">All variables</text></g>
</svg>
</body></html>
